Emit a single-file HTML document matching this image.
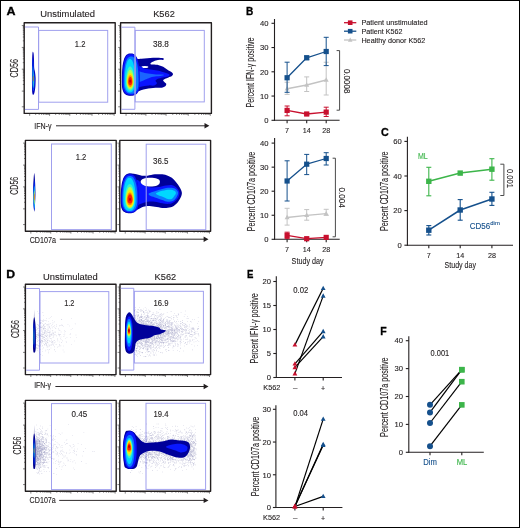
<!DOCTYPE html>
<html><head><meta charset="utf-8"><style>
html,body{margin:0;padding:0;background:#fff;}
body{width:520px;height:528px;overflow:hidden;}
svg{display:block;font-family:"Liberation Sans", sans-serif;will-change:transform;}
</style></head><body>
<svg width="520" height="528" viewBox="0 0 520 528">
<rect x="0" y="0" width="520" height="528" fill="#fff"/>
<text x="6.61" y="15.45" font-size="11" font-weight="bold" fill="#000" stroke="#000" stroke-width="0.3" textLength="9.03" lengthAdjust="spacingAndGlyphs">A</text>
<text x="246.07" y="15.3" font-size="11" font-weight="bold" fill="#000" stroke="#000" stroke-width="0.3" textLength="7.3" lengthAdjust="spacingAndGlyphs">B</text>
<text x="381.03" y="136.46" font-size="11" font-weight="bold" fill="#000" stroke="#000" stroke-width="0.3" textLength="7.75" lengthAdjust="spacingAndGlyphs">C</text>
<text x="6.34" y="278.0" font-size="11" font-weight="bold" fill="#000" stroke="#000" stroke-width="0.3" textLength="8.85" lengthAdjust="spacingAndGlyphs">D</text>
<text x="246.94" y="277.59" font-size="11" font-weight="bold" fill="#000" stroke="#000" stroke-width="0.3" textLength="6.4" lengthAdjust="spacingAndGlyphs">E</text>
<text x="380.37" y="334.73" font-size="11" font-weight="bold" fill="#000" stroke="#000" stroke-width="0.3" textLength="6.44" lengthAdjust="spacingAndGlyphs">F</text>
<text x="40.20" y="17.00" font-size="9.2" font-weight="normal" fill="#231f20" stroke="#231f20" stroke-width="0.12" text-anchor="start" textLength="54.80" lengthAdjust="spacingAndGlyphs">Unstimulated</text>
<text x="153.20" y="17.00" font-size="9.2" font-weight="normal" fill="#231f20" stroke="#231f20" stroke-width="0.12" text-anchor="start" textLength="21.60" lengthAdjust="spacingAndGlyphs">K562</text>
<path d="M21.80 25.52H24.20M21.80 47.44H24.20M21.80 69.19H24.20M21.80 91.11H24.20M21.80 106.79H24.20M22.80 40.84H24.20M22.80 36.98H24.20M22.80 34.24H24.20M22.80 32.12H24.20M22.80 30.38H24.20M22.80 28.91H24.20M22.80 27.64H24.20M22.80 26.52H24.20M22.80 62.64H24.20M22.80 58.81H24.20M22.80 56.10H24.20M22.80 53.99H24.20M22.80 52.27H24.20M22.80 50.81H24.20M22.80 49.55H24.20M22.80 48.44H24.20M22.80 84.51H24.20M22.80 80.65H24.20M22.80 77.91H24.20M22.80 75.79H24.20M22.80 74.05H24.20M22.80 72.58H24.20M22.80 71.31H24.20M22.80 70.19H24.20M29.66 113.40V115.80M49.59 113.40V115.80M69.79 113.40V115.80M92.00 113.40V115.80M114.11 113.40V115.80M35.66 113.40V114.90M39.17 113.40V114.90M41.66 113.40V114.90M43.59 113.40V114.90M45.17 113.40V114.90M46.50 113.40V114.90M47.66 113.40V114.90M48.68 113.40V114.90M55.67 113.40V114.90M59.23 113.40V114.90M61.75 113.40V114.90M63.71 113.40V114.90M65.31 113.40V114.90M66.66 113.40V114.90M67.83 113.40V114.90M68.87 113.40V114.90M76.48 113.40V114.90M80.39 113.40V114.90M83.16 113.40V114.90M85.31 113.40V114.90M87.07 113.40V114.90M88.56 113.40V114.90M89.84 113.40V114.90M90.98 113.40V114.90M98.65 113.40V114.90M102.55 113.40V114.90M105.31 113.40V114.90M107.45 113.40V114.90M109.20 113.40V114.90M110.68 113.40V114.90M111.97 113.40V114.90M113.10 113.40V114.90" stroke="#333" stroke-width="0.6" fill="none"/>
<path d="M24.20 113.40 V22.80 H115.20 V113.40 Z" fill="none" stroke="#231f20" stroke-width="1.4" stroke-linejoin="round"/>
<path d="M32.60 52.30 C32.85 51.22 33.37 52.22 33.60 53.50 C33.83 54.78 33.90 57.58 34.00 60.00 C34.10 62.42 34.03 66.00 34.20 68.00 C34.37 70.00 34.77 70.33 35.00 72.00 C35.23 73.67 35.53 75.67 35.60 78.00 C35.67 80.33 35.57 83.67 35.40 86.00 C35.23 88.33 34.93 90.53 34.60 92.00 C34.27 93.47 33.78 94.63 33.40 94.80 C33.02 94.97 32.53 94.63 32.30 93.00 C32.07 91.37 32.05 88.83 32.00 85.00 C31.95 81.17 31.98 74.17 32.00 70.00 C32.02 65.83 32.00 62.95 32.10 60.00 C32.20 57.05 32.35 53.38 32.60 52.30Z" fill="#0000b4"/>
<path d="M32.80 58.00 C32.95 58.00 33.23 60.00 33.40 62.00 C33.57 64.00 33.60 67.67 33.80 70.00 C34.00 72.33 34.43 74.00 34.60 76.00 C34.77 78.00 34.87 79.83 34.80 82.00 C34.73 84.17 34.47 87.50 34.20 89.00 C33.93 90.50 33.48 91.50 33.20 91.00 C32.92 90.50 32.63 89.17 32.50 86.00 C32.37 82.83 32.40 76.00 32.40 72.00 C32.40 68.00 32.43 64.33 32.50 62.00 C32.57 59.67 32.65 58.00 32.80 58.00Z" fill="#0a3cff"/>
<path d="M32.90 66.00 C33.05 65.67 33.28 70.00 33.50 72.00 C33.72 74.00 34.12 75.83 34.20 78.00 C34.28 80.17 34.17 83.33 34.00 85.00 C33.83 86.67 33.42 88.17 33.20 88.00 C32.98 87.83 32.80 86.33 32.70 84.00 C32.60 81.67 32.57 77.00 32.60 74.00 C32.63 71.00 32.75 66.33 32.90 66.00Z" fill="#20b8e0"/>
<ellipse cx="33.30" cy="78.50" rx="0.60" ry="3.00" fill="#908058"/>
<path d="M24.90 27.00H38.50V109.40H24.90" fill="none" stroke="#a0a0ee" stroke-width="1"/>
<rect x="38.70" y="30.40" width="69.00" height="71.80" fill="none" stroke="#a0a0ee" stroke-width="1"/>
<text x="74.80" y="46.80" font-size="8.6" font-weight="normal" fill="#231f20" stroke="#231f20" stroke-width="0.12" text-anchor="start" textLength="10.60" lengthAdjust="spacingAndGlyphs">1.2</text>
<path d="M118.20 25.52H120.60M118.20 47.44H120.60M118.20 69.19H120.60M118.20 91.11H120.60M118.20 106.79H120.60M119.20 40.84H120.60M119.20 36.98H120.60M119.20 34.24H120.60M119.20 32.12H120.60M119.20 30.38H120.60M119.20 28.91H120.60M119.20 27.64H120.60M119.20 26.52H120.60M119.20 62.64H120.60M119.20 58.81H120.60M119.20 56.10H120.60M119.20 53.99H120.60M119.20 52.27H120.60M119.20 50.81H120.60M119.20 49.55H120.60M119.20 48.44H120.60M119.20 84.51H120.60M119.20 80.65H120.60M119.20 77.91H120.60M119.20 75.79H120.60M119.20 74.05H120.60M119.20 72.58H120.60M119.20 71.31H120.60M119.20 70.19H120.60M126.05 113.40V115.80M145.93 113.40V115.80M166.09 113.40V115.80M188.25 113.40V115.80M210.31 113.40V115.80M132.03 113.40V114.90M135.54 113.40V114.90M138.02 113.40V114.90M139.95 113.40V114.90M141.52 113.40V114.90M142.85 113.40V114.90M144.01 113.40V114.90M145.02 113.40V114.90M152.00 113.40V114.90M155.55 113.40V114.90M158.07 113.40V114.90M160.02 113.40V114.90M161.62 113.40V114.90M162.97 113.40V114.90M164.14 113.40V114.90M165.17 113.40V114.90M172.76 113.40V114.90M176.66 113.40V114.90M179.43 113.40V114.90M181.58 113.40V114.90M183.33 113.40V114.90M184.81 113.40V114.90M186.10 113.40V114.90M187.23 113.40V114.90M194.89 113.40V114.90M198.77 113.40V114.90M201.53 113.40V114.90M203.67 113.40V114.90M205.42 113.40V114.90M206.89 113.40V114.90M208.17 113.40V114.90M209.30 113.40V114.90" stroke="#333" stroke-width="0.6" fill="none"/>
<path d="M120.60 113.40 V22.80 H211.40 V113.40 Z" fill="none" stroke="#231f20" stroke-width="1.4" stroke-linejoin="round"/>
<path d="M134.33 55.58 C135.53 56.30 136.01 58.11 137.21 58.65 C138.41 59.20 139.86 58.91 141.54 58.85 C143.22 58.78 145.38 58.46 147.31 58.27 C149.23 58.08 151.15 57.79 153.08 57.69 C155.00 57.60 157.32 57.63 158.85 57.69 C160.37 57.76 161.38 57.88 162.21 58.08 C163.04 58.27 163.69 58.54 163.85 58.85 C164.01 59.15 163.85 59.74 163.17 59.90 C162.50 60.06 161.01 59.73 159.81 59.81 C158.61 59.89 157.24 60.02 155.96 60.38 C154.68 60.75 153.04 61.43 152.12 62.02 C151.19 62.61 150.22 63.51 150.38 63.94 C150.54 64.38 151.67 64.41 153.08 64.62 C154.49 64.82 157.16 64.82 158.85 65.19 C160.53 65.56 161.73 66.07 163.17 66.83 C164.62 67.58 166.14 68.83 167.50 69.71 C168.86 70.59 170.43 71.39 171.35 72.12 C172.26 72.84 172.90 73.40 172.98 74.04 C173.06 74.68 172.58 75.40 171.83 75.96 C171.07 76.52 169.58 76.92 168.46 77.40 C167.34 77.88 165.98 78.32 165.10 78.85 C164.21 79.38 163.25 80.02 163.17 80.58 C163.09 81.14 164.10 81.67 164.62 82.21 C165.13 82.76 166.09 83.21 166.25 83.85 C166.41 84.49 166.17 85.45 165.58 86.06 C164.98 86.67 163.97 87.21 162.69 87.50 C161.41 87.79 159.49 87.71 157.88 87.79 C156.28 87.87 154.68 87.87 153.08 87.98 C151.47 88.09 149.87 88.19 148.27 88.46 C146.67 88.73 145.06 89.13 143.46 89.62 C141.86 90.10 140.02 90.74 138.65 91.35 C137.29 91.96 136.73 92.63 135.29 93.27 C133.85 93.91 131.84 95.51 130.00 95.19 C128.16 94.87 125.43 94.07 124.23 91.35 C123.03 88.62 122.79 83.81 122.79 78.85 C122.79 73.88 123.03 65.62 124.23 61.54 C125.43 57.45 128.32 55.32 130.00 54.33 C131.68 53.33 133.12 54.86 134.33 55.58Z" fill="#00009a"/>
<ellipse cx="144.90" cy="66.90" rx="3.40" ry="1.00" fill="#ffffff"/>
<path d="M133.85 64.42 C134.81 60.82 137.69 65.62 139.62 66.35 C141.54 67.07 143.30 68.19 145.38 68.75 C147.47 69.31 149.87 69.39 152.12 69.71 C154.36 70.03 156.76 70.19 158.85 70.67 C160.93 71.15 162.85 71.96 164.62 72.60 C166.38 73.24 168.86 73.88 169.42 74.52 C169.98 75.16 169.10 75.96 167.98 76.44 C166.86 76.92 164.38 77.00 162.69 77.40 C161.01 77.80 159.09 78.29 157.88 78.85 C156.68 79.41 155.64 80.05 155.48 80.77 C155.32 81.49 157.16 82.37 156.92 83.17 C156.68 83.97 155.32 85.21 154.04 85.58 C152.76 85.95 150.83 85.30 149.23 85.38 C147.63 85.46 146.03 85.79 144.42 86.06 C142.82 86.33 141.38 86.70 139.62 87.02 C137.85 87.34 134.81 91.75 133.85 87.98 C132.88 84.21 132.88 68.03 133.85 64.42Z" fill="#0a14ff"/>
<path d="M133.85 70.38 C134.97 68.48 138.49 71.25 140.58 71.73 C142.66 72.21 144.10 72.87 146.35 73.27 C148.59 73.67 151.47 73.93 154.04 74.13 C156.60 74.34 160.06 74.38 161.73 74.52 C163.40 74.66 164.04 74.81 164.04 75.00 C164.04 75.19 163.24 75.42 161.73 75.67 C160.22 75.93 157.08 76.17 155.00 76.54 C152.92 76.91 150.83 77.37 149.23 77.88 C147.63 78.40 146.67 79.04 145.38 79.62 C144.10 80.19 142.82 80.87 141.54 81.35 C140.26 81.83 138.97 82.20 137.69 82.50 C136.41 82.80 134.49 85.19 133.85 83.17 C133.21 81.15 132.72 72.29 133.85 70.38Z" fill="#1a64ff"/>
<path d="M139.50 82.00 L139.47 84.61 L139.38 86.26 L139.23 87.66 L139.02 88.90 L138.74 90.01 L138.41 91.00 L138.02 91.90 L137.57 92.70 L137.06 93.40 L136.48 94.01 L135.84 94.52 L135.13 94.95 L134.34 95.28 L133.44 95.51 L132.37 95.65 L130.70 95.70 L129.03 95.65 L127.96 95.51 L127.06 95.28 L126.27 94.95 L125.56 94.52 L124.92 94.01 L124.34 93.40 L123.83 92.70 L123.38 91.90 L122.99 91.00 L122.66 90.01 L122.38 88.90 L122.17 87.66 L122.02 86.26 L121.93 84.61 L121.90 82.00 L121.93 76.58 L122.02 73.13 L122.17 70.22 L122.38 67.65 L122.66 65.34 L122.99 63.27 L123.38 61.41 L123.83 59.75 L124.34 58.29 L124.92 57.02 L125.56 55.95 L126.27 55.07 L127.06 54.38 L127.96 53.89 L129.03 53.60 L130.70 53.50 L132.37 53.60 L133.44 53.89 L134.34 54.38 L135.13 55.07 L135.84 55.95 L136.48 57.02 L137.06 58.29 L137.57 59.75 L138.02 61.41 L138.41 63.27 L138.74 65.34 L139.02 67.65 L139.23 70.22 L139.38 73.13 L139.47 76.58Z" fill="#0000b0"/>
<path d="M139.50 82.00 L139.47 84.47 L139.38 86.05 L139.24 87.37 L139.04 88.55 L138.77 89.60 L138.46 90.54 L138.08 91.39 L137.65 92.15 L137.15 92.82 L136.60 93.39 L135.99 93.88 L135.30 94.29 L134.54 94.60 L133.68 94.82 L132.66 94.96 L131.05 95.00 L129.44 94.96 L128.42 94.82 L127.56 94.60 L126.80 94.29 L126.11 93.88 L125.50 93.39 L124.95 92.82 L124.45 92.15 L124.02 91.39 L123.64 90.54 L123.33 89.60 L123.06 88.55 L122.86 87.37 L122.72 86.05 L122.63 84.47 L122.60 82.00 L122.63 76.71 L122.72 73.35 L122.86 70.51 L123.06 68.00 L123.33 65.75 L123.64 63.73 L124.02 61.91 L124.45 60.30 L124.95 58.87 L125.50 57.63 L126.11 56.59 L126.80 55.73 L127.56 55.06 L128.42 54.58 L129.44 54.30 L131.05 54.20 L132.66 54.30 L133.68 54.58 L134.54 55.06 L135.30 55.73 L135.99 56.59 L136.60 57.63 L137.15 58.87 L137.65 60.30 L138.08 61.91 L138.46 63.73 L138.77 65.75 L139.04 68.00 L139.24 70.51 L139.38 73.35 L139.47 76.71Z" fill="#0a14ff"/>
<path d="M138.50 82.00 L138.47 83.84 L138.39 85.19 L138.25 86.39 L138.05 87.47 L137.80 88.47 L137.49 89.37 L137.13 90.20 L136.72 90.94 L136.26 91.60 L135.74 92.18 L135.18 92.67 L134.56 93.08 L133.88 93.39 L133.14 93.62 L132.30 93.75 L131.15 93.80 L130.00 93.75 L129.16 93.62 L128.42 93.39 L127.74 93.08 L127.12 92.67 L126.56 92.18 L126.04 91.60 L125.58 90.94 L125.17 90.20 L124.81 89.37 L124.50 88.47 L124.25 87.47 L124.05 86.39 L123.91 85.19 L123.83 83.84 L123.80 82.00 L123.83 78.02 L123.91 75.10 L124.05 72.52 L124.25 70.17 L124.50 68.03 L124.81 66.07 L125.17 64.28 L125.58 62.67 L126.04 61.25 L126.56 60.00 L127.12 58.94 L127.74 58.07 L128.42 57.38 L129.16 56.89 L130.00 56.60 L131.15 56.50 L132.30 56.60 L133.14 56.89 L133.88 57.38 L134.56 58.07 L135.18 58.94 L135.74 60.00 L136.26 61.25 L136.72 62.67 L137.13 64.28 L137.49 66.07 L137.80 68.03 L138.05 70.17 L138.25 72.52 L138.39 75.10 L138.47 78.02Z" fill="#0a7cff"/>
<path d="M135.20 82.00 L135.18 83.26 L135.11 84.35 L135.00 85.38 L134.84 86.34 L134.64 87.25 L134.40 88.10 L134.11 88.88 L133.79 89.59 L133.44 90.23 L133.05 90.79 L132.62 91.28 L132.17 91.68 L131.69 91.99 L131.18 92.22 L130.63 92.35 L130.00 92.40 L129.37 92.35 L128.82 92.22 L128.31 91.99 L127.83 91.68 L127.38 91.28 L126.95 90.79 L126.56 90.23 L126.21 89.59 L125.89 88.88 L125.60 88.10 L125.36 87.25 L125.16 86.34 L125.00 85.38 L124.89 84.35 L124.82 83.26 L124.80 82.00 L124.82 79.22 L124.89 76.79 L125.00 74.53 L125.16 72.40 L125.36 70.39 L125.60 68.52 L125.89 66.79 L126.21 65.22 L126.56 63.80 L126.95 62.55 L127.38 61.48 L127.83 60.60 L128.31 59.90 L128.82 59.40 L129.37 59.10 L130.00 59.00 L130.63 59.10 L131.18 59.40 L131.69 59.90 L132.17 60.60 L132.62 61.48 L133.05 62.55 L133.44 63.80 L133.79 65.22 L134.11 66.79 L134.40 68.52 L134.64 70.39 L134.84 72.40 L135.00 74.53 L135.11 76.79 L135.18 79.22Z" fill="#00d8ff"/>
<path d="M134.20 82.00 L134.18 82.96 L134.12 83.86 L134.03 84.71 L133.90 85.53 L133.74 86.30 L133.54 87.03 L133.31 87.70 L133.05 88.33 L132.76 88.89 L132.44 89.38 L132.10 89.81 L131.74 90.16 L131.36 90.44 L130.96 90.64 L130.55 90.76 L130.10 90.80 L129.65 90.76 L129.24 90.64 L128.84 90.44 L128.46 90.16 L128.10 89.81 L127.76 89.38 L127.44 88.89 L127.15 88.33 L126.89 87.70 L126.66 87.03 L126.46 86.30 L126.30 85.53 L126.17 84.71 L126.08 83.86 L126.02 82.96 L126.00 82.00 L126.02 80.30 L126.08 78.73 L126.17 77.23 L126.30 75.79 L126.46 74.43 L126.66 73.14 L126.89 71.95 L127.15 70.86 L127.44 69.87 L127.76 69.00 L128.10 68.25 L128.46 67.63 L128.84 67.14 L129.24 66.78 L129.65 66.57 L130.10 66.50 L130.55 66.57 L130.96 66.78 L131.36 67.14 L131.74 67.63 L132.10 68.25 L132.44 69.00 L132.76 69.87 L133.05 70.86 L133.31 71.95 L133.54 73.14 L133.74 74.43 L133.90 75.79 L134.03 77.23 L134.12 78.73 L134.18 80.30Z" fill="#3cf5c8"/>
<path d="M133.80 82.00 L133.78 82.74 L133.73 83.48 L133.64 84.21 L133.53 84.91 L133.37 85.58 L133.19 86.22 L132.98 86.82 L132.75 87.37 L132.48 87.87 L132.20 88.32 L131.90 88.70 L131.58 89.02 L131.25 89.27 L130.90 89.45 L130.55 89.56 L130.20 89.60 L129.85 89.56 L129.50 89.45 L129.15 89.27 L128.82 89.02 L128.50 88.70 L128.20 88.32 L127.92 87.87 L127.65 87.37 L127.42 86.82 L127.21 86.22 L127.03 85.58 L126.87 84.91 L126.76 84.21 L126.67 83.48 L126.62 82.74 L126.60 82.00 L126.62 80.80 L126.67 79.62 L126.76 78.46 L126.87 77.33 L127.03 76.25 L127.21 75.22 L127.42 74.26 L127.65 73.37 L127.92 72.57 L128.20 71.86 L128.50 71.24 L128.82 70.73 L129.15 70.33 L129.50 70.03 L129.85 69.86 L130.20 69.80 L130.55 69.86 L130.90 70.03 L131.25 70.33 L131.58 70.73 L131.90 71.24 L132.20 71.86 L132.48 72.57 L132.75 73.37 L132.98 74.26 L133.19 75.22 L133.37 76.25 L133.53 77.33 L133.64 78.46 L133.73 79.62 L133.78 80.80Z" fill="#a8ff5a"/>
<path d="M133.20 82.00 L133.19 82.59 L133.14 83.17 L133.07 83.74 L132.97 84.30 L132.85 84.83 L132.69 85.33 L132.52 85.81 L132.32 86.24 L132.10 86.64 L131.87 86.99 L131.61 87.29 L131.35 87.54 L131.07 87.74 L130.79 87.88 L130.49 87.97 L130.20 88.00 L129.91 87.97 L129.61 87.88 L129.33 87.74 L129.05 87.54 L128.79 87.29 L128.53 86.99 L128.30 86.64 L128.08 86.24 L127.88 85.81 L127.71 85.33 L127.55 84.83 L127.43 84.30 L127.33 83.74 L127.26 83.17 L127.21 82.59 L127.20 82.00 L127.21 81.12 L127.26 80.24 L127.33 79.39 L127.43 78.56 L127.55 77.76 L127.71 77.00 L127.88 76.29 L128.08 75.64 L128.30 75.04 L128.53 74.52 L128.79 74.06 L129.05 73.69 L129.33 73.39 L129.61 73.17 L129.91 73.04 L130.20 73.00 L130.49 73.04 L130.79 73.17 L131.07 73.39 L131.35 73.69 L131.61 74.06 L131.87 74.52 L132.10 75.04 L132.32 75.64 L132.52 76.29 L132.69 77.00 L132.85 77.76 L132.97 78.56 L133.07 79.39 L133.14 80.24 L133.19 81.12Z" fill="#ffe600"/>
<path d="M132.70 82.00 L132.69 82.48 L132.65 82.96 L132.59 83.42 L132.51 83.88 L132.41 84.31 L132.29 84.72 L132.14 85.11 L131.98 85.46 L131.80 85.79 L131.61 86.07 L131.40 86.32 L131.19 86.53 L130.96 86.69 L130.73 86.81 L130.49 86.88 L130.25 86.90 L130.01 86.88 L129.77 86.81 L129.54 86.69 L129.31 86.53 L129.10 86.32 L128.89 86.07 L128.70 85.79 L128.52 85.46 L128.36 85.11 L128.21 84.72 L128.09 84.31 L127.99 83.88 L127.91 83.42 L127.85 82.96 L127.81 82.48 L127.80 82.00 L127.81 81.33 L127.85 80.67 L127.91 80.03 L127.99 79.40 L128.09 78.79 L128.21 78.22 L128.36 77.69 L128.52 77.19 L128.70 76.74 L128.89 76.35 L129.10 76.00 L129.31 75.72 L129.54 75.49 L129.77 75.33 L130.01 75.23 L130.25 75.20 L130.49 75.23 L130.73 75.33 L130.96 75.49 L131.19 75.72 L131.40 76.00 L131.61 76.35 L131.80 76.74 L131.98 77.19 L132.14 77.69 L132.29 78.22 L132.41 78.79 L132.51 79.40 L132.59 80.03 L132.65 80.67 L132.69 81.33Z" fill="#ff8a00"/>
<path d="M132.10 82.00 L132.09 82.31 L132.06 82.62 L132.02 82.93 L131.96 83.22 L131.88 83.51 L131.79 83.78 L131.68 84.03 L131.56 84.26 L131.42 84.47 L131.28 84.66 L131.12 84.82 L130.96 84.96 L130.79 85.06 L130.61 85.14 L130.43 85.18 L130.25 85.20 L130.07 85.18 L129.89 85.14 L129.71 85.06 L129.54 84.96 L129.38 84.82 L129.22 84.66 L129.08 84.47 L128.94 84.26 L128.82 84.03 L128.71 83.78 L128.62 83.51 L128.54 83.22 L128.48 82.93 L128.44 82.62 L128.41 82.31 L128.40 82.00 L128.41 81.51 L128.44 81.02 L128.48 80.55 L128.54 80.09 L128.62 79.64 L128.71 79.22 L128.82 78.83 L128.94 78.46 L129.08 78.13 L129.22 77.84 L129.38 77.59 L129.54 77.38 L129.71 77.22 L129.89 77.10 L130.07 77.02 L130.25 77.00 L130.43 77.02 L130.61 77.10 L130.79 77.22 L130.96 77.38 L131.12 77.59 L131.28 77.84 L131.42 78.13 L131.56 78.46 L131.68 78.83 L131.79 79.22 L131.88 79.64 L131.96 80.09 L132.02 80.55 L132.06 81.02 L132.09 81.51Z" fill="#ff1a00"/>
<ellipse cx="130.20" cy="81.10" rx="1.00" ry="1.60" fill="#c00000"/>
<path d="M121.30 27.20H134.90V109.30H121.30" fill="none" stroke="#a0a0ee" stroke-width="1"/>
<rect x="135.20" y="30.40" width="69.10" height="71.50" fill="none" stroke="#a0a0ee" stroke-width="1"/>
<text x="152.90" y="46.80" font-size="8.6" font-weight="normal" fill="#231f20" stroke="#231f20" stroke-width="0.12" text-anchor="start" textLength="15.90" lengthAdjust="spacingAndGlyphs">38.8</text>
<text x="17.80" y="77.50" font-size="10.5" font-weight="normal" fill="#231f20" stroke="#231f20" stroke-width="0.12" text-anchor="start" textLength="18.70" lengthAdjust="spacingAndGlyphs" transform="rotate(-90 17.80 77.50)">CD56</text>
<text x="34.20" y="128.80" font-size="8.4" font-weight="normal" fill="#231f20" stroke="#231f20" stroke-width="0.12" text-anchor="start" textLength="17.30" lengthAdjust="spacingAndGlyphs">IFN-γ</text>
<line x1="56.00" y1="125.80" x2="205.40" y2="125.80" stroke="#231f20" stroke-width="0.95"/>
<path d="M204.50 123.10 L209.40 125.80 L204.50 128.50 Z" fill="#231f20"/>
<path d="M23.00 143.12H25.40M23.00 165.10H25.40M23.00 186.89H25.40M23.00 208.86H25.40M23.00 224.57H25.40M24.00 158.48H25.40M24.00 154.61H25.40M24.00 151.87H25.40M24.00 149.74H25.40M24.00 148.00H25.40M24.00 146.53H25.40M24.00 145.25H25.40M24.00 144.13H25.40M24.00 180.33H25.40M24.00 176.49H25.40M24.00 173.77H25.40M24.00 171.66H25.40M24.00 169.93H25.40M24.00 168.47H25.40M24.00 167.21H25.40M24.00 166.09H25.40M24.00 202.25H25.40M24.00 198.38H25.40M24.00 195.63H25.40M24.00 193.50H25.40M24.00 191.76H25.40M24.00 190.29H25.40M24.00 189.02H25.40M24.00 187.90H25.40M30.85 231.20V233.60M50.73 231.20V233.60M70.89 231.20V233.60M93.05 231.20V233.60M115.11 231.20V233.60M36.83 231.20V232.70M40.34 231.20V232.70M42.82 231.20V232.70M44.75 231.20V232.70M46.32 231.20V232.70M47.65 231.20V232.70M48.81 231.20V232.70M49.82 231.20V232.70M56.80 231.20V232.70M60.35 231.20V232.70M62.87 231.20V232.70M64.82 231.20V232.70M66.42 231.20V232.70M67.77 231.20V232.70M68.94 231.20V232.70M69.97 231.20V232.70M77.56 231.20V232.70M81.46 231.20V232.70M84.23 231.20V232.70M86.38 231.20V232.70M88.13 231.20V232.70M89.61 231.20V232.70M90.90 231.20V232.70M92.03 231.20V232.70M99.69 231.20V232.70M103.57 231.20V232.70M106.33 231.20V232.70M108.47 231.20V232.70M110.22 231.20V232.70M111.69 231.20V232.70M112.97 231.20V232.70M114.10 231.20V232.70" stroke="#333" stroke-width="0.6" fill="none"/>
<path d="M25.40 231.20 V140.40 H116.20 V231.20 Z" fill="none" stroke="#231f20" stroke-width="1.4" stroke-linejoin="round"/>
<path d="M35.40 192.40 L35.39 193.27 L35.37 194.58 L35.33 196.11 L35.28 197.76 L35.22 199.48 L35.15 201.21 L35.07 202.92 L34.97 204.56 L34.88 206.09 L34.78 207.49 L34.67 208.72 L34.57 209.77 L34.47 210.60 L34.38 211.21 L34.30 211.58 L34.25 211.70 L34.20 211.58 L34.12 211.21 L34.03 210.60 L33.93 209.77 L33.83 208.72 L33.72 207.49 L33.62 206.09 L33.53 204.56 L33.43 202.92 L33.35 201.21 L33.28 199.48 L33.22 197.76 L33.17 196.11 L33.13 194.58 L33.11 193.27 L33.10 192.40 L33.11 191.53 L33.13 190.22 L33.17 188.69 L33.22 187.04 L33.28 185.32 L33.35 183.59 L33.43 181.88 L33.53 180.24 L33.62 178.71 L33.72 177.31 L33.83 176.08 L33.93 175.03 L34.03 174.20 L34.12 173.59 L34.20 173.22 L34.25 173.10 L34.30 173.22 L34.38 173.59 L34.47 174.20 L34.57 175.03 L34.67 176.08 L34.78 177.31 L34.88 178.71 L34.97 180.24 L35.07 181.88 L35.15 183.59 L35.22 185.32 L35.28 187.04 L35.33 188.69 L35.37 190.22 L35.39 191.53Z" fill="#00009a"/>
<path d="M35.15 195.25 L35.14 196.09 L35.13 197.23 L35.10 198.50 L35.07 199.84 L35.02 201.21 L34.96 202.56 L34.90 203.88 L34.83 205.14 L34.76 206.30 L34.68 207.36 L34.60 208.28 L34.52 209.06 L34.44 209.68 L34.37 210.13 L34.30 210.41 L34.25 210.50 L34.20 210.41 L34.13 210.13 L34.06 209.68 L33.98 209.06 L33.90 208.28 L33.82 207.36 L33.74 206.30 L33.67 205.14 L33.60 203.88 L33.54 202.56 L33.48 201.21 L33.43 199.84 L33.40 198.50 L33.37 197.23 L33.36 196.09 L33.35 195.25 L33.36 194.41 L33.37 193.27 L33.40 192.00 L33.43 190.66 L33.48 189.29 L33.54 187.94 L33.60 186.62 L33.67 185.36 L33.74 184.20 L33.82 183.14 L33.90 182.22 L33.98 181.44 L34.06 180.82 L34.13 180.37 L34.20 180.09 L34.25 180.00 L34.30 180.09 L34.37 180.37 L34.44 180.82 L34.52 181.44 L34.60 182.22 L34.68 183.14 L34.76 184.20 L34.83 185.36 L34.90 186.62 L34.96 187.94 L35.02 189.29 L35.07 190.66 L35.10 192.00 L35.13 193.27 L35.14 194.41Z" fill="#0030ff"/>
<path d="M34.95 197.25 L34.95 197.98 L34.93 198.89 L34.91 199.88 L34.89 200.88 L34.85 201.89 L34.81 202.88 L34.77 203.84 L34.72 204.73 L34.66 205.56 L34.60 206.30 L34.54 206.95 L34.48 207.50 L34.41 207.93 L34.35 208.25 L34.30 208.44 L34.25 208.50 L34.20 208.44 L34.15 208.25 L34.09 207.93 L34.02 207.50 L33.96 206.95 L33.90 206.30 L33.84 205.56 L33.78 204.73 L33.73 203.84 L33.69 202.88 L33.65 201.89 L33.61 200.88 L33.59 199.88 L33.57 198.89 L33.55 197.98 L33.55 197.25 L33.55 196.52 L33.57 195.61 L33.59 194.62 L33.61 193.62 L33.65 192.61 L33.69 191.62 L33.73 190.66 L33.78 189.77 L33.84 188.94 L33.90 188.20 L33.96 187.55 L34.02 187.00 L34.09 186.57 L34.15 186.25 L34.20 186.06 L34.25 186.00 L34.30 186.06 L34.35 186.25 L34.41 186.57 L34.48 187.00 L34.54 187.55 L34.60 188.20 L34.66 188.94 L34.72 189.77 L34.77 190.66 L34.81 191.62 L34.85 192.61 L34.89 193.62 L34.91 194.62 L34.93 195.61 L34.95 196.52Z" fill="#10d0ff"/>
<path d="M34.75 197.50 L34.75 198.03 L34.74 198.64 L34.73 199.27 L34.71 199.91 L34.68 200.54 L34.66 201.14 L34.63 201.72 L34.59 202.26 L34.55 202.76 L34.51 203.20 L34.47 203.59 L34.42 203.91 L34.38 204.17 L34.33 204.35 L34.29 204.46 L34.25 204.50 L34.21 204.46 L34.17 204.35 L34.12 204.17 L34.08 203.91 L34.03 203.59 L33.99 203.20 L33.95 202.76 L33.91 202.26 L33.87 201.72 L33.84 201.14 L33.82 200.54 L33.79 199.91 L33.77 199.27 L33.76 198.64 L33.75 198.03 L33.75 197.50 L33.75 196.97 L33.76 196.36 L33.77 195.73 L33.79 195.09 L33.82 194.46 L33.84 193.86 L33.87 193.28 L33.91 192.74 L33.95 192.24 L33.99 191.80 L34.03 191.41 L34.08 191.09 L34.12 190.83 L34.17 190.65 L34.21 190.54 L34.25 190.50 L34.29 190.54 L34.33 190.65 L34.38 190.83 L34.42 191.09 L34.47 191.41 L34.51 191.80 L34.55 192.24 L34.59 192.74 L34.63 193.28 L34.66 193.86 L34.68 194.46 L34.71 195.09 L34.73 195.73 L34.74 196.36 L34.75 196.97Z" fill="#b0f050"/>
<path d="M34.60 197.00 L34.60 197.27 L34.59 197.57 L34.58 197.89 L34.57 198.20 L34.55 198.52 L34.54 198.82 L34.51 199.11 L34.49 199.38 L34.46 199.63 L34.43 199.85 L34.40 200.04 L34.37 200.21 L34.34 200.33 L34.31 200.43 L34.28 200.48 L34.25 200.50 L34.22 200.48 L34.19 200.43 L34.16 200.33 L34.13 200.21 L34.10 200.04 L34.07 199.85 L34.04 199.63 L34.01 199.38 L33.99 199.11 L33.96 198.82 L33.95 198.52 L33.93 198.20 L33.92 197.89 L33.91 197.57 L33.90 197.27 L33.90 197.00 L33.90 196.73 L33.91 196.43 L33.92 196.11 L33.93 195.80 L33.95 195.48 L33.96 195.18 L33.99 194.89 L34.01 194.62 L34.04 194.37 L34.07 194.15 L34.10 193.96 L34.13 193.79 L34.16 193.67 L34.19 193.57 L34.22 193.52 L34.25 193.50 L34.28 193.52 L34.31 193.57 L34.34 193.67 L34.37 193.79 L34.40 193.96 L34.43 194.15 L34.46 194.37 L34.49 194.62 L34.51 194.89 L34.54 195.18 L34.55 195.48 L34.57 195.80 L34.58 196.11 L34.59 196.43 L34.60 196.73Z" fill="#ff5a00"/>
<rect x="51.50" y="144.00" width="59.80" height="85.60" fill="none" stroke="#a0a0ee" stroke-width="1"/>
<text x="75.70" y="160.00" font-size="8.6" font-weight="normal" fill="#231f20" stroke="#231f20" stroke-width="0.12" text-anchor="start" textLength="10.60" lengthAdjust="spacingAndGlyphs">1.2</text>
<path d="M117.40 143.12H119.80M117.40 165.10H119.80M117.40 186.89H119.80M117.40 208.86H119.80M117.40 224.57H119.80M118.40 158.48H119.80M118.40 154.61H119.80M118.40 151.87H119.80M118.40 149.74H119.80M118.40 148.00H119.80M118.40 146.53H119.80M118.40 145.25H119.80M118.40 144.13H119.80M118.40 180.33H119.80M118.40 176.49H119.80M118.40 173.77H119.80M118.40 171.66H119.80M118.40 169.93H119.80M118.40 168.47H119.80M118.40 167.21H119.80M118.40 166.09H119.80M118.40 202.25H119.80M118.40 198.38H119.80M118.40 195.63H119.80M118.40 193.50H119.80M118.40 191.76H119.80M118.40 190.29H119.80M118.40 189.02H119.80M118.40 187.90H119.80M125.25 231.20V233.60M145.13 231.20V233.60M165.29 231.20V233.60M187.45 231.20V233.60M209.51 231.20V233.60M131.23 231.20V232.70M134.74 231.20V232.70M137.22 231.20V232.70M139.15 231.20V232.70M140.72 231.20V232.70M142.05 231.20V232.70M143.21 231.20V232.70M144.22 231.20V232.70M151.20 231.20V232.70M154.75 231.20V232.70M157.27 231.20V232.70M159.22 231.20V232.70M160.82 231.20V232.70M162.17 231.20V232.70M163.34 231.20V232.70M164.37 231.20V232.70M171.96 231.20V232.70M175.86 231.20V232.70M178.63 231.20V232.70M180.78 231.20V232.70M182.53 231.20V232.70M184.01 231.20V232.70M185.30 231.20V232.70M186.43 231.20V232.70M194.09 231.20V232.70M197.97 231.20V232.70M200.73 231.20V232.70M202.87 231.20V232.70M204.62 231.20V232.70M206.09 231.20V232.70M207.37 231.20V232.70M208.50 231.20V232.70" stroke="#333" stroke-width="0.6" fill="none"/>
<path d="M119.80 231.20 V140.40 H210.60 V231.20 Z" fill="none" stroke="#231f20" stroke-width="1.4" stroke-linejoin="round"/>
<path d="M126.30 174.90 C127.59 173.76 129.22 173.70 130.92 173.61 C132.61 173.52 134.61 174.01 136.45 174.35 C138.30 174.69 140.14 175.42 141.99 175.64 C143.83 175.85 145.37 175.85 147.52 175.64 C149.67 175.42 152.44 174.56 154.90 174.35 C157.36 174.13 160.13 174.13 162.28 174.35 C164.43 174.56 166.22 175.05 167.82 175.64 C169.41 176.22 170.49 176.75 171.87 177.85 C173.26 178.96 174.80 180.68 176.12 182.28 C177.44 183.88 178.85 185.76 179.81 187.45 C180.76 189.14 181.65 190.83 181.84 192.43 C182.02 194.03 181.53 195.50 180.92 197.04 C180.30 198.58 179.35 200.18 178.15 201.65 C176.95 203.13 175.44 204.88 173.72 205.90 C172.00 206.91 169.72 207.40 167.82 207.74 C165.91 208.08 164.43 208.08 162.28 207.93 C160.13 207.77 157.36 207.13 154.90 206.82 C152.44 206.51 149.67 205.99 147.52 206.08 C145.37 206.17 143.83 206.67 141.99 207.37 C140.14 208.08 138.30 209.46 136.45 210.32 C134.61 211.19 132.76 212.20 130.92 212.54 C129.07 212.88 126.89 212.94 125.38 212.35 C123.87 211.77 122.58 210.97 121.87 209.03 C121.17 207.10 121.14 203.96 121.14 200.73 C121.14 197.50 121.54 193.04 121.87 189.66 C122.21 186.28 122.43 182.90 123.17 180.44 C123.90 177.98 125.01 176.04 126.30 174.90Z" fill="#00009a"/>
<path d="M140.6 182.2 C140.6 178.8 145.0 177.7 150.2 177.7 C155.8 177.7 159.9 178.7 159.9 181.7 C159.9 185.0 155.8 186.5 150.2 186.5 C145.0 186.5 140.6 185.4 140.6 182.2Z" fill="#ffffff"/>
<path d="M136.45 180.80 C137.83 177.67 141.37 184.49 143.83 185.60 C146.29 186.71 148.75 187.20 151.21 187.45 C153.67 187.69 156.13 187.38 158.59 187.08 C161.05 186.77 163.66 185.91 165.97 185.60 C168.28 185.29 170.58 184.80 172.43 185.23 C174.27 185.66 175.87 186.95 177.04 188.18 C178.21 189.41 179.25 191.01 179.44 192.61 C179.62 194.21 178.98 196.27 178.15 197.78 C177.32 199.29 176.00 200.64 174.46 201.65 C172.92 202.67 170.95 203.59 168.92 203.87 C166.89 204.14 164.62 203.65 162.28 203.31 C159.94 202.98 157.36 202.08 154.90 201.84 C152.44 201.59 149.98 201.47 147.52 201.84 C145.06 202.21 142.14 203.62 140.14 204.05 C138.14 204.48 136.14 208.30 135.53 204.42 C134.91 200.55 135.07 183.94 136.45 180.80Z" fill="#0a14ff"/>
<path d="M149.00 193.35 C149.86 192.61 152.69 191.87 154.90 191.14 C157.11 190.40 159.82 189.48 162.28 188.92 C164.74 188.37 167.51 187.85 169.66 187.82 C171.81 187.78 173.78 187.94 175.20 188.74 C176.61 189.54 177.90 191.23 178.15 192.61 C178.39 194.00 177.47 195.69 176.67 197.04 C175.87 198.39 174.83 199.93 173.35 200.73 C171.87 201.53 169.66 201.96 167.82 201.84 C165.97 201.71 164.43 200.73 162.28 199.99 C160.13 199.25 156.99 198.15 154.90 197.41 C152.81 196.67 150.72 196.24 149.73 195.56 C148.75 194.89 148.14 194.09 149.00 193.35Z" fill="#0a7cff"/>
<path d="M156.01 193.35 C156.56 192.55 160.00 191.38 162.28 190.77 C164.56 190.15 167.63 189.66 169.66 189.66 C171.69 189.66 173.41 190.15 174.46 190.77 C175.50 191.38 176.00 192.43 175.93 193.35 C175.87 194.27 174.77 195.38 174.09 196.30 C173.41 197.23 172.92 198.42 171.87 198.89 C170.83 199.35 169.17 199.35 167.82 199.07 C166.46 198.79 165.23 197.81 163.76 197.23 C162.28 196.64 160.25 196.21 158.96 195.56 C157.67 194.92 155.45 194.15 156.01 193.35Z" fill="#00d8ff"/>
<path d="M138.60 200.00 L138.57 202.23 L138.47 203.78 L138.30 205.14 L138.07 206.35 L137.78 207.46 L137.42 208.46 L136.99 209.37 L136.51 210.19 L135.96 210.91 L135.34 211.54 L134.67 212.07 L133.92 212.51 L133.11 212.86 L132.20 213.10 L131.15 213.25 L129.65 213.30 L128.15 213.25 L127.10 213.10 L126.19 212.86 L125.38 212.51 L124.63 212.07 L123.96 211.54 L123.34 210.91 L122.79 210.19 L122.31 209.37 L121.88 208.46 L121.52 207.46 L121.23 206.35 L121.00 205.14 L120.83 203.78 L120.73 202.23 L120.70 200.00 L120.73 195.58 L120.83 192.49 L121.00 189.80 L121.23 187.39 L121.52 185.20 L121.88 183.20 L122.31 181.40 L122.79 179.78 L123.34 178.34 L123.96 177.09 L124.63 176.03 L125.38 175.16 L126.19 174.48 L127.10 173.99 L128.15 173.70 L129.65 173.60 L131.15 173.70 L132.20 173.99 L133.11 174.48 L133.92 175.16 L134.67 176.03 L135.34 177.09 L135.96 178.34 L136.51 179.78 L136.99 181.40 L137.42 183.20 L137.78 185.20 L138.07 187.39 L138.30 189.80 L138.47 192.49 L138.57 195.58Z" fill="#0000b0"/>
<path d="M138.60 200.00 L138.57 202.11 L138.47 203.58 L138.31 204.87 L138.09 206.02 L137.81 207.07 L137.46 208.02 L137.05 208.88 L136.59 209.65 L136.06 210.34 L135.47 210.93 L134.82 211.44 L134.11 211.86 L133.32 212.18 L132.45 212.41 L131.44 212.55 L130.00 212.60 L128.56 212.55 L127.55 212.41 L126.68 212.18 L125.89 211.86 L125.18 211.44 L124.53 210.93 L123.94 210.34 L123.41 209.65 L122.95 208.88 L122.54 208.02 L122.19 207.07 L121.91 206.02 L121.69 204.87 L121.53 203.58 L121.43 202.11 L121.40 200.00 L121.43 195.69 L121.53 192.69 L121.69 190.08 L121.91 187.72 L122.19 185.59 L122.54 183.65 L122.95 181.89 L123.41 180.31 L123.94 178.92 L124.53 177.70 L125.18 176.67 L125.89 175.82 L126.68 175.16 L127.55 174.68 L128.56 174.40 L130.00 174.30 L131.44 174.40 L132.45 174.68 L133.32 175.16 L134.11 175.82 L134.82 176.67 L135.47 177.70 L136.06 178.92 L136.59 180.31 L137.05 181.89 L137.46 183.65 L137.81 185.59 L138.09 187.72 L138.31 190.08 L138.47 192.69 L138.57 195.69Z" fill="#0a14ff"/>
<path d="M137.40 200.00 L137.37 201.67 L137.28 202.97 L137.13 204.14 L136.92 205.21 L136.65 206.20 L136.33 207.11 L135.95 207.94 L135.52 208.69 L135.03 209.36 L134.50 209.95 L133.91 210.45 L133.27 210.86 L132.58 211.18 L131.82 211.41 L130.98 211.55 L129.90 211.60 L128.82 211.55 L127.98 211.41 L127.22 211.18 L126.53 210.86 L125.89 210.45 L125.30 209.95 L124.77 209.36 L124.28 208.69 L123.85 207.94 L123.47 207.11 L123.15 206.20 L122.88 205.21 L122.67 204.14 L122.52 202.97 L122.43 201.67 L122.40 200.00 L122.43 196.54 L122.52 193.85 L122.67 191.44 L122.88 189.22 L123.15 187.18 L123.47 185.29 L123.85 183.57 L124.28 182.02 L124.77 180.63 L125.30 179.42 L125.89 178.39 L126.53 177.53 L127.22 176.86 L127.98 176.38 L128.82 176.10 L129.90 176.00 L130.98 176.10 L131.82 176.38 L132.58 176.86 L133.27 177.53 L133.91 178.39 L134.50 179.42 L135.03 180.63 L135.52 182.02 L135.95 183.57 L136.33 185.29 L136.65 187.18 L136.92 189.22 L137.13 191.44 L137.28 193.85 L137.37 196.54Z" fill="#0a7cff"/>
<path d="M135.60 200.00 L135.57 201.32 L135.49 202.47 L135.36 203.54 L135.18 204.55 L134.94 205.50 L134.66 206.39 L134.33 207.21 L133.95 207.95 L133.53 208.63 L133.07 209.22 L132.58 209.72 L132.05 210.14 L131.48 210.47 L130.88 210.71 L130.24 210.85 L129.50 210.90 L128.76 210.85 L128.12 210.71 L127.52 210.47 L126.95 210.14 L126.42 209.72 L125.93 209.22 L125.47 208.63 L125.05 207.95 L124.67 207.21 L124.34 206.39 L124.06 205.50 L123.82 204.55 L123.64 203.54 L123.51 202.47 L123.43 201.32 L123.40 200.00 L123.43 197.30 L123.51 194.95 L123.64 192.76 L123.82 190.69 L124.06 188.74 L124.34 186.93 L124.67 185.26 L125.05 183.73 L125.47 182.35 L125.93 181.14 L126.42 180.11 L126.95 179.25 L127.52 178.57 L128.12 178.09 L128.76 177.80 L129.50 177.70 L130.24 177.80 L130.88 178.09 L131.48 178.57 L132.05 179.25 L132.58 180.11 L133.07 181.14 L133.53 182.35 L133.95 183.73 L134.33 185.26 L134.66 186.93 L134.94 188.74 L135.18 190.69 L135.36 192.76 L135.49 194.95 L135.57 197.30Z" fill="#00d8ff"/>
<path d="M134.60 200.00 L134.58 200.99 L134.51 201.90 L134.40 202.77 L134.25 203.61 L134.06 204.40 L133.83 205.14 L133.56 205.83 L133.25 206.47 L132.91 207.04 L132.54 207.55 L132.15 207.98 L131.72 208.35 L131.28 208.63 L130.81 208.84 L130.33 208.96 L129.80 209.00 L129.27 208.96 L128.79 208.84 L128.32 208.63 L127.88 208.35 L127.45 207.98 L127.06 207.55 L126.69 207.04 L126.35 206.47 L126.04 205.83 L125.77 205.14 L125.54 204.40 L125.35 203.61 L125.20 202.77 L125.09 201.90 L125.02 200.99 L125.00 200.00 L125.02 198.26 L125.09 196.65 L125.20 195.10 L125.35 193.63 L125.54 192.23 L125.77 190.92 L126.04 189.69 L126.35 188.57 L126.69 187.56 L127.06 186.66 L127.45 185.89 L127.88 185.25 L128.32 184.75 L128.79 184.39 L129.27 184.17 L129.80 184.10 L130.33 184.17 L130.81 184.39 L131.28 184.75 L131.72 185.25 L132.15 185.89 L132.54 186.66 L132.91 187.56 L133.25 188.57 L133.56 189.69 L133.83 190.92 L134.06 192.23 L134.25 193.63 L134.40 195.10 L134.51 196.65 L134.58 198.26Z" fill="#3cf5c8"/>
<path d="M134.10 200.00 L134.08 200.78 L134.02 201.56 L133.92 202.32 L133.78 203.06 L133.60 203.77 L133.39 204.44 L133.15 205.08 L132.87 205.66 L132.56 206.18 L132.23 206.65 L131.88 207.06 L131.51 207.39 L131.12 207.66 L130.72 207.85 L130.31 207.96 L129.90 208.00 L129.49 207.96 L129.08 207.85 L128.68 207.66 L128.29 207.39 L127.92 207.06 L127.57 206.65 L127.24 206.18 L126.93 205.66 L126.65 205.08 L126.41 204.44 L126.20 203.77 L126.02 203.06 L125.88 202.32 L125.78 201.56 L125.72 200.78 L125.70 200.00 L125.72 198.73 L125.78 197.46 L125.88 196.23 L126.02 195.03 L126.20 193.87 L126.41 192.78 L126.65 191.75 L126.93 190.81 L127.24 189.95 L127.57 189.19 L127.92 188.54 L128.29 187.99 L128.68 187.56 L129.08 187.25 L129.49 187.06 L129.90 187.00 L130.31 187.06 L130.72 187.25 L131.12 187.56 L131.51 187.99 L131.88 188.54 L132.23 189.19 L132.56 189.95 L132.87 190.81 L133.15 191.75 L133.39 192.78 L133.60 193.87 L133.78 195.03 L133.92 196.23 L134.02 197.46 L134.08 198.73Z" fill="#a8ff5a"/>
<path d="M133.70 200.00 L133.68 200.71 L133.63 201.40 L133.54 202.09 L133.42 202.76 L133.26 203.39 L133.08 204.00 L132.86 204.57 L132.62 205.09 L132.35 205.57 L132.06 205.99 L131.74 206.35 L131.42 206.65 L131.07 206.89 L130.72 207.06 L130.36 207.17 L130.00 207.20 L129.64 207.17 L129.28 207.06 L128.93 206.89 L128.58 206.65 L128.26 206.35 L127.94 205.99 L127.65 205.57 L127.38 205.09 L127.14 204.57 L126.92 204.00 L126.74 203.39 L126.58 202.76 L126.46 202.09 L126.37 201.40 L126.32 200.71 L126.30 200.00 L126.32 198.99 L126.37 197.99 L126.46 197.01 L126.58 196.06 L126.74 195.14 L126.92 194.28 L127.14 193.47 L127.38 192.72 L127.65 192.04 L127.94 191.44 L128.26 190.92 L128.58 190.48 L128.93 190.14 L129.28 189.90 L129.64 189.75 L130.00 189.70 L130.36 189.75 L130.72 189.90 L131.07 190.14 L131.42 190.48 L131.74 190.92 L132.06 191.44 L132.35 192.04 L132.62 192.72 L132.86 193.47 L133.08 194.28 L133.26 195.14 L133.42 196.06 L133.54 197.01 L133.63 197.99 L133.68 198.99Z" fill="#ffe600"/>
<path d="M132.80 200.00 L132.79 200.52 L132.74 201.03 L132.67 201.54 L132.58 202.03 L132.45 202.50 L132.30 202.94 L132.13 203.36 L131.94 203.75 L131.72 204.10 L131.49 204.41 L131.24 204.67 L130.98 204.90 L130.71 205.07 L130.43 205.20 L130.14 205.27 L129.85 205.30 L129.56 205.27 L129.27 205.20 L128.99 205.07 L128.72 204.90 L128.46 204.67 L128.21 204.41 L127.98 204.10 L127.76 203.75 L127.57 203.36 L127.40 202.94 L127.25 202.50 L127.12 202.03 L127.03 201.54 L126.96 201.03 L126.91 200.52 L126.90 200.00 L126.91 199.26 L126.96 198.52 L127.03 197.79 L127.12 197.09 L127.25 196.42 L127.40 195.78 L127.57 195.18 L127.76 194.63 L127.98 194.13 L128.21 193.68 L128.46 193.30 L128.72 192.98 L128.99 192.73 L129.27 192.55 L129.56 192.44 L129.85 192.40 L130.14 192.44 L130.43 192.55 L130.71 192.73 L130.98 192.98 L131.24 193.30 L131.49 193.68 L131.72 194.13 L131.94 194.63 L132.13 195.18 L132.30 195.78 L132.45 196.42 L132.58 197.09 L132.67 197.79 L132.74 198.52 L132.79 199.26Z" fill="#ff8a00"/>
<path d="M132.40 200.00 L132.39 200.34 L132.35 200.68 L132.30 201.02 L132.22 201.34 L132.12 201.65 L132.00 201.94 L131.86 202.22 L131.70 202.47 L131.52 202.71 L131.33 202.91 L131.13 203.09 L130.92 203.23 L130.70 203.35 L130.47 203.43 L130.24 203.48 L130.00 203.50 L129.76 203.48 L129.53 203.43 L129.30 203.35 L129.08 203.23 L128.87 203.09 L128.67 202.91 L128.48 202.71 L128.30 202.47 L128.14 202.22 L128.00 201.94 L127.88 201.65 L127.78 201.34 L127.70 201.02 L127.65 200.68 L127.61 200.34 L127.60 200.00 L127.61 199.44 L127.65 198.89 L127.70 198.35 L127.78 197.82 L127.88 197.31 L128.00 196.83 L128.14 196.38 L128.30 195.97 L128.48 195.59 L128.67 195.26 L128.87 194.97 L129.08 194.73 L129.30 194.55 L129.53 194.41 L129.76 194.33 L130.00 194.30 L130.24 194.33 L130.47 194.41 L130.70 194.55 L130.92 194.73 L131.13 194.97 L131.33 195.26 L131.52 195.59 L131.70 195.97 L131.86 196.38 L132.00 196.83 L132.12 197.31 L132.22 197.82 L132.30 198.35 L132.35 198.89 L132.39 199.44Z" fill="#ff1a00"/>
<ellipse cx="130.00" cy="199.30" rx="1.00" ry="1.60" fill="#c00000"/>
<rect x="146.20" y="144.20" width="59.60" height="85.50" fill="none" stroke="#a0a0ee" stroke-width="1"/>
<text x="153.00" y="164.20" font-size="8.6" font-weight="normal" fill="#231f20" stroke="#231f20" stroke-width="0.12" text-anchor="start" textLength="15.50" lengthAdjust="spacingAndGlyphs">36.5</text>
<text x="17.90" y="194.70" font-size="10.5" font-weight="normal" fill="#231f20" stroke="#231f20" stroke-width="0.12" text-anchor="start" textLength="17.90" lengthAdjust="spacingAndGlyphs" transform="rotate(-90 17.90 194.70)">CD56</text>
<text x="29.70" y="242.90" font-size="8.6" font-weight="normal" fill="#231f20" stroke="#231f20" stroke-width="0.12" text-anchor="start" textLength="26.30" lengthAdjust="spacingAndGlyphs">CD107a</text>
<line x1="59.80" y1="239.20" x2="204.50" y2="239.20" stroke="#231f20" stroke-width="0.95"/>
<path d="M203.60 236.50 L208.50 239.20 L203.60 241.90 Z" fill="#231f20"/>
<text x="43.10" y="279.80" font-size="9.2" font-weight="normal" fill="#231f20" stroke="#231f20" stroke-width="0.12" text-anchor="start" textLength="54.70" lengthAdjust="spacingAndGlyphs">Unstimulated</text>
<text x="154.60" y="279.80" font-size="9.2" font-weight="normal" fill="#231f20" stroke="#231f20" stroke-width="0.12" text-anchor="start" textLength="21.60" lengthAdjust="spacingAndGlyphs">K562</text>
<path d="M23.00 287.01H25.40M23.00 308.86H25.40M23.00 330.53H25.40M23.00 352.39H25.40M23.00 368.01H25.40M24.00 302.28H25.40M24.00 298.44H25.40M24.00 295.71H25.40M24.00 293.59H25.40M24.00 291.86H25.40M24.00 290.39H25.40M24.00 289.13H25.40M24.00 288.01H25.40M24.00 324.01H25.40M24.00 320.19H25.40M24.00 317.49H25.40M24.00 315.39H25.40M24.00 313.67H25.40M24.00 312.22H25.40M24.00 310.96H25.40M24.00 309.85H25.40M24.00 345.81H25.40M24.00 341.96H25.40M24.00 339.23H25.40M24.00 337.11H25.40M24.00 335.38H25.40M24.00 333.92H25.40M24.00 332.65H25.40M24.00 331.53H25.40M30.84 374.60V377.00M50.68 374.60V377.00M70.79 374.60V377.00M92.90 374.60V377.00M114.91 374.60V377.00M36.81 374.60V376.10M40.30 374.60V376.10M42.78 374.60V376.10M44.70 374.60V376.10M46.28 374.60V376.10M47.60 374.60V376.10M48.75 374.60V376.10M49.77 374.60V376.10M56.73 374.60V376.10M60.27 374.60V376.10M62.79 374.60V376.10M64.74 374.60V376.10M66.33 374.60V376.10M67.68 374.60V376.10M68.84 374.60V376.10M69.87 374.60V376.10M77.45 374.60V376.10M81.34 374.60V376.10M84.10 374.60V376.10M86.24 374.60V376.10M87.99 374.60V376.10M89.47 374.60V376.10M90.75 374.60V376.10M91.89 374.60V376.10M99.52 374.60V376.10M103.40 374.60V376.10M106.15 374.60V376.10M108.29 374.60V376.10M110.03 374.60V376.10M111.50 374.60V376.10M112.78 374.60V376.10M113.91 374.60V376.10" stroke="#333" stroke-width="0.6" fill="none"/>
<path d="M25.40 374.60 V284.30 H116.00 V374.60 Z" fill="none" stroke="#231f20" stroke-width="1.4" stroke-linejoin="round"/>
<path d="M26.10 288.50H39.50V370.20H26.10" fill="none" stroke="#a0a0ee" stroke-width="1"/>
<rect x="40.00" y="291.60" width="68.80" height="71.40" fill="none" stroke="#a0a0ee" stroke-width="1"/>
<path d="M54.0 346.6h0.55v0.55h-0.55zM36.9 328.9h0.55v0.55h-0.55zM51.3 335.3h0.55v0.55h-0.55zM50.3 323.5h0.55v0.55h-0.55zM38.8 336.1h0.55v0.55h-0.55zM43.7 327.7h0.55v0.55h-0.55zM36.1 334.5h0.55v0.55h-0.55zM57.1 339.3h0.55v0.55h-0.55zM40.5 354.1h0.55v0.55h-0.55zM38.8 333.8h0.55v0.55h-0.55zM53.3 336.6h0.55v0.55h-0.55zM48.7 332.1h0.55v0.55h-0.55zM39.1 343.2h0.55v0.55h-0.55zM45.7 336.0h0.55v0.55h-0.55zM51.2 338.6h0.55v0.55h-0.55zM37.1 340.8h0.55v0.55h-0.55zM39.0 343.7h0.55v0.55h-0.55zM36.7 336.6h0.55v0.55h-0.55zM45.3 326.3h0.55v0.55h-0.55zM41.6 331.0h0.55v0.55h-0.55zM63.7 334.3h0.55v0.55h-0.55zM45.1 340.0h0.55v0.55h-0.55zM39.9 322.6h0.55v0.55h-0.55zM49.5 331.7h0.55v0.55h-0.55zM46.1 324.6h0.55v0.55h-0.55zM42.1 345.1h0.55v0.55h-0.55zM56.0 324.6h0.55v0.55h-0.55zM54.7 334.6h0.55v0.55h-0.55zM46.2 336.3h0.55v0.55h-0.55zM40.2 327.1h0.55v0.55h-0.55zM44.2 343.9h0.55v0.55h-0.55zM42.1 323.5h0.55v0.55h-0.55zM46.6 341.1h0.55v0.55h-0.55zM60.3 334.3h0.55v0.55h-0.55zM49.9 334.0h0.55v0.55h-0.55zM39.4 335.1h0.55v0.55h-0.55zM57.0 338.4h0.55v0.55h-0.55zM54.7 333.9h0.55v0.55h-0.55zM42.7 338.0h0.55v0.55h-0.55zM75.7 334.7h0.55v0.55h-0.55zM38.2 325.1h0.55v0.55h-0.55zM42.5 330.5h0.55v0.55h-0.55zM70.4 333.3h0.55v0.55h-0.55zM49.7 330.8h0.55v0.55h-0.55zM38.1 345.0h0.55v0.55h-0.55zM37.4 334.8h0.55v0.55h-0.55zM41.4 320.5h0.55v0.55h-0.55zM53.4 326.4h0.55v0.55h-0.55zM42.1 326.0h0.55v0.55h-0.55zM49.7 331.8h0.55v0.55h-0.55zM62.5 340.6h0.55v0.55h-0.55zM44.5 332.7h0.55v0.55h-0.55zM52.1 334.7h0.55v0.55h-0.55zM44.0 340.8h0.55v0.55h-0.55zM55.0 332.3h0.55v0.55h-0.55zM47.8 329.3h0.55v0.55h-0.55zM46.0 336.0h0.55v0.55h-0.55zM44.2 344.5h0.55v0.55h-0.55zM52.1 324.0h0.55v0.55h-0.55zM43.5 320.9h0.55v0.55h-0.55zM36.9 350.4h0.55v0.55h-0.55zM38.7 332.0h0.55v0.55h-0.55zM38.4 335.1h0.55v0.55h-0.55zM36.4 328.9h0.55v0.55h-0.55zM51.1 342.1h0.55v0.55h-0.55zM39.0 337.5h0.55v0.55h-0.55zM45.2 343.3h0.55v0.55h-0.55zM41.5 340.6h0.55v0.55h-0.55zM39.7 326.4h0.55v0.55h-0.55zM42.9 343.2h0.55v0.55h-0.55zM49.7 336.2h0.55v0.55h-0.55zM43.9 337.5h0.55v0.55h-0.55zM59.3 345.8h0.55v0.55h-0.55zM45.6 334.7h0.55v0.55h-0.55zM56.3 325.9h0.55v0.55h-0.55zM38.6 335.2h0.55v0.55h-0.55zM49.5 345.1h0.55v0.55h-0.55zM47.7 345.6h0.55v0.55h-0.55zM43.7 326.0h0.55v0.55h-0.55zM41.0 325.8h0.55v0.55h-0.55zM39.4 346.4h0.55v0.55h-0.55zM50.5 341.4h0.55v0.55h-0.55zM44.6 345.2h0.55v0.55h-0.55zM47.0 337.4h0.55v0.55h-0.55zM64.0 331.7h0.55v0.55h-0.55zM45.6 349.8h0.55v0.55h-0.55zM48.3 352.6h0.55v0.55h-0.55zM36.6 326.7h0.55v0.55h-0.55zM36.0 336.0h0.55v0.55h-0.55zM38.8 333.5h0.55v0.55h-0.55zM51.1 316.4h0.55v0.55h-0.55zM43.8 332.9h0.55v0.55h-0.55zM61.5 319.1h0.55v0.55h-0.55zM40.8 325.9h0.55v0.55h-0.55zM45.3 340.1h0.55v0.55h-0.55zM41.8 346.5h0.55v0.55h-0.55zM44.4 337.1h0.55v0.55h-0.55zM52.4 342.2h0.55v0.55h-0.55zM40.7 344.0h0.55v0.55h-0.55zM48.9 349.4h0.55v0.55h-0.55zM38.2 334.1h0.55v0.55h-0.55zM39.8 341.8h0.55v0.55h-0.55zM60.4 333.9h0.55v0.55h-0.55zM41.1 339.7h0.55v0.55h-0.55zM48.2 321.4h0.55v0.55h-0.55zM47.7 332.0h0.55v0.55h-0.55zM51.8 326.8h0.55v0.55h-0.55zM76.5 337.3h0.55v0.55h-0.55zM38.2 347.8h0.55v0.55h-0.55zM43.4 337.5h0.55v0.55h-0.55zM44.2 332.1h0.55v0.55h-0.55zM37.1 324.2h0.55v0.55h-0.55zM43.3 328.6h0.55v0.55h-0.55zM42.2 340.6h0.55v0.55h-0.55zM48.8 326.9h0.55v0.55h-0.55zM64.1 330.3h0.55v0.55h-0.55zM47.7 342.6h0.55v0.55h-0.55zM39.1 336.4h0.55v0.55h-0.55zM61.2 342.1h0.55v0.55h-0.55zM42.2 320.4h0.55v0.55h-0.55zM46.5 344.3h0.55v0.55h-0.55zM38.7 327.4h0.55v0.55h-0.55zM45.0 332.6h0.55v0.55h-0.55zM45.6 338.1h0.55v0.55h-0.55zM50.0 328.5h0.55v0.55h-0.55zM49.8 331.0h0.55v0.55h-0.55zM40.2 348.9h0.55v0.55h-0.55zM37.0 333.9h0.55v0.55h-0.55zM38.9 331.9h0.55v0.55h-0.55zM57.8 346.0h0.55v0.55h-0.55zM46.0 336.5h0.55v0.55h-0.55zM50.6 334.4h0.55v0.55h-0.55zM42.3 338.2h0.55v0.55h-0.55zM37.2 348.2h0.55v0.55h-0.55zM60.6 345.6h0.55v0.55h-0.55zM62.8 349.7h0.55v0.55h-0.55zM45.8 331.4h0.55v0.55h-0.55zM36.3 344.1h0.55v0.55h-0.55zM52.4 341.8h0.55v0.55h-0.55zM38.0 335.3h0.55v0.55h-0.55zM47.6 334.3h0.55v0.55h-0.55zM48.6 330.0h0.55v0.55h-0.55zM38.0 337.7h0.55v0.55h-0.55zM67.7 324.0h0.55v0.55h-0.55zM42.7 334.3h0.55v0.55h-0.55zM40.2 345.8h0.55v0.55h-0.55zM53.4 333.7h0.55v0.55h-0.55zM43.8 324.1h0.55v0.55h-0.55zM37.0 345.0h0.55v0.55h-0.55zM39.7 340.6h0.55v0.55h-0.55zM45.9 338.2h0.55v0.55h-0.55zM51.2 334.1h0.55v0.55h-0.55zM47.6 325.6h0.55v0.55h-0.55zM49.0 332.1h0.55v0.55h-0.55zM40.4 341.7h0.55v0.55h-0.55zM47.0 349.2h0.55v0.55h-0.55zM45.3 330.8h0.55v0.55h-0.55zM44.9 343.7h0.55v0.55h-0.55zM52.6 329.9h0.55v0.55h-0.55zM36.1 336.6h0.55v0.55h-0.55zM36.2 338.1h0.55v0.55h-0.55zM41.1 334.0h0.55v0.55h-0.55zM53.7 340.2h0.55v0.55h-0.55zM42.3 348.7h0.55v0.55h-0.55zM63.9 335.7h0.55v0.55h-0.55zM45.4 342.8h0.55v0.55h-0.55zM37.6 331.9h0.55v0.55h-0.55zM44.2 333.5h0.55v0.55h-0.55zM42.6 312.1h0.55v0.55h-0.55zM41.3 328.7h0.55v0.55h-0.55zM49.2 341.0h0.55v0.55h-0.55zM46.2 331.8h0.55v0.55h-0.55zM42.1 332.3h0.55v0.55h-0.55zM39.0 333.9h0.55v0.55h-0.55zM48.2 350.8h0.55v0.55h-0.55zM46.1 318.5h0.55v0.55h-0.55zM48.5 323.8h0.55v0.55h-0.55zM39.2 330.3h0.55v0.55h-0.55zM43.5 336.9h0.55v0.55h-0.55zM40.6 323.4h0.55v0.55h-0.55zM36.1 337.9h0.55v0.55h-0.55zM60.8 331.7h0.55v0.55h-0.55zM52.6 332.0h0.55v0.55h-0.55zM45.1 327.9h0.55v0.55h-0.55zM46.1 339.4h0.55v0.55h-0.55zM36.2 336.8h0.55v0.55h-0.55zM44.8 328.4h0.55v0.55h-0.55zM40.5 333.8h0.55v0.55h-0.55zM40.7 338.4h0.55v0.55h-0.55zM43.7 339.4h0.55v0.55h-0.55zM42.7 327.9h0.55v0.55h-0.55zM51.7 341.4h0.55v0.55h-0.55zM36.2 336.0h0.55v0.55h-0.55zM52.2 333.3h0.55v0.55h-0.55zM44.9 328.1h0.55v0.55h-0.55zM44.8 323.0h0.55v0.55h-0.55zM37.2 344.3h0.55v0.55h-0.55zM45.9 335.8h0.55v0.55h-0.55zM51.3 340.4h0.55v0.55h-0.55zM62.1 325.1h0.55v0.55h-0.55zM39.2 346.4h0.55v0.55h-0.55zM41.1 335.9h0.55v0.55h-0.55zM64.6 333.8h0.55v0.55h-0.55zM48.9 346.5h0.55v0.55h-0.55zM45.0 330.4h0.55v0.55h-0.55zM45.6 320.4h0.55v0.55h-0.55zM51.1 344.0h0.55v0.55h-0.55zM37.6 324.3h0.55v0.55h-0.55zM54.5 321.6h0.55v0.55h-0.55zM53.6 332.4h0.55v0.55h-0.55zM40.8 340.4h0.55v0.55h-0.55zM39.7 345.2h0.55v0.55h-0.55zM36.2 332.4h0.55v0.55h-0.55zM45.3 323.4h0.55v0.55h-0.55zM45.7 342.9h0.55v0.55h-0.55zM47.6 346.1h0.55v0.55h-0.55zM74.2 340.7h0.55v0.55h-0.55zM43.0 324.5h0.55v0.55h-0.55zM39.4 352.6h0.55v0.55h-0.55zM43.4 333.9h0.55v0.55h-0.55zM40.3 319.8h0.55v0.55h-0.55zM47.7 324.5h0.55v0.55h-0.55zM65.9 341.2h0.55v0.55h-0.55zM49.5 333.6h0.55v0.55h-0.55zM40.8 326.9h0.55v0.55h-0.55zM42.3 341.1h0.55v0.55h-0.55zM57.5 347.5h0.55v0.55h-0.55zM42.8 334.0h0.55v0.55h-0.55zM47.6 330.2h0.55v0.55h-0.55zM44.6 339.5h0.55v0.55h-0.55zM36.3 348.3h0.55v0.55h-0.55zM45.1 335.1h0.55v0.55h-0.55zM38.7 335.6h0.55v0.55h-0.55zM49.3 327.2h0.55v0.55h-0.55zM40.9 330.3h0.55v0.55h-0.55zM39.8 344.8h0.55v0.55h-0.55zM38.7 345.5h0.55v0.55h-0.55zM36.1 347.1h0.55v0.55h-0.55zM42.5 320.9h0.55v0.55h-0.55zM53.3 333.3h0.55v0.55h-0.55zM63.5 335.9h0.55v0.55h-0.55zM38.2 324.7h0.55v0.55h-0.55zM44.5 339.4h0.55v0.55h-0.55zM55.8 344.1h0.55v0.55h-0.55zM53.1 344.0h0.55v0.55h-0.55zM70.8 329.2h0.55v0.55h-0.55zM38.6 313.5h0.55v0.55h-0.55zM46.8 342.1h0.55v0.55h-0.55zM46.9 332.0h0.55v0.55h-0.55zM49.2 334.9h0.55v0.55h-0.55zM36.6 334.9h0.55v0.55h-0.55zM50.3 338.1h0.55v0.55h-0.55zM40.8 342.6h0.55v0.55h-0.55zM40.4 323.1h0.55v0.55h-0.55zM56.2 335.6h0.55v0.55h-0.55zM42.8 338.8h0.55v0.55h-0.55zM47.3 335.2h0.55v0.55h-0.55zM59.6 325.4h0.55v0.55h-0.55zM44.0 326.6h0.55v0.55h-0.55zM51.5 334.3h0.55v0.55h-0.55zM43.3 327.9h0.55v0.55h-0.55zM37.4 311.3h0.55v0.55h-0.55zM38.9 339.6h0.55v0.55h-0.55zM48.6 328.3h0.55v0.55h-0.55zM36.7 335.5h0.55v0.55h-0.55zM47.3 340.4h0.55v0.55h-0.55zM59.0 343.9h0.55v0.55h-0.55zM55.6 328.4h0.55v0.55h-0.55zM54.6 327.0h0.55v0.55h-0.55zM59.1 335.6h0.55v0.55h-0.55zM48.9 326.1h0.55v0.55h-0.55zM45.8 329.0h0.55v0.55h-0.55zM49.6 326.8h0.55v0.55h-0.55zM58.6 329.6h0.55v0.55h-0.55zM49.6 323.8h0.55v0.55h-0.55zM43.6 325.0h0.55v0.55h-0.55zM42.4 340.1h0.55v0.55h-0.55zM43.4 319.3h0.55v0.55h-0.55zM43.7 333.7h0.55v0.55h-0.55zM44.0 327.0h0.55v0.55h-0.55zM40.2 335.5h0.55v0.55h-0.55zM59.1 334.1h0.55v0.55h-0.55zM47.6 338.5h0.55v0.55h-0.55zM37.5 333.7h0.55v0.55h-0.55zM69.8 334.1h0.55v0.55h-0.55zM41.2 327.4h0.55v0.55h-0.55zM43.1 324.9h0.55v0.55h-0.55zM38.4 340.3h0.55v0.55h-0.55zM44.4 330.8h0.55v0.55h-0.55zM59.5 341.8h0.55v0.55h-0.55zM49.3 333.9h0.55v0.55h-0.55zM58.8 334.1h0.55v0.55h-0.55zM46.0 345.1h0.55v0.55h-0.55zM41.9 320.7h0.55v0.55h-0.55zM38.4 345.9h0.55v0.55h-0.55zM38.0 345.2h0.55v0.55h-0.55zM47.6 347.5h0.55v0.55h-0.55zM44.4 329.7h0.55v0.55h-0.55zM42.2 355.3h0.55v0.55h-0.55zM43.3 320.2h0.55v0.55h-0.55zM65.5 338.3h0.55v0.55h-0.55zM44.8 330.1h0.55v0.55h-0.55zM57.6 340.6h0.55v0.55h-0.55zM38.0 329.9h0.55v0.55h-0.55zM41.9 331.6h0.55v0.55h-0.55zM50.9 333.5h0.55v0.55h-0.55zM55.3 328.3h0.55v0.55h-0.55zM44.6 331.1h0.55v0.55h-0.55zM43.5 334.3h0.55v0.55h-0.55zM50.4 344.7h0.55v0.55h-0.55zM51.0 345.2h0.55v0.55h-0.55zM37.3 347.7h0.55v0.55h-0.55zM38.4 328.3h0.55v0.55h-0.55zM47.1 340.0h0.55v0.55h-0.55zM42.4 335.2h0.55v0.55h-0.55zM37.8 337.5h0.55v0.55h-0.55zM60.0 325.4h0.55v0.55h-0.55zM36.8 337.1h0.55v0.55h-0.55zM43.3 320.9h0.55v0.55h-0.55zM54.8 332.5h0.55v0.55h-0.55zM50.7 347.8h0.55v0.55h-0.55zM51.9 343.3h0.55v0.55h-0.55zM47.7 339.6h0.55v0.55h-0.55zM49.6 335.2h0.55v0.55h-0.55zM41.0 340.1h0.55v0.55h-0.55zM42.7 326.9h0.55v0.55h-0.55zM44.5 332.3h0.55v0.55h-0.55zM38.7 328.0h0.55v0.55h-0.55zM61.5 325.3h0.55v0.55h-0.55zM40.3 334.9h0.55v0.55h-0.55zM44.1 319.9h0.55v0.55h-0.55zM41.8 342.1h0.55v0.55h-0.55zM63.5 326.3h0.55v0.55h-0.55zM59.3 344.7h0.55v0.55h-0.55zM36.4 330.4h0.55v0.55h-0.55zM38.1 334.3h0.55v0.55h-0.55zM48.7 344.4h0.55v0.55h-0.55zM48.8 337.7h0.55v0.55h-0.55zM46.7 341.5h0.55v0.55h-0.55zM52.3 320.3h0.55v0.55h-0.55zM40.8 335.6h0.55v0.55h-0.55zM38.2 333.0h0.55v0.55h-0.55zM37.0 339.0h0.55v0.55h-0.55zM38.8 336.0h0.55v0.55h-0.55zM51.0 324.9h0.55v0.55h-0.55zM46.5 320.7h0.55v0.55h-0.55zM43.2 328.2h0.55v0.55h-0.55zM61.2 319.5h0.55v0.55h-0.55zM42.6 330.4h0.55v0.55h-0.55zM66.4 341.9h0.55v0.55h-0.55zM46.9 331.0h0.55v0.55h-0.55zM50.2 328.7h0.55v0.55h-0.55zM40.9 334.6h0.55v0.55h-0.55zM44.7 341.6h0.55v0.55h-0.55zM45.0 350.7h0.55v0.55h-0.55zM54.3 340.4h0.55v0.55h-0.55zM41.2 322.2h0.55v0.55h-0.55zM40.2 321.9h0.55v0.55h-0.55zM54.3 349.6h0.55v0.55h-0.55zM52.7 322.6h0.55v0.55h-0.55zM41.8 336.1h0.55v0.55h-0.55zM42.1 326.7h0.55v0.55h-0.55zM63.8 351.8h0.55v0.55h-0.55zM52.7 337.5h0.55v0.55h-0.55zM42.9 336.5h0.55v0.55h-0.55zM53.4 342.7h0.55v0.55h-0.55zM38.3 333.8h0.55v0.55h-0.55zM42.0 334.5h0.55v0.55h-0.55zM37.8 331.8h0.55v0.55h-0.55zM49.5 336.7h0.55v0.55h-0.55zM37.3 328.1h0.55v0.55h-0.55zM53.1 345.4h0.55v0.55h-0.55zM45.6 320.3h0.55v0.55h-0.55zM40.9 342.9h0.55v0.55h-0.55zM36.5 345.2h0.55v0.55h-0.55zM42.1 341.4h0.55v0.55h-0.55zM43.3 315.4h0.55v0.55h-0.55zM41.7 333.1h0.55v0.55h-0.55zM44.8 327.9h0.55v0.55h-0.55zM58.3 334.0h0.55v0.55h-0.55zM47.1 324.3h0.55v0.55h-0.55zM65.1 331.2h0.55v0.55h-0.55zM41.7 329.2h0.55v0.55h-0.55zM43.4 341.4h0.55v0.55h-0.55zM42.3 334.5h0.55v0.55h-0.55zM46.3 343.6h0.55v0.55h-0.55zM60.8 339.0h0.55v0.55h-0.55zM43.1 329.4h0.55v0.55h-0.55zM39.9 342.1h0.55v0.55h-0.55zM46.6 346.8h0.55v0.55h-0.55zM53.1 334.9h0.55v0.55h-0.55zM54.4 349.3h0.55v0.55h-0.55zM41.7 341.3h0.55v0.55h-0.55zM71.4 344.3h0.55v0.55h-0.55zM66.7 337.2h0.55v0.55h-0.55zM69.3 325.7h0.55v0.55h-0.55zM48.8 318.3h0.55v0.55h-0.55zM58.2 328.3h0.55v0.55h-0.55zM47.3 342.3h0.55v0.55h-0.55zM74.9 323.6h0.55v0.55h-0.55zM40.6 322.8h0.55v0.55h-0.55zM36.3 327.4h0.55v0.55h-0.55zM54.8 330.9h0.55v0.55h-0.55zM48.8 340.1h0.55v0.55h-0.55zM53.1 333.7h0.55v0.55h-0.55zM39.9 338.9h0.55v0.55h-0.55zM42.9 325.5h0.55v0.55h-0.55zM43.5 332.2h0.55v0.55h-0.55zM55.2 341.8h0.55v0.55h-0.55zM42.1 336.1h0.55v0.55h-0.55zM46.6 333.2h0.55v0.55h-0.55zM44.5 338.9h0.55v0.55h-0.55zM47.5 327.8h0.55v0.55h-0.55zM40.8 336.5h0.55v0.55h-0.55zM47.9 325.7h0.55v0.55h-0.55zM48.9 349.1h0.55v0.55h-0.55zM49.3 336.0h0.55v0.55h-0.55zM48.7 324.7h0.55v0.55h-0.55zM42.2 351.5h0.55v0.55h-0.55zM58.9 325.7h0.55v0.55h-0.55zM47.5 329.7h0.55v0.55h-0.55zM43.9 326.0h0.55v0.55h-0.55zM59.6 330.1h0.55v0.55h-0.55zM39.9 320.5h0.55v0.55h-0.55zM46.8 334.9h0.55v0.55h-0.55zM43.0 347.6h0.55v0.55h-0.55zM38.1 325.5h0.55v0.55h-0.55zM50.2 335.7h0.55v0.55h-0.55zM54.5 325.4h0.55v0.55h-0.55zM39.5 333.8h0.55v0.55h-0.55zM45.2 327.9h0.55v0.55h-0.55zM40.4 341.3h0.55v0.55h-0.55zM36.5 334.2h0.55v0.55h-0.55zM44.7 339.7h0.55v0.55h-0.55zM53.6 326.4h0.55v0.55h-0.55zM53.2 333.2h0.55v0.55h-0.55zM51.9 330.6h0.55v0.55h-0.55zM53.3 333.4h0.55v0.55h-0.55zM50.5 317.0h0.55v0.55h-0.55zM52.6 341.1h0.55v0.55h-0.55zM40.2 341.3h0.55v0.55h-0.55zM54.6 334.6h0.55v0.55h-0.55zM72.5 328.2h0.55v0.55h-0.55zM46.4 344.7h0.55v0.55h-0.55zM58.8 334.6h0.55v0.55h-0.55zM48.3 331.9h0.55v0.55h-0.55zM62.9 345.8h0.55v0.55h-0.55zM52.5 327.7h0.55v0.55h-0.55zM61.6 324.2h0.55v0.55h-0.55zM43.8 328.5h0.55v0.55h-0.55zM60.3 338.2h0.55v0.55h-0.55zM52.2 344.5h0.55v0.55h-0.55zM48.6 335.8h0.55v0.55h-0.55zM42.7 336.1h0.55v0.55h-0.55zM44.9 341.6h0.55v0.55h-0.55zM44.5 335.6h0.55v0.55h-0.55zM37.8 350.8h0.55v0.55h-0.55zM45.7 331.5h0.55v0.55h-0.55zM46.8 334.9h0.55v0.55h-0.55zM58.9 333.9h0.55v0.55h-0.55zM41.4 327.0h0.55v0.55h-0.55zM38.7 325.9h0.55v0.55h-0.55zM39.5 325.9h0.55v0.55h-0.55zM57.9 332.7h0.55v0.55h-0.55zM42.2 337.3h0.55v0.55h-0.55zM45.9 333.8h0.55v0.55h-0.55zM46.6 336.0h0.55v0.55h-0.55zM70.2 337.5h0.55v0.55h-0.55zM54.1 342.6h0.55v0.55h-0.55zM39.1 332.0h0.55v0.55h-0.55zM71.3 317.9h0.55v0.55h-0.55zM52.5 332.0h0.55v0.55h-0.55zM55.3 350.9h0.55v0.55h-0.55zM42.4 334.3h0.55v0.55h-0.55zM49.8 332.3h0.55v0.55h-0.55zM39.3 331.5h0.55v0.55h-0.55zM37.1 341.4h0.55v0.55h-0.55zM60.7 336.8h0.55v0.55h-0.55z" fill="#5a5a98" fill-opacity="0.36"/>
<path d="M34.3 309.5 L34.9 318.5 L33.7 318.5 Z" fill="#7070b0" fill-opacity="0.45"/>
<path d="M34.30 317.30 C34.62 317.30 34.95 319.88 35.20 322.00 C35.45 324.12 35.68 326.17 35.80 330.00 C35.92 333.83 35.98 341.40 35.90 345.00 C35.82 348.60 35.58 350.33 35.30 351.60 C35.02 352.87 34.55 352.83 34.20 352.60 C33.85 352.37 33.40 353.13 33.20 350.20 C33.00 347.27 32.98 339.70 33.00 335.00 C33.02 330.30 33.08 324.95 33.30 322.00 C33.52 319.05 33.98 317.30 34.30 317.30Z" fill="#00008c"/>
<path d="M34.00 322.50 C34.20 322.83 34.57 326.42 34.70 330.00 C34.83 333.58 34.90 340.92 34.80 344.00 C34.70 347.08 34.32 349.00 34.10 348.50 C33.88 348.00 33.60 344.42 33.50 341.00 C33.40 337.58 33.42 331.08 33.50 328.00 C33.58 324.92 33.80 322.17 34.00 322.50Z" fill="#0028e8"/>
<path d="M33.90 327.50 C34.03 327.17 34.29 331.58 34.35 334.00 C34.41 336.42 34.35 340.25 34.25 342.00 C34.15 343.75 33.87 345.50 33.75 344.50 C33.63 343.50 33.52 338.83 33.55 336.00 C33.57 333.17 33.77 327.83 33.90 327.50Z" fill="#2aa0b0"/>
<text x="64.20" y="305.60" font-size="8.6" font-weight="normal" fill="#231f20" stroke="#231f20" stroke-width="0.12" text-anchor="start" textLength="10.30" lengthAdjust="spacingAndGlyphs">1.2</text>
<path d="M117.60 287.01H120.00M117.60 308.86H120.00M117.60 330.53H120.00M117.60 352.39H120.00M117.60 368.01H120.00M118.60 302.28H120.00M118.60 298.44H120.00M118.60 295.71H120.00M118.60 293.59H120.00M118.60 291.86H120.00M118.60 290.39H120.00M118.60 289.13H120.00M118.60 288.01H120.00M118.60 324.01H120.00M118.60 320.19H120.00M118.60 317.49H120.00M118.60 315.39H120.00M118.60 313.67H120.00M118.60 312.22H120.00M118.60 310.96H120.00M118.60 309.85H120.00M118.60 345.81H120.00M118.60 341.96H120.00M118.60 339.23H120.00M118.60 337.11H120.00M118.60 335.38H120.00M118.60 333.92H120.00M118.60 332.65H120.00M118.60 331.53H120.00M125.44 374.60V377.00M145.28 374.60V377.00M165.39 374.60V377.00M187.50 374.60V377.00M209.51 374.60V377.00M131.41 374.60V376.10M134.90 374.60V376.10M137.38 374.60V376.10M139.30 374.60V376.10M140.88 374.60V376.10M142.20 374.60V376.10M143.35 374.60V376.10M144.37 374.60V376.10M151.33 374.60V376.10M154.87 374.60V376.10M157.39 374.60V376.10M159.34 374.60V376.10M160.93 374.60V376.10M162.28 374.60V376.10M163.44 374.60V376.10M164.47 374.60V376.10M172.05 374.60V376.10M175.94 374.60V376.10M178.70 374.60V376.10M180.84 374.60V376.10M182.59 374.60V376.10M184.07 374.60V376.10M185.35 374.60V376.10M186.49 374.60V376.10M194.12 374.60V376.10M198.00 374.60V376.10M200.75 374.60V376.10M202.89 374.60V376.10M204.63 374.60V376.10M206.10 374.60V376.10M207.38 374.60V376.10M208.51 374.60V376.10" stroke="#333" stroke-width="0.6" fill="none"/>
<path d="M120.00 374.60 V284.30 H210.60 V374.60 Z" fill="none" stroke="#231f20" stroke-width="1.4" stroke-linejoin="round"/>
<path d="M120.70 288.30H133.80V370.10H120.70" fill="none" stroke="#a0a0ee" stroke-width="1"/>
<rect x="134.40" y="291.30" width="69.00" height="71.70" fill="none" stroke="#a0a0ee" stroke-width="1"/>
<path d="M197.1 328.0h0.55v0.55h-0.55zM144.7 333.4h0.55v0.55h-0.55zM156.5 319.5h0.55v0.55h-0.55zM145.2 324.7h0.55v0.55h-0.55zM163.0 324.9h0.55v0.55h-0.55zM147.8 329.3h0.55v0.55h-0.55zM158.5 335.7h0.55v0.55h-0.55zM166.1 328.8h0.55v0.55h-0.55zM154.1 334.4h0.55v0.55h-0.55zM140.2 332.5h0.55v0.55h-0.55zM157.1 333.7h0.55v0.55h-0.55zM175.5 343.0h0.55v0.55h-0.55zM168.2 330.3h0.55v0.55h-0.55zM134.5 334.3h0.55v0.55h-0.55zM140.7 336.8h0.55v0.55h-0.55zM141.8 326.4h0.55v0.55h-0.55zM171.8 323.3h0.55v0.55h-0.55zM139.8 310.1h0.55v0.55h-0.55zM137.9 314.0h0.55v0.55h-0.55zM180.1 348.3h0.55v0.55h-0.55zM149.6 330.7h0.55v0.55h-0.55zM135.1 315.5h0.55v0.55h-0.55zM166.2 334.4h0.55v0.55h-0.55zM195.3 332.9h0.55v0.55h-0.55zM185.0 331.9h0.55v0.55h-0.55zM168.0 345.4h0.55v0.55h-0.55zM158.3 326.2h0.55v0.55h-0.55zM189.3 325.8h0.55v0.55h-0.55zM139.1 320.4h0.55v0.55h-0.55zM138.2 340.9h0.55v0.55h-0.55zM139.1 326.2h0.55v0.55h-0.55zM151.9 328.0h0.55v0.55h-0.55zM153.7 327.9h0.55v0.55h-0.55zM174.8 328.8h0.55v0.55h-0.55zM166.6 331.7h0.55v0.55h-0.55zM154.9 322.2h0.55v0.55h-0.55zM141.0 338.3h0.55v0.55h-0.55zM196.8 330.9h0.55v0.55h-0.55zM141.6 329.2h0.55v0.55h-0.55zM152.6 318.6h0.55v0.55h-0.55zM148.7 328.6h0.55v0.55h-0.55zM134.3 328.4h0.55v0.55h-0.55zM146.4 325.7h0.55v0.55h-0.55zM142.1 352.1h0.55v0.55h-0.55zM159.8 338.5h0.55v0.55h-0.55zM146.3 326.3h0.55v0.55h-0.55zM147.7 351.1h0.55v0.55h-0.55zM172.0 337.8h0.55v0.55h-0.55zM159.1 333.6h0.55v0.55h-0.55zM153.0 344.1h0.55v0.55h-0.55zM192.2 339.9h0.55v0.55h-0.55zM177.1 333.9h0.55v0.55h-0.55zM154.6 332.9h0.55v0.55h-0.55zM140.1 326.6h0.55v0.55h-0.55zM150.7 345.1h0.55v0.55h-0.55zM140.0 334.0h0.55v0.55h-0.55zM149.4 331.7h0.55v0.55h-0.55zM158.2 333.8h0.55v0.55h-0.55zM167.3 323.1h0.55v0.55h-0.55zM152.6 337.4h0.55v0.55h-0.55zM162.9 333.8h0.55v0.55h-0.55zM138.4 315.4h0.55v0.55h-0.55zM171.0 324.3h0.55v0.55h-0.55zM161.4 321.8h0.55v0.55h-0.55zM153.0 333.1h0.55v0.55h-0.55zM146.5 324.9h0.55v0.55h-0.55zM157.6 337.8h0.55v0.55h-0.55zM144.0 328.4h0.55v0.55h-0.55zM157.2 327.5h0.55v0.55h-0.55zM149.0 331.5h0.55v0.55h-0.55zM154.2 330.2h0.55v0.55h-0.55zM156.1 326.2h0.55v0.55h-0.55zM168.3 333.2h0.55v0.55h-0.55zM139.9 334.7h0.55v0.55h-0.55zM149.7 333.2h0.55v0.55h-0.55zM165.6 338.7h0.55v0.55h-0.55zM137.2 343.1h0.55v0.55h-0.55zM134.2 346.0h0.55v0.55h-0.55zM168.4 321.8h0.55v0.55h-0.55zM139.2 324.4h0.55v0.55h-0.55zM163.2 336.8h0.55v0.55h-0.55zM141.3 332.1h0.55v0.55h-0.55zM145.0 334.6h0.55v0.55h-0.55zM137.3 324.5h0.55v0.55h-0.55zM147.9 335.5h0.55v0.55h-0.55zM136.2 339.2h0.55v0.55h-0.55zM163.9 330.8h0.55v0.55h-0.55zM148.2 344.7h0.55v0.55h-0.55zM147.7 352.2h0.55v0.55h-0.55zM176.5 329.2h0.55v0.55h-0.55zM163.6 336.1h0.55v0.55h-0.55zM141.6 330.4h0.55v0.55h-0.55zM162.7 337.1h0.55v0.55h-0.55zM139.0 336.1h0.55v0.55h-0.55zM142.4 323.0h0.55v0.55h-0.55zM194.5 330.3h0.55v0.55h-0.55zM151.2 327.1h0.55v0.55h-0.55zM159.9 331.1h0.55v0.55h-0.55zM174.8 333.4h0.55v0.55h-0.55zM152.6 336.7h0.55v0.55h-0.55zM155.7 320.7h0.55v0.55h-0.55zM163.4 332.9h0.55v0.55h-0.55zM160.4 337.3h0.55v0.55h-0.55zM143.3 344.7h0.55v0.55h-0.55zM153.8 335.3h0.55v0.55h-0.55zM178.1 344.4h0.55v0.55h-0.55zM174.1 338.0h0.55v0.55h-0.55zM146.5 343.7h0.55v0.55h-0.55zM157.4 338.2h0.55v0.55h-0.55zM134.6 321.5h0.55v0.55h-0.55zM143.9 335.5h0.55v0.55h-0.55zM180.0 338.9h0.55v0.55h-0.55zM177.3 317.3h0.55v0.55h-0.55zM136.1 329.8h0.55v0.55h-0.55zM159.3 319.3h0.55v0.55h-0.55zM139.2 320.3h0.55v0.55h-0.55zM152.7 339.9h0.55v0.55h-0.55zM140.4 324.4h0.55v0.55h-0.55zM164.3 330.4h0.55v0.55h-0.55zM180.8 328.3h0.55v0.55h-0.55zM180.7 326.3h0.55v0.55h-0.55zM139.7 339.0h0.55v0.55h-0.55zM154.9 332.5h0.55v0.55h-0.55zM170.6 337.3h0.55v0.55h-0.55zM165.3 326.6h0.55v0.55h-0.55zM139.0 327.8h0.55v0.55h-0.55zM192.3 349.6h0.55v0.55h-0.55zM151.0 339.7h0.55v0.55h-0.55zM144.5 333.7h0.55v0.55h-0.55zM198.0 321.0h0.55v0.55h-0.55zM142.5 327.8h0.55v0.55h-0.55zM139.6 339.0h0.55v0.55h-0.55zM153.5 319.9h0.55v0.55h-0.55zM164.5 335.8h0.55v0.55h-0.55zM159.7 339.0h0.55v0.55h-0.55zM177.1 328.1h0.55v0.55h-0.55zM160.8 337.9h0.55v0.55h-0.55zM138.5 324.3h0.55v0.55h-0.55zM157.7 326.0h0.55v0.55h-0.55zM142.0 322.3h0.55v0.55h-0.55zM181.2 331.6h0.55v0.55h-0.55zM147.5 329.6h0.55v0.55h-0.55zM140.1 332.9h0.55v0.55h-0.55zM180.1 323.5h0.55v0.55h-0.55zM147.7 342.3h0.55v0.55h-0.55zM161.3 333.0h0.55v0.55h-0.55zM149.6 310.6h0.55v0.55h-0.55zM142.4 321.2h0.55v0.55h-0.55zM157.5 330.1h0.55v0.55h-0.55zM135.1 316.7h0.55v0.55h-0.55zM137.8 312.1h0.55v0.55h-0.55zM139.9 345.9h0.55v0.55h-0.55zM166.8 339.0h0.55v0.55h-0.55zM171.9 330.4h0.55v0.55h-0.55zM164.1 332.7h0.55v0.55h-0.55zM147.4 312.8h0.55v0.55h-0.55zM163.2 319.4h0.55v0.55h-0.55zM198.3 333.5h0.55v0.55h-0.55zM138.7 318.2h0.55v0.55h-0.55zM180.5 323.6h0.55v0.55h-0.55zM174.1 340.3h0.55v0.55h-0.55zM135.9 325.1h0.55v0.55h-0.55zM135.3 318.2h0.55v0.55h-0.55zM151.5 347.6h0.55v0.55h-0.55zM158.1 341.2h0.55v0.55h-0.55zM152.9 334.8h0.55v0.55h-0.55zM161.7 328.1h0.55v0.55h-0.55zM153.7 354.9h0.55v0.55h-0.55zM135.9 332.4h0.55v0.55h-0.55zM185.2 333.2h0.55v0.55h-0.55zM158.6 319.7h0.55v0.55h-0.55zM174.3 333.1h0.55v0.55h-0.55zM144.8 338.6h0.55v0.55h-0.55zM140.4 332.0h0.55v0.55h-0.55zM173.6 338.2h0.55v0.55h-0.55zM154.7 345.4h0.55v0.55h-0.55zM139.9 322.0h0.55v0.55h-0.55zM155.6 317.9h0.55v0.55h-0.55zM143.5 328.0h0.55v0.55h-0.55zM147.8 340.0h0.55v0.55h-0.55zM156.0 333.6h0.55v0.55h-0.55zM168.4 332.7h0.55v0.55h-0.55zM159.2 330.3h0.55v0.55h-0.55zM159.8 330.0h0.55v0.55h-0.55zM185.1 336.9h0.55v0.55h-0.55zM148.0 344.9h0.55v0.55h-0.55zM167.4 333.0h0.55v0.55h-0.55zM143.3 330.0h0.55v0.55h-0.55zM144.4 324.6h0.55v0.55h-0.55zM163.2 320.0h0.55v0.55h-0.55zM149.4 324.3h0.55v0.55h-0.55zM140.4 328.3h0.55v0.55h-0.55zM152.0 325.2h0.55v0.55h-0.55zM185.7 329.4h0.55v0.55h-0.55zM145.3 318.9h0.55v0.55h-0.55zM141.0 338.8h0.55v0.55h-0.55zM152.9 333.8h0.55v0.55h-0.55zM145.7 356.0h0.55v0.55h-0.55zM172.0 341.4h0.55v0.55h-0.55zM152.7 338.0h0.55v0.55h-0.55zM138.5 335.7h0.55v0.55h-0.55zM149.7 333.5h0.55v0.55h-0.55zM155.0 334.7h0.55v0.55h-0.55zM182.1 322.1h0.55v0.55h-0.55zM170.0 336.1h0.55v0.55h-0.55zM155.7 328.6h0.55v0.55h-0.55zM150.1 336.0h0.55v0.55h-0.55zM149.1 345.2h0.55v0.55h-0.55zM151.8 338.2h0.55v0.55h-0.55zM139.5 324.9h0.55v0.55h-0.55zM147.7 319.4h0.55v0.55h-0.55zM174.7 340.4h0.55v0.55h-0.55zM164.4 346.4h0.55v0.55h-0.55zM162.5 327.5h0.55v0.55h-0.55zM158.2 312.0h0.55v0.55h-0.55zM136.1 314.8h0.55v0.55h-0.55zM177.1 319.2h0.55v0.55h-0.55zM143.7 345.2h0.55v0.55h-0.55zM146.4 323.9h0.55v0.55h-0.55zM147.2 335.6h0.55v0.55h-0.55zM158.4 329.8h0.55v0.55h-0.55zM190.5 334.0h0.55v0.55h-0.55zM160.7 352.2h0.55v0.55h-0.55zM138.5 333.7h0.55v0.55h-0.55zM149.1 339.2h0.55v0.55h-0.55zM182.6 324.7h0.55v0.55h-0.55zM136.1 320.9h0.55v0.55h-0.55zM153.1 330.2h0.55v0.55h-0.55zM147.4 323.8h0.55v0.55h-0.55zM142.3 345.8h0.55v0.55h-0.55zM147.8 338.7h0.55v0.55h-0.55zM144.8 330.1h0.55v0.55h-0.55zM145.4 337.1h0.55v0.55h-0.55zM134.2 343.0h0.55v0.55h-0.55zM134.0 341.6h0.55v0.55h-0.55zM134.4 339.8h0.55v0.55h-0.55zM152.8 326.7h0.55v0.55h-0.55zM166.2 342.1h0.55v0.55h-0.55zM147.9 334.0h0.55v0.55h-0.55zM150.9 324.0h0.55v0.55h-0.55zM136.6 326.6h0.55v0.55h-0.55zM185.6 330.1h0.55v0.55h-0.55zM158.3 344.8h0.55v0.55h-0.55zM154.8 326.2h0.55v0.55h-0.55zM160.9 331.9h0.55v0.55h-0.55zM171.0 333.8h0.55v0.55h-0.55zM155.0 347.7h0.55v0.55h-0.55zM163.4 325.5h0.55v0.55h-0.55zM185.6 331.1h0.55v0.55h-0.55zM160.7 334.5h0.55v0.55h-0.55zM142.2 331.5h0.55v0.55h-0.55zM178.0 344.6h0.55v0.55h-0.55zM159.6 314.5h0.55v0.55h-0.55zM154.4 335.6h0.55v0.55h-0.55zM135.1 330.7h0.55v0.55h-0.55zM153.7 337.2h0.55v0.55h-0.55zM141.1 337.0h0.55v0.55h-0.55zM139.7 328.1h0.55v0.55h-0.55zM172.5 330.0h0.55v0.55h-0.55zM189.0 336.4h0.55v0.55h-0.55zM135.6 343.9h0.55v0.55h-0.55zM147.8 330.1h0.55v0.55h-0.55zM143.5 332.0h0.55v0.55h-0.55zM152.8 351.5h0.55v0.55h-0.55zM148.4 321.6h0.55v0.55h-0.55zM156.9 315.5h0.55v0.55h-0.55zM154.0 340.2h0.55v0.55h-0.55zM143.1 335.6h0.55v0.55h-0.55zM148.5 336.1h0.55v0.55h-0.55zM151.8 334.1h0.55v0.55h-0.55zM161.3 340.3h0.55v0.55h-0.55zM170.9 318.7h0.55v0.55h-0.55zM140.5 320.3h0.55v0.55h-0.55zM148.0 329.2h0.55v0.55h-0.55zM173.3 340.8h0.55v0.55h-0.55zM146.9 327.3h0.55v0.55h-0.55zM150.3 337.5h0.55v0.55h-0.55zM159.9 335.9h0.55v0.55h-0.55zM172.7 340.3h0.55v0.55h-0.55zM147.1 320.6h0.55v0.55h-0.55zM155.8 333.2h0.55v0.55h-0.55zM139.5 347.6h0.55v0.55h-0.55zM146.4 318.6h0.55v0.55h-0.55zM167.6 334.0h0.55v0.55h-0.55zM139.3 338.4h0.55v0.55h-0.55zM168.1 326.4h0.55v0.55h-0.55zM165.4 322.3h0.55v0.55h-0.55zM143.0 321.3h0.55v0.55h-0.55zM178.4 335.8h0.55v0.55h-0.55zM156.7 316.8h0.55v0.55h-0.55zM140.1 330.4h0.55v0.55h-0.55zM138.3 336.6h0.55v0.55h-0.55zM156.3 323.6h0.55v0.55h-0.55zM160.2 351.9h0.55v0.55h-0.55zM191.3 330.1h0.55v0.55h-0.55zM155.9 333.7h0.55v0.55h-0.55zM146.9 349.3h0.55v0.55h-0.55zM140.6 324.3h0.55v0.55h-0.55zM162.7 325.7h0.55v0.55h-0.55zM157.9 336.8h0.55v0.55h-0.55zM139.5 321.0h0.55v0.55h-0.55zM141.4 327.7h0.55v0.55h-0.55zM140.4 324.3h0.55v0.55h-0.55zM149.9 328.5h0.55v0.55h-0.55zM150.8 342.0h0.55v0.55h-0.55zM159.7 338.6h0.55v0.55h-0.55zM150.1 329.1h0.55v0.55h-0.55zM139.8 316.6h0.55v0.55h-0.55zM140.6 321.3h0.55v0.55h-0.55zM157.9 334.3h0.55v0.55h-0.55zM154.4 333.2h0.55v0.55h-0.55zM145.1 342.3h0.55v0.55h-0.55zM144.8 342.3h0.55v0.55h-0.55zM154.8 328.5h0.55v0.55h-0.55zM151.6 343.1h0.55v0.55h-0.55zM146.2 326.7h0.55v0.55h-0.55zM163.6 323.8h0.55v0.55h-0.55zM164.6 323.6h0.55v0.55h-0.55zM140.5 338.4h0.55v0.55h-0.55zM145.8 325.0h0.55v0.55h-0.55zM188.4 333.1h0.55v0.55h-0.55zM141.5 340.2h0.55v0.55h-0.55zM142.7 338.9h0.55v0.55h-0.55zM138.0 322.8h0.55v0.55h-0.55zM160.2 335.3h0.55v0.55h-0.55zM136.6 330.3h0.55v0.55h-0.55zM146.6 329.5h0.55v0.55h-0.55zM155.6 342.0h0.55v0.55h-0.55zM141.0 334.6h0.55v0.55h-0.55zM184.9 323.9h0.55v0.55h-0.55zM153.3 323.5h0.55v0.55h-0.55zM152.8 312.6h0.55v0.55h-0.55zM147.2 338.6h0.55v0.55h-0.55zM194.1 328.8h0.55v0.55h-0.55zM146.3 346.4h0.55v0.55h-0.55zM159.4 323.7h0.55v0.55h-0.55zM143.7 320.6h0.55v0.55h-0.55zM135.8 339.1h0.55v0.55h-0.55zM171.0 336.4h0.55v0.55h-0.55zM158.3 341.4h0.55v0.55h-0.55zM156.4 338.0h0.55v0.55h-0.55zM160.5 330.4h0.55v0.55h-0.55zM160.1 333.3h0.55v0.55h-0.55zM138.2 339.1h0.55v0.55h-0.55zM182.8 329.3h0.55v0.55h-0.55zM188.9 340.7h0.55v0.55h-0.55zM138.1 329.0h0.55v0.55h-0.55zM141.3 322.2h0.55v0.55h-0.55zM146.4 331.6h0.55v0.55h-0.55zM166.6 331.4h0.55v0.55h-0.55zM141.2 319.1h0.55v0.55h-0.55zM146.3 316.9h0.55v0.55h-0.55zM135.1 334.3h0.55v0.55h-0.55zM148.1 332.7h0.55v0.55h-0.55zM149.0 338.5h0.55v0.55h-0.55zM170.3 329.4h0.55v0.55h-0.55zM173.1 317.2h0.55v0.55h-0.55zM161.6 338.5h0.55v0.55h-0.55zM168.4 338.2h0.55v0.55h-0.55zM147.7 334.0h0.55v0.55h-0.55zM148.7 344.9h0.55v0.55h-0.55zM198.0 334.4h0.55v0.55h-0.55zM149.1 338.8h0.55v0.55h-0.55zM166.6 326.8h0.55v0.55h-0.55zM171.0 340.6h0.55v0.55h-0.55zM176.9 345.8h0.55v0.55h-0.55zM166.1 320.8h0.55v0.55h-0.55zM159.6 325.7h0.55v0.55h-0.55zM140.0 331.5h0.55v0.55h-0.55zM161.7 345.8h0.55v0.55h-0.55zM174.3 332.6h0.55v0.55h-0.55zM176.8 331.9h0.55v0.55h-0.55zM141.0 329.0h0.55v0.55h-0.55zM169.9 329.3h0.55v0.55h-0.55zM159.9 335.6h0.55v0.55h-0.55zM138.1 326.1h0.55v0.55h-0.55zM168.8 335.0h0.55v0.55h-0.55zM183.5 329.2h0.55v0.55h-0.55zM144.5 324.8h0.55v0.55h-0.55zM140.4 330.4h0.55v0.55h-0.55zM135.0 350.4h0.55v0.55h-0.55zM155.6 326.4h0.55v0.55h-0.55zM145.0 329.5h0.55v0.55h-0.55zM142.3 329.9h0.55v0.55h-0.55zM135.8 338.7h0.55v0.55h-0.55zM161.5 332.3h0.55v0.55h-0.55zM155.9 332.0h0.55v0.55h-0.55zM139.1 329.3h0.55v0.55h-0.55zM166.9 330.9h0.55v0.55h-0.55zM183.2 341.0h0.55v0.55h-0.55zM153.9 338.9h0.55v0.55h-0.55zM159.3 334.1h0.55v0.55h-0.55zM168.7 330.3h0.55v0.55h-0.55zM162.9 331.1h0.55v0.55h-0.55zM195.3 337.8h0.55v0.55h-0.55zM145.9 318.7h0.55v0.55h-0.55zM153.0 342.5h0.55v0.55h-0.55zM151.4 338.2h0.55v0.55h-0.55zM175.8 333.7h0.55v0.55h-0.55zM172.1 330.4h0.55v0.55h-0.55zM152.6 329.0h0.55v0.55h-0.55zM162.2 335.4h0.55v0.55h-0.55zM152.9 335.4h0.55v0.55h-0.55zM142.6 348.2h0.55v0.55h-0.55zM181.9 328.1h0.55v0.55h-0.55zM138.6 330.3h0.55v0.55h-0.55zM150.7 348.9h0.55v0.55h-0.55zM167.5 330.2h0.55v0.55h-0.55zM171.3 327.0h0.55v0.55h-0.55zM134.8 348.5h0.55v0.55h-0.55zM168.6 343.7h0.55v0.55h-0.55zM172.7 334.7h0.55v0.55h-0.55zM165.3 328.5h0.55v0.55h-0.55zM198.6 335.6h0.55v0.55h-0.55zM134.8 321.1h0.55v0.55h-0.55zM191.6 331.5h0.55v0.55h-0.55zM134.7 316.8h0.55v0.55h-0.55zM147.0 330.8h0.55v0.55h-0.55zM164.8 325.3h0.55v0.55h-0.55zM160.3 330.3h0.55v0.55h-0.55zM168.3 322.8h0.55v0.55h-0.55zM142.5 323.1h0.55v0.55h-0.55zM141.5 323.2h0.55v0.55h-0.55zM158.1 342.4h0.55v0.55h-0.55zM150.4 324.3h0.55v0.55h-0.55zM143.8 322.6h0.55v0.55h-0.55zM163.8 326.2h0.55v0.55h-0.55zM166.2 338.7h0.55v0.55h-0.55zM146.0 311.9h0.55v0.55h-0.55zM153.2 320.1h0.55v0.55h-0.55zM140.3 333.7h0.55v0.55h-0.55zM146.8 333.3h0.55v0.55h-0.55zM158.0 329.0h0.55v0.55h-0.55zM168.7 324.0h0.55v0.55h-0.55zM156.2 347.3h0.55v0.55h-0.55zM139.1 335.7h0.55v0.55h-0.55zM156.2 326.7h0.55v0.55h-0.55zM159.6 327.4h0.55v0.55h-0.55zM138.3 333.1h0.55v0.55h-0.55zM164.9 333.8h0.55v0.55h-0.55zM136.0 328.7h0.55v0.55h-0.55zM148.8 341.5h0.55v0.55h-0.55zM191.4 321.7h0.55v0.55h-0.55zM161.3 323.3h0.55v0.55h-0.55zM151.1 329.0h0.55v0.55h-0.55zM146.4 328.2h0.55v0.55h-0.55zM150.7 348.6h0.55v0.55h-0.55zM173.5 326.8h0.55v0.55h-0.55zM155.3 333.6h0.55v0.55h-0.55zM169.2 331.8h0.55v0.55h-0.55zM136.7 351.9h0.55v0.55h-0.55zM151.0 331.3h0.55v0.55h-0.55zM136.4 350.8h0.55v0.55h-0.55zM137.4 324.8h0.55v0.55h-0.55zM151.1 328.5h0.55v0.55h-0.55zM157.4 323.0h0.55v0.55h-0.55zM150.0 331.6h0.55v0.55h-0.55zM159.4 337.5h0.55v0.55h-0.55zM145.0 336.7h0.55v0.55h-0.55zM147.4 346.1h0.55v0.55h-0.55zM180.4 325.6h0.55v0.55h-0.55zM169.8 322.6h0.55v0.55h-0.55zM146.4 336.9h0.55v0.55h-0.55zM134.4 331.5h0.55v0.55h-0.55zM174.5 338.7h0.55v0.55h-0.55zM139.7 338.1h0.55v0.55h-0.55zM174.7 340.9h0.55v0.55h-0.55zM189.2 332.9h0.55v0.55h-0.55zM145.9 343.8h0.55v0.55h-0.55zM147.6 332.8h0.55v0.55h-0.55zM150.2 330.5h0.55v0.55h-0.55zM152.8 314.2h0.55v0.55h-0.55zM148.1 334.1h0.55v0.55h-0.55zM144.6 332.4h0.55v0.55h-0.55zM145.7 320.9h0.55v0.55h-0.55zM140.7 324.1h0.55v0.55h-0.55zM189.9 334.4h0.55v0.55h-0.55zM141.2 342.0h0.55v0.55h-0.55zM159.3 340.2h0.55v0.55h-0.55zM151.5 333.4h0.55v0.55h-0.55zM157.8 334.0h0.55v0.55h-0.55zM137.3 326.2h0.55v0.55h-0.55zM139.1 346.0h0.55v0.55h-0.55zM166.2 320.8h0.55v0.55h-0.55zM166.2 319.3h0.55v0.55h-0.55zM168.2 347.2h0.55v0.55h-0.55zM147.4 332.9h0.55v0.55h-0.55zM171.1 340.3h0.55v0.55h-0.55zM194.9 331.6h0.55v0.55h-0.55zM152.9 326.4h0.55v0.55h-0.55zM176.3 328.7h0.55v0.55h-0.55zM145.4 343.6h0.55v0.55h-0.55zM139.0 332.2h0.55v0.55h-0.55zM161.7 321.5h0.55v0.55h-0.55zM163.0 321.1h0.55v0.55h-0.55zM162.8 342.5h0.55v0.55h-0.55zM174.3 330.6h0.55v0.55h-0.55zM156.4 332.9h0.55v0.55h-0.55zM168.8 336.4h0.55v0.55h-0.55zM147.0 330.9h0.55v0.55h-0.55zM158.8 315.1h0.55v0.55h-0.55zM165.3 344.9h0.55v0.55h-0.55zM146.7 338.7h0.55v0.55h-0.55zM184.8 326.2h0.55v0.55h-0.55zM145.4 331.1h0.55v0.55h-0.55zM165.8 327.4h0.55v0.55h-0.55zM137.5 324.7h0.55v0.55h-0.55zM140.0 335.8h0.55v0.55h-0.55zM145.2 341.6h0.55v0.55h-0.55zM167.5 338.3h0.55v0.55h-0.55zM146.2 324.5h0.55v0.55h-0.55zM169.1 326.7h0.55v0.55h-0.55zM143.7 337.2h0.55v0.55h-0.55zM172.0 328.9h0.55v0.55h-0.55zM173.5 335.1h0.55v0.55h-0.55zM154.3 338.6h0.55v0.55h-0.55zM135.9 324.7h0.55v0.55h-0.55zM137.9 344.7h0.55v0.55h-0.55zM143.5 329.6h0.55v0.55h-0.55zM155.7 319.6h0.55v0.55h-0.55zM151.5 344.3h0.55v0.55h-0.55zM164.7 322.9h0.55v0.55h-0.55zM156.8 330.2h0.55v0.55h-0.55zM153.9 331.9h0.55v0.55h-0.55zM160.5 334.4h0.55v0.55h-0.55zM149.4 336.3h0.55v0.55h-0.55zM149.1 339.8h0.55v0.55h-0.55zM175.3 327.1h0.55v0.55h-0.55zM136.0 345.2h0.55v0.55h-0.55zM144.1 338.0h0.55v0.55h-0.55zM177.7 346.5h0.55v0.55h-0.55zM180.4 326.4h0.55v0.55h-0.55zM141.3 337.0h0.55v0.55h-0.55zM152.1 336.8h0.55v0.55h-0.55zM136.9 332.6h0.55v0.55h-0.55zM170.4 337.7h0.55v0.55h-0.55zM142.8 326.5h0.55v0.55h-0.55zM182.1 332.1h0.55v0.55h-0.55zM151.1 337.5h0.55v0.55h-0.55zM146.0 338.3h0.55v0.55h-0.55zM136.1 339.9h0.55v0.55h-0.55zM137.5 344.3h0.55v0.55h-0.55zM143.0 324.2h0.55v0.55h-0.55zM160.8 337.0h0.55v0.55h-0.55zM159.2 319.5h0.55v0.55h-0.55zM150.6 331.5h0.55v0.55h-0.55zM141.7 324.2h0.55v0.55h-0.55zM163.3 327.2h0.55v0.55h-0.55zM155.2 328.4h0.55v0.55h-0.55zM137.1 332.6h0.55v0.55h-0.55zM184.6 325.6h0.55v0.55h-0.55zM145.3 333.0h0.55v0.55h-0.55zM150.8 322.6h0.55v0.55h-0.55zM171.9 334.1h0.55v0.55h-0.55zM144.4 337.7h0.55v0.55h-0.55zM151.4 318.1h0.55v0.55h-0.55zM162.6 331.1h0.55v0.55h-0.55zM189.7 329.6h0.55v0.55h-0.55zM190.9 331.3h0.55v0.55h-0.55zM139.4 335.3h0.55v0.55h-0.55zM139.8 326.9h0.55v0.55h-0.55zM177.9 330.8h0.55v0.55h-0.55zM142.2 325.7h0.55v0.55h-0.55zM135.8 329.0h0.55v0.55h-0.55zM187.3 326.5h0.55v0.55h-0.55zM156.0 329.8h0.55v0.55h-0.55zM177.5 331.8h0.55v0.55h-0.55zM148.8 312.5h0.55v0.55h-0.55zM166.4 327.7h0.55v0.55h-0.55zM148.4 322.0h0.55v0.55h-0.55zM134.7 340.4h0.55v0.55h-0.55zM134.5 334.4h0.55v0.55h-0.55zM153.9 325.7h0.55v0.55h-0.55zM141.4 330.3h0.55v0.55h-0.55zM137.7 325.4h0.55v0.55h-0.55zM144.1 339.3h0.55v0.55h-0.55zM171.5 329.0h0.55v0.55h-0.55zM150.9 333.2h0.55v0.55h-0.55zM158.7 334.5h0.55v0.55h-0.55zM162.9 330.5h0.55v0.55h-0.55zM159.1 315.9h0.55v0.55h-0.55zM156.7 334.3h0.55v0.55h-0.55zM150.8 335.3h0.55v0.55h-0.55zM164.3 340.5h0.55v0.55h-0.55zM161.6 341.9h0.55v0.55h-0.55zM145.4 345.6h0.55v0.55h-0.55zM156.0 346.0h0.55v0.55h-0.55zM178.6 338.8h0.55v0.55h-0.55zM168.9 329.8h0.55v0.55h-0.55zM159.6 333.1h0.55v0.55h-0.55zM172.8 330.3h0.55v0.55h-0.55zM135.6 320.2h0.55v0.55h-0.55zM188.8 326.7h0.55v0.55h-0.55zM161.4 324.5h0.55v0.55h-0.55zM136.6 332.8h0.55v0.55h-0.55zM145.9 346.8h0.55v0.55h-0.55zM160.6 319.9h0.55v0.55h-0.55zM139.1 330.4h0.55v0.55h-0.55zM154.4 333.2h0.55v0.55h-0.55zM169.6 333.2h0.55v0.55h-0.55zM186.3 325.7h0.55v0.55h-0.55zM165.3 339.6h0.55v0.55h-0.55zM152.8 320.2h0.55v0.55h-0.55zM150.9 335.6h0.55v0.55h-0.55zM178.1 321.5h0.55v0.55h-0.55zM141.1 319.7h0.55v0.55h-0.55zM155.3 333.5h0.55v0.55h-0.55zM135.3 339.7h0.55v0.55h-0.55zM142.5 346.4h0.55v0.55h-0.55zM141.2 326.4h0.55v0.55h-0.55zM134.7 331.8h0.55v0.55h-0.55zM168.3 329.1h0.55v0.55h-0.55zM147.4 325.8h0.55v0.55h-0.55zM153.9 314.6h0.55v0.55h-0.55zM138.0 337.2h0.55v0.55h-0.55zM138.8 324.5h0.55v0.55h-0.55zM158.8 338.3h0.55v0.55h-0.55zM141.2 338.4h0.55v0.55h-0.55zM136.4 336.2h0.55v0.55h-0.55zM148.6 320.9h0.55v0.55h-0.55zM146.8 325.4h0.55v0.55h-0.55zM144.9 307.5h0.55v0.55h-0.55zM142.0 332.0h0.55v0.55h-0.55zM138.3 336.1h0.55v0.55h-0.55zM173.0 333.8h0.55v0.55h-0.55zM153.6 326.6h0.55v0.55h-0.55zM170.8 329.5h0.55v0.55h-0.55zM162.4 331.8h0.55v0.55h-0.55zM141.6 328.4h0.55v0.55h-0.55zM172.0 329.5h0.55v0.55h-0.55zM138.0 346.2h0.55v0.55h-0.55zM154.3 339.5h0.55v0.55h-0.55zM158.1 325.7h0.55v0.55h-0.55zM144.2 337.2h0.55v0.55h-0.55zM161.7 340.8h0.55v0.55h-0.55zM150.5 334.6h0.55v0.55h-0.55zM146.2 339.1h0.55v0.55h-0.55zM157.4 341.0h0.55v0.55h-0.55zM157.6 333.4h0.55v0.55h-0.55zM193.8 332.1h0.55v0.55h-0.55zM146.8 333.3h0.55v0.55h-0.55zM146.9 348.3h0.55v0.55h-0.55zM176.0 327.0h0.55v0.55h-0.55zM148.0 349.5h0.55v0.55h-0.55zM146.9 332.9h0.55v0.55h-0.55zM160.5 339.2h0.55v0.55h-0.55zM165.5 325.5h0.55v0.55h-0.55zM176.7 328.0h0.55v0.55h-0.55zM134.7 325.6h0.55v0.55h-0.55zM185.2 323.7h0.55v0.55h-0.55zM139.2 328.3h0.55v0.55h-0.55zM141.3 320.2h0.55v0.55h-0.55zM154.7 330.3h0.55v0.55h-0.55zM141.0 314.0h0.55v0.55h-0.55zM136.8 323.3h0.55v0.55h-0.55zM135.0 327.6h0.55v0.55h-0.55zM136.8 329.7h0.55v0.55h-0.55zM146.7 332.2h0.55v0.55h-0.55zM178.5 314.6h0.55v0.55h-0.55zM172.0 334.3h0.55v0.55h-0.55zM178.4 324.7h0.55v0.55h-0.55zM182.9 329.5h0.55v0.55h-0.55zM139.1 335.4h0.55v0.55h-0.55zM151.1 327.3h0.55v0.55h-0.55zM136.9 311.4h0.55v0.55h-0.55zM142.7 337.7h0.55v0.55h-0.55zM180.0 338.6h0.55v0.55h-0.55zM184.8 314.5h0.55v0.55h-0.55zM139.4 346.0h0.55v0.55h-0.55zM152.3 325.6h0.55v0.55h-0.55zM150.5 328.5h0.55v0.55h-0.55zM152.1 324.2h0.55v0.55h-0.55zM173.3 333.0h0.55v0.55h-0.55zM154.8 347.0h0.55v0.55h-0.55zM161.7 334.3h0.55v0.55h-0.55zM140.1 317.2h0.55v0.55h-0.55zM147.8 313.2h0.55v0.55h-0.55zM144.0 322.7h0.55v0.55h-0.55zM167.4 319.2h0.55v0.55h-0.55zM171.2 336.0h0.55v0.55h-0.55zM161.0 330.5h0.55v0.55h-0.55zM150.3 337.2h0.55v0.55h-0.55zM134.0 310.2h0.55v0.55h-0.55zM179.1 331.0h0.55v0.55h-0.55zM170.9 321.9h0.55v0.55h-0.55zM155.1 343.9h0.55v0.55h-0.55zM164.7 321.8h0.55v0.55h-0.55zM140.9 347.3h0.55v0.55h-0.55zM156.1 338.1h0.55v0.55h-0.55zM138.9 316.9h0.55v0.55h-0.55zM159.4 341.4h0.55v0.55h-0.55zM151.1 334.3h0.55v0.55h-0.55zM161.0 315.0h0.55v0.55h-0.55zM135.2 349.7h0.55v0.55h-0.55zM147.1 342.3h0.55v0.55h-0.55zM140.6 335.4h0.55v0.55h-0.55zM165.2 336.3h0.55v0.55h-0.55zM141.5 328.3h0.55v0.55h-0.55zM134.6 332.9h0.55v0.55h-0.55zM139.5 339.7h0.55v0.55h-0.55zM161.2 313.6h0.55v0.55h-0.55zM140.8 343.2h0.55v0.55h-0.55zM165.0 330.6h0.55v0.55h-0.55zM198.0 328.3h0.55v0.55h-0.55zM160.8 334.1h0.55v0.55h-0.55zM172.5 330.0h0.55v0.55h-0.55zM183.1 329.5h0.55v0.55h-0.55zM158.4 337.7h0.55v0.55h-0.55zM142.0 326.7h0.55v0.55h-0.55zM151.2 343.4h0.55v0.55h-0.55zM154.8 341.0h0.55v0.55h-0.55zM146.3 336.4h0.55v0.55h-0.55zM157.8 345.3h0.55v0.55h-0.55zM162.3 324.5h0.55v0.55h-0.55zM152.9 325.4h0.55v0.55h-0.55zM169.9 330.4h0.55v0.55h-0.55zM141.0 329.3h0.55v0.55h-0.55zM134.0 345.9h0.55v0.55h-0.55zM174.5 328.7h0.55v0.55h-0.55zM180.2 336.4h0.55v0.55h-0.55zM142.5 345.0h0.55v0.55h-0.55zM137.5 335.4h0.55v0.55h-0.55zM138.4 320.4h0.55v0.55h-0.55zM167.3 324.2h0.55v0.55h-0.55zM157.3 326.9h0.55v0.55h-0.55zM148.5 342.5h0.55v0.55h-0.55zM134.5 340.2h0.55v0.55h-0.55zM143.2 323.6h0.55v0.55h-0.55zM141.4 317.2h0.55v0.55h-0.55zM180.3 334.7h0.55v0.55h-0.55zM135.1 332.8h0.55v0.55h-0.55zM160.1 320.2h0.55v0.55h-0.55zM138.5 309.2h0.55v0.55h-0.55zM157.9 337.1h0.55v0.55h-0.55zM175.6 322.0h0.55v0.55h-0.55zM142.8 348.3h0.55v0.55h-0.55zM153.9 330.1h0.55v0.55h-0.55zM150.0 332.6h0.55v0.55h-0.55zM145.5 326.6h0.55v0.55h-0.55zM145.3 330.6h0.55v0.55h-0.55zM153.9 326.8h0.55v0.55h-0.55zM155.5 328.1h0.55v0.55h-0.55zM165.0 340.0h0.55v0.55h-0.55zM153.5 352.6h0.55v0.55h-0.55zM143.2 325.2h0.55v0.55h-0.55zM168.1 332.6h0.55v0.55h-0.55zM137.0 324.0h0.55v0.55h-0.55zM163.9 327.9h0.55v0.55h-0.55zM163.3 326.3h0.55v0.55h-0.55zM158.3 335.6h0.55v0.55h-0.55zM146.7 331.4h0.55v0.55h-0.55zM170.1 340.4h0.55v0.55h-0.55zM138.6 328.2h0.55v0.55h-0.55zM159.3 337.0h0.55v0.55h-0.55zM146.0 325.7h0.55v0.55h-0.55zM176.8 325.1h0.55v0.55h-0.55zM165.4 333.2h0.55v0.55h-0.55zM171.3 329.7h0.55v0.55h-0.55zM147.8 327.8h0.55v0.55h-0.55zM135.7 330.8h0.55v0.55h-0.55zM144.5 325.4h0.55v0.55h-0.55zM182.8 334.1h0.55v0.55h-0.55zM172.9 329.9h0.55v0.55h-0.55zM138.8 321.9h0.55v0.55h-0.55zM134.6 347.5h0.55v0.55h-0.55zM141.7 324.6h0.55v0.55h-0.55zM149.2 337.3h0.55v0.55h-0.55zM139.0 352.3h0.55v0.55h-0.55zM139.7 332.1h0.55v0.55h-0.55zM153.1 346.7h0.55v0.55h-0.55zM175.1 326.5h0.55v0.55h-0.55zM152.9 313.9h0.55v0.55h-0.55zM138.9 330.9h0.55v0.55h-0.55zM156.3 337.5h0.55v0.55h-0.55zM151.1 337.4h0.55v0.55h-0.55zM173.4 329.4h0.55v0.55h-0.55zM158.5 336.3h0.55v0.55h-0.55zM160.8 336.1h0.55v0.55h-0.55zM154.7 340.7h0.55v0.55h-0.55zM145.1 323.0h0.55v0.55h-0.55zM147.4 315.1h0.55v0.55h-0.55zM158.5 327.3h0.55v0.55h-0.55zM138.6 353.3h0.55v0.55h-0.55zM155.6 332.0h0.55v0.55h-0.55zM155.9 315.7h0.55v0.55h-0.55zM160.1 331.1h0.55v0.55h-0.55zM135.9 339.8h0.55v0.55h-0.55zM139.7 338.8h0.55v0.55h-0.55zM167.5 326.4h0.55v0.55h-0.55zM145.4 333.3h0.55v0.55h-0.55zM162.1 352.6h0.55v0.55h-0.55zM160.8 345.1h0.55v0.55h-0.55zM136.8 338.7h0.55v0.55h-0.55zM144.0 330.6h0.55v0.55h-0.55zM167.1 332.0h0.55v0.55h-0.55zM157.7 344.7h0.55v0.55h-0.55zM145.9 326.5h0.55v0.55h-0.55zM143.9 342.7h0.55v0.55h-0.55zM171.9 333.4h0.55v0.55h-0.55zM137.7 322.8h0.55v0.55h-0.55zM161.8 328.6h0.55v0.55h-0.55zM161.8 333.6h0.55v0.55h-0.55zM150.9 330.9h0.55v0.55h-0.55zM160.5 324.0h0.55v0.55h-0.55zM155.9 331.1h0.55v0.55h-0.55zM148.5 337.6h0.55v0.55h-0.55zM159.8 321.8h0.55v0.55h-0.55zM136.8 329.6h0.55v0.55h-0.55zM141.3 316.8h0.55v0.55h-0.55zM147.6 321.4h0.55v0.55h-0.55zM176.0 316.6h0.55v0.55h-0.55zM158.9 327.3h0.55v0.55h-0.55zM180.9 328.7h0.55v0.55h-0.55zM154.7 318.0h0.55v0.55h-0.55zM147.3 344.1h0.55v0.55h-0.55zM137.1 345.4h0.55v0.55h-0.55zM167.2 332.9h0.55v0.55h-0.55zM142.4 310.4h0.55v0.55h-0.55zM188.6 333.3h0.55v0.55h-0.55zM135.3 333.5h0.55v0.55h-0.55zM157.4 329.3h0.55v0.55h-0.55zM162.9 339.0h0.55v0.55h-0.55zM135.9 311.4h0.55v0.55h-0.55zM149.9 343.1h0.55v0.55h-0.55zM162.1 322.6h0.55v0.55h-0.55zM160.1 327.1h0.55v0.55h-0.55zM136.0 330.1h0.55v0.55h-0.55zM137.7 326.0h0.55v0.55h-0.55zM150.7 344.7h0.55v0.55h-0.55zM157.7 334.3h0.55v0.55h-0.55zM141.7 333.5h0.55v0.55h-0.55zM135.4 336.7h0.55v0.55h-0.55zM140.0 325.6h0.55v0.55h-0.55zM154.7 338.5h0.55v0.55h-0.55zM148.0 315.2h0.55v0.55h-0.55zM146.8 327.0h0.55v0.55h-0.55zM156.5 340.7h0.55v0.55h-0.55zM162.9 342.1h0.55v0.55h-0.55zM142.8 346.8h0.55v0.55h-0.55zM147.8 338.0h0.55v0.55h-0.55zM153.1 345.9h0.55v0.55h-0.55zM167.8 331.7h0.55v0.55h-0.55zM137.1 329.9h0.55v0.55h-0.55zM157.1 329.8h0.55v0.55h-0.55zM136.0 351.4h0.55v0.55h-0.55zM135.2 342.7h0.55v0.55h-0.55zM147.5 334.1h0.55v0.55h-0.55zM134.9 332.8h0.55v0.55h-0.55zM172.0 332.0h0.55v0.55h-0.55zM168.2 350.1h0.55v0.55h-0.55zM146.2 335.3h0.55v0.55h-0.55zM174.2 329.8h0.55v0.55h-0.55zM140.1 330.5h0.55v0.55h-0.55zM160.3 337.5h0.55v0.55h-0.55zM168.5 341.0h0.55v0.55h-0.55zM134.4 327.6h0.55v0.55h-0.55zM174.7 334.6h0.55v0.55h-0.55zM143.5 317.9h0.55v0.55h-0.55zM177.9 330.3h0.55v0.55h-0.55zM174.2 341.0h0.55v0.55h-0.55zM161.7 324.5h0.55v0.55h-0.55zM171.5 324.7h0.55v0.55h-0.55zM141.7 321.3h0.55v0.55h-0.55zM140.6 321.8h0.55v0.55h-0.55zM137.5 309.3h0.55v0.55h-0.55zM149.0 331.0h0.55v0.55h-0.55zM149.5 328.4h0.55v0.55h-0.55zM136.0 335.1h0.55v0.55h-0.55zM157.9 336.3h0.55v0.55h-0.55zM140.9 326.4h0.55v0.55h-0.55zM167.2 341.8h0.55v0.55h-0.55zM161.6 333.3h0.55v0.55h-0.55zM161.5 343.8h0.55v0.55h-0.55zM138.5 337.4h0.55v0.55h-0.55zM148.1 336.2h0.55v0.55h-0.55zM137.9 327.1h0.55v0.55h-0.55zM153.4 333.7h0.55v0.55h-0.55zM176.2 335.2h0.55v0.55h-0.55zM135.7 319.2h0.55v0.55h-0.55zM137.8 334.5h0.55v0.55h-0.55zM138.4 324.6h0.55v0.55h-0.55zM136.6 347.7h0.55v0.55h-0.55zM164.8 335.9h0.55v0.55h-0.55zM168.7 339.1h0.55v0.55h-0.55zM140.9 331.7h0.55v0.55h-0.55zM142.5 325.4h0.55v0.55h-0.55zM152.3 340.5h0.55v0.55h-0.55zM171.7 324.6h0.55v0.55h-0.55zM153.5 338.1h0.55v0.55h-0.55zM156.1 325.0h0.55v0.55h-0.55zM136.0 350.4h0.55v0.55h-0.55zM171.8 329.4h0.55v0.55h-0.55zM149.3 330.8h0.55v0.55h-0.55zM180.9 333.7h0.55v0.55h-0.55zM145.6 341.5h0.55v0.55h-0.55zM156.0 334.5h0.55v0.55h-0.55zM150.9 326.8h0.55v0.55h-0.55zM179.4 325.4h0.55v0.55h-0.55zM137.6 335.6h0.55v0.55h-0.55zM183.0 333.9h0.55v0.55h-0.55zM146.1 334.3h0.55v0.55h-0.55zM178.9 335.8h0.55v0.55h-0.55zM150.6 352.2h0.55v0.55h-0.55zM157.7 341.7h0.55v0.55h-0.55zM156.5 342.7h0.55v0.55h-0.55zM147.5 337.8h0.55v0.55h-0.55zM141.0 334.5h0.55v0.55h-0.55zM189.4 332.6h0.55v0.55h-0.55zM137.7 337.9h0.55v0.55h-0.55zM158.6 333.6h0.55v0.55h-0.55zM161.1 337.2h0.55v0.55h-0.55zM149.8 333.5h0.55v0.55h-0.55zM160.6 324.4h0.55v0.55h-0.55zM135.2 324.3h0.55v0.55h-0.55zM141.4 316.9h0.55v0.55h-0.55zM136.6 325.5h0.55v0.55h-0.55zM162.3 329.1h0.55v0.55h-0.55zM187.4 339.4h0.55v0.55h-0.55zM153.7 350.2h0.55v0.55h-0.55zM136.7 335.9h0.55v0.55h-0.55zM167.9 331.1h0.55v0.55h-0.55zM151.8 320.2h0.55v0.55h-0.55zM163.5 342.9h0.55v0.55h-0.55zM149.0 331.5h0.55v0.55h-0.55zM155.7 327.8h0.55v0.55h-0.55zM149.2 330.4h0.55v0.55h-0.55zM134.3 340.2h0.55v0.55h-0.55zM137.0 330.1h0.55v0.55h-0.55zM157.7 336.5h0.55v0.55h-0.55zM143.7 328.4h0.55v0.55h-0.55zM183.0 330.8h0.55v0.55h-0.55zM190.6 340.9h0.55v0.55h-0.55zM134.8 344.2h0.55v0.55h-0.55zM141.5 339.6h0.55v0.55h-0.55zM176.3 337.6h0.55v0.55h-0.55zM163.1 318.7h0.55v0.55h-0.55zM150.9 332.9h0.55v0.55h-0.55zM167.6 315.9h0.55v0.55h-0.55zM153.8 329.5h0.55v0.55h-0.55zM186.4 330.1h0.55v0.55h-0.55zM150.0 320.1h0.55v0.55h-0.55zM134.4 329.3h0.55v0.55h-0.55zM136.6 333.2h0.55v0.55h-0.55zM163.8 335.0h0.55v0.55h-0.55zM183.7 333.4h0.55v0.55h-0.55zM175.9 328.4h0.55v0.55h-0.55zM178.9 329.3h0.55v0.55h-0.55zM134.8 317.1h0.55v0.55h-0.55zM179.6 330.0h0.55v0.55h-0.55zM138.6 323.6h0.55v0.55h-0.55zM139.2 326.6h0.55v0.55h-0.55zM193.5 329.1h0.55v0.55h-0.55zM145.2 352.0h0.55v0.55h-0.55zM177.5 333.2h0.55v0.55h-0.55zM139.1 334.7h0.55v0.55h-0.55zM134.2 346.1h0.55v0.55h-0.55zM161.2 325.1h0.55v0.55h-0.55zM160.1 330.8h0.55v0.55h-0.55zM176.7 331.9h0.55v0.55h-0.55zM150.7 325.6h0.55v0.55h-0.55zM145.5 324.1h0.55v0.55h-0.55zM134.2 335.5h0.55v0.55h-0.55zM164.6 338.5h0.55v0.55h-0.55zM163.4 331.5h0.55v0.55h-0.55zM137.7 320.8h0.55v0.55h-0.55zM146.5 320.6h0.55v0.55h-0.55zM157.1 329.5h0.55v0.55h-0.55zM177.1 336.6h0.55v0.55h-0.55zM147.7 348.3h0.55v0.55h-0.55zM141.0 337.2h0.55v0.55h-0.55zM167.2 329.0h0.55v0.55h-0.55zM141.4 339.5h0.55v0.55h-0.55zM166.0 331.9h0.55v0.55h-0.55zM141.0 321.9h0.55v0.55h-0.55zM155.1 329.7h0.55v0.55h-0.55zM158.9 346.5h0.55v0.55h-0.55zM143.6 324.4h0.55v0.55h-0.55zM162.7 338.0h0.55v0.55h-0.55zM168.2 336.4h0.55v0.55h-0.55zM175.0 331.6h0.55v0.55h-0.55zM147.4 333.0h0.55v0.55h-0.55zM168.6 329.4h0.55v0.55h-0.55zM152.1 313.9h0.55v0.55h-0.55zM135.5 336.9h0.55v0.55h-0.55zM166.8 330.0h0.55v0.55h-0.55zM162.0 324.4h0.55v0.55h-0.55zM163.8 325.4h0.55v0.55h-0.55zM139.7 317.8h0.55v0.55h-0.55zM177.1 328.4h0.55v0.55h-0.55zM161.6 330.5h0.55v0.55h-0.55zM138.9 338.6h0.55v0.55h-0.55zM167.1 334.8h0.55v0.55h-0.55zM145.2 321.9h0.55v0.55h-0.55zM160.9 330.1h0.55v0.55h-0.55zM167.0 332.5h0.55v0.55h-0.55zM145.0 325.9h0.55v0.55h-0.55zM134.9 325.1h0.55v0.55h-0.55zM158.2 326.6h0.55v0.55h-0.55zM169.6 328.8h0.55v0.55h-0.55zM137.0 325.1h0.55v0.55h-0.55zM194.3 319.0h0.55v0.55h-0.55zM154.9 341.6h0.55v0.55h-0.55zM163.7 346.7h0.55v0.55h-0.55zM173.3 319.2h0.55v0.55h-0.55zM137.0 321.9h0.55v0.55h-0.55zM140.4 329.4h0.55v0.55h-0.55zM161.0 338.8h0.55v0.55h-0.55zM135.3 323.3h0.55v0.55h-0.55zM142.2 332.3h0.55v0.55h-0.55zM146.5 340.1h0.55v0.55h-0.55zM168.4 325.1h0.55v0.55h-0.55zM167.4 322.8h0.55v0.55h-0.55zM148.0 316.6h0.55v0.55h-0.55zM142.1 348.5h0.55v0.55h-0.55zM167.9 326.3h0.55v0.55h-0.55zM163.4 332.2h0.55v0.55h-0.55zM160.9 319.2h0.55v0.55h-0.55zM152.8 349.0h0.55v0.55h-0.55zM143.4 331.1h0.55v0.55h-0.55zM147.8 313.0h0.55v0.55h-0.55zM160.2 335.7h0.55v0.55h-0.55zM136.3 338.7h0.55v0.55h-0.55zM162.3 330.0h0.55v0.55h-0.55zM156.5 321.3h0.55v0.55h-0.55zM150.0 347.1h0.55v0.55h-0.55zM160.3 334.7h0.55v0.55h-0.55zM148.8 343.9h0.55v0.55h-0.55zM154.1 317.7h0.55v0.55h-0.55zM144.8 323.8h0.55v0.55h-0.55zM169.7 328.8h0.55v0.55h-0.55zM136.9 332.9h0.55v0.55h-0.55zM141.7 310.8h0.55v0.55h-0.55zM194.1 334.3h0.55v0.55h-0.55zM167.9 335.4h0.55v0.55h-0.55zM164.7 339.2h0.55v0.55h-0.55zM161.5 342.5h0.55v0.55h-0.55zM140.5 339.9h0.55v0.55h-0.55zM157.9 336.8h0.55v0.55h-0.55zM189.9 339.9h0.55v0.55h-0.55zM168.5 331.1h0.55v0.55h-0.55zM157.0 339.9h0.55v0.55h-0.55zM136.9 316.0h0.55v0.55h-0.55zM169.1 329.1h0.55v0.55h-0.55zM171.8 343.5h0.55v0.55h-0.55zM164.5 340.3h0.55v0.55h-0.55zM145.5 338.4h0.55v0.55h-0.55zM143.1 312.2h0.55v0.55h-0.55zM153.9 327.6h0.55v0.55h-0.55zM157.1 332.7h0.55v0.55h-0.55zM135.8 339.0h0.55v0.55h-0.55zM193.5 327.4h0.55v0.55h-0.55zM154.8 348.1h0.55v0.55h-0.55zM134.4 315.2h0.55v0.55h-0.55zM135.0 344.8h0.55v0.55h-0.55zM150.7 318.7h0.55v0.55h-0.55zM142.3 330.6h0.55v0.55h-0.55zM146.7 340.1h0.55v0.55h-0.55zM184.0 329.4h0.55v0.55h-0.55zM159.7 319.5h0.55v0.55h-0.55zM144.9 326.5h0.55v0.55h-0.55zM188.1 318.2h0.55v0.55h-0.55zM148.7 340.9h0.55v0.55h-0.55zM169.8 343.6h0.55v0.55h-0.55zM148.3 333.2h0.55v0.55h-0.55zM161.4 340.8h0.55v0.55h-0.55zM140.1 331.3h0.55v0.55h-0.55zM142.8 324.6h0.55v0.55h-0.55zM170.9 334.5h0.55v0.55h-0.55zM151.7 320.9h0.55v0.55h-0.55zM138.6 333.1h0.55v0.55h-0.55zM139.2 320.1h0.55v0.55h-0.55zM168.5 332.7h0.55v0.55h-0.55zM160.4 336.9h0.55v0.55h-0.55zM138.8 325.0h0.55v0.55h-0.55zM169.8 339.1h0.55v0.55h-0.55zM140.1 345.8h0.55v0.55h-0.55zM173.5 336.2h0.55v0.55h-0.55zM136.5 342.9h0.55v0.55h-0.55zM180.8 331.5h0.55v0.55h-0.55zM153.3 347.0h0.55v0.55h-0.55zM159.3 338.1h0.55v0.55h-0.55zM137.1 338.2h0.55v0.55h-0.55zM160.7 331.3h0.55v0.55h-0.55zM147.2 348.6h0.55v0.55h-0.55zM156.0 337.7h0.55v0.55h-0.55zM139.4 333.8h0.55v0.55h-0.55zM165.1 331.0h0.55v0.55h-0.55zM142.7 327.4h0.55v0.55h-0.55zM140.2 334.6h0.55v0.55h-0.55zM135.9 330.9h0.55v0.55h-0.55zM198.0 326.3h0.55v0.55h-0.55zM141.1 339.8h0.55v0.55h-0.55zM136.7 334.1h0.55v0.55h-0.55zM166.6 333.5h0.55v0.55h-0.55zM157.0 325.2h0.55v0.55h-0.55zM147.1 341.0h0.55v0.55h-0.55zM137.8 334.3h0.55v0.55h-0.55zM172.8 341.5h0.55v0.55h-0.55zM197.5 340.0h0.55v0.55h-0.55zM180.8 312.5h0.55v0.55h-0.55zM153.2 327.6h0.55v0.55h-0.55zM135.9 326.2h0.55v0.55h-0.55zM184.5 330.1h0.55v0.55h-0.55zM178.7 329.1h0.55v0.55h-0.55zM157.1 348.0h0.55v0.55h-0.55zM148.2 338.9h0.55v0.55h-0.55zM184.3 323.4h0.55v0.55h-0.55zM149.9 337.2h0.55v0.55h-0.55zM136.8 324.3h0.55v0.55h-0.55zM147.4 335.7h0.55v0.55h-0.55zM181.4 331.2h0.55v0.55h-0.55zM197.0 345.5h0.55v0.55h-0.55zM151.9 326.7h0.55v0.55h-0.55zM172.2 337.7h0.55v0.55h-0.55zM147.9 326.4h0.55v0.55h-0.55zM156.1 332.4h0.55v0.55h-0.55zM171.2 327.1h0.55v0.55h-0.55zM154.4 319.8h0.55v0.55h-0.55zM141.0 352.4h0.55v0.55h-0.55zM194.8 334.5h0.55v0.55h-0.55zM165.3 323.9h0.55v0.55h-0.55zM186.8 318.1h0.55v0.55h-0.55zM148.4 309.8h0.55v0.55h-0.55zM154.0 336.1h0.55v0.55h-0.55zM135.7 342.0h0.55v0.55h-0.55zM153.0 327.0h0.55v0.55h-0.55zM134.3 336.6h0.55v0.55h-0.55zM145.8 309.9h0.55v0.55h-0.55zM147.8 334.5h0.55v0.55h-0.55zM138.2 312.2h0.55v0.55h-0.55zM159.5 337.4h0.55v0.55h-0.55zM157.5 339.8h0.55v0.55h-0.55zM166.7 316.2h0.55v0.55h-0.55zM168.8 349.9h0.55v0.55h-0.55zM156.7 325.6h0.55v0.55h-0.55zM145.1 326.0h0.55v0.55h-0.55zM190.8 327.8h0.55v0.55h-0.55zM161.1 317.3h0.55v0.55h-0.55zM172.2 329.9h0.55v0.55h-0.55zM137.9 324.5h0.55v0.55h-0.55zM181.3 329.2h0.55v0.55h-0.55zM170.4 332.8h0.55v0.55h-0.55zM138.2 331.4h0.55v0.55h-0.55zM142.3 352.1h0.55v0.55h-0.55zM173.9 335.5h0.55v0.55h-0.55zM140.0 339.2h0.55v0.55h-0.55zM155.0 334.3h0.55v0.55h-0.55zM160.2 341.4h0.55v0.55h-0.55zM148.0 320.1h0.55v0.55h-0.55zM152.8 341.2h0.55v0.55h-0.55zM151.7 329.0h0.55v0.55h-0.55zM140.2 325.3h0.55v0.55h-0.55zM144.9 343.5h0.55v0.55h-0.55zM150.7 321.9h0.55v0.55h-0.55zM146.6 343.7h0.55v0.55h-0.55zM175.5 336.0h0.55v0.55h-0.55zM156.7 329.1h0.55v0.55h-0.55zM151.7 325.8h0.55v0.55h-0.55zM169.8 332.6h0.55v0.55h-0.55zM139.4 325.7h0.55v0.55h-0.55zM185.1 329.0h0.55v0.55h-0.55zM156.4 350.2h0.55v0.55h-0.55zM139.8 351.4h0.55v0.55h-0.55zM146.3 350.7h0.55v0.55h-0.55zM156.8 323.4h0.55v0.55h-0.55zM153.4 318.2h0.55v0.55h-0.55zM150.1 325.6h0.55v0.55h-0.55zM141.3 310.6h0.55v0.55h-0.55zM186.1 329.0h0.55v0.55h-0.55zM153.0 339.6h0.55v0.55h-0.55zM144.1 324.2h0.55v0.55h-0.55zM145.7 315.2h0.55v0.55h-0.55zM141.5 341.7h0.55v0.55h-0.55zM157.9 324.8h0.55v0.55h-0.55zM181.8 334.9h0.55v0.55h-0.55zM146.5 341.9h0.55v0.55h-0.55zM171.8 324.4h0.55v0.55h-0.55zM134.2 330.1h0.55v0.55h-0.55zM134.1 337.2h0.55v0.55h-0.55zM152.6 331.2h0.55v0.55h-0.55zM156.7 343.9h0.55v0.55h-0.55zM142.3 316.6h0.55v0.55h-0.55zM189.5 329.2h0.55v0.55h-0.55zM140.0 330.4h0.55v0.55h-0.55zM135.6 331.0h0.55v0.55h-0.55zM169.6 331.6h0.55v0.55h-0.55zM147.9 327.0h0.55v0.55h-0.55zM150.5 325.2h0.55v0.55h-0.55zM142.4 330.4h0.55v0.55h-0.55zM157.9 317.0h0.55v0.55h-0.55zM170.7 322.5h0.55v0.55h-0.55zM165.2 327.5h0.55v0.55h-0.55zM142.5 326.5h0.55v0.55h-0.55zM172.0 340.8h0.55v0.55h-0.55zM137.8 309.6h0.55v0.55h-0.55zM139.3 317.0h0.55v0.55h-0.55zM146.6 326.8h0.55v0.55h-0.55zM141.5 313.8h0.55v0.55h-0.55zM137.0 341.9h0.55v0.55h-0.55zM174.0 337.2h0.55v0.55h-0.55zM146.4 334.3h0.55v0.55h-0.55zM175.0 326.0h0.55v0.55h-0.55zM147.7 335.1h0.55v0.55h-0.55zM149.5 332.1h0.55v0.55h-0.55zM142.7 329.3h0.55v0.55h-0.55zM144.0 327.0h0.55v0.55h-0.55zM140.3 325.2h0.55v0.55h-0.55zM147.1 316.2h0.55v0.55h-0.55zM153.9 331.2h0.55v0.55h-0.55zM154.2 332.2h0.55v0.55h-0.55zM163.5 330.3h0.55v0.55h-0.55zM155.3 328.5h0.55v0.55h-0.55zM187.2 337.8h0.55v0.55h-0.55zM172.7 322.5h0.55v0.55h-0.55zM156.2 332.7h0.55v0.55h-0.55zM177.3 339.7h0.55v0.55h-0.55zM163.3 343.8h0.55v0.55h-0.55zM140.4 338.3h0.55v0.55h-0.55zM159.7 348.4h0.55v0.55h-0.55zM134.1 338.8h0.55v0.55h-0.55zM138.2 324.3h0.55v0.55h-0.55zM161.0 327.3h0.55v0.55h-0.55zM142.5 320.9h0.55v0.55h-0.55zM136.0 337.4h0.55v0.55h-0.55zM144.4 326.1h0.55v0.55h-0.55zM134.9 345.7h0.55v0.55h-0.55zM158.2 329.3h0.55v0.55h-0.55zM145.0 340.0h0.55v0.55h-0.55zM191.7 335.9h0.55v0.55h-0.55zM164.1 327.0h0.55v0.55h-0.55zM143.7 340.2h0.55v0.55h-0.55zM180.6 335.9h0.55v0.55h-0.55zM174.5 323.9h0.55v0.55h-0.55zM146.9 353.9h0.55v0.55h-0.55zM141.8 340.4h0.55v0.55h-0.55zM146.3 332.8h0.55v0.55h-0.55zM186.2 344.1h0.55v0.55h-0.55zM151.3 335.8h0.55v0.55h-0.55zM145.7 330.9h0.55v0.55h-0.55zM157.0 345.0h0.55v0.55h-0.55zM147.4 346.9h0.55v0.55h-0.55zM143.2 348.1h0.55v0.55h-0.55zM140.8 319.1h0.55v0.55h-0.55zM152.7 333.6h0.55v0.55h-0.55zM159.7 338.3h0.55v0.55h-0.55zM163.2 345.5h0.55v0.55h-0.55zM142.7 334.8h0.55v0.55h-0.55zM151.2 342.1h0.55v0.55h-0.55zM136.9 317.5h0.55v0.55h-0.55zM134.4 336.2h0.55v0.55h-0.55zM140.8 327.7h0.55v0.55h-0.55zM142.3 318.5h0.55v0.55h-0.55zM157.7 326.6h0.55v0.55h-0.55zM171.3 334.8h0.55v0.55h-0.55zM175.4 341.2h0.55v0.55h-0.55zM168.3 325.1h0.55v0.55h-0.55zM153.9 335.1h0.55v0.55h-0.55zM148.1 338.8h0.55v0.55h-0.55zM180.2 343.2h0.55v0.55h-0.55zM168.1 334.0h0.55v0.55h-0.55zM158.5 336.3h0.55v0.55h-0.55zM170.9 337.0h0.55v0.55h-0.55zM152.2 332.5h0.55v0.55h-0.55zM134.1 329.9h0.55v0.55h-0.55zM159.1 324.7h0.55v0.55h-0.55zM150.4 322.6h0.55v0.55h-0.55zM154.8 339.7h0.55v0.55h-0.55zM141.1 344.4h0.55v0.55h-0.55zM175.1 332.7h0.55v0.55h-0.55zM143.6 319.9h0.55v0.55h-0.55zM157.8 342.7h0.55v0.55h-0.55zM189.2 342.7h0.55v0.55h-0.55zM157.8 326.7h0.55v0.55h-0.55zM140.8 324.9h0.55v0.55h-0.55zM170.2 326.9h0.55v0.55h-0.55zM172.7 332.0h0.55v0.55h-0.55zM162.4 340.4h0.55v0.55h-0.55zM152.5 337.6h0.55v0.55h-0.55zM166.6 328.0h0.55v0.55h-0.55zM174.4 331.4h0.55v0.55h-0.55zM144.9 335.5h0.55v0.55h-0.55zM154.8 336.8h0.55v0.55h-0.55zM167.5 334.0h0.55v0.55h-0.55zM153.3 335.7h0.55v0.55h-0.55zM151.7 317.9h0.55v0.55h-0.55zM139.9 329.6h0.55v0.55h-0.55zM140.3 328.2h0.55v0.55h-0.55zM139.4 339.5h0.55v0.55h-0.55zM159.0 331.4h0.55v0.55h-0.55zM138.7 336.3h0.55v0.55h-0.55zM175.5 338.6h0.55v0.55h-0.55zM149.6 340.2h0.55v0.55h-0.55zM145.9 335.8h0.55v0.55h-0.55zM173.3 341.3h0.55v0.55h-0.55zM151.8 323.5h0.55v0.55h-0.55zM158.1 328.1h0.55v0.55h-0.55zM141.2 325.4h0.55v0.55h-0.55zM159.3 343.4h0.55v0.55h-0.55zM183.2 350.8h0.55v0.55h-0.55zM134.2 332.0h0.55v0.55h-0.55zM188.0 333.2h0.55v0.55h-0.55zM146.7 341.3h0.55v0.55h-0.55zM186.1 327.0h0.55v0.55h-0.55zM176.8 333.1h0.55v0.55h-0.55zM170.9 338.1h0.55v0.55h-0.55zM169.5 327.7h0.55v0.55h-0.55zM155.5 333.0h0.55v0.55h-0.55zM190.8 334.4h0.55v0.55h-0.55zM152.6 334.8h0.55v0.55h-0.55zM134.9 315.0h0.55v0.55h-0.55zM171.3 330.8h0.55v0.55h-0.55zM140.3 311.4h0.55v0.55h-0.55zM136.6 334.7h0.55v0.55h-0.55zM150.1 320.1h0.55v0.55h-0.55zM169.5 320.7h0.55v0.55h-0.55zM149.5 337.2h0.55v0.55h-0.55zM154.3 322.7h0.55v0.55h-0.55zM147.3 311.7h0.55v0.55h-0.55zM154.4 332.6h0.55v0.55h-0.55zM151.3 335.0h0.55v0.55h-0.55zM179.9 342.5h0.55v0.55h-0.55zM140.3 343.4h0.55v0.55h-0.55zM193.7 339.0h0.55v0.55h-0.55zM146.4 323.1h0.55v0.55h-0.55zM152.1 335.8h0.55v0.55h-0.55zM194.0 345.8h0.55v0.55h-0.55zM138.8 338.1h0.55v0.55h-0.55zM149.4 333.1h0.55v0.55h-0.55zM160.2 326.2h0.55v0.55h-0.55zM171.4 325.8h0.55v0.55h-0.55zM147.1 344.1h0.55v0.55h-0.55zM197.4 323.2h0.55v0.55h-0.55zM150.3 335.3h0.55v0.55h-0.55zM140.4 347.6h0.55v0.55h-0.55zM141.7 324.1h0.55v0.55h-0.55zM162.3 314.4h0.55v0.55h-0.55zM142.9 335.0h0.55v0.55h-0.55zM152.4 328.8h0.55v0.55h-0.55zM161.1 331.5h0.55v0.55h-0.55zM163.5 332.0h0.55v0.55h-0.55zM156.7 335.7h0.55v0.55h-0.55zM160.5 337.3h0.55v0.55h-0.55zM161.9 339.7h0.55v0.55h-0.55zM193.1 328.6h0.55v0.55h-0.55zM149.7 320.2h0.55v0.55h-0.55zM141.5 322.3h0.55v0.55h-0.55zM148.3 319.8h0.55v0.55h-0.55zM160.5 316.6h0.55v0.55h-0.55zM161.9 315.8h0.55v0.55h-0.55zM196.6 333.2h0.55v0.55h-0.55zM165.9 332.8h0.55v0.55h-0.55zM136.5 341.0h0.55v0.55h-0.55zM158.0 329.1h0.55v0.55h-0.55zM158.6 332.4h0.55v0.55h-0.55zM179.2 351.4h0.55v0.55h-0.55zM170.2 338.9h0.55v0.55h-0.55zM138.3 315.6h0.55v0.55h-0.55zM176.2 321.1h0.55v0.55h-0.55zM151.7 322.8h0.55v0.55h-0.55zM168.5 329.7h0.55v0.55h-0.55zM153.0 336.1h0.55v0.55h-0.55zM158.6 324.2h0.55v0.55h-0.55zM145.5 342.2h0.55v0.55h-0.55zM181.5 339.2h0.55v0.55h-0.55zM141.5 334.7h0.55v0.55h-0.55zM167.9 331.7h0.55v0.55h-0.55zM162.8 333.8h0.55v0.55h-0.55zM146.2 336.6h0.55v0.55h-0.55zM134.8 330.0h0.55v0.55h-0.55zM142.3 343.1h0.55v0.55h-0.55zM154.5 317.7h0.55v0.55h-0.55zM166.1 331.1h0.55v0.55h-0.55zM146.3 320.8h0.55v0.55h-0.55zM140.2 321.4h0.55v0.55h-0.55zM177.2 343.9h0.55v0.55h-0.55zM142.1 344.6h0.55v0.55h-0.55zM148.3 322.1h0.55v0.55h-0.55zM140.2 334.7h0.55v0.55h-0.55zM144.1 333.5h0.55v0.55h-0.55zM162.4 329.7h0.55v0.55h-0.55zM157.0 335.6h0.55v0.55h-0.55zM154.3 334.4h0.55v0.55h-0.55zM155.6 329.7h0.55v0.55h-0.55zM140.5 333.2h0.55v0.55h-0.55zM160.4 335.6h0.55v0.55h-0.55zM163.1 333.6h0.55v0.55h-0.55zM152.6 328.7h0.55v0.55h-0.55zM143.7 320.4h0.55v0.55h-0.55zM147.2 341.1h0.55v0.55h-0.55zM162.8 333.0h0.55v0.55h-0.55zM144.7 334.9h0.55v0.55h-0.55zM159.2 334.2h0.55v0.55h-0.55zM140.1 337.4h0.55v0.55h-0.55zM148.2 355.8h0.55v0.55h-0.55zM156.6 330.3h0.55v0.55h-0.55zM164.6 333.5h0.55v0.55h-0.55zM149.2 327.4h0.55v0.55h-0.55zM162.1 331.5h0.55v0.55h-0.55zM135.4 336.1h0.55v0.55h-0.55zM141.0 344.1h0.55v0.55h-0.55zM140.5 341.6h0.55v0.55h-0.55zM139.5 320.3h0.55v0.55h-0.55zM144.2 334.1h0.55v0.55h-0.55zM144.6 327.4h0.55v0.55h-0.55zM166.3 339.8h0.55v0.55h-0.55zM166.3 330.5h0.55v0.55h-0.55zM134.4 317.5h0.55v0.55h-0.55zM143.5 321.4h0.55v0.55h-0.55zM140.9 344.2h0.55v0.55h-0.55zM145.1 328.0h0.55v0.55h-0.55zM159.2 326.8h0.55v0.55h-0.55zM156.8 339.0h0.55v0.55h-0.55zM151.2 338.6h0.55v0.55h-0.55zM157.6 331.3h0.55v0.55h-0.55zM136.4 332.2h0.55v0.55h-0.55zM147.0 348.9h0.55v0.55h-0.55zM174.9 331.7h0.55v0.55h-0.55zM169.5 325.7h0.55v0.55h-0.55zM185.2 327.7h0.55v0.55h-0.55zM144.3 345.2h0.55v0.55h-0.55zM172.1 333.6h0.55v0.55h-0.55zM169.6 324.6h0.55v0.55h-0.55zM160.4 324.6h0.55v0.55h-0.55zM137.1 324.6h0.55v0.55h-0.55zM136.3 336.3h0.55v0.55h-0.55zM165.6 342.6h0.55v0.55h-0.55zM170.9 340.3h0.55v0.55h-0.55zM139.2 351.5h0.55v0.55h-0.55zM141.7 331.4h0.55v0.55h-0.55zM169.4 326.5h0.55v0.55h-0.55zM139.7 332.5h0.55v0.55h-0.55zM176.1 332.1h0.55v0.55h-0.55zM149.7 331.2h0.55v0.55h-0.55zM139.9 331.4h0.55v0.55h-0.55zM144.9 339.9h0.55v0.55h-0.55zM159.8 333.0h0.55v0.55h-0.55zM137.4 356.0h0.55v0.55h-0.55zM146.9 335.4h0.55v0.55h-0.55zM134.5 322.8h0.55v0.55h-0.55zM167.6 319.9h0.55v0.55h-0.55zM172.3 331.7h0.55v0.55h-0.55zM166.7 341.3h0.55v0.55h-0.55zM171.3 330.1h0.55v0.55h-0.55zM175.0 344.5h0.55v0.55h-0.55zM179.2 332.4h0.55v0.55h-0.55zM152.5 330.0h0.55v0.55h-0.55zM142.4 328.4h0.55v0.55h-0.55zM185.3 342.1h0.55v0.55h-0.55zM148.9 335.2h0.55v0.55h-0.55zM142.8 336.8h0.55v0.55h-0.55zM144.8 356.1h0.55v0.55h-0.55zM159.0 325.4h0.55v0.55h-0.55zM147.5 318.8h0.55v0.55h-0.55zM158.3 330.7h0.55v0.55h-0.55zM191.6 329.3h0.55v0.55h-0.55zM156.4 350.7h0.55v0.55h-0.55zM155.5 338.8h0.55v0.55h-0.55zM144.9 334.9h0.55v0.55h-0.55zM159.2 343.0h0.55v0.55h-0.55zM154.2 322.5h0.55v0.55h-0.55zM167.4 335.9h0.55v0.55h-0.55zM155.9 321.9h0.55v0.55h-0.55zM134.5 335.7h0.55v0.55h-0.55zM154.3 330.8h0.55v0.55h-0.55zM158.3 316.5h0.55v0.55h-0.55zM175.9 337.2h0.55v0.55h-0.55zM161.3 334.7h0.55v0.55h-0.55zM186.0 335.6h0.55v0.55h-0.55zM187.7 340.9h0.55v0.55h-0.55zM159.1 327.4h0.55v0.55h-0.55zM181.9 330.0h0.55v0.55h-0.55zM147.5 321.2h0.55v0.55h-0.55zM141.6 319.2h0.55v0.55h-0.55zM138.9 324.8h0.55v0.55h-0.55zM152.9 335.3h0.55v0.55h-0.55zM176.2 332.1h0.55v0.55h-0.55zM149.6 327.7h0.55v0.55h-0.55zM150.8 318.1h0.55v0.55h-0.55zM137.2 318.4h0.55v0.55h-0.55zM147.3 345.2h0.55v0.55h-0.55zM135.4 344.8h0.55v0.55h-0.55zM146.5 321.4h0.55v0.55h-0.55zM166.8 320.4h0.55v0.55h-0.55zM160.1 334.1h0.55v0.55h-0.55zM139.1 343.2h0.55v0.55h-0.55zM177.7 339.2h0.55v0.55h-0.55zM134.4 336.2h0.55v0.55h-0.55zM150.2 338.6h0.55v0.55h-0.55zM152.4 343.1h0.55v0.55h-0.55zM143.9 337.9h0.55v0.55h-0.55zM165.8 333.5h0.55v0.55h-0.55zM160.4 331.3h0.55v0.55h-0.55zM160.4 342.5h0.55v0.55h-0.55zM172.7 337.1h0.55v0.55h-0.55zM172.6 340.5h0.55v0.55h-0.55zM176.4 331.3h0.55v0.55h-0.55zM134.3 328.6h0.55v0.55h-0.55zM150.4 318.8h0.55v0.55h-0.55zM159.3 344.6h0.55v0.55h-0.55zM160.2 314.5h0.55v0.55h-0.55zM148.6 335.1h0.55v0.55h-0.55zM135.3 333.6h0.55v0.55h-0.55zM156.6 339.9h0.55v0.55h-0.55zM165.4 342.4h0.55v0.55h-0.55zM147.6 338.2h0.55v0.55h-0.55zM150.4 318.7h0.55v0.55h-0.55zM172.2 326.4h0.55v0.55h-0.55zM162.0 342.1h0.55v0.55h-0.55zM167.8 327.0h0.55v0.55h-0.55zM147.4 341.3h0.55v0.55h-0.55zM158.9 337.3h0.55v0.55h-0.55zM168.4 333.6h0.55v0.55h-0.55zM171.1 332.5h0.55v0.55h-0.55zM155.0 343.0h0.55v0.55h-0.55zM135.7 313.8h0.55v0.55h-0.55zM143.7 338.7h0.55v0.55h-0.55zM144.6 318.9h0.55v0.55h-0.55zM156.1 346.8h0.55v0.55h-0.55zM153.6 334.5h0.55v0.55h-0.55zM152.3 333.3h0.55v0.55h-0.55zM140.0 319.0h0.55v0.55h-0.55zM187.7 341.3h0.55v0.55h-0.55zM169.2 321.1h0.55v0.55h-0.55zM135.6 327.9h0.55v0.55h-0.55zM146.7 342.1h0.55v0.55h-0.55zM148.9 328.1h0.55v0.55h-0.55zM157.4 325.1h0.55v0.55h-0.55zM143.0 311.7h0.55v0.55h-0.55zM134.6 338.9h0.55v0.55h-0.55zM146.0 329.6h0.55v0.55h-0.55zM141.1 332.5h0.55v0.55h-0.55zM144.3 313.6h0.55v0.55h-0.55zM156.7 338.6h0.55v0.55h-0.55zM154.9 328.6h0.55v0.55h-0.55zM148.0 340.0h0.55v0.55h-0.55zM136.8 347.9h0.55v0.55h-0.55zM146.4 330.4h0.55v0.55h-0.55zM170.4 339.6h0.55v0.55h-0.55zM187.1 333.5h0.55v0.55h-0.55zM140.9 319.0h0.55v0.55h-0.55zM135.2 346.3h0.55v0.55h-0.55zM178.0 334.4h0.55v0.55h-0.55zM147.3 336.2h0.55v0.55h-0.55zM177.5 336.1h0.55v0.55h-0.55zM136.5 330.6h0.55v0.55h-0.55zM145.0 356.5h0.55v0.55h-0.55zM144.0 331.2h0.55v0.55h-0.55zM176.1 326.3h0.55v0.55h-0.55zM145.3 329.4h0.55v0.55h-0.55zM137.2 327.2h0.55v0.55h-0.55zM155.6 323.4h0.55v0.55h-0.55zM150.6 332.8h0.55v0.55h-0.55zM170.9 338.1h0.55v0.55h-0.55zM155.7 331.4h0.55v0.55h-0.55zM140.9 347.1h0.55v0.55h-0.55zM168.9 335.0h0.55v0.55h-0.55zM160.8 320.4h0.55v0.55h-0.55zM157.2 335.6h0.55v0.55h-0.55zM147.2 319.9h0.55v0.55h-0.55zM149.9 322.7h0.55v0.55h-0.55zM136.4 324.5h0.55v0.55h-0.55zM144.2 322.8h0.55v0.55h-0.55zM141.6 333.5h0.55v0.55h-0.55zM150.7 321.4h0.55v0.55h-0.55zM150.0 325.7h0.55v0.55h-0.55zM164.9 335.9h0.55v0.55h-0.55zM151.6 331.6h0.55v0.55h-0.55zM136.8 329.6h0.55v0.55h-0.55zM170.9 318.2h0.55v0.55h-0.55zM187.1 341.9h0.55v0.55h-0.55zM157.4 328.9h0.55v0.55h-0.55zM179.5 337.4h0.55v0.55h-0.55zM180.1 337.0h0.55v0.55h-0.55zM171.8 332.8h0.55v0.55h-0.55zM162.4 334.7h0.55v0.55h-0.55zM142.7 320.1h0.55v0.55h-0.55zM147.7 337.7h0.55v0.55h-0.55zM152.4 336.2h0.55v0.55h-0.55zM138.5 339.3h0.55v0.55h-0.55zM147.3 336.2h0.55v0.55h-0.55zM144.4 334.5h0.55v0.55h-0.55zM137.7 323.6h0.55v0.55h-0.55zM139.8 319.2h0.55v0.55h-0.55zM142.6 316.2h0.55v0.55h-0.55zM159.5 342.3h0.55v0.55h-0.55zM185.1 335.2h0.55v0.55h-0.55zM145.5 310.4h0.55v0.55h-0.55zM143.3 336.8h0.55v0.55h-0.55zM135.9 325.5h0.55v0.55h-0.55zM151.3 326.2h0.55v0.55h-0.55zM140.8 329.0h0.55v0.55h-0.55zM145.9 349.0h0.55v0.55h-0.55zM172.7 337.8h0.55v0.55h-0.55zM161.2 338.9h0.55v0.55h-0.55zM142.9 338.6h0.55v0.55h-0.55zM165.0 322.7h0.55v0.55h-0.55zM142.4 334.7h0.55v0.55h-0.55zM147.9 335.9h0.55v0.55h-0.55zM140.7 344.0h0.55v0.55h-0.55zM158.2 351.5h0.55v0.55h-0.55zM161.9 336.8h0.55v0.55h-0.55zM167.3 321.6h0.55v0.55h-0.55zM171.7 333.6h0.55v0.55h-0.55zM146.7 338.4h0.55v0.55h-0.55zM137.7 330.3h0.55v0.55h-0.55zM192.3 328.3h0.55v0.55h-0.55zM149.5 329.1h0.55v0.55h-0.55zM164.3 331.8h0.55v0.55h-0.55zM167.9 342.8h0.55v0.55h-0.55zM170.8 342.7h0.55v0.55h-0.55zM136.9 334.7h0.55v0.55h-0.55zM159.2 344.7h0.55v0.55h-0.55zM171.3 325.4h0.55v0.55h-0.55zM149.5 323.7h0.55v0.55h-0.55zM143.0 341.0h0.55v0.55h-0.55zM147.3 334.3h0.55v0.55h-0.55zM136.0 354.9h0.55v0.55h-0.55zM152.5 328.0h0.55v0.55h-0.55zM148.4 330.4h0.55v0.55h-0.55zM141.1 327.9h0.55v0.55h-0.55zM137.6 316.5h0.55v0.55h-0.55zM161.3 318.3h0.55v0.55h-0.55zM190.9 332.5h0.55v0.55h-0.55zM141.1 316.4h0.55v0.55h-0.55zM138.0 350.0h0.55v0.55h-0.55zM143.2 331.0h0.55v0.55h-0.55zM173.0 336.0h0.55v0.55h-0.55zM151.5 316.2h0.55v0.55h-0.55zM146.5 341.9h0.55v0.55h-0.55zM137.5 333.2h0.55v0.55h-0.55zM138.5 329.8h0.55v0.55h-0.55zM156.2 336.3h0.55v0.55h-0.55zM194.5 332.9h0.55v0.55h-0.55zM144.5 332.6h0.55v0.55h-0.55zM161.0 332.0h0.55v0.55h-0.55zM134.0 311.0h0.55v0.55h-0.55zM197.8 333.8h0.55v0.55h-0.55zM157.6 335.5h0.55v0.55h-0.55zM134.7 338.4h0.55v0.55h-0.55zM176.7 338.4h0.55v0.55h-0.55zM145.1 340.0h0.55v0.55h-0.55zM154.8 326.3h0.55v0.55h-0.55zM142.7 336.4h0.55v0.55h-0.55zM140.1 334.8h0.55v0.55h-0.55zM147.5 324.2h0.55v0.55h-0.55zM146.5 322.6h0.55v0.55h-0.55zM134.2 318.1h0.55v0.55h-0.55zM159.1 341.7h0.55v0.55h-0.55zM175.6 329.6h0.55v0.55h-0.55zM171.2 336.3h0.55v0.55h-0.55zM180.4 327.9h0.55v0.55h-0.55zM143.5 326.5h0.55v0.55h-0.55zM162.2 322.6h0.55v0.55h-0.55zM135.6 354.5h0.55v0.55h-0.55zM136.2 335.7h0.55v0.55h-0.55zM192.0 334.4h0.55v0.55h-0.55zM140.2 324.5h0.55v0.55h-0.55zM179.8 341.1h0.55v0.55h-0.55zM161.2 328.4h0.55v0.55h-0.55zM155.6 332.6h0.55v0.55h-0.55zM160.0 315.8h0.55v0.55h-0.55zM160.3 345.7h0.55v0.55h-0.55zM175.4 332.1h0.55v0.55h-0.55zM139.0 317.7h0.55v0.55h-0.55zM166.3 351.0h0.55v0.55h-0.55zM151.7 333.9h0.55v0.55h-0.55zM165.0 340.0h0.55v0.55h-0.55zM139.5 335.8h0.55v0.55h-0.55zM157.1 332.5h0.55v0.55h-0.55zM143.8 323.5h0.55v0.55h-0.55zM156.3 331.1h0.55v0.55h-0.55zM143.1 347.6h0.55v0.55h-0.55zM168.4 332.1h0.55v0.55h-0.55zM155.9 329.2h0.55v0.55h-0.55zM172.7 332.7h0.55v0.55h-0.55zM138.4 338.5h0.55v0.55h-0.55zM135.1 331.4h0.55v0.55h-0.55zM137.5 343.6h0.55v0.55h-0.55zM141.3 333.2h0.55v0.55h-0.55zM167.6 321.3h0.55v0.55h-0.55zM153.6 318.7h0.55v0.55h-0.55zM163.3 342.2h0.55v0.55h-0.55zM148.0 339.3h0.55v0.55h-0.55zM134.4 332.4h0.55v0.55h-0.55zM147.3 316.1h0.55v0.55h-0.55zM149.3 323.8h0.55v0.55h-0.55zM145.0 319.5h0.55v0.55h-0.55zM137.8 343.1h0.55v0.55h-0.55zM172.6 341.2h0.55v0.55h-0.55zM136.1 329.0h0.55v0.55h-0.55zM146.0 317.5h0.55v0.55h-0.55zM165.2 331.4h0.55v0.55h-0.55zM135.6 332.7h0.55v0.55h-0.55zM138.2 315.6h0.55v0.55h-0.55zM136.3 335.8h0.55v0.55h-0.55zM173.5 339.9h0.55v0.55h-0.55zM149.7 343.4h0.55v0.55h-0.55zM140.7 326.1h0.55v0.55h-0.55zM147.3 329.4h0.55v0.55h-0.55zM143.8 321.4h0.55v0.55h-0.55zM157.1 326.3h0.55v0.55h-0.55zM157.7 337.6h0.55v0.55h-0.55zM178.0 336.7h0.55v0.55h-0.55zM135.5 333.7h0.55v0.55h-0.55zM143.2 327.5h0.55v0.55h-0.55zM148.2 339.1h0.55v0.55h-0.55zM153.4 333.1h0.55v0.55h-0.55zM153.7 327.9h0.55v0.55h-0.55zM152.8 328.2h0.55v0.55h-0.55zM185.4 333.2h0.55v0.55h-0.55zM139.7 333.6h0.55v0.55h-0.55zM168.7 322.4h0.55v0.55h-0.55zM167.4 339.2h0.55v0.55h-0.55zM155.6 331.7h0.55v0.55h-0.55zM192.3 318.9h0.55v0.55h-0.55zM147.4 349.5h0.55v0.55h-0.55zM167.6 338.8h0.55v0.55h-0.55zM177.8 329.4h0.55v0.55h-0.55zM176.0 330.5h0.55v0.55h-0.55zM176.7 341.2h0.55v0.55h-0.55zM174.6 329.9h0.55v0.55h-0.55zM136.2 319.8h0.55v0.55h-0.55zM162.3 321.8h0.55v0.55h-0.55zM134.3 336.5h0.55v0.55h-0.55zM143.0 311.0h0.55v0.55h-0.55zM146.2 339.3h0.55v0.55h-0.55zM163.6 313.5h0.55v0.55h-0.55zM142.2 329.3h0.55v0.55h-0.55zM165.1 332.1h0.55v0.55h-0.55zM145.7 345.2h0.55v0.55h-0.55zM159.7 328.3h0.55v0.55h-0.55zM144.4 328.9h0.55v0.55h-0.55zM155.1 327.5h0.55v0.55h-0.55zM163.0 347.0h0.55v0.55h-0.55zM144.2 316.2h0.55v0.55h-0.55zM174.6 329.4h0.55v0.55h-0.55zM165.8 336.0h0.55v0.55h-0.55zM167.1 333.2h0.55v0.55h-0.55zM143.6 314.0h0.55v0.55h-0.55zM163.5 332.2h0.55v0.55h-0.55zM153.4 333.4h0.55v0.55h-0.55zM139.7 330.9h0.55v0.55h-0.55zM177.9 312.9h0.55v0.55h-0.55zM137.3 334.0h0.55v0.55h-0.55zM145.4 333.8h0.55v0.55h-0.55zM165.3 329.0h0.55v0.55h-0.55zM150.1 345.8h0.55v0.55h-0.55zM168.1 331.0h0.55v0.55h-0.55zM150.2 355.7h0.55v0.55h-0.55zM174.2 320.8h0.55v0.55h-0.55zM163.2 314.2h0.55v0.55h-0.55zM139.0 349.4h0.55v0.55h-0.55zM148.9 335.7h0.55v0.55h-0.55zM141.3 320.4h0.55v0.55h-0.55zM134.3 344.7h0.55v0.55h-0.55zM163.3 338.4h0.55v0.55h-0.55zM137.8 314.6h0.55v0.55h-0.55zM139.1 341.4h0.55v0.55h-0.55zM143.6 356.0h0.55v0.55h-0.55zM153.4 331.2h0.55v0.55h-0.55zM155.9 340.0h0.55v0.55h-0.55zM163.3 339.9h0.55v0.55h-0.55zM144.7 326.5h0.55v0.55h-0.55zM144.6 346.1h0.55v0.55h-0.55zM147.0 330.3h0.55v0.55h-0.55zM143.5 312.5h0.55v0.55h-0.55zM134.4 338.8h0.55v0.55h-0.55zM163.2 330.1h0.55v0.55h-0.55zM147.1 321.2h0.55v0.55h-0.55zM139.1 331.0h0.55v0.55h-0.55zM144.5 333.7h0.55v0.55h-0.55zM141.0 329.0h0.55v0.55h-0.55zM144.0 335.8h0.55v0.55h-0.55zM160.3 322.3h0.55v0.55h-0.55zM147.9 317.1h0.55v0.55h-0.55zM135.9 325.3h0.55v0.55h-0.55zM180.2 337.5h0.55v0.55h-0.55zM156.4 329.8h0.55v0.55h-0.55zM142.3 330.4h0.55v0.55h-0.55zM162.5 320.7h0.55v0.55h-0.55zM138.5 328.9h0.55v0.55h-0.55zM151.6 326.7h0.55v0.55h-0.55zM138.4 329.3h0.55v0.55h-0.55zM164.7 333.8h0.55v0.55h-0.55zM136.9 340.3h0.55v0.55h-0.55zM137.0 318.6h0.55v0.55h-0.55zM156.5 338.4h0.55v0.55h-0.55zM160.0 323.8h0.55v0.55h-0.55zM160.6 313.7h0.55v0.55h-0.55zM148.5 331.2h0.55v0.55h-0.55zM168.9 333.2h0.55v0.55h-0.55zM148.9 337.3h0.55v0.55h-0.55zM146.0 340.7h0.55v0.55h-0.55zM139.6 335.6h0.55v0.55h-0.55zM147.5 316.8h0.55v0.55h-0.55zM136.3 338.0h0.55v0.55h-0.55zM153.0 345.3h0.55v0.55h-0.55zM165.3 340.7h0.55v0.55h-0.55zM153.9 329.7h0.55v0.55h-0.55zM138.6 345.4h0.55v0.55h-0.55zM143.9 326.6h0.55v0.55h-0.55zM160.4 335.3h0.55v0.55h-0.55zM145.4 334.9h0.55v0.55h-0.55zM137.2 328.5h0.55v0.55h-0.55zM145.5 325.6h0.55v0.55h-0.55zM154.2 337.7h0.55v0.55h-0.55zM154.1 337.2h0.55v0.55h-0.55zM154.3 324.4h0.55v0.55h-0.55zM140.9 338.1h0.55v0.55h-0.55zM176.7 323.6h0.55v0.55h-0.55zM145.4 325.9h0.55v0.55h-0.55zM145.0 324.0h0.55v0.55h-0.55zM140.2 329.1h0.55v0.55h-0.55zM136.6 321.3h0.55v0.55h-0.55zM134.5 310.3h0.55v0.55h-0.55zM169.6 343.1h0.55v0.55h-0.55zM152.7 330.2h0.55v0.55h-0.55zM164.4 318.0h0.55v0.55h-0.55zM172.3 335.0h0.55v0.55h-0.55zM145.0 342.4h0.55v0.55h-0.55zM146.4 340.7h0.55v0.55h-0.55zM151.0 327.4h0.55v0.55h-0.55zM146.3 334.8h0.55v0.55h-0.55zM146.4 336.7h0.55v0.55h-0.55zM151.4 339.5h0.55v0.55h-0.55zM171.1 330.1h0.55v0.55h-0.55zM137.7 330.7h0.55v0.55h-0.55zM159.6 322.5h0.55v0.55h-0.55zM143.1 323.8h0.55v0.55h-0.55zM153.4 333.3h0.55v0.55h-0.55zM158.8 328.5h0.55v0.55h-0.55zM156.5 332.9h0.55v0.55h-0.55zM167.8 333.4h0.55v0.55h-0.55zM176.9 338.6h0.55v0.55h-0.55zM146.0 329.9h0.55v0.55h-0.55zM135.7 335.3h0.55v0.55h-0.55zM145.8 338.8h0.55v0.55h-0.55zM154.2 338.1h0.55v0.55h-0.55zM194.7 336.9h0.55v0.55h-0.55zM150.1 344.9h0.55v0.55h-0.55zM151.6 324.9h0.55v0.55h-0.55zM134.5 323.8h0.55v0.55h-0.55zM138.6 326.0h0.55v0.55h-0.55zM169.4 317.1h0.55v0.55h-0.55zM138.5 339.7h0.55v0.55h-0.55zM139.6 323.2h0.55v0.55h-0.55zM156.1 326.7h0.55v0.55h-0.55zM168.0 327.1h0.55v0.55h-0.55zM156.7 324.1h0.55v0.55h-0.55zM177.6 325.9h0.55v0.55h-0.55zM160.7 320.5h0.55v0.55h-0.55zM169.1 336.5h0.55v0.55h-0.55zM135.7 325.1h0.55v0.55h-0.55zM161.2 340.1h0.55v0.55h-0.55zM136.3 348.7h0.55v0.55h-0.55zM174.9 333.0h0.55v0.55h-0.55zM139.0 332.5h0.55v0.55h-0.55zM146.0 339.8h0.55v0.55h-0.55zM159.6 340.4h0.55v0.55h-0.55zM158.6 322.9h0.55v0.55h-0.55zM151.8 350.6h0.55v0.55h-0.55zM161.2 330.6h0.55v0.55h-0.55zM170.0 329.6h0.55v0.55h-0.55zM140.9 332.1h0.55v0.55h-0.55zM172.9 350.0h0.55v0.55h-0.55zM154.2 349.9h0.55v0.55h-0.55zM140.9 309.0h0.55v0.55h-0.55zM146.4 326.3h0.55v0.55h-0.55zM135.4 329.4h0.55v0.55h-0.55zM147.5 339.4h0.55v0.55h-0.55zM139.2 321.6h0.55v0.55h-0.55zM143.0 336.0h0.55v0.55h-0.55zM144.3 341.1h0.55v0.55h-0.55zM135.3 331.9h0.55v0.55h-0.55zM169.9 330.0h0.55v0.55h-0.55zM137.0 346.1h0.55v0.55h-0.55zM149.2 331.9h0.55v0.55h-0.55zM152.6 335.1h0.55v0.55h-0.55zM186.4 324.8h0.55v0.55h-0.55zM146.3 330.8h0.55v0.55h-0.55zM156.5 311.8h0.55v0.55h-0.55zM142.9 326.3h0.55v0.55h-0.55zM166.0 326.1h0.55v0.55h-0.55zM148.5 325.4h0.55v0.55h-0.55zM161.4 329.1h0.55v0.55h-0.55zM135.1 326.2h0.55v0.55h-0.55zM149.2 311.1h0.55v0.55h-0.55zM152.5 335.3h0.55v0.55h-0.55zM134.5 341.2h0.55v0.55h-0.55zM157.9 324.7h0.55v0.55h-0.55zM147.5 341.5h0.55v0.55h-0.55zM136.3 339.2h0.55v0.55h-0.55zM161.2 342.0h0.55v0.55h-0.55zM152.7 334.3h0.55v0.55h-0.55zM151.5 333.0h0.55v0.55h-0.55zM165.1 325.1h0.55v0.55h-0.55zM137.1 340.8h0.55v0.55h-0.55zM139.9 327.9h0.55v0.55h-0.55zM159.1 325.3h0.55v0.55h-0.55zM141.4 344.6h0.55v0.55h-0.55zM154.6 339.6h0.55v0.55h-0.55zM145.2 336.7h0.55v0.55h-0.55zM185.2 339.4h0.55v0.55h-0.55zM151.1 322.5h0.55v0.55h-0.55zM148.7 317.9h0.55v0.55h-0.55zM153.1 332.6h0.55v0.55h-0.55zM140.7 341.9h0.55v0.55h-0.55zM161.7 339.2h0.55v0.55h-0.55zM174.3 332.2h0.55v0.55h-0.55zM192.0 334.8h0.55v0.55h-0.55zM152.5 322.2h0.55v0.55h-0.55zM147.3 346.4h0.55v0.55h-0.55zM150.6 353.2h0.55v0.55h-0.55zM145.9 342.5h0.55v0.55h-0.55zM153.9 355.5h0.55v0.55h-0.55zM137.3 345.7h0.55v0.55h-0.55zM186.0 339.3h0.55v0.55h-0.55zM171.9 327.0h0.55v0.55h-0.55zM152.3 336.1h0.55v0.55h-0.55zM152.3 339.1h0.55v0.55h-0.55zM140.6 329.1h0.55v0.55h-0.55zM155.6 336.8h0.55v0.55h-0.55zM152.8 332.1h0.55v0.55h-0.55zM180.7 335.9h0.55v0.55h-0.55zM160.6 333.9h0.55v0.55h-0.55zM141.0 316.8h0.55v0.55h-0.55zM183.9 336.7h0.55v0.55h-0.55zM134.9 315.2h0.55v0.55h-0.55zM149.8 329.7h0.55v0.55h-0.55zM137.7 315.1h0.55v0.55h-0.55zM161.4 324.5h0.55v0.55h-0.55zM174.1 328.7h0.55v0.55h-0.55zM135.3 343.7h0.55v0.55h-0.55zM185.2 324.2h0.55v0.55h-0.55zM135.6 330.7h0.55v0.55h-0.55zM143.0 333.1h0.55v0.55h-0.55zM165.0 324.5h0.55v0.55h-0.55zM135.3 317.9h0.55v0.55h-0.55zM157.5 339.8h0.55v0.55h-0.55zM141.0 325.8h0.55v0.55h-0.55zM134.6 326.5h0.55v0.55h-0.55zM137.8 343.2h0.55v0.55h-0.55zM158.5 334.9h0.55v0.55h-0.55zM166.8 330.8h0.55v0.55h-0.55zM172.1 323.7h0.55v0.55h-0.55zM134.2 354.5h0.55v0.55h-0.55zM178.2 326.4h0.55v0.55h-0.55zM156.7 337.3h0.55v0.55h-0.55zM151.8 341.1h0.55v0.55h-0.55zM141.9 329.8h0.55v0.55h-0.55zM137.9 336.9h0.55v0.55h-0.55zM134.9 319.7h0.55v0.55h-0.55zM169.2 330.7h0.55v0.55h-0.55zM145.8 343.9h0.55v0.55h-0.55zM172.7 322.8h0.55v0.55h-0.55zM139.7 343.5h0.55v0.55h-0.55zM144.8 332.4h0.55v0.55h-0.55zM138.4 325.3h0.55v0.55h-0.55zM136.8 324.2h0.55v0.55h-0.55zM139.1 307.3h0.55v0.55h-0.55zM152.5 335.3h0.55v0.55h-0.55zM135.5 324.1h0.55v0.55h-0.55zM134.7 342.5h0.55v0.55h-0.55zM151.1 314.9h0.55v0.55h-0.55zM145.1 327.3h0.55v0.55h-0.55zM142.6 332.4h0.55v0.55h-0.55zM159.9 320.5h0.55v0.55h-0.55zM136.3 334.4h0.55v0.55h-0.55zM157.5 318.4h0.55v0.55h-0.55zM139.1 331.1h0.55v0.55h-0.55zM168.5 323.4h0.55v0.55h-0.55zM136.5 335.1h0.55v0.55h-0.55zM138.6 329.4h0.55v0.55h-0.55zM157.2 335.2h0.55v0.55h-0.55zM147.7 329.8h0.55v0.55h-0.55zM175.9 328.3h0.55v0.55h-0.55zM141.8 334.4h0.55v0.55h-0.55zM153.0 327.1h0.55v0.55h-0.55zM154.6 328.7h0.55v0.55h-0.55zM148.2 342.0h0.55v0.55h-0.55zM141.7 334.6h0.55v0.55h-0.55zM152.2 327.4h0.55v0.55h-0.55zM147.1 329.7h0.55v0.55h-0.55zM158.6 338.9h0.55v0.55h-0.55zM135.2 307.4h0.55v0.55h-0.55zM153.1 312.8h0.55v0.55h-0.55zM179.5 332.4h0.55v0.55h-0.55zM160.8 337.4h0.55v0.55h-0.55zM134.9 329.1h0.55v0.55h-0.55zM142.2 320.9h0.55v0.55h-0.55zM135.0 320.2h0.55v0.55h-0.55zM174.3 334.1h0.55v0.55h-0.55zM170.7 333.3h0.55v0.55h-0.55zM159.1 324.9h0.55v0.55h-0.55zM168.2 340.2h0.55v0.55h-0.55zM149.6 351.5h0.55v0.55h-0.55zM191.6 334.3h0.55v0.55h-0.55zM189.0 335.3h0.55v0.55h-0.55zM164.0 336.7h0.55v0.55h-0.55zM148.7 346.6h0.55v0.55h-0.55zM149.2 330.9h0.55v0.55h-0.55zM148.8 330.8h0.55v0.55h-0.55zM135.6 328.4h0.55v0.55h-0.55zM143.1 338.1h0.55v0.55h-0.55zM135.5 325.0h0.55v0.55h-0.55zM171.1 322.7h0.55v0.55h-0.55zM187.3 343.8h0.55v0.55h-0.55zM165.2 322.4h0.55v0.55h-0.55zM137.4 323.4h0.55v0.55h-0.55zM135.7 341.0h0.55v0.55h-0.55zM182.6 331.4h0.55v0.55h-0.55zM143.4 338.4h0.55v0.55h-0.55zM150.8 322.9h0.55v0.55h-0.55zM134.7 337.5h0.55v0.55h-0.55zM135.1 341.1h0.55v0.55h-0.55zM135.9 340.8h0.55v0.55h-0.55zM169.1 322.8h0.55v0.55h-0.55zM155.2 328.2h0.55v0.55h-0.55zM139.2 335.4h0.55v0.55h-0.55zM152.3 331.8h0.55v0.55h-0.55zM151.3 325.8h0.55v0.55h-0.55zM167.3 338.9h0.55v0.55h-0.55zM140.7 330.6h0.55v0.55h-0.55zM168.3 317.1h0.55v0.55h-0.55zM153.9 339.3h0.55v0.55h-0.55zM175.7 328.8h0.55v0.55h-0.55zM153.4 324.1h0.55v0.55h-0.55zM140.2 323.4h0.55v0.55h-0.55zM144.8 339.1h0.55v0.55h-0.55zM134.1 340.2h0.55v0.55h-0.55zM144.3 330.6h0.55v0.55h-0.55zM134.8 323.4h0.55v0.55h-0.55zM167.0 325.9h0.55v0.55h-0.55zM138.4 328.7h0.55v0.55h-0.55zM140.8 335.9h0.55v0.55h-0.55zM160.1 322.0h0.55v0.55h-0.55zM154.1 322.5h0.55v0.55h-0.55zM162.2 336.0h0.55v0.55h-0.55zM171.3 316.5h0.55v0.55h-0.55zM139.0 329.6h0.55v0.55h-0.55zM160.5 326.6h0.55v0.55h-0.55zM141.3 328.5h0.55v0.55h-0.55zM177.3 330.7h0.55v0.55h-0.55zM181.2 327.0h0.55v0.55h-0.55zM151.7 338.0h0.55v0.55h-0.55zM137.7 337.4h0.55v0.55h-0.55zM134.2 318.3h0.55v0.55h-0.55zM160.6 319.3h0.55v0.55h-0.55zM162.2 335.7h0.55v0.55h-0.55zM154.7 331.5h0.55v0.55h-0.55zM170.4 324.0h0.55v0.55h-0.55zM137.3 339.4h0.55v0.55h-0.55zM147.0 326.2h0.55v0.55h-0.55zM151.8 334.5h0.55v0.55h-0.55zM148.8 332.5h0.55v0.55h-0.55zM138.6 336.2h0.55v0.55h-0.55zM159.7 323.1h0.55v0.55h-0.55zM142.0 352.6h0.55v0.55h-0.55zM197.7 328.8h0.55v0.55h-0.55zM139.6 348.9h0.55v0.55h-0.55zM136.2 326.8h0.55v0.55h-0.55zM180.5 340.9h0.55v0.55h-0.55zM140.7 329.8h0.55v0.55h-0.55zM161.3 337.1h0.55v0.55h-0.55zM175.3 324.9h0.55v0.55h-0.55zM155.7 330.3h0.55v0.55h-0.55zM143.4 348.8h0.55v0.55h-0.55zM191.4 336.8h0.55v0.55h-0.55zM144.1 324.4h0.55v0.55h-0.55zM141.2 331.3h0.55v0.55h-0.55zM193.0 328.1h0.55v0.55h-0.55zM145.4 328.8h0.55v0.55h-0.55zM136.5 335.2h0.55v0.55h-0.55zM143.8 331.9h0.55v0.55h-0.55zM148.7 321.9h0.55v0.55h-0.55zM151.9 326.4h0.55v0.55h-0.55zM166.2 333.9h0.55v0.55h-0.55zM146.6 332.6h0.55v0.55h-0.55zM146.8 327.6h0.55v0.55h-0.55zM162.9 320.4h0.55v0.55h-0.55zM135.3 345.0h0.55v0.55h-0.55zM138.2 326.2h0.55v0.55h-0.55zM137.0 329.3h0.55v0.55h-0.55zM170.7 332.4h0.55v0.55h-0.55zM167.0 337.7h0.55v0.55h-0.55zM169.8 344.9h0.55v0.55h-0.55zM171.4 340.7h0.55v0.55h-0.55zM149.7 326.8h0.55v0.55h-0.55zM143.0 341.4h0.55v0.55h-0.55zM149.3 334.1h0.55v0.55h-0.55zM152.0 314.2h0.55v0.55h-0.55zM183.9 325.3h0.55v0.55h-0.55zM143.1 341.1h0.55v0.55h-0.55zM134.1 350.8h0.55v0.55h-0.55zM151.8 325.6h0.55v0.55h-0.55zM139.6 330.4h0.55v0.55h-0.55zM169.0 334.9h0.55v0.55h-0.55zM138.5 341.6h0.55v0.55h-0.55zM184.0 345.8h0.55v0.55h-0.55zM151.6 314.7h0.55v0.55h-0.55zM141.5 336.4h0.55v0.55h-0.55zM173.1 345.2h0.55v0.55h-0.55zM152.7 332.8h0.55v0.55h-0.55zM182.1 324.2h0.55v0.55h-0.55zM150.3 347.9h0.55v0.55h-0.55zM139.7 336.3h0.55v0.55h-0.55zM145.3 345.8h0.55v0.55h-0.55zM159.3 334.3h0.55v0.55h-0.55zM135.0 325.1h0.55v0.55h-0.55zM140.1 315.9h0.55v0.55h-0.55zM136.0 334.4h0.55v0.55h-0.55zM140.4 340.5h0.55v0.55h-0.55zM139.3 332.7h0.55v0.55h-0.55zM134.2 331.6h0.55v0.55h-0.55zM139.3 331.8h0.55v0.55h-0.55zM150.5 342.7h0.55v0.55h-0.55zM147.5 327.7h0.55v0.55h-0.55zM139.4 327.3h0.55v0.55h-0.55zM134.5 326.6h0.55v0.55h-0.55zM172.2 336.6h0.55v0.55h-0.55zM147.2 350.3h0.55v0.55h-0.55zM148.3 333.2h0.55v0.55h-0.55zM178.4 314.0h0.55v0.55h-0.55zM157.8 321.9h0.55v0.55h-0.55zM147.3 323.9h0.55v0.55h-0.55zM162.2 341.2h0.55v0.55h-0.55zM198.6 341.0h0.55v0.55h-0.55zM158.1 332.3h0.55v0.55h-0.55zM145.2 346.6h0.55v0.55h-0.55zM141.4 323.5h0.55v0.55h-0.55zM153.5 340.1h0.55v0.55h-0.55zM168.1 347.1h0.55v0.55h-0.55zM174.5 335.5h0.55v0.55h-0.55zM156.9 318.8h0.55v0.55h-0.55zM151.1 334.5h0.55v0.55h-0.55zM182.1 332.2h0.55v0.55h-0.55zM173.3 315.5h0.55v0.55h-0.55zM173.1 340.9h0.55v0.55h-0.55zM156.6 342.8h0.55v0.55h-0.55zM154.8 330.6h0.55v0.55h-0.55zM137.2 327.2h0.55v0.55h-0.55zM160.8 333.7h0.55v0.55h-0.55zM162.8 342.8h0.55v0.55h-0.55zM152.4 329.5h0.55v0.55h-0.55zM157.1 338.4h0.55v0.55h-0.55zM155.0 320.5h0.55v0.55h-0.55zM152.7 324.1h0.55v0.55h-0.55zM145.7 324.8h0.55v0.55h-0.55zM160.3 331.7h0.55v0.55h-0.55zM168.6 321.7h0.55v0.55h-0.55zM154.9 327.0h0.55v0.55h-0.55zM136.3 342.8h0.55v0.55h-0.55zM160.7 322.7h0.55v0.55h-0.55zM148.2 324.2h0.55v0.55h-0.55zM150.8 345.8h0.55v0.55h-0.55zM141.7 335.6h0.55v0.55h-0.55zM192.4 327.6h0.55v0.55h-0.55zM149.3 332.0h0.55v0.55h-0.55zM156.7 327.9h0.55v0.55h-0.55zM141.4 319.7h0.55v0.55h-0.55zM141.3 330.8h0.55v0.55h-0.55zM143.6 339.0h0.55v0.55h-0.55zM153.1 333.1h0.55v0.55h-0.55zM186.0 333.2h0.55v0.55h-0.55zM160.4 334.3h0.55v0.55h-0.55zM135.0 336.0h0.55v0.55h-0.55zM136.6 350.1h0.55v0.55h-0.55zM168.8 322.6h0.55v0.55h-0.55zM180.2 321.0h0.55v0.55h-0.55zM158.5 330.0h0.55v0.55h-0.55zM168.4 343.5h0.55v0.55h-0.55zM164.4 339.2h0.55v0.55h-0.55zM139.5 341.9h0.55v0.55h-0.55zM161.4 333.3h0.55v0.55h-0.55zM157.6 338.5h0.55v0.55h-0.55zM174.0 330.2h0.55v0.55h-0.55zM140.4 335.9h0.55v0.55h-0.55zM166.5 339.0h0.55v0.55h-0.55zM138.4 346.3h0.55v0.55h-0.55zM144.0 347.2h0.55v0.55h-0.55zM143.6 311.2h0.55v0.55h-0.55zM138.4 319.7h0.55v0.55h-0.55zM143.6 323.1h0.55v0.55h-0.55zM142.6 334.1h0.55v0.55h-0.55zM153.6 338.3h0.55v0.55h-0.55zM190.1 336.0h0.55v0.55h-0.55zM150.1 311.3h0.55v0.55h-0.55zM137.8 335.0h0.55v0.55h-0.55zM160.7 328.9h0.55v0.55h-0.55zM170.5 320.3h0.55v0.55h-0.55zM141.4 317.5h0.55v0.55h-0.55zM178.2 334.6h0.55v0.55h-0.55zM185.5 336.3h0.55v0.55h-0.55zM143.1 339.9h0.55v0.55h-0.55zM185.0 342.8h0.55v0.55h-0.55zM149.2 347.0h0.55v0.55h-0.55zM146.3 331.9h0.55v0.55h-0.55zM144.1 331.6h0.55v0.55h-0.55zM149.1 337.2h0.55v0.55h-0.55zM182.0 331.4h0.55v0.55h-0.55zM194.4 332.2h0.55v0.55h-0.55zM137.4 331.7h0.55v0.55h-0.55zM153.6 326.4h0.55v0.55h-0.55zM149.9 337.9h0.55v0.55h-0.55zM177.3 330.3h0.55v0.55h-0.55zM153.6 349.0h0.55v0.55h-0.55zM137.4 333.3h0.55v0.55h-0.55zM159.3 331.3h0.55v0.55h-0.55zM155.8 341.6h0.55v0.55h-0.55zM136.0 322.6h0.55v0.55h-0.55zM141.7 345.4h0.55v0.55h-0.55zM144.4 320.3h0.55v0.55h-0.55zM155.1 318.2h0.55v0.55h-0.55zM166.4 348.9h0.55v0.55h-0.55zM138.6 319.8h0.55v0.55h-0.55zM154.9 335.5h0.55v0.55h-0.55zM161.6 324.7h0.55v0.55h-0.55zM146.0 347.8h0.55v0.55h-0.55zM191.9 335.9h0.55v0.55h-0.55zM136.0 354.7h0.55v0.55h-0.55zM148.0 329.1h0.55v0.55h-0.55zM140.2 339.6h0.55v0.55h-0.55zM159.7 334.8h0.55v0.55h-0.55zM145.7 331.8h0.55v0.55h-0.55zM156.3 342.8h0.55v0.55h-0.55zM148.8 316.6h0.55v0.55h-0.55zM158.6 334.9h0.55v0.55h-0.55zM144.8 339.0h0.55v0.55h-0.55zM168.7 330.1h0.55v0.55h-0.55zM147.0 326.2h0.55v0.55h-0.55zM167.5 345.1h0.55v0.55h-0.55zM157.1 317.4h0.55v0.55h-0.55zM142.0 330.5h0.55v0.55h-0.55zM148.7 330.5h0.55v0.55h-0.55zM139.4 342.0h0.55v0.55h-0.55zM159.6 323.7h0.55v0.55h-0.55zM176.1 332.0h0.55v0.55h-0.55zM150.1 334.8h0.55v0.55h-0.55zM150.7 346.4h0.55v0.55h-0.55zM153.3 331.7h0.55v0.55h-0.55zM139.6 323.1h0.55v0.55h-0.55zM139.2 326.2h0.55v0.55h-0.55zM180.6 333.7h0.55v0.55h-0.55zM168.4 344.1h0.55v0.55h-0.55zM157.6 326.4h0.55v0.55h-0.55zM177.9 337.0h0.55v0.55h-0.55zM171.2 333.4h0.55v0.55h-0.55zM155.2 342.6h0.55v0.55h-0.55zM162.2 337.2h0.55v0.55h-0.55zM141.3 333.4h0.55v0.55h-0.55zM153.0 332.5h0.55v0.55h-0.55zM140.5 331.2h0.55v0.55h-0.55zM145.9 335.4h0.55v0.55h-0.55zM189.5 323.9h0.55v0.55h-0.55zM146.1 342.3h0.55v0.55h-0.55zM146.6 336.8h0.55v0.55h-0.55zM152.1 343.9h0.55v0.55h-0.55zM192.5 328.9h0.55v0.55h-0.55zM138.8 328.7h0.55v0.55h-0.55zM159.3 329.6h0.55v0.55h-0.55zM166.9 312.5h0.55v0.55h-0.55zM181.1 333.8h0.55v0.55h-0.55zM135.6 328.4h0.55v0.55h-0.55zM167.4 321.7h0.55v0.55h-0.55zM137.2 330.0h0.55v0.55h-0.55zM162.1 330.1h0.55v0.55h-0.55zM144.0 330.3h0.55v0.55h-0.55zM148.2 340.9h0.55v0.55h-0.55zM153.8 330.2h0.55v0.55h-0.55zM148.7 346.1h0.55v0.55h-0.55zM156.3 328.8h0.55v0.55h-0.55zM157.0 327.4h0.55v0.55h-0.55zM156.5 354.8h0.55v0.55h-0.55zM185.0 310.8h0.55v0.55h-0.55zM161.9 327.4h0.55v0.55h-0.55zM146.6 319.4h0.55v0.55h-0.55zM142.4 331.5h0.55v0.55h-0.55zM188.0 330.5h0.55v0.55h-0.55zM140.6 333.6h0.55v0.55h-0.55zM161.9 339.4h0.55v0.55h-0.55zM150.2 330.4h0.55v0.55h-0.55zM136.9 340.4h0.55v0.55h-0.55zM145.4 341.1h0.55v0.55h-0.55zM153.0 323.6h0.55v0.55h-0.55zM149.4 353.9h0.55v0.55h-0.55zM150.5 333.3h0.55v0.55h-0.55zM136.3 326.1h0.55v0.55h-0.55zM138.9 329.2h0.55v0.55h-0.55zM176.4 327.5h0.55v0.55h-0.55zM137.2 341.6h0.55v0.55h-0.55zM140.6 315.7h0.55v0.55h-0.55zM138.4 321.3h0.55v0.55h-0.55zM164.3 328.3h0.55v0.55h-0.55zM145.7 334.7h0.55v0.55h-0.55zM135.5 320.7h0.55v0.55h-0.55zM142.9 308.7h0.55v0.55h-0.55zM144.4 341.0h0.55v0.55h-0.55zM144.7 311.9h0.55v0.55h-0.55zM157.2 328.1h0.55v0.55h-0.55zM134.9 346.9h0.55v0.55h-0.55zM155.3 315.5h0.55v0.55h-0.55zM135.1 342.8h0.55v0.55h-0.55zM153.4 329.9h0.55v0.55h-0.55zM163.9 336.3h0.55v0.55h-0.55zM135.4 345.4h0.55v0.55h-0.55zM146.1 342.7h0.55v0.55h-0.55zM145.1 329.8h0.55v0.55h-0.55zM135.8 334.2h0.55v0.55h-0.55zM169.1 320.3h0.55v0.55h-0.55zM176.6 315.1h0.55v0.55h-0.55zM138.6 337.0h0.55v0.55h-0.55zM161.5 321.1h0.55v0.55h-0.55zM162.0 322.8h0.55v0.55h-0.55zM145.9 341.1h0.55v0.55h-0.55zM176.6 328.1h0.55v0.55h-0.55zM170.0 317.2h0.55v0.55h-0.55zM169.1 326.7h0.55v0.55h-0.55zM150.5 324.1h0.55v0.55h-0.55zM141.3 322.8h0.55v0.55h-0.55zM151.9 327.3h0.55v0.55h-0.55zM158.3 330.8h0.55v0.55h-0.55zM173.8 330.6h0.55v0.55h-0.55zM134.8 343.5h0.55v0.55h-0.55zM172.6 328.1h0.55v0.55h-0.55zM169.6 324.7h0.55v0.55h-0.55zM156.8 337.9h0.55v0.55h-0.55zM186.7 332.1h0.55v0.55h-0.55zM145.9 326.9h0.55v0.55h-0.55zM134.4 337.6h0.55v0.55h-0.55zM140.6 339.5h0.55v0.55h-0.55zM146.4 323.2h0.55v0.55h-0.55zM157.7 324.9h0.55v0.55h-0.55zM146.0 318.5h0.55v0.55h-0.55zM155.4 327.3h0.55v0.55h-0.55zM158.2 347.5h0.55v0.55h-0.55zM151.8 324.3h0.55v0.55h-0.55zM142.8 325.8h0.55v0.55h-0.55zM144.0 344.4h0.55v0.55h-0.55zM142.8 322.5h0.55v0.55h-0.55zM169.8 332.2h0.55v0.55h-0.55zM163.2 325.1h0.55v0.55h-0.55zM158.1 332.9h0.55v0.55h-0.55zM156.6 331.8h0.55v0.55h-0.55zM139.9 326.5h0.55v0.55h-0.55zM154.2 323.7h0.55v0.55h-0.55zM141.7 343.2h0.55v0.55h-0.55zM137.5 347.6h0.55v0.55h-0.55zM136.7 336.7h0.55v0.55h-0.55zM183.9 316.2h0.55v0.55h-0.55zM149.2 351.3h0.55v0.55h-0.55zM196.5 338.2h0.55v0.55h-0.55zM146.3 335.9h0.55v0.55h-0.55zM139.0 319.2h0.55v0.55h-0.55zM179.0 335.5h0.55v0.55h-0.55zM181.7 329.1h0.55v0.55h-0.55zM146.9 349.7h0.55v0.55h-0.55zM178.0 329.2h0.55v0.55h-0.55zM197.9 317.2h0.55v0.55h-0.55zM189.7 339.0h0.55v0.55h-0.55zM141.5 315.5h0.55v0.55h-0.55zM157.1 334.1h0.55v0.55h-0.55zM145.7 324.3h0.55v0.55h-0.55zM147.6 336.6h0.55v0.55h-0.55zM135.0 328.8h0.55v0.55h-0.55zM170.1 338.0h0.55v0.55h-0.55zM144.2 333.1h0.55v0.55h-0.55zM156.8 338.3h0.55v0.55h-0.55zM139.1 328.2h0.55v0.55h-0.55zM135.6 331.7h0.55v0.55h-0.55zM156.1 330.0h0.55v0.55h-0.55zM162.0 336.7h0.55v0.55h-0.55zM152.1 336.3h0.55v0.55h-0.55zM165.0 334.0h0.55v0.55h-0.55zM158.3 328.5h0.55v0.55h-0.55zM149.0 343.7h0.55v0.55h-0.55zM147.0 332.9h0.55v0.55h-0.55zM151.1 341.7h0.55v0.55h-0.55zM192.0 339.6h0.55v0.55h-0.55zM140.6 320.8h0.55v0.55h-0.55zM156.2 328.6h0.55v0.55h-0.55zM191.4 334.0h0.55v0.55h-0.55zM192.0 331.3h0.55v0.55h-0.55zM147.5 336.4h0.55v0.55h-0.55zM174.1 313.4h0.55v0.55h-0.55zM152.3 342.1h0.55v0.55h-0.55zM168.2 335.0h0.55v0.55h-0.55zM158.3 334.8h0.55v0.55h-0.55zM160.0 326.7h0.55v0.55h-0.55zM175.8 338.3h0.55v0.55h-0.55zM148.5 329.5h0.55v0.55h-0.55zM180.2 347.8h0.55v0.55h-0.55zM147.8 316.5h0.55v0.55h-0.55zM149.0 328.6h0.55v0.55h-0.55zM143.2 322.8h0.55v0.55h-0.55zM152.3 323.9h0.55v0.55h-0.55zM167.4 334.1h0.55v0.55h-0.55zM137.4 321.4h0.55v0.55h-0.55zM134.1 330.1h0.55v0.55h-0.55zM167.1 337.9h0.55v0.55h-0.55zM148.2 351.4h0.55v0.55h-0.55zM173.6 337.0h0.55v0.55h-0.55zM137.2 347.7h0.55v0.55h-0.55zM151.4 322.8h0.55v0.55h-0.55zM139.1 325.5h0.55v0.55h-0.55zM155.0 332.6h0.55v0.55h-0.55zM159.7 309.1h0.55v0.55h-0.55zM143.8 320.8h0.55v0.55h-0.55zM152.9 332.5h0.55v0.55h-0.55zM146.7 337.3h0.55v0.55h-0.55zM180.3 328.5h0.55v0.55h-0.55zM145.8 331.0h0.55v0.55h-0.55zM139.3 345.9h0.55v0.55h-0.55zM141.5 316.1h0.55v0.55h-0.55zM183.4 323.0h0.55v0.55h-0.55zM144.8 332.3h0.55v0.55h-0.55zM140.8 339.0h0.55v0.55h-0.55zM172.1 322.2h0.55v0.55h-0.55zM145.7 325.3h0.55v0.55h-0.55zM142.0 326.4h0.55v0.55h-0.55zM152.9 325.9h0.55v0.55h-0.55zM138.6 342.4h0.55v0.55h-0.55zM152.9 318.9h0.55v0.55h-0.55zM138.1 330.4h0.55v0.55h-0.55zM160.9 331.0h0.55v0.55h-0.55zM177.2 328.9h0.55v0.55h-0.55zM164.3 331.9h0.55v0.55h-0.55zM174.2 321.1h0.55v0.55h-0.55zM184.2 342.9h0.55v0.55h-0.55zM173.6 331.5h0.55v0.55h-0.55zM148.0 339.6h0.55v0.55h-0.55zM136.9 332.2h0.55v0.55h-0.55zM153.7 327.9h0.55v0.55h-0.55zM153.4 327.9h0.55v0.55h-0.55zM152.2 320.4h0.55v0.55h-0.55zM163.3 334.1h0.55v0.55h-0.55zM156.1 330.8h0.55v0.55h-0.55zM146.7 328.9h0.55v0.55h-0.55zM140.2 330.6h0.55v0.55h-0.55zM152.4 328.4h0.55v0.55h-0.55zM148.4 347.8h0.55v0.55h-0.55zM154.2 337.1h0.55v0.55h-0.55zM156.2 334.5h0.55v0.55h-0.55zM175.0 340.7h0.55v0.55h-0.55zM140.2 341.5h0.55v0.55h-0.55zM140.1 328.9h0.55v0.55h-0.55zM136.3 329.8h0.55v0.55h-0.55zM145.7 328.0h0.55v0.55h-0.55zM147.1 324.7h0.55v0.55h-0.55zM145.7 317.1h0.55v0.55h-0.55zM148.6 335.7h0.55v0.55h-0.55zM170.0 332.4h0.55v0.55h-0.55zM143.3 333.3h0.55v0.55h-0.55zM136.0 328.7h0.55v0.55h-0.55zM140.1 338.3h0.55v0.55h-0.55zM134.3 330.3h0.55v0.55h-0.55zM139.2 328.1h0.55v0.55h-0.55zM146.9 341.2h0.55v0.55h-0.55zM158.0 325.0h0.55v0.55h-0.55zM136.0 348.1h0.55v0.55h-0.55zM141.8 342.8h0.55v0.55h-0.55zM134.6 310.5h0.55v0.55h-0.55zM152.3 347.5h0.55v0.55h-0.55zM134.7 339.0h0.55v0.55h-0.55zM170.8 311.1h0.55v0.55h-0.55zM138.2 329.4h0.55v0.55h-0.55zM175.1 337.8h0.55v0.55h-0.55zM141.3 313.9h0.55v0.55h-0.55zM145.4 332.2h0.55v0.55h-0.55zM154.3 331.4h0.55v0.55h-0.55zM162.1 322.4h0.55v0.55h-0.55zM138.7 332.8h0.55v0.55h-0.55zM160.8 339.1h0.55v0.55h-0.55zM149.8 332.0h0.55v0.55h-0.55zM149.1 321.6h0.55v0.55h-0.55zM158.1 324.1h0.55v0.55h-0.55zM134.5 352.4h0.55v0.55h-0.55zM143.4 333.2h0.55v0.55h-0.55zM137.9 350.9h0.55v0.55h-0.55zM173.2 337.6h0.55v0.55h-0.55zM141.2 342.8h0.55v0.55h-0.55zM159.0 338.4h0.55v0.55h-0.55zM147.5 314.0h0.55v0.55h-0.55zM139.9 332.5h0.55v0.55h-0.55zM182.5 322.4h0.55v0.55h-0.55zM135.1 321.3h0.55v0.55h-0.55zM189.1 331.2h0.55v0.55h-0.55zM158.8 328.1h0.55v0.55h-0.55zM147.3 328.1h0.55v0.55h-0.55zM140.5 342.8h0.55v0.55h-0.55zM138.9 336.9h0.55v0.55h-0.55zM188.6 332.6h0.55v0.55h-0.55zM154.4 336.6h0.55v0.55h-0.55zM156.2 337.1h0.55v0.55h-0.55zM137.2 324.0h0.55v0.55h-0.55zM142.4 331.9h0.55v0.55h-0.55zM190.1 321.1h0.55v0.55h-0.55zM151.9 329.3h0.55v0.55h-0.55zM162.2 334.7h0.55v0.55h-0.55zM145.7 332.8h0.55v0.55h-0.55zM168.8 339.3h0.55v0.55h-0.55zM151.2 324.9h0.55v0.55h-0.55zM140.9 335.6h0.55v0.55h-0.55zM174.4 332.3h0.55v0.55h-0.55zM138.9 353.7h0.55v0.55h-0.55zM153.9 330.1h0.55v0.55h-0.55zM165.4 324.6h0.55v0.55h-0.55zM158.2 336.9h0.55v0.55h-0.55zM136.6 333.8h0.55v0.55h-0.55zM153.3 327.0h0.55v0.55h-0.55zM151.2 322.0h0.55v0.55h-0.55zM171.8 332.4h0.55v0.55h-0.55zM148.0 332.1h0.55v0.55h-0.55zM171.6 328.1h0.55v0.55h-0.55zM152.4 341.3h0.55v0.55h-0.55zM149.3 355.3h0.55v0.55h-0.55zM163.5 319.1h0.55v0.55h-0.55zM147.0 315.3h0.55v0.55h-0.55zM148.9 329.2h0.55v0.55h-0.55zM160.9 336.1h0.55v0.55h-0.55zM140.8 339.9h0.55v0.55h-0.55zM177.1 343.4h0.55v0.55h-0.55zM152.2 343.1h0.55v0.55h-0.55zM134.7 332.1h0.55v0.55h-0.55zM156.8 329.6h0.55v0.55h-0.55zM141.6 327.7h0.55v0.55h-0.55zM135.4 353.7h0.55v0.55h-0.55zM145.4 342.2h0.55v0.55h-0.55zM165.9 334.6h0.55v0.55h-0.55zM153.0 328.3h0.55v0.55h-0.55zM151.5 332.3h0.55v0.55h-0.55zM177.2 326.9h0.55v0.55h-0.55zM170.0 340.9h0.55v0.55h-0.55zM141.5 323.7h0.55v0.55h-0.55zM151.9 327.8h0.55v0.55h-0.55zM136.8 330.8h0.55v0.55h-0.55zM155.3 339.8h0.55v0.55h-0.55zM167.6 330.6h0.55v0.55h-0.55zM139.6 321.0h0.55v0.55h-0.55zM155.1 352.8h0.55v0.55h-0.55zM156.2 337.3h0.55v0.55h-0.55zM185.3 333.3h0.55v0.55h-0.55zM139.7 332.3h0.55v0.55h-0.55zM142.1 343.1h0.55v0.55h-0.55zM142.8 323.5h0.55v0.55h-0.55zM144.5 326.3h0.55v0.55h-0.55zM164.8 333.4h0.55v0.55h-0.55zM143.0 334.0h0.55v0.55h-0.55zM147.3 332.8h0.55v0.55h-0.55zM148.6 321.0h0.55v0.55h-0.55zM166.3 320.7h0.55v0.55h-0.55zM139.3 330.7h0.55v0.55h-0.55zM134.8 326.8h0.55v0.55h-0.55zM140.5 325.0h0.55v0.55h-0.55zM162.5 320.7h0.55v0.55h-0.55zM162.1 320.5h0.55v0.55h-0.55zM164.7 323.6h0.55v0.55h-0.55zM139.6 323.0h0.55v0.55h-0.55zM136.0 342.7h0.55v0.55h-0.55zM137.9 336.5h0.55v0.55h-0.55zM151.2 329.4h0.55v0.55h-0.55zM136.8 326.7h0.55v0.55h-0.55zM168.5 337.7h0.55v0.55h-0.55zM143.4 330.2h0.55v0.55h-0.55zM145.2 321.2h0.55v0.55h-0.55zM160.9 318.3h0.55v0.55h-0.55zM140.7 333.8h0.55v0.55h-0.55zM147.2 329.7h0.55v0.55h-0.55zM148.0 323.9h0.55v0.55h-0.55zM139.3 335.9h0.55v0.55h-0.55zM157.8 337.5h0.55v0.55h-0.55zM159.9 338.8h0.55v0.55h-0.55zM134.4 330.6h0.55v0.55h-0.55zM149.3 346.4h0.55v0.55h-0.55zM158.9 321.5h0.55v0.55h-0.55zM163.0 334.9h0.55v0.55h-0.55zM145.5 335.5h0.55v0.55h-0.55zM152.9 354.5h0.55v0.55h-0.55zM180.6 321.3h0.55v0.55h-0.55zM147.4 326.5h0.55v0.55h-0.55zM154.8 331.0h0.55v0.55h-0.55zM169.0 333.8h0.55v0.55h-0.55zM155.1 315.2h0.55v0.55h-0.55zM143.0 334.7h0.55v0.55h-0.55zM162.2 331.2h0.55v0.55h-0.55zM136.2 327.9h0.55v0.55h-0.55zM135.3 309.0h0.55v0.55h-0.55zM138.0 323.1h0.55v0.55h-0.55zM153.1 325.2h0.55v0.55h-0.55zM139.3 338.6h0.55v0.55h-0.55zM142.7 339.4h0.55v0.55h-0.55zM160.4 325.4h0.55v0.55h-0.55zM173.3 334.8h0.55v0.55h-0.55zM172.3 332.2h0.55v0.55h-0.55zM193.7 341.7h0.55v0.55h-0.55zM160.0 325.9h0.55v0.55h-0.55zM160.2 342.1h0.55v0.55h-0.55zM158.3 331.4h0.55v0.55h-0.55zM148.2 323.2h0.55v0.55h-0.55zM156.6 336.8h0.55v0.55h-0.55zM154.2 354.4h0.55v0.55h-0.55zM141.2 338.9h0.55v0.55h-0.55zM167.7 341.4h0.55v0.55h-0.55zM173.1 346.1h0.55v0.55h-0.55zM165.3 345.3h0.55v0.55h-0.55zM148.8 331.5h0.55v0.55h-0.55zM160.9 325.7h0.55v0.55h-0.55zM142.2 320.6h0.55v0.55h-0.55zM178.0 335.1h0.55v0.55h-0.55zM158.2 320.5h0.55v0.55h-0.55zM195.7 341.2h0.55v0.55h-0.55zM143.5 339.2h0.55v0.55h-0.55zM165.2 333.8h0.55v0.55h-0.55zM160.7 346.4h0.55v0.55h-0.55zM170.9 340.9h0.55v0.55h-0.55zM147.3 325.7h0.55v0.55h-0.55zM150.6 323.1h0.55v0.55h-0.55zM134.3 350.2h0.55v0.55h-0.55zM148.8 331.0h0.55v0.55h-0.55zM184.9 326.6h0.55v0.55h-0.55zM157.0 336.2h0.55v0.55h-0.55zM160.5 318.6h0.55v0.55h-0.55zM155.5 326.3h0.55v0.55h-0.55zM178.8 337.9h0.55v0.55h-0.55zM141.6 330.7h0.55v0.55h-0.55zM174.7 338.7h0.55v0.55h-0.55zM159.5 322.3h0.55v0.55h-0.55zM179.4 329.2h0.55v0.55h-0.55zM150.8 323.4h0.55v0.55h-0.55zM140.9 317.4h0.55v0.55h-0.55zM187.6 328.1h0.55v0.55h-0.55zM143.3 325.9h0.55v0.55h-0.55zM138.1 343.0h0.55v0.55h-0.55zM147.4 317.5h0.55v0.55h-0.55zM147.6 332.2h0.55v0.55h-0.55zM172.8 329.7h0.55v0.55h-0.55zM158.2 330.1h0.55v0.55h-0.55zM142.1 324.0h0.55v0.55h-0.55zM141.0 328.5h0.55v0.55h-0.55zM136.0 333.2h0.55v0.55h-0.55zM173.8 317.5h0.55v0.55h-0.55zM156.2 326.9h0.55v0.55h-0.55zM154.7 328.1h0.55v0.55h-0.55zM137.2 311.9h0.55v0.55h-0.55zM163.9 335.1h0.55v0.55h-0.55zM164.7 327.7h0.55v0.55h-0.55zM165.3 335.5h0.55v0.55h-0.55zM154.9 338.1h0.55v0.55h-0.55zM165.2 349.6h0.55v0.55h-0.55zM166.9 338.8h0.55v0.55h-0.55zM146.3 336.8h0.55v0.55h-0.55zM169.7 327.0h0.55v0.55h-0.55zM151.7 321.7h0.55v0.55h-0.55zM136.5 336.4h0.55v0.55h-0.55zM144.0 327.4h0.55v0.55h-0.55zM148.2 322.1h0.55v0.55h-0.55zM148.8 340.1h0.55v0.55h-0.55zM172.9 317.7h0.55v0.55h-0.55zM152.9 343.7h0.55v0.55h-0.55zM154.8 342.2h0.55v0.55h-0.55zM156.1 349.2h0.55v0.55h-0.55zM163.6 334.7h0.55v0.55h-0.55zM164.1 342.3h0.55v0.55h-0.55zM143.4 334.7h0.55v0.55h-0.55zM170.9 337.7h0.55v0.55h-0.55zM163.0 338.0h0.55v0.55h-0.55zM163.7 342.3h0.55v0.55h-0.55zM147.3 331.1h0.55v0.55h-0.55zM161.7 326.0h0.55v0.55h-0.55zM138.3 324.8h0.55v0.55h-0.55zM140.8 352.3h0.55v0.55h-0.55zM140.0 309.2h0.55v0.55h-0.55zM182.8 325.3h0.55v0.55h-0.55zM167.6 326.0h0.55v0.55h-0.55zM156.5 341.5h0.55v0.55h-0.55zM165.3 330.3h0.55v0.55h-0.55zM142.8 341.2h0.55v0.55h-0.55zM148.5 327.2h0.55v0.55h-0.55zM166.4 323.5h0.55v0.55h-0.55zM152.3 341.8h0.55v0.55h-0.55zM168.9 334.6h0.55v0.55h-0.55zM147.5 329.4h0.55v0.55h-0.55zM187.5 321.0h0.55v0.55h-0.55zM141.7 339.1h0.55v0.55h-0.55zM163.1 332.6h0.55v0.55h-0.55zM175.6 330.0h0.55v0.55h-0.55zM165.1 317.2h0.55v0.55h-0.55zM160.5 328.7h0.55v0.55h-0.55zM151.3 339.8h0.55v0.55h-0.55zM135.9 348.2h0.55v0.55h-0.55zM147.0 332.9h0.55v0.55h-0.55zM171.1 328.0h0.55v0.55h-0.55zM182.0 320.1h0.55v0.55h-0.55zM135.9 339.7h0.55v0.55h-0.55zM153.7 337.1h0.55v0.55h-0.55zM161.9 340.1h0.55v0.55h-0.55zM139.5 332.8h0.55v0.55h-0.55zM148.0 319.9h0.55v0.55h-0.55zM146.0 344.1h0.55v0.55h-0.55zM138.3 332.6h0.55v0.55h-0.55zM139.9 336.0h0.55v0.55h-0.55zM182.0 328.8h0.55v0.55h-0.55zM135.4 334.5h0.55v0.55h-0.55zM148.3 345.7h0.55v0.55h-0.55zM157.5 330.2h0.55v0.55h-0.55zM152.5 333.8h0.55v0.55h-0.55zM145.3 328.9h0.55v0.55h-0.55zM177.1 350.0h0.55v0.55h-0.55zM146.5 335.0h0.55v0.55h-0.55zM174.9 315.5h0.55v0.55h-0.55zM174.6 345.9h0.55v0.55h-0.55zM137.6 315.6h0.55v0.55h-0.55zM161.6 333.4h0.55v0.55h-0.55zM135.8 312.2h0.55v0.55h-0.55zM134.9 336.4h0.55v0.55h-0.55zM141.9 325.1h0.55v0.55h-0.55zM146.6 315.0h0.55v0.55h-0.55zM138.7 329.5h0.55v0.55h-0.55zM135.2 338.8h0.55v0.55h-0.55zM183.0 338.7h0.55v0.55h-0.55zM135.4 333.6h0.55v0.55h-0.55zM171.7 331.4h0.55v0.55h-0.55zM140.2 348.2h0.55v0.55h-0.55zM169.1 344.3h0.55v0.55h-0.55zM155.4 319.7h0.55v0.55h-0.55zM134.6 351.8h0.55v0.55h-0.55zM141.0 320.5h0.55v0.55h-0.55zM174.6 342.7h0.55v0.55h-0.55zM157.0 327.7h0.55v0.55h-0.55zM139.8 325.4h0.55v0.55h-0.55zM136.4 320.5h0.55v0.55h-0.55zM177.7 331.2h0.55v0.55h-0.55zM171.6 323.6h0.55v0.55h-0.55zM167.4 322.4h0.55v0.55h-0.55zM150.2 342.1h0.55v0.55h-0.55zM158.4 332.0h0.55v0.55h-0.55zM144.8 330.7h0.55v0.55h-0.55zM135.0 333.2h0.55v0.55h-0.55zM135.5 316.6h0.55v0.55h-0.55zM165.1 331.8h0.55v0.55h-0.55zM171.6 327.8h0.55v0.55h-0.55zM159.5 347.6h0.55v0.55h-0.55zM145.0 321.8h0.55v0.55h-0.55zM158.5 341.4h0.55v0.55h-0.55zM158.2 328.6h0.55v0.55h-0.55zM145.6 336.0h0.55v0.55h-0.55zM148.3 344.7h0.55v0.55h-0.55zM143.9 328.0h0.55v0.55h-0.55zM144.8 328.7h0.55v0.55h-0.55zM141.3 319.6h0.55v0.55h-0.55zM147.5 328.2h0.55v0.55h-0.55zM163.2 342.6h0.55v0.55h-0.55zM151.1 335.2h0.55v0.55h-0.55zM151.1 339.0h0.55v0.55h-0.55zM141.6 337.7h0.55v0.55h-0.55zM145.6 324.8h0.55v0.55h-0.55zM148.1 351.0h0.55v0.55h-0.55zM198.4 328.4h0.55v0.55h-0.55zM154.6 342.5h0.55v0.55h-0.55zM136.1 333.3h0.55v0.55h-0.55zM136.2 333.1h0.55v0.55h-0.55zM141.7 330.2h0.55v0.55h-0.55zM147.4 331.3h0.55v0.55h-0.55zM157.0 328.1h0.55v0.55h-0.55zM143.7 330.0h0.55v0.55h-0.55zM143.9 331.6h0.55v0.55h-0.55zM142.3 340.7h0.55v0.55h-0.55zM174.6 325.1h0.55v0.55h-0.55zM145.8 310.3h0.55v0.55h-0.55zM139.5 321.3h0.55v0.55h-0.55zM180.5 344.8h0.55v0.55h-0.55zM181.8 334.1h0.55v0.55h-0.55zM152.7 332.5h0.55v0.55h-0.55zM139.7 334.3h0.55v0.55h-0.55zM156.0 329.0h0.55v0.55h-0.55zM140.2 355.1h0.55v0.55h-0.55zM166.3 321.4h0.55v0.55h-0.55zM148.9 342.1h0.55v0.55h-0.55zM155.9 313.5h0.55v0.55h-0.55zM145.9 330.2h0.55v0.55h-0.55zM139.4 326.8h0.55v0.55h-0.55zM144.9 344.1h0.55v0.55h-0.55zM154.3 342.7h0.55v0.55h-0.55zM181.0 342.5h0.55v0.55h-0.55zM141.0 337.2h0.55v0.55h-0.55zM186.5 326.5h0.55v0.55h-0.55zM152.0 339.7h0.55v0.55h-0.55zM160.2 339.5h0.55v0.55h-0.55zM144.6 339.9h0.55v0.55h-0.55zM169.2 322.9h0.55v0.55h-0.55zM147.1 332.9h0.55v0.55h-0.55zM179.4 330.4h0.55v0.55h-0.55zM160.1 341.8h0.55v0.55h-0.55zM149.7 329.0h0.55v0.55h-0.55zM143.9 339.3h0.55v0.55h-0.55zM148.3 330.8h0.55v0.55h-0.55zM147.4 324.6h0.55v0.55h-0.55zM135.1 318.0h0.55v0.55h-0.55zM156.6 311.5h0.55v0.55h-0.55zM139.4 342.4h0.55v0.55h-0.55zM171.6 324.9h0.55v0.55h-0.55zM152.1 325.3h0.55v0.55h-0.55zM136.3 332.7h0.55v0.55h-0.55zM141.6 310.6h0.55v0.55h-0.55zM197.2 329.1h0.55v0.55h-0.55zM156.0 334.9h0.55v0.55h-0.55zM159.3 334.1h0.55v0.55h-0.55zM140.3 330.6h0.55v0.55h-0.55zM143.3 335.5h0.55v0.55h-0.55zM146.2 308.8h0.55v0.55h-0.55zM168.2 336.8h0.55v0.55h-0.55zM172.8 345.8h0.55v0.55h-0.55zM168.5 325.9h0.55v0.55h-0.55zM178.2 327.3h0.55v0.55h-0.55zM143.5 321.6h0.55v0.55h-0.55zM147.3 336.0h0.55v0.55h-0.55zM135.1 328.1h0.55v0.55h-0.55zM153.1 329.3h0.55v0.55h-0.55zM163.3 326.4h0.55v0.55h-0.55zM137.7 330.4h0.55v0.55h-0.55zM140.4 332.8h0.55v0.55h-0.55zM191.3 328.4h0.55v0.55h-0.55zM159.2 324.5h0.55v0.55h-0.55zM158.3 336.9h0.55v0.55h-0.55zM158.5 329.4h0.55v0.55h-0.55zM193.2 334.7h0.55v0.55h-0.55zM138.4 346.2h0.55v0.55h-0.55zM149.9 338.7h0.55v0.55h-0.55zM144.0 317.0h0.55v0.55h-0.55zM186.9 325.4h0.55v0.55h-0.55zM164.1 332.8h0.55v0.55h-0.55zM179.6 327.1h0.55v0.55h-0.55zM164.6 330.4h0.55v0.55h-0.55zM147.3 327.5h0.55v0.55h-0.55zM150.7 329.4h0.55v0.55h-0.55zM136.5 348.2h0.55v0.55h-0.55zM174.1 330.0h0.55v0.55h-0.55zM150.4 342.2h0.55v0.55h-0.55zM152.2 329.0h0.55v0.55h-0.55zM148.7 317.6h0.55v0.55h-0.55zM154.4 315.9h0.55v0.55h-0.55zM174.1 334.2h0.55v0.55h-0.55zM170.3 325.7h0.55v0.55h-0.55zM148.2 325.3h0.55v0.55h-0.55zM179.2 330.5h0.55v0.55h-0.55zM137.3 344.3h0.55v0.55h-0.55zM147.1 321.0h0.55v0.55h-0.55zM149.3 321.4h0.55v0.55h-0.55zM142.1 318.3h0.55v0.55h-0.55zM163.5 325.1h0.55v0.55h-0.55zM137.4 339.1h0.55v0.55h-0.55zM144.5 330.2h0.55v0.55h-0.55zM172.6 347.6h0.55v0.55h-0.55zM184.2 327.1h0.55v0.55h-0.55zM155.7 318.4h0.55v0.55h-0.55zM160.8 335.3h0.55v0.55h-0.55zM146.1 336.6h0.55v0.55h-0.55zM150.1 334.8h0.55v0.55h-0.55zM154.9 325.6h0.55v0.55h-0.55zM163.1 334.7h0.55v0.55h-0.55zM154.7 329.8h0.55v0.55h-0.55zM171.7 324.5h0.55v0.55h-0.55zM186.0 335.3h0.55v0.55h-0.55zM139.6 328.5h0.55v0.55h-0.55zM161.3 342.7h0.55v0.55h-0.55zM156.4 322.9h0.55v0.55h-0.55zM137.9 333.1h0.55v0.55h-0.55zM172.1 339.4h0.55v0.55h-0.55zM163.8 341.7h0.55v0.55h-0.55zM144.8 316.1h0.55v0.55h-0.55zM170.0 336.7h0.55v0.55h-0.55zM180.7 340.5h0.55v0.55h-0.55zM175.1 344.9h0.55v0.55h-0.55zM158.1 334.5h0.55v0.55h-0.55zM135.8 336.9h0.55v0.55h-0.55zM150.2 316.3h0.55v0.55h-0.55zM152.6 327.7h0.55v0.55h-0.55zM140.3 317.2h0.55v0.55h-0.55zM144.5 331.4h0.55v0.55h-0.55zM169.2 337.1h0.55v0.55h-0.55zM141.1 335.0h0.55v0.55h-0.55zM172.0 341.7h0.55v0.55h-0.55zM180.9 323.0h0.55v0.55h-0.55zM155.4 325.9h0.55v0.55h-0.55zM145.0 334.9h0.55v0.55h-0.55zM150.6 332.2h0.55v0.55h-0.55zM186.2 326.9h0.55v0.55h-0.55zM145.8 333.8h0.55v0.55h-0.55zM143.3 347.8h0.55v0.55h-0.55zM153.0 332.3h0.55v0.55h-0.55zM144.0 337.7h0.55v0.55h-0.55zM172.2 328.2h0.55v0.55h-0.55zM191.6 344.4h0.55v0.55h-0.55zM171.5 331.1h0.55v0.55h-0.55zM137.8 339.8h0.55v0.55h-0.55zM139.7 332.6h0.55v0.55h-0.55zM146.5 332.7h0.55v0.55h-0.55zM192.4 328.6h0.55v0.55h-0.55zM187.2 316.2h0.55v0.55h-0.55zM161.1 326.6h0.55v0.55h-0.55zM143.7 335.2h0.55v0.55h-0.55zM163.3 322.6h0.55v0.55h-0.55zM141.1 320.2h0.55v0.55h-0.55zM171.5 328.9h0.55v0.55h-0.55zM162.3 337.9h0.55v0.55h-0.55zM167.4 334.6h0.55v0.55h-0.55zM170.8 323.5h0.55v0.55h-0.55zM165.7 330.4h0.55v0.55h-0.55zM194.8 331.7h0.55v0.55h-0.55zM145.2 340.6h0.55v0.55h-0.55zM134.4 334.7h0.55v0.55h-0.55zM164.6 335.4h0.55v0.55h-0.55zM157.6 312.8h0.55v0.55h-0.55zM160.7 324.2h0.55v0.55h-0.55zM191.9 335.7h0.55v0.55h-0.55zM144.3 335.2h0.55v0.55h-0.55zM134.9 339.4h0.55v0.55h-0.55zM137.5 340.1h0.55v0.55h-0.55zM135.5 345.2h0.55v0.55h-0.55zM160.6 336.3h0.55v0.55h-0.55zM137.0 353.8h0.55v0.55h-0.55zM149.1 321.0h0.55v0.55h-0.55zM156.0 338.3h0.55v0.55h-0.55zM189.6 340.8h0.55v0.55h-0.55zM144.9 318.2h0.55v0.55h-0.55zM155.7 321.7h0.55v0.55h-0.55zM166.1 334.9h0.55v0.55h-0.55zM134.6 318.9h0.55v0.55h-0.55zM169.7 338.0h0.55v0.55h-0.55zM139.3 346.2h0.55v0.55h-0.55zM165.4 337.0h0.55v0.55h-0.55zM153.7 320.6h0.55v0.55h-0.55zM167.2 326.4h0.55v0.55h-0.55zM136.4 342.6h0.55v0.55h-0.55zM160.4 333.9h0.55v0.55h-0.55zM159.0 334.3h0.55v0.55h-0.55zM163.2 329.7h0.55v0.55h-0.55zM145.3 348.6h0.55v0.55h-0.55zM145.7 323.6h0.55v0.55h-0.55zM143.7 317.3h0.55v0.55h-0.55zM141.9 327.0h0.55v0.55h-0.55zM134.5 338.2h0.55v0.55h-0.55z" fill="#4a4a90" fill-opacity="0.42"/>
<path d="M128.90 312.30 C127.93 312.90 126.35 314.38 125.70 317.50 C125.05 320.62 125.08 325.79 125.00 331.00 C124.92 336.21 124.65 345.02 125.20 348.75 C125.75 352.48 127.08 352.71 128.30 353.40 C129.52 354.09 131.45 353.50 132.50 352.90 C133.55 352.30 134.08 351.37 134.60 349.80 C135.12 348.23 135.00 345.07 135.60 343.50 C136.20 341.93 136.98 341.17 138.20 340.40 C139.42 339.63 141.25 339.25 142.90 338.90 C144.55 338.55 146.71 338.57 148.10 338.30 C149.49 338.03 150.20 337.82 151.25 337.30 C152.30 336.78 153.01 335.72 154.40 335.20 C155.79 334.68 158.04 334.63 159.60 334.20 C161.16 333.77 162.72 333.22 163.75 332.60 C164.78 331.98 165.80 330.93 165.80 330.50 C165.80 330.07 164.53 330.17 163.75 330.00 C162.97 329.83 161.89 329.93 161.10 329.50 C160.31 329.07 159.95 327.92 159.00 327.40 C158.05 326.88 156.69 326.67 155.40 326.40 C154.11 326.13 152.82 325.98 151.25 325.80 C149.68 325.62 147.74 325.55 146.00 325.30 C144.26 325.05 142.35 324.82 140.80 324.30 C139.25 323.78 137.92 323.33 136.70 322.20 C135.48 321.07 134.37 318.88 133.50 317.50 C132.63 316.12 132.27 314.77 131.50 313.90 C130.73 313.03 129.87 311.70 128.90 312.30Z" fill="#00009a"/>
<path d="M132.80 333.00 L132.78 335.24 L132.73 337.19 L132.65 339.01 L132.53 340.73 L132.38 342.34 L132.20 343.84 L131.99 345.23 L131.75 346.50 L131.48 347.64 L131.19 348.64 L130.87 349.50 L130.53 350.22 L130.17 350.77 L129.78 351.18 L129.37 351.42 L128.90 351.50 L128.43 351.42 L128.02 351.18 L127.63 350.77 L127.27 350.22 L126.93 349.50 L126.61 348.64 L126.32 347.64 L126.05 346.50 L125.81 345.23 L125.60 343.84 L125.42 342.34 L125.27 340.73 L125.15 339.01 L125.07 337.19 L125.02 335.24 L125.00 333.00 L125.02 330.92 L125.07 329.11 L125.15 327.41 L125.27 325.82 L125.42 324.32 L125.60 322.92 L125.81 321.63 L126.05 320.45 L126.32 319.39 L126.61 318.46 L126.93 317.66 L127.27 316.99 L127.63 316.47 L128.02 316.10 L128.43 315.88 L128.90 315.80 L129.37 315.88 L129.78 316.10 L130.17 316.47 L130.53 316.99 L130.87 317.66 L131.19 318.46 L131.48 319.39 L131.75 320.45 L131.99 321.63 L132.20 322.92 L132.38 324.32 L132.53 325.82 L132.65 327.41 L132.73 329.11 L132.78 330.92Z" fill="#0000b0"/>
<path d="M132.80 333.00 L132.78 335.15 L132.74 337.03 L132.66 338.78 L132.55 340.43 L132.42 341.98 L132.25 343.43 L132.06 344.77 L131.84 345.99 L131.60 347.09 L131.33 348.05 L131.04 348.88 L130.73 349.56 L130.40 350.10 L130.05 350.49 L129.68 350.72 L129.25 350.80 L128.82 350.72 L128.45 350.49 L128.10 350.10 L127.77 349.56 L127.46 348.88 L127.17 348.05 L126.90 347.09 L126.66 345.99 L126.44 344.77 L126.25 343.43 L126.08 341.98 L125.95 340.43 L125.84 338.78 L125.76 337.03 L125.72 335.15 L125.70 333.00 L125.72 331.00 L125.76 329.27 L125.84 327.64 L125.95 326.11 L126.08 324.67 L126.25 323.33 L126.44 322.09 L126.66 320.96 L126.90 319.94 L127.17 319.05 L127.46 318.28 L127.77 317.65 L128.10 317.15 L128.45 316.79 L128.82 316.57 L129.25 316.50 L129.68 316.57 L130.05 316.79 L130.40 317.15 L130.73 317.65 L131.04 318.28 L131.33 319.05 L131.60 319.94 L131.84 320.96 L132.06 322.09 L132.25 323.33 L132.42 324.67 L132.55 326.11 L132.66 327.64 L132.74 329.27 L132.78 331.00Z" fill="#0a14ff"/>
<path d="M131.90 333.00 L131.89 334.66 L131.85 336.10 L131.79 337.45 L131.70 338.72 L131.60 339.92 L131.46 341.03 L131.31 342.06 L131.14 343.00 L130.94 343.84 L130.73 344.58 L130.50 345.22 L130.25 345.75 L129.99 346.16 L129.71 346.46 L129.42 346.64 L129.07 346.70 L128.73 346.64 L128.44 346.46 L128.16 346.16 L127.90 345.75 L127.65 345.22 L127.42 344.58 L127.21 343.84 L127.01 343.00 L126.84 342.06 L126.69 341.03 L126.55 339.92 L126.45 338.72 L126.36 337.45 L126.30 336.10 L126.26 334.66 L126.25 333.00 L126.26 331.31 L126.30 329.83 L126.36 328.45 L126.45 327.15 L126.55 325.93 L126.69 324.80 L126.84 323.74 L127.01 322.78 L127.21 321.92 L127.42 321.16 L127.65 320.51 L127.90 319.97 L128.16 319.55 L128.44 319.24 L128.73 319.06 L129.07 319.00 L129.42 319.06 L129.71 319.24 L129.99 319.55 L130.25 319.97 L130.50 320.51 L130.73 321.16 L130.94 321.92 L131.14 322.78 L131.31 323.74 L131.46 324.80 L131.60 325.93 L131.70 327.15 L131.79 328.45 L131.85 329.83 L131.89 331.31Z" fill="#0a7cff"/>
<path d="M131.20 333.00 L131.19 334.15 L131.16 335.21 L131.11 336.23 L131.04 337.21 L130.95 338.13 L130.85 339.00 L130.72 339.81 L130.58 340.55 L130.43 341.22 L130.26 341.81 L130.07 342.32 L129.88 342.74 L129.68 343.07 L129.46 343.31 L129.24 343.45 L129.00 343.50 L128.76 343.45 L128.54 343.31 L128.32 343.07 L128.12 342.74 L127.93 342.32 L127.74 341.81 L127.57 341.22 L127.42 340.55 L127.28 339.81 L127.15 339.00 L127.05 338.13 L126.96 337.21 L126.89 336.23 L126.84 335.21 L126.81 334.15 L126.80 333.00 L126.81 331.76 L126.84 330.62 L126.89 329.52 L126.96 328.47 L127.05 327.48 L127.15 326.54 L127.28 325.67 L127.42 324.88 L127.57 324.16 L127.74 323.52 L127.93 322.97 L128.12 322.52 L128.32 322.16 L128.54 321.91 L128.76 321.75 L129.00 321.70 L129.24 321.75 L129.46 321.91 L129.68 322.16 L129.88 322.52 L130.07 322.97 L130.26 323.52 L130.43 324.16 L130.58 324.88 L130.72 325.67 L130.85 326.54 L130.95 327.48 L131.04 328.47 L131.11 329.52 L131.16 330.62 L131.19 331.76Z" fill="#00d8ff"/>
<path d="M130.80 333.00 L130.79 333.49 L130.77 333.98 L130.72 334.45 L130.66 334.91 L130.59 335.36 L130.50 335.78 L130.39 336.17 L130.27 336.54 L130.14 336.87 L130.00 337.16 L129.85 337.41 L129.69 337.62 L129.52 337.78 L129.35 337.90 L129.18 337.98 L129.00 338.00 L128.82 337.98 L128.65 337.90 L128.48 337.78 L128.31 337.62 L128.15 337.41 L128.00 337.16 L127.86 336.87 L127.73 336.54 L127.61 336.17 L127.50 335.78 L127.41 335.36 L127.34 334.91 L127.28 334.45 L127.23 333.98 L127.21 333.49 L127.20 333.00 L127.21 332.07 L127.23 331.15 L127.28 330.24 L127.34 329.36 L127.41 328.52 L127.50 327.72 L127.61 326.97 L127.73 326.28 L127.86 325.66 L128.00 325.10 L128.15 324.62 L128.31 324.22 L128.48 323.91 L128.65 323.68 L128.82 323.55 L129.00 323.50 L129.18 323.55 L129.35 323.68 L129.52 323.91 L129.69 324.22 L129.85 324.62 L130.00 325.10 L130.14 325.66 L130.27 326.28 L130.39 326.97 L130.50 327.72 L130.59 328.52 L130.66 329.36 L130.72 330.24 L130.77 331.15 L130.79 332.07Z" fill="#3cf5c8"/>
<path d="M130.60 333.00 L130.59 333.32 L130.57 333.64 L130.53 333.96 L130.47 334.26 L130.41 334.56 L130.32 334.83 L130.23 335.09 L130.12 335.33 L130.00 335.55 L129.87 335.74 L129.73 335.91 L129.58 336.05 L129.43 336.16 L129.27 336.24 L129.11 336.28 L128.95 336.30 L128.79 336.28 L128.63 336.24 L128.47 336.16 L128.32 336.05 L128.17 335.91 L128.03 335.74 L127.90 335.55 L127.78 335.33 L127.67 335.09 L127.58 334.83 L127.49 334.56 L127.43 334.26 L127.37 333.96 L127.33 333.64 L127.31 333.32 L127.30 333.00 L127.31 332.15 L127.33 331.30 L127.37 330.47 L127.43 329.67 L127.49 328.90 L127.58 328.17 L127.67 327.48 L127.78 326.85 L127.90 326.27 L128.03 325.77 L128.17 325.33 L128.32 324.96 L128.47 324.67 L128.63 324.47 L128.79 324.34 L128.95 324.30 L129.11 324.34 L129.27 324.47 L129.43 324.67 L129.58 324.96 L129.73 325.33 L129.87 325.77 L130.00 326.27 L130.12 326.85 L130.23 327.48 L130.32 328.17 L130.41 328.90 L130.47 329.67 L130.53 330.47 L130.57 331.30 L130.59 332.15Z" fill="#a8ff5a"/>
<path d="M130.40 333.00 L130.39 333.23 L130.37 333.45 L130.34 333.67 L130.29 333.88 L130.23 334.08 L130.16 334.28 L130.07 334.46 L129.98 334.63 L129.87 334.78 L129.76 334.91 L129.63 335.03 L129.50 335.12 L129.37 335.20 L129.23 335.26 L129.09 335.29 L128.95 335.30 L128.81 335.29 L128.67 335.26 L128.53 335.20 L128.40 335.12 L128.27 335.03 L128.14 334.91 L128.03 334.78 L127.92 334.63 L127.83 334.46 L127.74 334.28 L127.67 334.08 L127.61 333.88 L127.56 333.67 L127.53 333.45 L127.51 333.23 L127.50 333.00 L127.51 332.26 L127.53 331.54 L127.56 330.82 L127.61 330.13 L127.67 329.46 L127.74 328.83 L127.83 328.24 L127.92 327.70 L128.03 327.20 L128.14 326.76 L128.27 326.39 L128.40 326.07 L128.53 325.82 L128.67 325.64 L128.81 325.54 L128.95 325.50 L129.09 325.54 L129.23 325.64 L129.37 325.82 L129.50 326.07 L129.63 326.39 L129.76 326.76 L129.87 327.20 L129.98 327.70 L130.07 328.24 L130.16 328.83 L130.23 329.46 L130.29 330.13 L130.34 330.82 L130.37 331.54 L130.39 332.26Z" fill="#ffe600"/>
<path d="M130.20 333.00 L130.19 333.12 L130.18 333.23 L130.15 333.35 L130.11 333.46 L130.06 333.57 L130.00 333.67 L129.93 333.76 L129.85 333.85 L129.76 333.93 L129.67 334.00 L129.57 334.06 L129.46 334.11 L129.35 334.15 L129.23 334.18 L129.12 334.19 L129.00 334.20 L128.88 334.19 L128.77 334.18 L128.65 334.15 L128.54 334.11 L128.43 334.06 L128.33 334.00 L128.24 333.93 L128.15 333.85 L128.07 333.76 L128.00 333.67 L127.94 333.57 L127.89 333.46 L127.85 333.35 L127.82 333.23 L127.81 333.12 L127.80 333.00 L127.81 332.40 L127.82 331.81 L127.85 331.23 L127.89 330.67 L127.94 330.12 L128.00 329.61 L128.07 329.13 L128.15 328.69 L128.24 328.28 L128.33 327.93 L128.43 327.62 L128.54 327.36 L128.65 327.16 L128.77 327.02 L128.88 326.93 L129.00 326.90 L129.12 326.93 L129.23 327.02 L129.35 327.16 L129.46 327.36 L129.57 327.62 L129.67 327.93 L129.76 328.28 L129.85 328.69 L129.93 329.13 L130.00 329.61 L130.06 330.12 L130.11 330.67 L130.15 331.23 L130.18 331.81 L130.19 332.40Z" fill="#ff8a00"/>
<path d="M129.80 332.70 L129.80 332.73 L129.78 332.76 L129.77 332.79 L129.74 332.81 L129.71 332.84 L129.67 332.87 L129.62 332.89 L129.57 332.91 L129.51 332.93 L129.44 332.95 L129.38 332.96 L129.31 332.98 L129.23 332.99 L129.16 332.99 L129.08 333.00 L129.00 333.00 L128.92 333.00 L128.84 332.99 L128.77 332.99 L128.69 332.98 L128.62 332.96 L128.56 332.95 L128.49 332.93 L128.43 332.91 L128.38 332.89 L128.33 332.87 L128.29 332.84 L128.26 332.81 L128.23 332.79 L128.22 332.76 L128.20 332.73 L128.20 332.70 L128.20 332.24 L128.22 331.78 L128.23 331.34 L128.26 330.90 L128.29 330.48 L128.33 330.09 L128.38 329.72 L128.43 329.38 L128.49 329.07 L128.56 328.79 L128.62 328.55 L128.69 328.36 L128.77 328.20 L128.84 328.09 L128.92 328.02 L129.00 328.00 L129.08 328.02 L129.16 328.09 L129.23 328.20 L129.31 328.36 L129.38 328.55 L129.44 328.79 L129.51 329.07 L129.57 329.38 L129.62 329.72 L129.67 330.09 L129.71 330.48 L129.74 330.90 L129.77 331.34 L129.78 331.78 L129.80 332.24Z" fill="#ff1a00"/>
<ellipse cx="128.90" cy="330.50" rx="1.00" ry="1.60" fill="#c00000"/>
<text x="153.50" y="305.60" font-size="8.6" font-weight="normal" fill="#231f20" stroke="#231f20" stroke-width="0.12" text-anchor="start" textLength="15.00" lengthAdjust="spacingAndGlyphs">16.9</text>
<text x="18.70" y="338.10" font-size="10.5" font-weight="normal" fill="#231f20" stroke="#231f20" stroke-width="0.12" text-anchor="start" textLength="17.90" lengthAdjust="spacingAndGlyphs" transform="rotate(-90 18.70 338.10)">CD56</text>
<text x="34.20" y="387.50" font-size="8.4" font-weight="normal" fill="#231f20" stroke="#231f20" stroke-width="0.12" text-anchor="start" textLength="16.80" lengthAdjust="spacingAndGlyphs">IFN-γ</text>
<line x1="55.40" y1="386.50" x2="204.50" y2="386.50" stroke="#231f20" stroke-width="0.95"/>
<path d="M203.60 383.80 L208.50 386.50 L203.60 389.20 Z" fill="#231f20"/>
<path d="M23.00 403.12H25.40M23.00 425.10H25.40M23.00 446.89H25.40M23.00 468.86H25.40M23.00 484.57H25.40M24.00 418.48H25.40M24.00 414.61H25.40M24.00 411.87H25.40M24.00 409.74H25.40M24.00 408.00H25.40M24.00 406.53H25.40M24.00 405.25H25.40M24.00 404.13H25.40M24.00 440.33H25.40M24.00 436.49H25.40M24.00 433.77H25.40M24.00 431.66H25.40M24.00 429.93H25.40M24.00 428.47H25.40M24.00 427.21H25.40M24.00 426.09H25.40M24.00 462.25H25.40M24.00 458.38H25.40M24.00 455.63H25.40M24.00 453.50H25.40M24.00 451.76H25.40M24.00 450.29H25.40M24.00 449.02H25.40M24.00 447.90H25.40M30.85 491.20V493.60M50.73 491.20V493.60M70.89 491.20V493.60M93.05 491.20V493.60M115.11 491.20V493.60M36.83 491.20V492.70M40.34 491.20V492.70M42.82 491.20V492.70M44.75 491.20V492.70M46.32 491.20V492.70M47.65 491.20V492.70M48.81 491.20V492.70M49.82 491.20V492.70M56.80 491.20V492.70M60.35 491.20V492.70M62.87 491.20V492.70M64.82 491.20V492.70M66.42 491.20V492.70M67.77 491.20V492.70M68.94 491.20V492.70M69.97 491.20V492.70M77.56 491.20V492.70M81.46 491.20V492.70M84.23 491.20V492.70M86.38 491.20V492.70M88.13 491.20V492.70M89.61 491.20V492.70M90.90 491.20V492.70M92.03 491.20V492.70M99.69 491.20V492.70M103.57 491.20V492.70M106.33 491.20V492.70M108.47 491.20V492.70M110.22 491.20V492.70M111.69 491.20V492.70M112.97 491.20V492.70M114.10 491.20V492.70" stroke="#333" stroke-width="0.6" fill="none"/>
<path d="M25.40 491.20 V400.40 H116.20 V491.20 Z" fill="none" stroke="#231f20" stroke-width="1.4" stroke-linejoin="round"/>
<rect x="51.50" y="403.60" width="59.80" height="86.00" fill="none" stroke="#a0a0ee" stroke-width="1"/>
<path d="M36.0 461.6h0.55v0.55h-0.55zM40.6 459.4h0.55v0.55h-0.55zM36.9 448.8h0.55v0.55h-0.55zM45.9 452.3h0.55v0.55h-0.55zM35.7 457.2h0.55v0.55h-0.55zM41.7 450.7h0.55v0.55h-0.55zM38.7 442.7h0.55v0.55h-0.55zM37.5 447.3h0.55v0.55h-0.55zM42.8 438.2h0.55v0.55h-0.55zM44.4 449.0h0.55v0.55h-0.55zM36.4 448.3h0.55v0.55h-0.55zM35.9 439.6h0.55v0.55h-0.55zM35.9 453.0h0.55v0.55h-0.55zM39.6 443.8h0.55v0.55h-0.55zM37.7 433.9h0.55v0.55h-0.55zM38.3 432.3h0.55v0.55h-0.55zM43.3 460.4h0.55v0.55h-0.55zM47.6 457.8h0.55v0.55h-0.55zM37.3 448.3h0.55v0.55h-0.55zM38.0 455.5h0.55v0.55h-0.55zM41.2 449.0h0.55v0.55h-0.55zM38.8 445.9h0.55v0.55h-0.55zM40.9 450.6h0.55v0.55h-0.55zM39.8 460.1h0.55v0.55h-0.55zM45.8 441.7h0.55v0.55h-0.55zM40.7 433.2h0.55v0.55h-0.55zM46.0 430.5h0.55v0.55h-0.55zM37.1 446.5h0.55v0.55h-0.55zM44.6 434.1h0.55v0.55h-0.55zM41.4 444.8h0.55v0.55h-0.55zM36.4 445.3h0.55v0.55h-0.55zM39.0 441.3h0.55v0.55h-0.55zM35.9 454.0h0.55v0.55h-0.55zM45.6 430.6h0.55v0.55h-0.55zM43.9 459.1h0.55v0.55h-0.55zM38.2 453.6h0.55v0.55h-0.55zM38.1 465.0h0.55v0.55h-0.55zM36.7 449.2h0.55v0.55h-0.55zM36.8 449.3h0.55v0.55h-0.55zM36.5 443.5h0.55v0.55h-0.55zM46.8 434.8h0.55v0.55h-0.55zM55.3 450.0h0.55v0.55h-0.55zM36.3 454.2h0.55v0.55h-0.55zM36.6 449.7h0.55v0.55h-0.55zM37.3 459.2h0.55v0.55h-0.55zM38.0 447.8h0.55v0.55h-0.55zM46.2 455.5h0.55v0.55h-0.55zM40.9 470.8h0.55v0.55h-0.55zM39.8 446.0h0.55v0.55h-0.55zM42.0 453.5h0.55v0.55h-0.55zM40.1 442.0h0.55v0.55h-0.55zM42.6 446.7h0.55v0.55h-0.55zM41.6 447.3h0.55v0.55h-0.55zM43.5 456.7h0.55v0.55h-0.55zM35.9 458.2h0.55v0.55h-0.55zM42.1 449.6h0.55v0.55h-0.55zM36.3 450.6h0.55v0.55h-0.55zM41.7 456.7h0.55v0.55h-0.55zM43.0 452.5h0.55v0.55h-0.55zM36.8 448.8h0.55v0.55h-0.55zM39.8 444.2h0.55v0.55h-0.55zM37.7 443.8h0.55v0.55h-0.55zM37.9 437.6h0.55v0.55h-0.55zM37.4 451.4h0.55v0.55h-0.55zM41.8 431.5h0.55v0.55h-0.55zM35.5 460.4h0.55v0.55h-0.55zM39.5 446.9h0.55v0.55h-0.55zM38.6 456.6h0.55v0.55h-0.55zM40.5 459.4h0.55v0.55h-0.55zM37.2 458.9h0.55v0.55h-0.55zM35.7 449.0h0.55v0.55h-0.55zM43.6 445.2h0.55v0.55h-0.55zM36.9 456.6h0.55v0.55h-0.55zM36.8 445.1h0.55v0.55h-0.55zM37.8 459.4h0.55v0.55h-0.55zM36.3 447.3h0.55v0.55h-0.55zM37.7 457.9h0.55v0.55h-0.55zM38.5 443.1h0.55v0.55h-0.55zM37.6 446.9h0.55v0.55h-0.55zM39.6 461.5h0.55v0.55h-0.55zM40.0 444.8h0.55v0.55h-0.55zM35.9 455.3h0.55v0.55h-0.55zM39.0 450.0h0.55v0.55h-0.55zM39.2 435.8h0.55v0.55h-0.55zM37.3 457.3h0.55v0.55h-0.55zM38.3 439.6h0.55v0.55h-0.55zM37.3 443.7h0.55v0.55h-0.55zM38.6 456.1h0.55v0.55h-0.55zM36.7 444.5h0.55v0.55h-0.55zM38.8 458.3h0.55v0.55h-0.55zM40.4 455.2h0.55v0.55h-0.55zM38.3 448.6h0.55v0.55h-0.55zM48.7 451.6h0.55v0.55h-0.55zM47.3 433.9h0.55v0.55h-0.55zM47.8 459.3h0.55v0.55h-0.55zM39.0 448.3h0.55v0.55h-0.55zM35.8 434.8h0.55v0.55h-0.55zM39.0 442.2h0.55v0.55h-0.55zM36.7 458.5h0.55v0.55h-0.55zM35.8 454.2h0.55v0.55h-0.55zM39.3 447.3h0.55v0.55h-0.55zM36.1 448.6h0.55v0.55h-0.55zM42.5 443.6h0.55v0.55h-0.55zM45.9 442.7h0.55v0.55h-0.55zM41.3 444.4h0.55v0.55h-0.55zM44.6 452.2h0.55v0.55h-0.55zM37.7 457.3h0.55v0.55h-0.55zM39.0 442.1h0.55v0.55h-0.55zM46.6 461.4h0.55v0.55h-0.55zM39.3 446.0h0.55v0.55h-0.55zM35.7 467.9h0.55v0.55h-0.55zM45.0 453.1h0.55v0.55h-0.55zM37.7 455.5h0.55v0.55h-0.55zM45.4 447.6h0.55v0.55h-0.55zM40.1 464.3h0.55v0.55h-0.55zM44.3 443.7h0.55v0.55h-0.55zM35.8 450.1h0.55v0.55h-0.55zM43.1 438.8h0.55v0.55h-0.55zM39.7 453.1h0.55v0.55h-0.55zM36.3 461.3h0.55v0.55h-0.55zM41.0 455.5h0.55v0.55h-0.55zM35.6 450.5h0.55v0.55h-0.55zM38.2 452.5h0.55v0.55h-0.55zM37.0 453.3h0.55v0.55h-0.55zM46.2 448.4h0.55v0.55h-0.55zM41.1 456.2h0.55v0.55h-0.55zM37.4 457.8h0.55v0.55h-0.55zM40.2 460.9h0.55v0.55h-0.55zM40.0 446.8h0.55v0.55h-0.55zM37.3 458.1h0.55v0.55h-0.55zM40.5 458.6h0.55v0.55h-0.55zM36.6 442.9h0.55v0.55h-0.55zM38.5 453.6h0.55v0.55h-0.55zM40.7 459.3h0.55v0.55h-0.55zM36.6 442.9h0.55v0.55h-0.55zM37.9 439.7h0.55v0.55h-0.55zM40.3 454.4h0.55v0.55h-0.55zM44.1 451.3h0.55v0.55h-0.55zM42.9 457.3h0.55v0.55h-0.55zM39.5 452.6h0.55v0.55h-0.55zM43.8 448.1h0.55v0.55h-0.55zM40.7 454.9h0.55v0.55h-0.55zM45.6 458.9h0.55v0.55h-0.55zM40.4 447.8h0.55v0.55h-0.55zM43.3 442.0h0.55v0.55h-0.55zM36.0 460.5h0.55v0.55h-0.55zM42.7 461.9h0.55v0.55h-0.55zM41.5 435.9h0.55v0.55h-0.55zM37.7 438.8h0.55v0.55h-0.55zM36.2 440.1h0.55v0.55h-0.55zM41.3 457.8h0.55v0.55h-0.55zM38.6 451.1h0.55v0.55h-0.55zM35.8 448.5h0.55v0.55h-0.55zM37.6 453.1h0.55v0.55h-0.55zM38.0 447.4h0.55v0.55h-0.55zM45.9 453.4h0.55v0.55h-0.55zM43.2 462.3h0.55v0.55h-0.55zM40.3 436.7h0.55v0.55h-0.55zM42.4 447.7h0.55v0.55h-0.55zM36.0 448.8h0.55v0.55h-0.55zM36.2 440.9h0.55v0.55h-0.55zM36.1 447.1h0.55v0.55h-0.55zM35.6 431.2h0.55v0.55h-0.55zM40.0 453.8h0.55v0.55h-0.55zM45.0 444.8h0.55v0.55h-0.55zM35.7 456.3h0.55v0.55h-0.55zM35.5 462.8h0.55v0.55h-0.55zM35.6 442.5h0.55v0.55h-0.55zM39.2 457.3h0.55v0.55h-0.55zM38.9 458.1h0.55v0.55h-0.55zM41.1 456.0h0.55v0.55h-0.55zM41.1 449.5h0.55v0.55h-0.55zM35.6 446.0h0.55v0.55h-0.55zM38.9 437.7h0.55v0.55h-0.55zM38.6 441.9h0.55v0.55h-0.55zM43.4 452.2h0.55v0.55h-0.55zM38.0 448.1h0.55v0.55h-0.55zM43.0 459.0h0.55v0.55h-0.55zM41.2 445.9h0.55v0.55h-0.55zM43.7 455.7h0.55v0.55h-0.55zM37.2 457.2h0.55v0.55h-0.55zM37.8 461.7h0.55v0.55h-0.55zM37.1 456.7h0.55v0.55h-0.55zM40.4 431.4h0.55v0.55h-0.55zM37.9 463.7h0.55v0.55h-0.55zM44.7 459.6h0.55v0.55h-0.55zM39.2 447.6h0.55v0.55h-0.55zM35.7 452.8h0.55v0.55h-0.55zM40.9 452.1h0.55v0.55h-0.55zM37.9 458.1h0.55v0.55h-0.55zM39.6 464.2h0.55v0.55h-0.55zM46.0 471.5h0.55v0.55h-0.55zM42.9 452.5h0.55v0.55h-0.55zM45.7 454.2h0.55v0.55h-0.55zM38.6 441.2h0.55v0.55h-0.55zM44.2 452.6h0.55v0.55h-0.55zM39.0 444.3h0.55v0.55h-0.55zM36.9 429.5h0.55v0.55h-0.55zM39.4 452.2h0.55v0.55h-0.55zM36.3 464.5h0.55v0.55h-0.55zM41.8 431.9h0.55v0.55h-0.55zM38.0 446.0h0.55v0.55h-0.55zM37.1 457.1h0.55v0.55h-0.55zM38.8 463.3h0.55v0.55h-0.55zM42.9 436.9h0.55v0.55h-0.55zM35.8 468.0h0.55v0.55h-0.55zM37.7 459.2h0.55v0.55h-0.55zM35.8 447.4h0.55v0.55h-0.55zM44.2 459.9h0.55v0.55h-0.55zM36.8 458.7h0.55v0.55h-0.55zM42.7 444.8h0.55v0.55h-0.55zM40.5 451.3h0.55v0.55h-0.55zM41.3 454.8h0.55v0.55h-0.55zM37.3 461.9h0.55v0.55h-0.55zM40.8 448.7h0.55v0.55h-0.55zM38.2 449.8h0.55v0.55h-0.55zM36.8 463.4h0.55v0.55h-0.55zM44.2 462.5h0.55v0.55h-0.55zM37.6 448.9h0.55v0.55h-0.55zM40.5 448.0h0.55v0.55h-0.55zM36.8 436.8h0.55v0.55h-0.55zM37.8 463.2h0.55v0.55h-0.55zM41.1 438.3h0.55v0.55h-0.55zM36.4 465.2h0.55v0.55h-0.55zM43.5 447.9h0.55v0.55h-0.55zM38.1 450.1h0.55v0.55h-0.55zM40.6 451.3h0.55v0.55h-0.55zM37.2 438.5h0.55v0.55h-0.55zM38.7 448.8h0.55v0.55h-0.55zM40.2 441.5h0.55v0.55h-0.55zM40.5 467.1h0.55v0.55h-0.55zM37.1 447.4h0.55v0.55h-0.55zM38.3 449.1h0.55v0.55h-0.55zM39.8 462.8h0.55v0.55h-0.55zM41.2 444.8h0.55v0.55h-0.55zM39.2 443.5h0.55v0.55h-0.55zM36.8 455.9h0.55v0.55h-0.55zM43.4 456.6h0.55v0.55h-0.55zM35.7 440.4h0.55v0.55h-0.55zM35.8 443.0h0.55v0.55h-0.55zM36.0 459.3h0.55v0.55h-0.55zM36.6 449.2h0.55v0.55h-0.55zM39.6 450.8h0.55v0.55h-0.55zM36.1 443.1h0.55v0.55h-0.55zM38.3 458.5h0.55v0.55h-0.55zM44.6 447.2h0.55v0.55h-0.55zM41.9 464.1h0.55v0.55h-0.55zM38.8 455.4h0.55v0.55h-0.55zM37.7 453.4h0.55v0.55h-0.55zM37.1 437.5h0.55v0.55h-0.55zM36.9 456.0h0.55v0.55h-0.55zM43.4 458.0h0.55v0.55h-0.55zM39.2 438.1h0.55v0.55h-0.55zM38.1 448.4h0.55v0.55h-0.55zM38.4 454.3h0.55v0.55h-0.55zM42.5 449.1h0.55v0.55h-0.55zM36.7 457.2h0.55v0.55h-0.55zM35.8 448.9h0.55v0.55h-0.55zM39.3 434.1h0.55v0.55h-0.55zM40.6 448.4h0.55v0.55h-0.55zM42.4 447.4h0.55v0.55h-0.55zM45.6 433.6h0.55v0.55h-0.55zM37.3 444.4h0.55v0.55h-0.55zM39.5 443.5h0.55v0.55h-0.55zM42.6 442.9h0.55v0.55h-0.55zM44.9 451.2h0.55v0.55h-0.55zM38.9 442.6h0.55v0.55h-0.55zM41.5 449.6h0.55v0.55h-0.55zM37.9 460.8h0.55v0.55h-0.55zM41.8 453.3h0.55v0.55h-0.55zM39.1 443.7h0.55v0.55h-0.55zM48.2 442.3h0.55v0.55h-0.55zM37.8 448.1h0.55v0.55h-0.55zM37.5 439.5h0.55v0.55h-0.55zM40.4 453.5h0.55v0.55h-0.55zM35.7 454.4h0.55v0.55h-0.55zM47.8 446.3h0.55v0.55h-0.55zM40.4 466.4h0.55v0.55h-0.55zM36.5 446.7h0.55v0.55h-0.55zM40.2 442.0h0.55v0.55h-0.55zM43.3 445.0h0.55v0.55h-0.55zM35.8 443.2h0.55v0.55h-0.55zM39.9 432.5h0.55v0.55h-0.55zM39.3 444.0h0.55v0.55h-0.55zM35.8 441.2h0.55v0.55h-0.55zM36.8 452.6h0.55v0.55h-0.55zM38.7 453.7h0.55v0.55h-0.55zM38.9 459.4h0.55v0.55h-0.55zM37.6 441.0h0.55v0.55h-0.55zM42.5 456.8h0.55v0.55h-0.55zM37.6 459.9h0.55v0.55h-0.55zM35.7 442.4h0.55v0.55h-0.55zM40.5 467.5h0.55v0.55h-0.55zM36.5 443.0h0.55v0.55h-0.55zM40.2 458.6h0.55v0.55h-0.55zM38.7 447.6h0.55v0.55h-0.55zM39.3 451.1h0.55v0.55h-0.55zM36.1 446.4h0.55v0.55h-0.55zM39.0 452.4h0.55v0.55h-0.55zM36.4 456.0h0.55v0.55h-0.55zM38.2 453.9h0.55v0.55h-0.55zM38.1 451.7h0.55v0.55h-0.55zM38.6 459.6h0.55v0.55h-0.55zM36.6 451.7h0.55v0.55h-0.55zM40.8 453.8h0.55v0.55h-0.55zM36.0 448.4h0.55v0.55h-0.55zM40.0 455.9h0.55v0.55h-0.55zM49.6 454.7h0.55v0.55h-0.55zM36.0 454.7h0.55v0.55h-0.55zM38.8 451.8h0.55v0.55h-0.55zM39.1 445.5h0.55v0.55h-0.55zM36.8 452.9h0.55v0.55h-0.55zM36.1 444.2h0.55v0.55h-0.55zM36.9 441.8h0.55v0.55h-0.55zM39.7 448.1h0.55v0.55h-0.55zM35.5 457.7h0.55v0.55h-0.55zM38.6 440.0h0.55v0.55h-0.55zM36.9 454.1h0.55v0.55h-0.55zM41.5 430.6h0.55v0.55h-0.55zM35.9 450.6h0.55v0.55h-0.55zM37.9 451.7h0.55v0.55h-0.55zM36.2 453.0h0.55v0.55h-0.55zM43.1 455.1h0.55v0.55h-0.55zM38.5 447.7h0.55v0.55h-0.55zM41.7 449.4h0.55v0.55h-0.55zM39.6 433.1h0.55v0.55h-0.55zM36.8 450.2h0.55v0.55h-0.55zM38.0 461.9h0.55v0.55h-0.55zM37.7 449.8h0.55v0.55h-0.55zM38.4 466.9h0.55v0.55h-0.55zM39.6 456.6h0.55v0.55h-0.55zM39.7 462.1h0.55v0.55h-0.55zM38.6 448.7h0.55v0.55h-0.55zM36.1 437.2h0.55v0.55h-0.55zM39.1 441.7h0.55v0.55h-0.55zM40.1 447.3h0.55v0.55h-0.55zM38.9 454.1h0.55v0.55h-0.55zM36.7 441.4h0.55v0.55h-0.55zM35.9 456.1h0.55v0.55h-0.55zM36.9 439.6h0.55v0.55h-0.55zM36.8 442.8h0.55v0.55h-0.55zM38.7 451.4h0.55v0.55h-0.55zM35.8 449.2h0.55v0.55h-0.55zM44.6 454.0h0.55v0.55h-0.55zM36.6 447.6h0.55v0.55h-0.55zM36.4 467.3h0.55v0.55h-0.55zM42.6 437.4h0.55v0.55h-0.55zM39.7 444.3h0.55v0.55h-0.55zM42.6 442.7h0.55v0.55h-0.55zM38.2 458.1h0.55v0.55h-0.55zM40.5 454.8h0.55v0.55h-0.55zM38.0 449.9h0.55v0.55h-0.55zM37.9 449.3h0.55v0.55h-0.55zM42.5 457.0h0.55v0.55h-0.55zM35.6 453.7h0.55v0.55h-0.55zM40.0 461.0h0.55v0.55h-0.55zM36.2 450.3h0.55v0.55h-0.55zM37.3 473.0h0.55v0.55h-0.55zM36.8 461.7h0.55v0.55h-0.55zM43.9 458.2h0.55v0.55h-0.55zM43.2 441.9h0.55v0.55h-0.55zM39.0 449.8h0.55v0.55h-0.55zM36.5 454.1h0.55v0.55h-0.55zM36.7 447.3h0.55v0.55h-0.55zM49.7 454.3h0.55v0.55h-0.55zM39.1 468.1h0.55v0.55h-0.55zM40.8 455.9h0.55v0.55h-0.55zM37.3 466.8h0.55v0.55h-0.55zM41.4 442.9h0.55v0.55h-0.55zM36.3 433.8h0.55v0.55h-0.55zM39.7 460.5h0.55v0.55h-0.55zM38.0 452.4h0.55v0.55h-0.55zM39.3 441.2h0.55v0.55h-0.55zM37.0 445.7h0.55v0.55h-0.55zM41.5 448.7h0.55v0.55h-0.55zM35.8 447.6h0.55v0.55h-0.55zM39.1 459.1h0.55v0.55h-0.55zM41.8 455.7h0.55v0.55h-0.55zM36.0 442.1h0.55v0.55h-0.55zM40.0 441.7h0.55v0.55h-0.55zM36.6 458.7h0.55v0.55h-0.55zM40.5 450.8h0.55v0.55h-0.55zM37.6 452.5h0.55v0.55h-0.55zM36.2 456.0h0.55v0.55h-0.55zM43.5 445.2h0.55v0.55h-0.55zM46.9 433.3h0.55v0.55h-0.55zM45.2 438.3h0.55v0.55h-0.55zM41.1 449.0h0.55v0.55h-0.55zM46.8 445.1h0.55v0.55h-0.55zM41.5 448.0h0.55v0.55h-0.55zM36.3 442.4h0.55v0.55h-0.55zM47.9 450.7h0.55v0.55h-0.55zM38.9 470.1h0.55v0.55h-0.55zM36.5 454.5h0.55v0.55h-0.55zM36.3 444.0h0.55v0.55h-0.55zM43.3 449.5h0.55v0.55h-0.55zM44.3 454.5h0.55v0.55h-0.55zM36.5 459.9h0.55v0.55h-0.55zM40.6 462.6h0.55v0.55h-0.55zM35.6 444.0h0.55v0.55h-0.55zM39.2 455.3h0.55v0.55h-0.55zM37.4 452.8h0.55v0.55h-0.55zM40.8 462.8h0.55v0.55h-0.55zM40.1 428.9h0.55v0.55h-0.55zM46.6 448.8h0.55v0.55h-0.55zM37.8 454.6h0.55v0.55h-0.55zM37.8 459.8h0.55v0.55h-0.55zM42.3 449.3h0.55v0.55h-0.55zM42.3 463.8h0.55v0.55h-0.55zM36.8 460.3h0.55v0.55h-0.55zM43.1 440.9h0.55v0.55h-0.55zM36.7 457.1h0.55v0.55h-0.55zM35.8 449.9h0.55v0.55h-0.55zM40.1 458.7h0.55v0.55h-0.55zM38.7 449.9h0.55v0.55h-0.55zM39.0 452.8h0.55v0.55h-0.55zM36.3 441.6h0.55v0.55h-0.55zM45.1 449.1h0.55v0.55h-0.55zM37.0 450.7h0.55v0.55h-0.55zM35.9 452.3h0.55v0.55h-0.55zM40.1 454.2h0.55v0.55h-0.55zM42.1 454.4h0.55v0.55h-0.55zM39.5 455.1h0.55v0.55h-0.55zM35.7 466.3h0.55v0.55h-0.55zM39.2 454.2h0.55v0.55h-0.55zM41.1 453.5h0.55v0.55h-0.55zM41.2 441.8h0.55v0.55h-0.55zM44.0 442.9h0.55v0.55h-0.55zM35.5 455.6h0.55v0.55h-0.55zM36.0 436.0h0.55v0.55h-0.55zM45.9 450.1h0.55v0.55h-0.55zM39.7 448.8h0.55v0.55h-0.55zM36.0 452.4h0.55v0.55h-0.55zM42.8 436.8h0.55v0.55h-0.55zM40.6 445.7h0.55v0.55h-0.55zM41.9 434.2h0.55v0.55h-0.55zM38.4 440.4h0.55v0.55h-0.55zM41.2 456.3h0.55v0.55h-0.55zM37.2 455.7h0.55v0.55h-0.55zM42.4 426.8h0.55v0.55h-0.55zM40.9 448.5h0.55v0.55h-0.55zM39.1 458.5h0.55v0.55h-0.55zM37.5 442.2h0.55v0.55h-0.55zM38.6 449.7h0.55v0.55h-0.55zM38.2 460.5h0.55v0.55h-0.55zM44.6 459.7h0.55v0.55h-0.55zM41.5 433.6h0.55v0.55h-0.55zM36.5 449.6h0.55v0.55h-0.55zM41.7 446.2h0.55v0.55h-0.55zM39.9 451.5h0.55v0.55h-0.55zM38.6 432.9h0.55v0.55h-0.55zM42.0 458.6h0.55v0.55h-0.55zM40.1 458.4h0.55v0.55h-0.55zM46.6 437.8h0.55v0.55h-0.55zM37.7 446.6h0.55v0.55h-0.55zM38.6 448.4h0.55v0.55h-0.55zM43.2 461.7h0.55v0.55h-0.55zM37.3 457.2h0.55v0.55h-0.55zM48.0 444.7h0.55v0.55h-0.55zM37.8 458.7h0.55v0.55h-0.55zM36.1 455.4h0.55v0.55h-0.55zM39.0 453.9h0.55v0.55h-0.55zM36.2 454.3h0.55v0.55h-0.55zM44.4 448.7h0.55v0.55h-0.55zM39.6 440.8h0.55v0.55h-0.55zM35.7 450.2h0.55v0.55h-0.55zM38.3 472.2h0.55v0.55h-0.55zM39.4 453.8h0.55v0.55h-0.55zM39.8 451.7h0.55v0.55h-0.55zM37.1 450.2h0.55v0.55h-0.55zM36.7 472.3h0.55v0.55h-0.55zM42.9 465.5h0.55v0.55h-0.55zM39.1 440.1h0.55v0.55h-0.55zM36.7 453.2h0.55v0.55h-0.55zM35.7 445.7h0.55v0.55h-0.55zM39.3 465.7h0.55v0.55h-0.55zM36.7 449.1h0.55v0.55h-0.55zM42.1 448.4h0.55v0.55h-0.55zM37.4 453.7h0.55v0.55h-0.55zM48.0 467.1h0.55v0.55h-0.55zM36.1 455.4h0.55v0.55h-0.55zM37.3 454.5h0.55v0.55h-0.55zM42.8 466.1h0.55v0.55h-0.55zM38.7 453.6h0.55v0.55h-0.55zM52.9 440.2h0.55v0.55h-0.55zM39.6 450.2h0.55v0.55h-0.55zM43.7 467.5h0.55v0.55h-0.55zM44.0 452.2h0.55v0.55h-0.55zM35.9 452.6h0.55v0.55h-0.55zM40.7 462.7h0.55v0.55h-0.55zM36.9 440.2h0.55v0.55h-0.55zM42.2 453.4h0.55v0.55h-0.55zM41.9 454.7h0.55v0.55h-0.55zM37.3 446.1h0.55v0.55h-0.55zM46.1 440.0h0.55v0.55h-0.55zM37.5 446.6h0.55v0.55h-0.55zM45.8 447.3h0.55v0.55h-0.55zM37.6 456.8h0.55v0.55h-0.55zM36.0 453.7h0.55v0.55h-0.55zM41.1 449.8h0.55v0.55h-0.55zM37.4 448.0h0.55v0.55h-0.55zM46.6 452.5h0.55v0.55h-0.55zM40.1 425.7h0.55v0.55h-0.55zM38.1 441.5h0.55v0.55h-0.55zM35.7 447.3h0.55v0.55h-0.55zM41.2 448.7h0.55v0.55h-0.55zM40.0 460.2h0.55v0.55h-0.55zM38.4 460.1h0.55v0.55h-0.55zM38.9 456.3h0.55v0.55h-0.55zM40.2 460.0h0.55v0.55h-0.55zM48.3 448.6h0.55v0.55h-0.55zM42.3 438.7h0.55v0.55h-0.55zM39.0 473.7h0.55v0.55h-0.55zM35.8 455.3h0.55v0.55h-0.55zM44.4 450.9h0.55v0.55h-0.55zM39.8 461.3h0.55v0.55h-0.55zM38.4 472.7h0.55v0.55h-0.55zM41.5 453.8h0.55v0.55h-0.55zM46.5 447.6h0.55v0.55h-0.55zM42.2 450.1h0.55v0.55h-0.55zM42.6 455.2h0.55v0.55h-0.55zM40.8 454.8h0.55v0.55h-0.55zM41.0 438.9h0.55v0.55h-0.55zM45.6 457.1h0.55v0.55h-0.55zM47.1 467.0h0.55v0.55h-0.55zM38.1 455.4h0.55v0.55h-0.55zM46.4 445.7h0.55v0.55h-0.55zM45.5 458.2h0.55v0.55h-0.55zM36.8 443.2h0.55v0.55h-0.55zM37.5 460.6h0.55v0.55h-0.55zM39.8 455.9h0.55v0.55h-0.55zM42.0 436.9h0.55v0.55h-0.55zM38.2 448.6h0.55v0.55h-0.55zM36.5 459.0h0.55v0.55h-0.55zM37.8 447.9h0.55v0.55h-0.55zM39.7 454.7h0.55v0.55h-0.55zM35.8 453.0h0.55v0.55h-0.55zM47.5 446.4h0.55v0.55h-0.55zM44.3 448.0h0.55v0.55h-0.55zM40.5 436.7h0.55v0.55h-0.55zM40.6 446.2h0.55v0.55h-0.55zM36.6 447.1h0.55v0.55h-0.55zM39.4 445.3h0.55v0.55h-0.55zM46.9 453.8h0.55v0.55h-0.55zM36.3 456.4h0.55v0.55h-0.55zM38.8 440.7h0.55v0.55h-0.55zM36.6 452.0h0.55v0.55h-0.55zM35.9 451.8h0.55v0.55h-0.55zM37.2 446.3h0.55v0.55h-0.55zM36.3 459.3h0.55v0.55h-0.55zM41.3 450.3h0.55v0.55h-0.55zM41.1 442.0h0.55v0.55h-0.55zM37.8 452.5h0.55v0.55h-0.55zM43.9 449.3h0.55v0.55h-0.55zM40.6 455.6h0.55v0.55h-0.55zM35.9 424.7h0.55v0.55h-0.55zM36.2 451.5h0.55v0.55h-0.55zM41.2 452.1h0.55v0.55h-0.55zM43.6 441.2h0.55v0.55h-0.55zM38.3 458.7h0.55v0.55h-0.55zM45.4 442.2h0.55v0.55h-0.55zM37.1 459.1h0.55v0.55h-0.55zM42.2 457.4h0.55v0.55h-0.55zM48.2 454.3h0.55v0.55h-0.55zM42.6 449.4h0.55v0.55h-0.55zM38.9 454.2h0.55v0.55h-0.55zM46.1 454.3h0.55v0.55h-0.55zM39.9 449.3h0.55v0.55h-0.55zM43.5 449.6h0.55v0.55h-0.55zM39.1 450.0h0.55v0.55h-0.55zM39.0 468.4h0.55v0.55h-0.55zM40.0 458.8h0.55v0.55h-0.55zM39.3 445.6h0.55v0.55h-0.55zM36.9 432.5h0.55v0.55h-0.55zM41.1 440.1h0.55v0.55h-0.55zM36.1 453.9h0.55v0.55h-0.55zM39.8 454.0h0.55v0.55h-0.55zM39.3 467.2h0.55v0.55h-0.55zM37.7 466.5h0.55v0.55h-0.55zM38.1 449.4h0.55v0.55h-0.55zM40.2 446.6h0.55v0.55h-0.55zM36.3 456.3h0.55v0.55h-0.55zM41.8 453.3h0.55v0.55h-0.55zM43.5 462.0h0.55v0.55h-0.55zM36.4 448.5h0.55v0.55h-0.55zM39.9 455.9h0.55v0.55h-0.55zM37.3 456.8h0.55v0.55h-0.55zM36.2 464.0h0.55v0.55h-0.55zM36.9 454.5h0.55v0.55h-0.55zM36.6 460.0h0.55v0.55h-0.55zM39.3 448.5h0.55v0.55h-0.55zM36.7 445.4h0.55v0.55h-0.55zM39.1 440.8h0.55v0.55h-0.55zM39.6 463.7h0.55v0.55h-0.55zM40.9 457.5h0.55v0.55h-0.55zM41.8 444.1h0.55v0.55h-0.55zM37.2 452.0h0.55v0.55h-0.55zM38.0 434.6h0.55v0.55h-0.55zM42.7 451.7h0.55v0.55h-0.55zM36.9 469.1h0.55v0.55h-0.55zM37.0 445.5h0.55v0.55h-0.55zM42.1 428.3h0.55v0.55h-0.55zM38.9 451.6h0.55v0.55h-0.55zM36.5 443.4h0.55v0.55h-0.55zM36.3 439.8h0.55v0.55h-0.55zM40.8 457.5h0.55v0.55h-0.55zM39.2 443.2h0.55v0.55h-0.55zM46.1 446.9h0.55v0.55h-0.55zM41.6 454.3h0.55v0.55h-0.55zM44.4 443.1h0.55v0.55h-0.55zM36.2 454.6h0.55v0.55h-0.55zM36.0 440.2h0.55v0.55h-0.55zM39.3 468.0h0.55v0.55h-0.55zM40.6 444.0h0.55v0.55h-0.55zM45.9 449.8h0.55v0.55h-0.55zM35.6 443.9h0.55v0.55h-0.55zM43.8 451.9h0.55v0.55h-0.55zM36.0 443.1h0.55v0.55h-0.55zM42.6 452.5h0.55v0.55h-0.55zM35.5 464.1h0.55v0.55h-0.55zM40.5 447.8h0.55v0.55h-0.55zM40.9 457.9h0.55v0.55h-0.55zM39.2 463.4h0.55v0.55h-0.55zM38.1 458.5h0.55v0.55h-0.55zM37.4 459.2h0.55v0.55h-0.55zM37.8 449.1h0.55v0.55h-0.55zM41.4 454.3h0.55v0.55h-0.55zM37.5 460.6h0.55v0.55h-0.55zM36.8 454.4h0.55v0.55h-0.55zM47.6 446.5h0.55v0.55h-0.55zM40.0 443.5h0.55v0.55h-0.55zM37.1 452.9h0.55v0.55h-0.55zM36.3 458.3h0.55v0.55h-0.55zM38.1 449.5h0.55v0.55h-0.55zM41.4 447.9h0.55v0.55h-0.55zM39.4 453.7h0.55v0.55h-0.55zM38.9 449.7h0.55v0.55h-0.55zM41.4 446.6h0.55v0.55h-0.55zM36.7 456.7h0.55v0.55h-0.55zM45.2 449.6h0.55v0.55h-0.55zM36.7 432.7h0.55v0.55h-0.55zM42.5 458.7h0.55v0.55h-0.55zM35.5 444.9h0.55v0.55h-0.55zM49.9 457.1h0.55v0.55h-0.55zM39.8 463.8h0.55v0.55h-0.55zM39.6 461.9h0.55v0.55h-0.55zM36.3 461.1h0.55v0.55h-0.55zM43.2 463.3h0.55v0.55h-0.55zM35.7 440.9h0.55v0.55h-0.55zM37.7 442.7h0.55v0.55h-0.55zM36.9 444.8h0.55v0.55h-0.55zM42.5 447.9h0.55v0.55h-0.55zM36.8 452.7h0.55v0.55h-0.55zM39.3 461.7h0.55v0.55h-0.55zM37.7 464.9h0.55v0.55h-0.55zM49.1 450.4h0.55v0.55h-0.55zM40.6 439.8h0.55v0.55h-0.55zM36.6 452.8h0.55v0.55h-0.55zM44.0 446.1h0.55v0.55h-0.55zM38.8 448.3h0.55v0.55h-0.55zM43.9 471.0h0.55v0.55h-0.55zM35.9 441.2h0.55v0.55h-0.55zM35.7 446.2h0.55v0.55h-0.55zM43.4 447.5h0.55v0.55h-0.55zM38.1 447.9h0.55v0.55h-0.55zM40.5 460.0h0.55v0.55h-0.55zM37.7 447.9h0.55v0.55h-0.55zM37.8 451.2h0.55v0.55h-0.55zM36.7 442.7h0.55v0.55h-0.55zM52.4 458.5h0.55v0.55h-0.55zM38.8 446.7h0.55v0.55h-0.55zM35.6 450.5h0.55v0.55h-0.55zM37.2 463.9h0.55v0.55h-0.55zM36.2 452.9h0.55v0.55h-0.55zM40.4 450.1h0.55v0.55h-0.55zM38.0 450.3h0.55v0.55h-0.55zM37.3 443.0h0.55v0.55h-0.55zM37.5 442.3h0.55v0.55h-0.55zM37.9 444.4h0.55v0.55h-0.55zM36.5 460.2h0.55v0.55h-0.55zM37.1 443.6h0.55v0.55h-0.55zM36.2 459.7h0.55v0.55h-0.55zM39.4 455.2h0.55v0.55h-0.55zM41.7 446.3h0.55v0.55h-0.55zM39.2 447.0h0.55v0.55h-0.55zM36.8 451.3h0.55v0.55h-0.55zM37.4 455.8h0.55v0.55h-0.55zM39.4 448.2h0.55v0.55h-0.55zM36.1 439.5h0.55v0.55h-0.55zM40.2 439.2h0.55v0.55h-0.55zM41.2 449.8h0.55v0.55h-0.55zM36.2 453.9h0.55v0.55h-0.55zM37.3 441.4h0.55v0.55h-0.55zM45.7 462.4h0.55v0.55h-0.55zM42.2 445.1h0.55v0.55h-0.55zM38.1 452.7h0.55v0.55h-0.55zM38.8 451.0h0.55v0.55h-0.55zM40.2 457.9h0.55v0.55h-0.55zM39.6 451.8h0.55v0.55h-0.55zM40.6 447.0h0.55v0.55h-0.55zM41.7 451.7h0.55v0.55h-0.55zM44.1 451.4h0.55v0.55h-0.55zM43.6 437.5h0.55v0.55h-0.55zM43.4 454.8h0.55v0.55h-0.55zM37.6 460.1h0.55v0.55h-0.55zM37.0 457.9h0.55v0.55h-0.55zM40.7 459.8h0.55v0.55h-0.55zM47.6 462.6h0.55v0.55h-0.55zM49.2 457.0h0.55v0.55h-0.55zM36.3 454.3h0.55v0.55h-0.55zM35.7 440.5h0.55v0.55h-0.55zM36.3 440.9h0.55v0.55h-0.55zM37.1 448.4h0.55v0.55h-0.55zM38.5 442.0h0.55v0.55h-0.55zM36.1 450.8h0.55v0.55h-0.55zM43.0 456.3h0.55v0.55h-0.55zM40.6 447.0h0.55v0.55h-0.55zM37.2 440.4h0.55v0.55h-0.55zM40.3 457.0h0.55v0.55h-0.55zM36.6 449.8h0.55v0.55h-0.55zM38.6 464.1h0.55v0.55h-0.55zM35.8 460.6h0.55v0.55h-0.55zM35.7 459.0h0.55v0.55h-0.55zM40.8 439.6h0.55v0.55h-0.55zM41.5 448.4h0.55v0.55h-0.55zM37.0 458.4h0.55v0.55h-0.55zM39.3 453.3h0.55v0.55h-0.55zM42.0 445.1h0.55v0.55h-0.55zM35.7 456.4h0.55v0.55h-0.55zM38.3 454.1h0.55v0.55h-0.55zM39.7 450.9h0.55v0.55h-0.55zM40.8 443.7h0.55v0.55h-0.55zM38.6 458.6h0.55v0.55h-0.55zM44.2 454.4h0.55v0.55h-0.55zM35.5 442.9h0.55v0.55h-0.55zM36.2 444.3h0.55v0.55h-0.55zM36.3 457.0h0.55v0.55h-0.55zM38.0 462.0h0.55v0.55h-0.55zM41.1 440.3h0.55v0.55h-0.55zM43.0 459.8h0.55v0.55h-0.55zM40.8 452.1h0.55v0.55h-0.55zM41.4 450.8h0.55v0.55h-0.55zM37.2 459.1h0.55v0.55h-0.55zM40.8 440.3h0.55v0.55h-0.55zM38.6 448.2h0.55v0.55h-0.55zM43.1 441.3h0.55v0.55h-0.55zM39.0 427.9h0.55v0.55h-0.55zM41.7 462.2h0.55v0.55h-0.55zM37.8 448.4h0.55v0.55h-0.55zM46.5 439.5h0.55v0.55h-0.55zM38.4 467.1h0.55v0.55h-0.55zM40.4 446.0h0.55v0.55h-0.55zM37.8 455.7h0.55v0.55h-0.55zM38.3 443.2h0.55v0.55h-0.55zM37.9 459.4h0.55v0.55h-0.55zM39.3 448.2h0.55v0.55h-0.55zM48.8 453.4h0.55v0.55h-0.55zM37.7 458.7h0.55v0.55h-0.55zM39.9 450.0h0.55v0.55h-0.55zM45.4 460.1h0.55v0.55h-0.55zM35.6 457.0h0.55v0.55h-0.55zM39.2 448.7h0.55v0.55h-0.55zM39.5 446.5h0.55v0.55h-0.55zM36.8 456.6h0.55v0.55h-0.55zM42.3 448.1h0.55v0.55h-0.55zM40.8 457.0h0.55v0.55h-0.55zM38.6 466.5h0.55v0.55h-0.55zM43.9 445.3h0.55v0.55h-0.55zM36.4 448.1h0.55v0.55h-0.55zM35.5 456.7h0.55v0.55h-0.55zM43.6 469.5h0.55v0.55h-0.55zM45.6 440.4h0.55v0.55h-0.55zM38.1 449.5h0.55v0.55h-0.55zM37.2 452.3h0.55v0.55h-0.55zM39.1 447.2h0.55v0.55h-0.55zM38.7 470.9h0.55v0.55h-0.55zM39.3 469.3h0.55v0.55h-0.55zM38.5 462.7h0.55v0.55h-0.55zM44.7 462.3h0.55v0.55h-0.55zM39.6 455.7h0.55v0.55h-0.55zM39.7 441.6h0.55v0.55h-0.55zM35.5 455.4h0.55v0.55h-0.55zM36.6 450.1h0.55v0.55h-0.55zM39.0 445.4h0.55v0.55h-0.55zM37.9 457.6h0.55v0.55h-0.55zM39.1 455.9h0.55v0.55h-0.55zM40.9 448.7h0.55v0.55h-0.55zM37.8 457.1h0.55v0.55h-0.55zM45.0 452.3h0.55v0.55h-0.55zM44.2 456.5h0.55v0.55h-0.55zM38.3 451.5h0.55v0.55h-0.55zM40.6 465.5h0.55v0.55h-0.55zM40.9 452.1h0.55v0.55h-0.55zM46.1 449.4h0.55v0.55h-0.55zM39.2 456.7h0.55v0.55h-0.55zM36.0 451.9h0.55v0.55h-0.55zM41.5 448.3h0.55v0.55h-0.55zM41.5 451.2h0.55v0.55h-0.55zM44.1 453.3h0.55v0.55h-0.55zM41.6 473.1h0.55v0.55h-0.55zM43.8 462.3h0.55v0.55h-0.55zM39.9 464.5h0.55v0.55h-0.55zM35.6 454.4h0.55v0.55h-0.55zM45.7 446.9h0.55v0.55h-0.55zM41.9 436.6h0.55v0.55h-0.55zM37.3 450.6h0.55v0.55h-0.55zM37.4 453.8h0.55v0.55h-0.55zM35.7 441.7h0.55v0.55h-0.55zM35.9 435.9h0.55v0.55h-0.55zM43.8 450.9h0.55v0.55h-0.55zM40.4 443.4h0.55v0.55h-0.55zM45.6 459.7h0.55v0.55h-0.55zM37.5 452.9h0.55v0.55h-0.55zM37.7 445.0h0.55v0.55h-0.55zM36.2 449.3h0.55v0.55h-0.55zM37.6 464.1h0.55v0.55h-0.55zM41.9 453.4h0.55v0.55h-0.55zM39.0 448.7h0.55v0.55h-0.55zM38.0 437.5h0.55v0.55h-0.55zM42.3 441.1h0.55v0.55h-0.55zM35.8 449.6h0.55v0.55h-0.55zM37.9 460.8h0.55v0.55h-0.55zM39.3 449.9h0.55v0.55h-0.55zM38.0 448.7h0.55v0.55h-0.55zM38.9 443.4h0.55v0.55h-0.55zM43.6 449.3h0.55v0.55h-0.55zM41.3 461.4h0.55v0.55h-0.55zM38.9 435.0h0.55v0.55h-0.55zM36.3 457.1h0.55v0.55h-0.55zM41.5 466.7h0.55v0.55h-0.55zM40.6 454.2h0.55v0.55h-0.55zM43.9 449.3h0.55v0.55h-0.55zM37.6 458.0h0.55v0.55h-0.55zM36.5 436.4h0.55v0.55h-0.55zM36.1 454.2h0.55v0.55h-0.55zM43.5 445.0h0.55v0.55h-0.55zM40.1 446.2h0.55v0.55h-0.55zM41.1 448.7h0.55v0.55h-0.55zM36.0 454.8h0.55v0.55h-0.55zM39.9 460.3h0.55v0.55h-0.55zM44.3 466.5h0.55v0.55h-0.55zM39.1 443.4h0.55v0.55h-0.55zM39.5 441.2h0.55v0.55h-0.55zM40.3 444.3h0.55v0.55h-0.55zM41.8 449.6h0.55v0.55h-0.55zM37.3 446.2h0.55v0.55h-0.55zM36.5 444.0h0.55v0.55h-0.55zM36.7 448.3h0.55v0.55h-0.55zM41.4 451.9h0.55v0.55h-0.55zM36.4 445.4h0.55v0.55h-0.55zM35.7 455.5h0.55v0.55h-0.55zM42.2 446.8h0.55v0.55h-0.55zM38.9 451.0h0.55v0.55h-0.55zM39.8 471.3h0.55v0.55h-0.55zM42.3 454.1h0.55v0.55h-0.55zM37.5 463.1h0.55v0.55h-0.55zM38.7 439.3h0.55v0.55h-0.55zM41.4 451.1h0.55v0.55h-0.55zM37.2 451.2h0.55v0.55h-0.55zM36.7 443.8h0.55v0.55h-0.55zM37.6 462.5h0.55v0.55h-0.55zM41.0 445.9h0.55v0.55h-0.55zM39.7 443.0h0.55v0.55h-0.55zM36.6 453.6h0.55v0.55h-0.55zM40.4 448.4h0.55v0.55h-0.55zM40.4 449.2h0.55v0.55h-0.55zM37.0 451.1h0.55v0.55h-0.55zM36.8 454.2h0.55v0.55h-0.55zM39.8 442.0h0.55v0.55h-0.55zM36.1 464.4h0.55v0.55h-0.55zM36.8 448.7h0.55v0.55h-0.55zM35.5 444.9h0.55v0.55h-0.55zM38.5 450.9h0.55v0.55h-0.55zM36.4 457.3h0.55v0.55h-0.55zM42.1 439.0h0.55v0.55h-0.55zM38.2 448.7h0.55v0.55h-0.55zM43.2 456.7h0.55v0.55h-0.55zM47.1 457.8h0.55v0.55h-0.55zM42.4 434.5h0.55v0.55h-0.55zM37.9 439.8h0.55v0.55h-0.55zM39.8 450.0h0.55v0.55h-0.55zM36.5 455.1h0.55v0.55h-0.55zM39.7 464.8h0.55v0.55h-0.55zM43.0 458.9h0.55v0.55h-0.55zM44.5 461.6h0.55v0.55h-0.55zM36.0 438.1h0.55v0.55h-0.55zM36.4 448.9h0.55v0.55h-0.55zM36.0 459.1h0.55v0.55h-0.55zM42.9 456.4h0.55v0.55h-0.55zM42.0 441.4h0.55v0.55h-0.55zM43.1 445.3h0.55v0.55h-0.55zM39.6 458.9h0.55v0.55h-0.55zM35.6 435.4h0.55v0.55h-0.55zM39.0 456.8h0.55v0.55h-0.55zM38.5 447.0h0.55v0.55h-0.55zM35.5 450.9h0.55v0.55h-0.55z" fill="#4a4a90" fill-opacity="0.45"/>
<path d="M37.9 464.7h0.55v0.55h-0.55zM53.2 435.0h0.55v0.55h-0.55zM42.3 457.0h0.55v0.55h-0.55zM45.5 456.1h0.55v0.55h-0.55zM37.2 446.3h0.55v0.55h-0.55zM51.0 449.8h0.55v0.55h-0.55zM42.5 460.2h0.55v0.55h-0.55zM51.8 440.5h0.55v0.55h-0.55zM53.6 451.7h0.55v0.55h-0.55zM62.9 465.5h0.55v0.55h-0.55zM50.6 435.8h0.55v0.55h-0.55zM52.8 437.8h0.55v0.55h-0.55zM73.1 446.0h0.55v0.55h-0.55zM37.8 468.5h0.55v0.55h-0.55zM72.8 452.3h0.55v0.55h-0.55zM57.4 447.3h0.55v0.55h-0.55zM51.3 458.2h0.55v0.55h-0.55zM40.3 455.1h0.55v0.55h-0.55zM52.7 436.4h0.55v0.55h-0.55zM69.6 449.8h0.55v0.55h-0.55zM70.4 446.0h0.55v0.55h-0.55zM57.9 461.1h0.55v0.55h-0.55zM48.9 453.0h0.55v0.55h-0.55zM43.8 461.5h0.55v0.55h-0.55zM36.5 461.0h0.55v0.55h-0.55zM53.4 445.4h0.55v0.55h-0.55zM53.4 458.7h0.55v0.55h-0.55zM37.5 457.6h0.55v0.55h-0.55zM43.2 459.1h0.55v0.55h-0.55zM64.6 456.8h0.55v0.55h-0.55zM56.9 448.4h0.55v0.55h-0.55zM45.9 430.5h0.55v0.55h-0.55zM47.7 452.3h0.55v0.55h-0.55zM50.5 434.9h0.55v0.55h-0.55zM44.3 446.9h0.55v0.55h-0.55zM73.9 460.4h0.55v0.55h-0.55zM65.9 440.4h0.55v0.55h-0.55zM48.5 467.9h0.55v0.55h-0.55zM60.7 461.1h0.55v0.55h-0.55zM74.2 469.2h0.55v0.55h-0.55zM64.0 442.3h0.55v0.55h-0.55zM43.3 463.1h0.55v0.55h-0.55zM61.7 445.1h0.55v0.55h-0.55zM58.5 462.2h0.55v0.55h-0.55zM46.0 457.3h0.55v0.55h-0.55zM53.1 462.7h0.55v0.55h-0.55zM48.0 455.2h0.55v0.55h-0.55zM64.7 456.4h0.55v0.55h-0.55zM61.8 447.1h0.55v0.55h-0.55zM59.0 453.3h0.55v0.55h-0.55zM41.4 454.3h0.55v0.55h-0.55zM49.5 456.3h0.55v0.55h-0.55zM39.5 463.1h0.55v0.55h-0.55zM57.9 455.7h0.55v0.55h-0.55zM63.9 463.7h0.55v0.55h-0.55zM55.9 451.3h0.55v0.55h-0.55zM94.2 451.5h0.55v0.55h-0.55zM60.8 449.9h0.55v0.55h-0.55zM44.9 444.4h0.55v0.55h-0.55zM61.4 453.1h0.55v0.55h-0.55zM66.5 443.1h0.55v0.55h-0.55zM37.7 464.6h0.55v0.55h-0.55zM45.9 445.3h0.55v0.55h-0.55zM53.5 446.6h0.55v0.55h-0.55zM36.7 458.4h0.55v0.55h-0.55zM41.8 459.0h0.55v0.55h-0.55zM57.5 453.1h0.55v0.55h-0.55zM67.7 458.9h0.55v0.55h-0.55zM37.6 450.5h0.55v0.55h-0.55zM38.1 445.2h0.55v0.55h-0.55zM63.8 452.4h0.55v0.55h-0.55zM45.0 457.5h0.55v0.55h-0.55zM47.0 452.9h0.55v0.55h-0.55zM43.0 447.7h0.55v0.55h-0.55zM42.9 445.3h0.55v0.55h-0.55zM43.2 459.4h0.55v0.55h-0.55zM47.3 452.0h0.55v0.55h-0.55zM51.3 458.4h0.55v0.55h-0.55zM83.6 431.9h0.55v0.55h-0.55zM62.2 454.0h0.55v0.55h-0.55zM63.3 462.8h0.55v0.55h-0.55zM56.5 468.1h0.55v0.55h-0.55zM46.9 449.7h0.55v0.55h-0.55zM52.6 451.2h0.55v0.55h-0.55zM44.5 447.2h0.55v0.55h-0.55zM57.0 452.1h0.55v0.55h-0.55zM58.2 464.4h0.55v0.55h-0.55zM43.9 465.0h0.55v0.55h-0.55zM61.8 432.8h0.55v0.55h-0.55zM85.1 448.5h0.55v0.55h-0.55zM62.7 455.3h0.55v0.55h-0.55zM66.6 439.2h0.55v0.55h-0.55zM44.7 448.3h0.55v0.55h-0.55zM53.7 459.4h0.55v0.55h-0.55zM46.4 440.7h0.55v0.55h-0.55zM53.2 472.9h0.55v0.55h-0.55zM38.8 454.7h0.55v0.55h-0.55zM41.2 451.7h0.55v0.55h-0.55zM37.5 446.8h0.55v0.55h-0.55zM45.3 433.4h0.55v0.55h-0.55zM76.0 451.0h0.55v0.55h-0.55zM63.3 456.7h0.55v0.55h-0.55zM53.4 438.6h0.55v0.55h-0.55zM45.4 465.8h0.55v0.55h-0.55zM50.6 455.9h0.55v0.55h-0.55zM60.8 450.8h0.55v0.55h-0.55zM40.3 466.7h0.55v0.55h-0.55zM37.8 451.2h0.55v0.55h-0.55zM52.7 452.3h0.55v0.55h-0.55zM61.5 469.4h0.55v0.55h-0.55zM36.7 468.5h0.55v0.55h-0.55zM49.8 443.6h0.55v0.55h-0.55zM73.2 450.4h0.55v0.55h-0.55zM53.0 451.7h0.55v0.55h-0.55zM82.0 455.7h0.55v0.55h-0.55zM50.1 449.6h0.55v0.55h-0.55zM53.8 458.2h0.55v0.55h-0.55zM46.4 461.9h0.55v0.55h-0.55zM75.9 454.6h0.55v0.55h-0.55zM40.4 454.8h0.55v0.55h-0.55zM52.0 446.9h0.55v0.55h-0.55zM55.4 444.0h0.55v0.55h-0.55zM77.4 448.7h0.55v0.55h-0.55zM44.1 465.5h0.55v0.55h-0.55zM49.8 443.3h0.55v0.55h-0.55zM40.5 450.5h0.55v0.55h-0.55zM43.9 447.2h0.55v0.55h-0.55zM42.8 446.6h0.55v0.55h-0.55zM60.5 454.5h0.55v0.55h-0.55zM51.2 447.9h0.55v0.55h-0.55zM66.0 452.0h0.55v0.55h-0.55zM37.1 462.1h0.55v0.55h-0.55zM60.0 451.6h0.55v0.55h-0.55zM37.2 442.8h0.55v0.55h-0.55zM37.3 453.9h0.55v0.55h-0.55zM43.1 442.0h0.55v0.55h-0.55zM67.0 443.4h0.55v0.55h-0.55zM75.4 462.8h0.55v0.55h-0.55zM72.9 444.1h0.55v0.55h-0.55zM52.3 439.1h0.55v0.55h-0.55zM41.9 437.9h0.55v0.55h-0.55zM50.3 447.3h0.55v0.55h-0.55zM59.7 461.8h0.55v0.55h-0.55zM42.2 449.3h0.55v0.55h-0.55zM55.0 441.4h0.55v0.55h-0.55zM73.9 449.9h0.55v0.55h-0.55zM51.4 444.8h0.55v0.55h-0.55zM46.2 441.3h0.55v0.55h-0.55zM56.5 446.9h0.55v0.55h-0.55zM57.8 447.0h0.55v0.55h-0.55zM55.1 448.6h0.55v0.55h-0.55zM58.8 433.4h0.55v0.55h-0.55zM44.6 443.0h0.55v0.55h-0.55zM58.2 455.8h0.55v0.55h-0.55zM70.6 459.5h0.55v0.55h-0.55zM49.8 425.3h0.55v0.55h-0.55zM57.4 454.0h0.55v0.55h-0.55zM69.7 445.1h0.55v0.55h-0.55zM49.4 454.0h0.55v0.55h-0.55zM47.9 457.3h0.55v0.55h-0.55zM53.8 473.5h0.55v0.55h-0.55zM49.4 471.2h0.55v0.55h-0.55zM40.1 456.8h0.55v0.55h-0.55zM45.4 450.4h0.55v0.55h-0.55zM44.8 454.1h0.55v0.55h-0.55zM55.9 454.6h0.55v0.55h-0.55zM39.0 456.2h0.55v0.55h-0.55zM69.9 452.4h0.55v0.55h-0.55zM51.2 453.0h0.55v0.55h-0.55zM77.8 443.5h0.55v0.55h-0.55zM54.6 439.1h0.55v0.55h-0.55zM48.0 435.7h0.55v0.55h-0.55zM43.7 446.8h0.55v0.55h-0.55zM64.9 455.2h0.55v0.55h-0.55zM62.5 449.7h0.55v0.55h-0.55zM38.7 445.5h0.55v0.55h-0.55zM42.3 441.9h0.55v0.55h-0.55zM50.5 454.2h0.55v0.55h-0.55zM41.7 462.6h0.55v0.55h-0.55zM81.2 444.5h0.55v0.55h-0.55zM42.6 465.0h0.55v0.55h-0.55zM62.2 458.5h0.55v0.55h-0.55zM59.1 466.0h0.55v0.55h-0.55zM52.5 449.5h0.55v0.55h-0.55zM41.5 445.1h0.55v0.55h-0.55zM39.5 454.9h0.55v0.55h-0.55zM45.6 452.5h0.55v0.55h-0.55zM44.1 439.7h0.55v0.55h-0.55zM66.3 457.8h0.55v0.55h-0.55zM38.1 459.0h0.55v0.55h-0.55zM36.9 451.4h0.55v0.55h-0.55zM43.2 448.5h0.55v0.55h-0.55zM67.7 460.6h0.55v0.55h-0.55zM46.0 442.1h0.55v0.55h-0.55zM46.6 453.3h0.55v0.55h-0.55zM62.7 451.1h0.55v0.55h-0.55zM36.5 456.1h0.55v0.55h-0.55zM39.6 450.0h0.55v0.55h-0.55zM59.8 462.4h0.55v0.55h-0.55zM36.2 446.7h0.55v0.55h-0.55zM37.4 439.4h0.55v0.55h-0.55zM72.1 435.3h0.55v0.55h-0.55zM45.0 439.4h0.55v0.55h-0.55zM39.2 440.6h0.55v0.55h-0.55zM74.5 445.7h0.55v0.55h-0.55zM51.6 445.0h0.55v0.55h-0.55zM74.5 453.0h0.55v0.55h-0.55zM48.5 459.0h0.55v0.55h-0.55zM42.5 462.1h0.55v0.55h-0.55zM69.9 460.9h0.55v0.55h-0.55zM59.4 444.6h0.55v0.55h-0.55zM40.9 441.5h0.55v0.55h-0.55zM71.7 447.6h0.55v0.55h-0.55zM42.2 436.4h0.55v0.55h-0.55zM57.8 443.7h0.55v0.55h-0.55zM49.4 449.0h0.55v0.55h-0.55zM37.3 460.6h0.55v0.55h-0.55zM83.1 451.1h0.55v0.55h-0.55zM55.7 453.2h0.55v0.55h-0.55zM37.5 441.0h0.55v0.55h-0.55zM43.5 446.7h0.55v0.55h-0.55zM39.1 441.5h0.55v0.55h-0.55zM42.9 449.7h0.55v0.55h-0.55zM68.5 460.3h0.55v0.55h-0.55zM38.6 439.5h0.55v0.55h-0.55zM41.5 452.2h0.55v0.55h-0.55zM43.5 441.7h0.55v0.55h-0.55zM40.9 438.8h0.55v0.55h-0.55zM72.6 461.6h0.55v0.55h-0.55zM73.5 467.8h0.55v0.55h-0.55zM85.8 463.2h0.55v0.55h-0.55zM56.5 445.9h0.55v0.55h-0.55zM60.2 446.8h0.55v0.55h-0.55zM43.7 450.8h0.55v0.55h-0.55zM45.3 438.7h0.55v0.55h-0.55zM36.7 455.4h0.55v0.55h-0.55zM81.1 461.1h0.55v0.55h-0.55zM52.9 443.7h0.55v0.55h-0.55zM76.3 454.8h0.55v0.55h-0.55zM46.6 464.9h0.55v0.55h-0.55zM92.6 451.1h0.55v0.55h-0.55zM59.4 463.8h0.55v0.55h-0.55zM36.8 449.4h0.55v0.55h-0.55zM52.9 448.0h0.55v0.55h-0.55zM54.9 429.4h0.55v0.55h-0.55zM48.9 441.9h0.55v0.55h-0.55zM49.2 446.9h0.55v0.55h-0.55zM46.7 451.9h0.55v0.55h-0.55zM37.5 447.7h0.55v0.55h-0.55zM49.6 450.0h0.55v0.55h-0.55zM42.9 449.8h0.55v0.55h-0.55zM66.4 453.2h0.55v0.55h-0.55zM44.8 432.5h0.55v0.55h-0.55zM68.0 424.4h0.55v0.55h-0.55zM55.3 460.9h0.55v0.55h-0.55zM45.0 446.8h0.55v0.55h-0.55zM46.4 456.1h0.55v0.55h-0.55zM74.3 448.7h0.55v0.55h-0.55zM43.0 439.6h0.55v0.55h-0.55zM67.1 457.7h0.55v0.55h-0.55zM49.4 450.6h0.55v0.55h-0.55zM48.2 446.4h0.55v0.55h-0.55zM44.7 460.2h0.55v0.55h-0.55zM36.1 446.7h0.55v0.55h-0.55zM51.1 453.3h0.55v0.55h-0.55zM55.3 436.4h0.55v0.55h-0.55zM39.1 465.3h0.55v0.55h-0.55zM51.0 452.4h0.55v0.55h-0.55zM40.4 462.0h0.55v0.55h-0.55zM46.4 439.6h0.55v0.55h-0.55zM74.4 451.1h0.55v0.55h-0.55zM56.2 446.4h0.55v0.55h-0.55zM37.3 460.7h0.55v0.55h-0.55zM42.2 444.3h0.55v0.55h-0.55zM65.2 465.1h0.55v0.55h-0.55zM43.9 452.2h0.55v0.55h-0.55zM44.2 448.3h0.55v0.55h-0.55zM56.2 460.4h0.55v0.55h-0.55zM60.2 434.5h0.55v0.55h-0.55zM48.8 461.4h0.55v0.55h-0.55zM53.9 444.1h0.55v0.55h-0.55zM41.4 441.2h0.55v0.55h-0.55zM47.6 428.8h0.55v0.55h-0.55zM55.2 463.4h0.55v0.55h-0.55zM61.8 466.6h0.55v0.55h-0.55zM39.8 433.3h0.55v0.55h-0.55zM56.8 442.4h0.55v0.55h-0.55zM48.2 449.4h0.55v0.55h-0.55zM43.7 449.4h0.55v0.55h-0.55zM65.1 444.2h0.55v0.55h-0.55zM44.8 467.1h0.55v0.55h-0.55zM48.7 454.0h0.55v0.55h-0.55zM46.1 462.1h0.55v0.55h-0.55zM41.1 452.9h0.55v0.55h-0.55zM56.5 473.9h0.55v0.55h-0.55zM68.9 453.4h0.55v0.55h-0.55zM43.6 452.5h0.55v0.55h-0.55zM47.5 447.0h0.55v0.55h-0.55zM57.9 459.7h0.55v0.55h-0.55z" fill="#5a5a98" fill-opacity="0.4"/>
<path d="M34.3 425.0 L34.9 434.5 L33.7 434.5 Z" fill="#7070b0" fill-opacity="0.45"/>
<path d="M34.30 433.60 C34.60 433.60 34.88 435.93 35.10 438.00 C35.32 440.07 35.52 442.00 35.60 446.00 C35.68 450.00 35.68 458.33 35.60 462.00 C35.52 465.67 35.35 466.83 35.10 468.00 C34.85 469.17 34.42 469.25 34.10 469.00 C33.78 468.75 33.38 469.33 33.20 466.50 C33.02 463.67 32.98 456.75 33.00 452.00 C33.02 447.25 33.08 441.07 33.30 438.00 C33.52 434.93 34.00 433.60 34.30 433.60Z" fill="#00008c"/>
<path d="M34.00 438.50 C34.20 438.67 34.57 441.42 34.70 445.00 C34.83 448.58 34.90 456.67 34.80 460.00 C34.70 463.33 34.32 465.33 34.10 465.00 C33.88 464.67 33.60 461.50 33.50 458.00 C33.40 454.50 33.42 447.25 33.50 444.00 C33.58 440.75 33.80 438.33 34.00 438.50Z" fill="#0030f0"/>
<path d="M34.00 442.50 C34.15 442.00 34.42 445.92 34.50 448.00 C34.58 450.08 34.58 453.33 34.50 455.00 C34.42 456.67 34.15 458.67 34.00 458.00 C33.85 457.33 33.60 453.58 33.60 451.00 C33.60 448.42 33.85 443.00 34.00 442.50Z" fill="#20c8d0"/>
<ellipse cx="34.10" cy="450.50" rx="0.35" ry="2.60" fill="#c09040"/>
<text x="71.50" y="416.50" font-size="8.6" font-weight="normal" fill="#231f20" stroke="#231f20" stroke-width="0.12" text-anchor="start" textLength="15.60" lengthAdjust="spacingAndGlyphs">0.45</text>
<path d="M117.40 403.12H119.80M117.40 425.10H119.80M117.40 446.89H119.80M117.40 468.86H119.80M117.40 484.57H119.80M118.40 418.48H119.80M118.40 414.61H119.80M118.40 411.87H119.80M118.40 409.74H119.80M118.40 408.00H119.80M118.40 406.53H119.80M118.40 405.25H119.80M118.40 404.13H119.80M118.40 440.33H119.80M118.40 436.49H119.80M118.40 433.77H119.80M118.40 431.66H119.80M118.40 429.93H119.80M118.40 428.47H119.80M118.40 427.21H119.80M118.40 426.09H119.80M118.40 462.25H119.80M118.40 458.38H119.80M118.40 455.63H119.80M118.40 453.50H119.80M118.40 451.76H119.80M118.40 450.29H119.80M118.40 449.02H119.80M118.40 447.90H119.80M125.25 491.20V493.60M145.13 491.20V493.60M165.29 491.20V493.60M187.45 491.20V493.60M209.51 491.20V493.60M131.23 491.20V492.70M134.74 491.20V492.70M137.22 491.20V492.70M139.15 491.20V492.70M140.72 491.20V492.70M142.05 491.20V492.70M143.21 491.20V492.70M144.22 491.20V492.70M151.20 491.20V492.70M154.75 491.20V492.70M157.27 491.20V492.70M159.22 491.20V492.70M160.82 491.20V492.70M162.17 491.20V492.70M163.34 491.20V492.70M164.37 491.20V492.70M171.96 491.20V492.70M175.86 491.20V492.70M178.63 491.20V492.70M180.78 491.20V492.70M182.53 491.20V492.70M184.01 491.20V492.70M185.30 491.20V492.70M186.43 491.20V492.70M194.09 491.20V492.70M197.97 491.20V492.70M200.73 491.20V492.70M202.87 491.20V492.70M204.62 491.20V492.70M206.09 491.20V492.70M207.37 491.20V492.70M208.50 491.20V492.70" stroke="#333" stroke-width="0.6" fill="none"/>
<path d="M119.80 491.20 V400.40 H210.60 V491.20 Z" fill="none" stroke="#231f20" stroke-width="1.4" stroke-linejoin="round"/>
<rect x="146.00" y="403.30" width="59.60" height="86.10" fill="none" stroke="#a0a0ee" stroke-width="1"/>
<path d="M139.0 452.5h0.55v0.55h-0.55zM190.1 453.0h0.55v0.55h-0.55zM161.1 447.6h0.55v0.55h-0.55zM142.4 462.8h0.55v0.55h-0.55zM176.4 451.0h0.55v0.55h-0.55zM172.4 459.2h0.55v0.55h-0.55zM165.1 443.7h0.55v0.55h-0.55zM157.5 465.3h0.55v0.55h-0.55zM192.0 446.4h0.55v0.55h-0.55zM191.5 454.4h0.55v0.55h-0.55zM164.7 443.9h0.55v0.55h-0.55zM177.1 451.0h0.55v0.55h-0.55zM146.3 439.1h0.55v0.55h-0.55zM187.8 451.4h0.55v0.55h-0.55zM166.7 447.2h0.55v0.55h-0.55zM148.6 431.3h0.55v0.55h-0.55zM133.6 450.4h0.55v0.55h-0.55zM143.8 445.9h0.55v0.55h-0.55zM132.5 442.6h0.55v0.55h-0.55zM189.2 427.0h0.55v0.55h-0.55zM188.5 449.9h0.55v0.55h-0.55zM194.7 437.7h0.55v0.55h-0.55zM137.9 453.8h0.55v0.55h-0.55zM130.5 463.2h0.55v0.55h-0.55zM151.0 449.9h0.55v0.55h-0.55zM190.2 443.3h0.55v0.55h-0.55zM133.2 454.7h0.55v0.55h-0.55zM132.4 442.1h0.55v0.55h-0.55zM192.4 455.8h0.55v0.55h-0.55zM193.1 442.2h0.55v0.55h-0.55zM132.1 442.8h0.55v0.55h-0.55zM190.9 439.8h0.55v0.55h-0.55zM142.1 449.8h0.55v0.55h-0.55zM133.0 465.5h0.55v0.55h-0.55zM190.8 433.5h0.55v0.55h-0.55zM175.9 448.2h0.55v0.55h-0.55zM142.2 461.3h0.55v0.55h-0.55zM191.8 459.1h0.55v0.55h-0.55zM160.6 436.9h0.55v0.55h-0.55zM183.5 437.8h0.55v0.55h-0.55zM188.5 460.8h0.55v0.55h-0.55zM182.1 464.0h0.55v0.55h-0.55zM133.5 454.5h0.55v0.55h-0.55zM173.3 453.9h0.55v0.55h-0.55zM183.5 465.8h0.55v0.55h-0.55zM177.0 452.1h0.55v0.55h-0.55zM181.0 452.3h0.55v0.55h-0.55zM181.7 449.9h0.55v0.55h-0.55zM131.5 459.7h0.55v0.55h-0.55zM180.2 444.9h0.55v0.55h-0.55zM174.5 447.3h0.55v0.55h-0.55zM178.0 457.7h0.55v0.55h-0.55zM175.7 446.2h0.55v0.55h-0.55zM186.0 452.0h0.55v0.55h-0.55zM181.3 439.5h0.55v0.55h-0.55zM188.3 445.4h0.55v0.55h-0.55zM178.5 444.7h0.55v0.55h-0.55zM180.7 455.6h0.55v0.55h-0.55zM149.6 452.8h0.55v0.55h-0.55zM130.3 443.7h0.55v0.55h-0.55zM171.5 458.4h0.55v0.55h-0.55zM179.2 448.8h0.55v0.55h-0.55zM194.7 439.6h0.55v0.55h-0.55zM148.2 456.6h0.55v0.55h-0.55zM191.4 464.6h0.55v0.55h-0.55zM138.2 437.1h0.55v0.55h-0.55zM137.7 440.5h0.55v0.55h-0.55zM140.3 450.8h0.55v0.55h-0.55zM150.3 443.8h0.55v0.55h-0.55zM184.3 445.9h0.55v0.55h-0.55zM147.4 459.7h0.55v0.55h-0.55zM188.1 455.8h0.55v0.55h-0.55zM185.3 454.6h0.55v0.55h-0.55zM163.3 461.8h0.55v0.55h-0.55zM193.4 456.8h0.55v0.55h-0.55zM178.2 436.0h0.55v0.55h-0.55zM164.7 466.9h0.55v0.55h-0.55zM143.4 440.5h0.55v0.55h-0.55zM194.2 455.4h0.55v0.55h-0.55zM177.4 446.7h0.55v0.55h-0.55zM140.7 435.8h0.55v0.55h-0.55zM151.1 459.8h0.55v0.55h-0.55zM191.4 444.0h0.55v0.55h-0.55zM183.8 452.1h0.55v0.55h-0.55zM143.8 439.3h0.55v0.55h-0.55zM175.8 468.2h0.55v0.55h-0.55zM193.7 447.7h0.55v0.55h-0.55zM135.6 455.8h0.55v0.55h-0.55zM133.6 455.5h0.55v0.55h-0.55zM190.4 435.3h0.55v0.55h-0.55zM172.0 439.0h0.55v0.55h-0.55zM179.0 445.3h0.55v0.55h-0.55zM180.7 448.2h0.55v0.55h-0.55zM180.0 444.5h0.55v0.55h-0.55zM131.6 449.7h0.55v0.55h-0.55zM189.7 452.6h0.55v0.55h-0.55zM162.1 435.6h0.55v0.55h-0.55zM177.9 450.5h0.55v0.55h-0.55zM188.2 456.2h0.55v0.55h-0.55zM178.4 445.0h0.55v0.55h-0.55zM182.9 444.3h0.55v0.55h-0.55zM189.1 447.1h0.55v0.55h-0.55zM190.8 444.7h0.55v0.55h-0.55zM191.2 443.0h0.55v0.55h-0.55zM165.1 423.7h0.55v0.55h-0.55zM134.7 446.2h0.55v0.55h-0.55zM164.7 448.5h0.55v0.55h-0.55zM175.3 459.5h0.55v0.55h-0.55zM186.8 453.2h0.55v0.55h-0.55zM178.9 440.0h0.55v0.55h-0.55zM172.5 458.0h0.55v0.55h-0.55zM150.9 459.4h0.55v0.55h-0.55zM147.3 439.6h0.55v0.55h-0.55zM153.9 462.6h0.55v0.55h-0.55zM190.3 460.9h0.55v0.55h-0.55zM140.1 435.6h0.55v0.55h-0.55zM189.2 446.2h0.55v0.55h-0.55zM166.4 452.6h0.55v0.55h-0.55zM144.8 446.4h0.55v0.55h-0.55zM146.7 452.4h0.55v0.55h-0.55zM135.0 453.6h0.55v0.55h-0.55zM142.3 460.0h0.55v0.55h-0.55zM190.5 448.5h0.55v0.55h-0.55zM192.6 451.7h0.55v0.55h-0.55zM136.6 455.5h0.55v0.55h-0.55zM168.3 451.3h0.55v0.55h-0.55zM140.4 448.1h0.55v0.55h-0.55zM140.5 449.1h0.55v0.55h-0.55zM149.0 460.0h0.55v0.55h-0.55zM187.4 451.3h0.55v0.55h-0.55zM195.2 444.6h0.55v0.55h-0.55zM188.2 444.9h0.55v0.55h-0.55zM136.0 449.9h0.55v0.55h-0.55zM161.7 440.7h0.55v0.55h-0.55zM178.6 448.6h0.55v0.55h-0.55zM142.7 449.3h0.55v0.55h-0.55zM166.2 444.0h0.55v0.55h-0.55zM184.8 451.4h0.55v0.55h-0.55zM188.3 450.4h0.55v0.55h-0.55zM184.4 463.3h0.55v0.55h-0.55zM171.7 448.5h0.55v0.55h-0.55zM156.9 451.4h0.55v0.55h-0.55zM131.7 455.8h0.55v0.55h-0.55zM136.7 435.0h0.55v0.55h-0.55zM194.1 425.7h0.55v0.55h-0.55zM140.5 439.9h0.55v0.55h-0.55zM172.0 457.5h0.55v0.55h-0.55zM138.0 453.7h0.55v0.55h-0.55zM155.2 443.8h0.55v0.55h-0.55zM150.0 443.7h0.55v0.55h-0.55zM191.6 445.9h0.55v0.55h-0.55zM151.2 457.6h0.55v0.55h-0.55zM136.9 444.2h0.55v0.55h-0.55zM192.5 456.8h0.55v0.55h-0.55zM133.0 455.9h0.55v0.55h-0.55zM184.6 451.0h0.55v0.55h-0.55zM145.3 457.5h0.55v0.55h-0.55zM189.4 457.8h0.55v0.55h-0.55zM195.5 453.8h0.55v0.55h-0.55zM130.2 432.1h0.55v0.55h-0.55zM134.2 445.3h0.55v0.55h-0.55zM182.9 445.1h0.55v0.55h-0.55zM189.4 443.3h0.55v0.55h-0.55zM193.6 449.2h0.55v0.55h-0.55zM160.0 445.2h0.55v0.55h-0.55zM168.7 441.6h0.55v0.55h-0.55zM170.0 456.9h0.55v0.55h-0.55zM136.0 449.1h0.55v0.55h-0.55zM146.1 444.9h0.55v0.55h-0.55zM134.1 453.3h0.55v0.55h-0.55zM161.6 442.1h0.55v0.55h-0.55zM174.0 438.1h0.55v0.55h-0.55zM166.2 453.2h0.55v0.55h-0.55zM161.6 438.8h0.55v0.55h-0.55zM185.5 443.0h0.55v0.55h-0.55zM192.3 450.8h0.55v0.55h-0.55zM148.3 455.5h0.55v0.55h-0.55zM151.4 458.0h0.55v0.55h-0.55zM191.7 450.7h0.55v0.55h-0.55zM140.2 471.2h0.55v0.55h-0.55zM130.3 448.9h0.55v0.55h-0.55zM162.2 449.6h0.55v0.55h-0.55zM190.9 452.4h0.55v0.55h-0.55zM135.2 453.5h0.55v0.55h-0.55zM130.3 444.8h0.55v0.55h-0.55zM162.3 448.1h0.55v0.55h-0.55zM169.6 447.3h0.55v0.55h-0.55zM163.2 448.5h0.55v0.55h-0.55zM172.4 449.8h0.55v0.55h-0.55zM142.2 450.8h0.55v0.55h-0.55zM156.5 449.7h0.55v0.55h-0.55zM194.8 464.4h0.55v0.55h-0.55zM155.2 445.0h0.55v0.55h-0.55zM166.1 454.7h0.55v0.55h-0.55zM132.1 457.1h0.55v0.55h-0.55zM143.8 452.4h0.55v0.55h-0.55zM191.2 455.5h0.55v0.55h-0.55zM180.2 456.6h0.55v0.55h-0.55zM157.2 449.5h0.55v0.55h-0.55zM150.9 441.6h0.55v0.55h-0.55zM168.3 461.9h0.55v0.55h-0.55zM186.3 446.3h0.55v0.55h-0.55zM159.5 442.4h0.55v0.55h-0.55zM166.1 453.2h0.55v0.55h-0.55zM131.0 465.0h0.55v0.55h-0.55zM132.6 454.6h0.55v0.55h-0.55zM177.4 454.4h0.55v0.55h-0.55zM133.3 456.9h0.55v0.55h-0.55zM167.0 450.9h0.55v0.55h-0.55zM165.6 448.9h0.55v0.55h-0.55zM176.2 448.8h0.55v0.55h-0.55zM150.2 438.5h0.55v0.55h-0.55zM183.1 442.1h0.55v0.55h-0.55zM144.6 462.4h0.55v0.55h-0.55zM171.2 454.5h0.55v0.55h-0.55zM144.4 440.1h0.55v0.55h-0.55zM179.3 437.5h0.55v0.55h-0.55zM172.1 454.4h0.55v0.55h-0.55zM177.5 452.0h0.55v0.55h-0.55zM139.9 432.2h0.55v0.55h-0.55zM179.6 441.2h0.55v0.55h-0.55zM167.1 448.4h0.55v0.55h-0.55zM162.7 453.6h0.55v0.55h-0.55zM189.1 443.9h0.55v0.55h-0.55zM167.7 444.3h0.55v0.55h-0.55zM189.9 447.7h0.55v0.55h-0.55zM135.5 451.8h0.55v0.55h-0.55zM174.6 447.2h0.55v0.55h-0.55zM145.7 462.9h0.55v0.55h-0.55zM164.7 448.0h0.55v0.55h-0.55zM193.0 441.1h0.55v0.55h-0.55zM186.6 453.5h0.55v0.55h-0.55zM149.4 454.2h0.55v0.55h-0.55zM157.0 444.1h0.55v0.55h-0.55zM151.2 432.8h0.55v0.55h-0.55zM149.0 459.6h0.55v0.55h-0.55zM176.7 441.9h0.55v0.55h-0.55zM168.1 448.3h0.55v0.55h-0.55zM193.8 448.3h0.55v0.55h-0.55zM161.6 447.7h0.55v0.55h-0.55zM159.5 441.5h0.55v0.55h-0.55zM148.5 456.0h0.55v0.55h-0.55zM157.2 442.4h0.55v0.55h-0.55zM155.3 442.2h0.55v0.55h-0.55zM133.2 446.3h0.55v0.55h-0.55zM132.0 445.0h0.55v0.55h-0.55zM174.7 448.8h0.55v0.55h-0.55zM154.3 450.5h0.55v0.55h-0.55zM163.4 454.1h0.55v0.55h-0.55zM187.3 451.4h0.55v0.55h-0.55zM195.9 440.9h0.55v0.55h-0.55zM136.0 449.0h0.55v0.55h-0.55zM159.8 448.9h0.55v0.55h-0.55zM178.0 461.0h0.55v0.55h-0.55zM173.2 449.1h0.55v0.55h-0.55zM159.0 467.7h0.55v0.55h-0.55zM137.9 435.7h0.55v0.55h-0.55zM162.2 462.4h0.55v0.55h-0.55zM190.6 443.6h0.55v0.55h-0.55zM195.9 449.4h0.55v0.55h-0.55zM144.8 446.2h0.55v0.55h-0.55zM154.8 448.1h0.55v0.55h-0.55zM135.8 452.9h0.55v0.55h-0.55zM191.5 454.4h0.55v0.55h-0.55zM181.1 438.3h0.55v0.55h-0.55zM146.6 462.7h0.55v0.55h-0.55zM155.6 454.1h0.55v0.55h-0.55zM188.8 446.2h0.55v0.55h-0.55zM170.2 455.5h0.55v0.55h-0.55zM173.9 444.7h0.55v0.55h-0.55zM151.7 453.0h0.55v0.55h-0.55zM165.4 427.4h0.55v0.55h-0.55zM192.8 452.9h0.55v0.55h-0.55zM153.3 440.3h0.55v0.55h-0.55zM173.5 434.7h0.55v0.55h-0.55zM190.5 449.7h0.55v0.55h-0.55zM139.2 448.1h0.55v0.55h-0.55zM153.1 434.9h0.55v0.55h-0.55zM159.6 443.5h0.55v0.55h-0.55zM151.1 441.7h0.55v0.55h-0.55zM157.0 437.7h0.55v0.55h-0.55zM137.3 443.7h0.55v0.55h-0.55zM192.2 456.4h0.55v0.55h-0.55zM167.7 459.9h0.55v0.55h-0.55zM187.7 439.9h0.55v0.55h-0.55zM131.7 453.0h0.55v0.55h-0.55zM176.1 457.5h0.55v0.55h-0.55zM194.1 441.7h0.55v0.55h-0.55zM179.7 458.3h0.55v0.55h-0.55zM155.4 446.6h0.55v0.55h-0.55zM139.9 461.1h0.55v0.55h-0.55zM135.3 451.5h0.55v0.55h-0.55zM193.9 453.3h0.55v0.55h-0.55zM149.7 444.9h0.55v0.55h-0.55zM182.0 441.1h0.55v0.55h-0.55zM185.7 448.5h0.55v0.55h-0.55zM187.5 446.1h0.55v0.55h-0.55zM150.9 435.5h0.55v0.55h-0.55zM161.3 436.7h0.55v0.55h-0.55zM133.9 443.9h0.55v0.55h-0.55zM179.1 453.6h0.55v0.55h-0.55zM169.1 449.2h0.55v0.55h-0.55zM180.1 444.4h0.55v0.55h-0.55zM187.3 459.1h0.55v0.55h-0.55zM180.9 457.2h0.55v0.55h-0.55zM173.1 441.9h0.55v0.55h-0.55zM171.8 450.3h0.55v0.55h-0.55zM157.9 435.4h0.55v0.55h-0.55zM143.3 457.2h0.55v0.55h-0.55zM139.7 446.6h0.55v0.55h-0.55zM147.3 462.7h0.55v0.55h-0.55zM180.4 437.8h0.55v0.55h-0.55zM156.3 447.7h0.55v0.55h-0.55zM183.8 465.1h0.55v0.55h-0.55zM175.6 452.4h0.55v0.55h-0.55zM150.6 450.5h0.55v0.55h-0.55zM172.4 453.7h0.55v0.55h-0.55zM187.0 457.7h0.55v0.55h-0.55zM181.9 449.2h0.55v0.55h-0.55zM160.8 449.2h0.55v0.55h-0.55zM168.4 446.5h0.55v0.55h-0.55zM148.0 455.3h0.55v0.55h-0.55zM139.7 434.0h0.55v0.55h-0.55zM176.1 460.9h0.55v0.55h-0.55zM142.2 446.3h0.55v0.55h-0.55zM175.9 440.5h0.55v0.55h-0.55zM190.1 451.3h0.55v0.55h-0.55zM180.8 443.9h0.55v0.55h-0.55zM171.9 455.1h0.55v0.55h-0.55zM144.9 455.5h0.55v0.55h-0.55zM182.1 436.4h0.55v0.55h-0.55zM150.8 449.8h0.55v0.55h-0.55zM188.5 447.1h0.55v0.55h-0.55zM192.1 451.6h0.55v0.55h-0.55zM166.6 453.9h0.55v0.55h-0.55zM137.4 436.3h0.55v0.55h-0.55zM137.5 439.3h0.55v0.55h-0.55zM161.7 444.8h0.55v0.55h-0.55zM150.2 454.5h0.55v0.55h-0.55zM137.8 442.9h0.55v0.55h-0.55zM177.6 439.8h0.55v0.55h-0.55zM175.6 448.8h0.55v0.55h-0.55zM147.3 455.3h0.55v0.55h-0.55zM183.9 457.6h0.55v0.55h-0.55zM162.6 438.2h0.55v0.55h-0.55zM140.4 437.7h0.55v0.55h-0.55zM157.2 448.4h0.55v0.55h-0.55zM145.7 449.0h0.55v0.55h-0.55zM133.3 442.5h0.55v0.55h-0.55zM159.6 453.9h0.55v0.55h-0.55zM154.8 441.8h0.55v0.55h-0.55zM167.1 435.9h0.55v0.55h-0.55zM135.9 431.6h0.55v0.55h-0.55zM155.8 457.7h0.55v0.55h-0.55zM152.1 442.9h0.55v0.55h-0.55zM135.8 426.4h0.55v0.55h-0.55zM195.3 455.7h0.55v0.55h-0.55zM181.9 440.3h0.55v0.55h-0.55zM189.1 430.4h0.55v0.55h-0.55zM175.3 426.0h0.55v0.55h-0.55zM188.2 465.8h0.55v0.55h-0.55zM158.6 441.1h0.55v0.55h-0.55zM192.5 435.3h0.55v0.55h-0.55zM150.3 445.1h0.55v0.55h-0.55zM159.7 445.9h0.55v0.55h-0.55zM151.0 442.0h0.55v0.55h-0.55zM169.2 455.0h0.55v0.55h-0.55zM165.6 425.2h0.55v0.55h-0.55zM188.3 444.0h0.55v0.55h-0.55zM135.5 446.9h0.55v0.55h-0.55zM167.2 438.8h0.55v0.55h-0.55zM187.9 428.3h0.55v0.55h-0.55zM131.4 451.9h0.55v0.55h-0.55zM192.2 455.9h0.55v0.55h-0.55zM142.3 442.8h0.55v0.55h-0.55zM142.5 452.3h0.55v0.55h-0.55zM144.1 444.7h0.55v0.55h-0.55zM173.9 465.7h0.55v0.55h-0.55zM169.5 457.9h0.55v0.55h-0.55zM170.7 445.8h0.55v0.55h-0.55zM177.5 448.7h0.55v0.55h-0.55zM181.3 447.5h0.55v0.55h-0.55zM132.5 442.7h0.55v0.55h-0.55zM146.9 436.8h0.55v0.55h-0.55zM190.5 436.1h0.55v0.55h-0.55zM155.1 467.1h0.55v0.55h-0.55zM167.7 454.3h0.55v0.55h-0.55zM175.7 441.9h0.55v0.55h-0.55zM153.3 459.4h0.55v0.55h-0.55zM192.3 447.0h0.55v0.55h-0.55zM163.5 444.0h0.55v0.55h-0.55zM184.1 450.4h0.55v0.55h-0.55zM151.8 458.3h0.55v0.55h-0.55zM137.4 447.7h0.55v0.55h-0.55zM159.9 434.2h0.55v0.55h-0.55zM155.1 442.1h0.55v0.55h-0.55zM133.8 455.3h0.55v0.55h-0.55zM190.0 454.2h0.55v0.55h-0.55zM192.2 446.5h0.55v0.55h-0.55zM168.1 463.1h0.55v0.55h-0.55zM163.0 445.6h0.55v0.55h-0.55zM155.1 453.6h0.55v0.55h-0.55zM177.3 435.9h0.55v0.55h-0.55zM140.2 452.7h0.55v0.55h-0.55zM193.9 435.6h0.55v0.55h-0.55zM189.1 432.2h0.55v0.55h-0.55zM145.0 447.3h0.55v0.55h-0.55zM189.2 447.1h0.55v0.55h-0.55zM175.5 444.1h0.55v0.55h-0.55zM132.8 437.5h0.55v0.55h-0.55zM135.4 443.3h0.55v0.55h-0.55zM144.0 439.9h0.55v0.55h-0.55zM136.8 450.7h0.55v0.55h-0.55zM140.6 452.9h0.55v0.55h-0.55zM186.3 443.7h0.55v0.55h-0.55zM145.4 456.8h0.55v0.55h-0.55zM138.0 443.8h0.55v0.55h-0.55zM158.3 454.7h0.55v0.55h-0.55zM184.2 440.0h0.55v0.55h-0.55zM159.3 436.9h0.55v0.55h-0.55zM184.7 445.1h0.55v0.55h-0.55zM190.5 447.3h0.55v0.55h-0.55zM131.2 442.3h0.55v0.55h-0.55zM187.1 454.7h0.55v0.55h-0.55zM164.5 445.0h0.55v0.55h-0.55zM190.2 444.0h0.55v0.55h-0.55zM134.6 451.4h0.55v0.55h-0.55zM140.5 429.3h0.55v0.55h-0.55zM188.0 448.5h0.55v0.55h-0.55zM138.9 436.3h0.55v0.55h-0.55zM142.9 451.6h0.55v0.55h-0.55zM161.9 452.5h0.55v0.55h-0.55zM143.5 463.4h0.55v0.55h-0.55zM173.1 464.5h0.55v0.55h-0.55zM149.6 452.2h0.55v0.55h-0.55zM162.3 446.2h0.55v0.55h-0.55zM144.9 447.6h0.55v0.55h-0.55zM147.1 437.7h0.55v0.55h-0.55zM163.6 462.4h0.55v0.55h-0.55zM142.6 442.9h0.55v0.55h-0.55zM150.9 441.4h0.55v0.55h-0.55zM178.3 440.4h0.55v0.55h-0.55zM135.8 446.3h0.55v0.55h-0.55zM180.0 440.3h0.55v0.55h-0.55zM174.9 443.1h0.55v0.55h-0.55zM131.1 450.9h0.55v0.55h-0.55zM142.9 435.7h0.55v0.55h-0.55zM172.3 446.7h0.55v0.55h-0.55zM162.2 450.1h0.55v0.55h-0.55zM137.2 460.0h0.55v0.55h-0.55zM175.8 456.9h0.55v0.55h-0.55zM174.9 443.5h0.55v0.55h-0.55zM164.3 462.9h0.55v0.55h-0.55zM188.0 452.8h0.55v0.55h-0.55zM195.4 435.3h0.55v0.55h-0.55zM175.1 455.9h0.55v0.55h-0.55zM174.6 448.3h0.55v0.55h-0.55zM182.8 446.0h0.55v0.55h-0.55zM158.7 436.8h0.55v0.55h-0.55zM135.3 453.4h0.55v0.55h-0.55zM165.8 440.0h0.55v0.55h-0.55zM131.2 452.5h0.55v0.55h-0.55zM184.3 443.0h0.55v0.55h-0.55zM133.1 447.8h0.55v0.55h-0.55zM185.3 459.4h0.55v0.55h-0.55zM135.9 443.6h0.55v0.55h-0.55zM133.9 439.9h0.55v0.55h-0.55zM168.3 448.8h0.55v0.55h-0.55zM189.1 458.5h0.55v0.55h-0.55zM156.2 451.3h0.55v0.55h-0.55zM166.8 453.4h0.55v0.55h-0.55zM138.6 471.8h0.55v0.55h-0.55zM167.3 457.7h0.55v0.55h-0.55zM172.3 440.7h0.55v0.55h-0.55zM142.9 452.4h0.55v0.55h-0.55zM167.3 438.0h0.55v0.55h-0.55zM131.1 447.2h0.55v0.55h-0.55zM183.6 451.9h0.55v0.55h-0.55zM191.6 460.2h0.55v0.55h-0.55zM161.2 446.1h0.55v0.55h-0.55zM181.9 448.4h0.55v0.55h-0.55zM176.1 462.7h0.55v0.55h-0.55zM146.3 458.2h0.55v0.55h-0.55zM134.9 444.6h0.55v0.55h-0.55zM181.2 437.1h0.55v0.55h-0.55zM177.9 438.6h0.55v0.55h-0.55zM174.8 440.6h0.55v0.55h-0.55zM151.5 463.2h0.55v0.55h-0.55zM181.3 450.7h0.55v0.55h-0.55zM186.5 445.2h0.55v0.55h-0.55zM193.9 442.6h0.55v0.55h-0.55zM170.9 445.4h0.55v0.55h-0.55zM147.8 439.8h0.55v0.55h-0.55zM144.2 435.9h0.55v0.55h-0.55zM156.7 445.9h0.55v0.55h-0.55zM130.1 447.5h0.55v0.55h-0.55zM132.4 440.4h0.55v0.55h-0.55zM179.2 440.4h0.55v0.55h-0.55zM192.1 446.4h0.55v0.55h-0.55zM133.4 454.3h0.55v0.55h-0.55zM136.3 435.6h0.55v0.55h-0.55zM169.2 442.3h0.55v0.55h-0.55zM167.9 454.9h0.55v0.55h-0.55zM140.9 446.1h0.55v0.55h-0.55zM167.1 459.5h0.55v0.55h-0.55zM142.3 448.1h0.55v0.55h-0.55zM155.0 455.0h0.55v0.55h-0.55zM184.1 447.5h0.55v0.55h-0.55zM189.4 458.9h0.55v0.55h-0.55zM157.1 455.0h0.55v0.55h-0.55zM152.7 456.6h0.55v0.55h-0.55zM179.2 450.8h0.55v0.55h-0.55zM172.6 446.5h0.55v0.55h-0.55zM148.6 442.8h0.55v0.55h-0.55zM195.6 443.6h0.55v0.55h-0.55zM155.6 442.3h0.55v0.55h-0.55zM182.7 438.3h0.55v0.55h-0.55zM131.6 451.7h0.55v0.55h-0.55zM185.6 446.1h0.55v0.55h-0.55zM149.7 459.6h0.55v0.55h-0.55zM178.0 442.2h0.55v0.55h-0.55zM154.8 431.6h0.55v0.55h-0.55zM165.9 443.0h0.55v0.55h-0.55zM187.4 438.8h0.55v0.55h-0.55zM132.9 458.7h0.55v0.55h-0.55zM135.5 457.2h0.55v0.55h-0.55zM148.3 447.6h0.55v0.55h-0.55zM143.0 444.4h0.55v0.55h-0.55zM189.3 459.5h0.55v0.55h-0.55zM157.8 445.9h0.55v0.55h-0.55zM136.4 438.5h0.55v0.55h-0.55zM153.3 461.1h0.55v0.55h-0.55zM170.6 444.0h0.55v0.55h-0.55zM179.5 455.5h0.55v0.55h-0.55zM136.4 446.4h0.55v0.55h-0.55zM162.8 442.9h0.55v0.55h-0.55zM137.5 448.7h0.55v0.55h-0.55zM190.6 455.3h0.55v0.55h-0.55zM152.1 444.0h0.55v0.55h-0.55zM148.2 457.8h0.55v0.55h-0.55zM163.4 448.9h0.55v0.55h-0.55zM159.3 438.5h0.55v0.55h-0.55zM190.1 446.1h0.55v0.55h-0.55zM152.3 455.7h0.55v0.55h-0.55zM193.5 440.9h0.55v0.55h-0.55zM156.1 436.7h0.55v0.55h-0.55zM180.5 439.7h0.55v0.55h-0.55zM173.2 444.3h0.55v0.55h-0.55zM161.7 453.6h0.55v0.55h-0.55zM150.6 435.2h0.55v0.55h-0.55zM167.0 444.1h0.55v0.55h-0.55zM172.0 442.8h0.55v0.55h-0.55zM180.3 446.8h0.55v0.55h-0.55zM189.6 444.5h0.55v0.55h-0.55zM146.2 435.7h0.55v0.55h-0.55zM174.7 430.9h0.55v0.55h-0.55zM144.4 441.8h0.55v0.55h-0.55zM145.0 465.1h0.55v0.55h-0.55zM182.0 432.8h0.55v0.55h-0.55zM149.7 446.5h0.55v0.55h-0.55zM185.0 459.8h0.55v0.55h-0.55zM190.0 455.9h0.55v0.55h-0.55zM193.4 435.1h0.55v0.55h-0.55zM148.3 454.6h0.55v0.55h-0.55zM168.5 456.7h0.55v0.55h-0.55zM151.8 442.8h0.55v0.55h-0.55zM152.8 438.4h0.55v0.55h-0.55zM142.0 438.0h0.55v0.55h-0.55zM175.2 444.8h0.55v0.55h-0.55zM189.1 454.3h0.55v0.55h-0.55zM176.9 430.0h0.55v0.55h-0.55zM190.2 435.2h0.55v0.55h-0.55zM175.4 450.2h0.55v0.55h-0.55zM190.3 461.7h0.55v0.55h-0.55zM147.3 443.6h0.55v0.55h-0.55zM182.3 439.9h0.55v0.55h-0.55zM169.6 440.1h0.55v0.55h-0.55zM166.2 455.0h0.55v0.55h-0.55zM144.0 448.3h0.55v0.55h-0.55zM140.6 447.5h0.55v0.55h-0.55zM181.9 446.4h0.55v0.55h-0.55zM170.4 458.4h0.55v0.55h-0.55zM172.5 454.2h0.55v0.55h-0.55zM142.3 446.3h0.55v0.55h-0.55zM147.4 454.9h0.55v0.55h-0.55zM160.9 448.6h0.55v0.55h-0.55zM134.3 448.1h0.55v0.55h-0.55zM168.3 438.7h0.55v0.55h-0.55zM146.7 458.6h0.55v0.55h-0.55zM183.1 425.5h0.55v0.55h-0.55zM158.0 437.2h0.55v0.55h-0.55zM194.9 443.7h0.55v0.55h-0.55zM177.8 429.6h0.55v0.55h-0.55zM135.5 456.9h0.55v0.55h-0.55zM177.7 454.3h0.55v0.55h-0.55zM135.7 456.0h0.55v0.55h-0.55zM139.0 443.3h0.55v0.55h-0.55zM167.3 438.2h0.55v0.55h-0.55zM153.4 447.8h0.55v0.55h-0.55zM149.6 453.9h0.55v0.55h-0.55zM159.1 455.2h0.55v0.55h-0.55zM170.1 445.5h0.55v0.55h-0.55zM179.1 453.7h0.55v0.55h-0.55zM146.3 452.4h0.55v0.55h-0.55zM174.3 443.7h0.55v0.55h-0.55zM142.1 444.5h0.55v0.55h-0.55zM181.0 447.2h0.55v0.55h-0.55zM142.4 450.0h0.55v0.55h-0.55zM153.7 447.0h0.55v0.55h-0.55zM161.5 446.4h0.55v0.55h-0.55zM158.0 452.7h0.55v0.55h-0.55zM164.1 458.7h0.55v0.55h-0.55zM162.4 459.6h0.55v0.55h-0.55zM164.9 448.6h0.55v0.55h-0.55zM178.5 451.0h0.55v0.55h-0.55zM144.0 439.9h0.55v0.55h-0.55zM190.5 451.8h0.55v0.55h-0.55zM187.3 433.4h0.55v0.55h-0.55zM172.0 438.0h0.55v0.55h-0.55zM145.3 447.4h0.55v0.55h-0.55zM144.9 448.2h0.55v0.55h-0.55zM133.0 453.1h0.55v0.55h-0.55zM131.2 446.8h0.55v0.55h-0.55zM173.5 447.2h0.55v0.55h-0.55zM167.1 444.0h0.55v0.55h-0.55zM150.3 447.1h0.55v0.55h-0.55zM164.7 451.4h0.55v0.55h-0.55zM146.2 448.0h0.55v0.55h-0.55zM151.8 453.1h0.55v0.55h-0.55zM133.2 451.5h0.55v0.55h-0.55zM173.4 435.6h0.55v0.55h-0.55zM175.8 449.4h0.55v0.55h-0.55zM168.2 454.0h0.55v0.55h-0.55zM147.9 465.8h0.55v0.55h-0.55zM141.8 443.0h0.55v0.55h-0.55zM157.5 432.3h0.55v0.55h-0.55zM184.4 449.1h0.55v0.55h-0.55zM166.9 455.5h0.55v0.55h-0.55zM158.3 456.4h0.55v0.55h-0.55zM178.3 444.9h0.55v0.55h-0.55zM194.3 450.8h0.55v0.55h-0.55zM136.2 441.3h0.55v0.55h-0.55zM173.0 447.9h0.55v0.55h-0.55zM168.6 462.1h0.55v0.55h-0.55zM178.7 450.7h0.55v0.55h-0.55zM131.5 429.1h0.55v0.55h-0.55zM186.6 455.2h0.55v0.55h-0.55zM134.4 441.3h0.55v0.55h-0.55zM132.5 444.1h0.55v0.55h-0.55zM192.7 458.1h0.55v0.55h-0.55zM146.4 441.2h0.55v0.55h-0.55zM144.4 457.8h0.55v0.55h-0.55zM148.1 453.6h0.55v0.55h-0.55zM149.3 450.0h0.55v0.55h-0.55zM133.0 444.7h0.55v0.55h-0.55zM156.5 449.9h0.55v0.55h-0.55zM136.7 446.1h0.55v0.55h-0.55zM158.2 451.3h0.55v0.55h-0.55zM156.9 451.9h0.55v0.55h-0.55zM155.8 449.2h0.55v0.55h-0.55zM151.8 454.2h0.55v0.55h-0.55zM170.5 456.5h0.55v0.55h-0.55zM163.2 452.9h0.55v0.55h-0.55zM174.4 446.1h0.55v0.55h-0.55zM173.9 440.7h0.55v0.55h-0.55zM192.1 462.2h0.55v0.55h-0.55zM134.7 447.1h0.55v0.55h-0.55zM184.7 438.4h0.55v0.55h-0.55zM135.1 448.0h0.55v0.55h-0.55zM185.8 437.0h0.55v0.55h-0.55zM138.5 453.5h0.55v0.55h-0.55zM162.1 445.0h0.55v0.55h-0.55zM130.5 450.0h0.55v0.55h-0.55zM191.9 443.6h0.55v0.55h-0.55zM138.4 449.2h0.55v0.55h-0.55zM172.8 445.3h0.55v0.55h-0.55zM152.6 440.7h0.55v0.55h-0.55zM131.6 470.1h0.55v0.55h-0.55zM190.9 432.9h0.55v0.55h-0.55zM154.5 442.3h0.55v0.55h-0.55zM190.2 435.8h0.55v0.55h-0.55zM145.0 457.1h0.55v0.55h-0.55zM193.6 441.8h0.55v0.55h-0.55zM165.0 440.1h0.55v0.55h-0.55zM147.3 448.6h0.55v0.55h-0.55zM152.1 434.4h0.55v0.55h-0.55zM141.8 449.9h0.55v0.55h-0.55zM132.9 448.6h0.55v0.55h-0.55zM180.4 449.9h0.55v0.55h-0.55zM158.7 450.3h0.55v0.55h-0.55zM164.3 451.5h0.55v0.55h-0.55zM160.5 458.6h0.55v0.55h-0.55zM192.6 456.3h0.55v0.55h-0.55zM137.2 450.2h0.55v0.55h-0.55zM159.9 451.5h0.55v0.55h-0.55zM143.7 440.6h0.55v0.55h-0.55zM141.4 454.0h0.55v0.55h-0.55zM135.2 445.4h0.55v0.55h-0.55zM137.3 456.4h0.55v0.55h-0.55zM179.4 452.3h0.55v0.55h-0.55zM137.4 462.9h0.55v0.55h-0.55zM148.1 457.3h0.55v0.55h-0.55zM181.7 449.1h0.55v0.55h-0.55zM131.5 447.3h0.55v0.55h-0.55zM136.8 451.4h0.55v0.55h-0.55zM175.2 442.8h0.55v0.55h-0.55zM181.1 441.6h0.55v0.55h-0.55zM157.3 458.1h0.55v0.55h-0.55zM138.8 454.0h0.55v0.55h-0.55zM160.6 437.7h0.55v0.55h-0.55zM186.9 456.0h0.55v0.55h-0.55zM131.7 458.8h0.55v0.55h-0.55zM131.2 450.3h0.55v0.55h-0.55zM138.0 438.5h0.55v0.55h-0.55zM159.3 452.2h0.55v0.55h-0.55zM183.5 436.7h0.55v0.55h-0.55zM188.2 455.1h0.55v0.55h-0.55zM182.7 462.0h0.55v0.55h-0.55zM177.9 440.6h0.55v0.55h-0.55zM141.1 454.0h0.55v0.55h-0.55zM156.2 456.3h0.55v0.55h-0.55zM179.2 449.9h0.55v0.55h-0.55zM170.2 429.7h0.55v0.55h-0.55zM155.4 451.7h0.55v0.55h-0.55zM153.3 456.1h0.55v0.55h-0.55zM181.9 454.7h0.55v0.55h-0.55zM165.6 433.2h0.55v0.55h-0.55zM151.9 438.7h0.55v0.55h-0.55zM184.7 452.3h0.55v0.55h-0.55zM140.8 446.6h0.55v0.55h-0.55zM146.6 448.3h0.55v0.55h-0.55zM157.2 457.1h0.55v0.55h-0.55zM137.1 453.2h0.55v0.55h-0.55zM169.4 441.8h0.55v0.55h-0.55zM140.6 441.1h0.55v0.55h-0.55zM173.0 456.8h0.55v0.55h-0.55zM138.9 458.7h0.55v0.55h-0.55zM151.2 446.7h0.55v0.55h-0.55zM148.5 449.5h0.55v0.55h-0.55zM189.3 437.5h0.55v0.55h-0.55zM168.4 450.9h0.55v0.55h-0.55zM165.4 442.0h0.55v0.55h-0.55zM149.0 442.1h0.55v0.55h-0.55zM145.0 451.6h0.55v0.55h-0.55zM156.8 439.7h0.55v0.55h-0.55zM175.1 452.1h0.55v0.55h-0.55zM139.9 437.7h0.55v0.55h-0.55zM135.6 451.2h0.55v0.55h-0.55zM179.8 442.5h0.55v0.55h-0.55zM171.9 454.0h0.55v0.55h-0.55zM180.8 458.0h0.55v0.55h-0.55zM136.5 454.1h0.55v0.55h-0.55zM156.8 443.3h0.55v0.55h-0.55zM185.2 454.2h0.55v0.55h-0.55zM191.9 445.9h0.55v0.55h-0.55zM131.9 443.4h0.55v0.55h-0.55zM132.4 458.0h0.55v0.55h-0.55zM130.1 444.5h0.55v0.55h-0.55zM190.3 454.1h0.55v0.55h-0.55zM189.3 443.2h0.55v0.55h-0.55zM155.1 451.8h0.55v0.55h-0.55zM149.1 439.5h0.55v0.55h-0.55zM174.6 448.5h0.55v0.55h-0.55zM134.7 449.1h0.55v0.55h-0.55zM188.7 459.9h0.55v0.55h-0.55zM180.6 446.1h0.55v0.55h-0.55zM167.1 448.9h0.55v0.55h-0.55zM133.7 439.0h0.55v0.55h-0.55zM133.8 458.5h0.55v0.55h-0.55zM182.4 452.2h0.55v0.55h-0.55zM195.9 443.5h0.55v0.55h-0.55zM153.1 462.4h0.55v0.55h-0.55zM184.8 455.2h0.55v0.55h-0.55zM184.9 434.9h0.55v0.55h-0.55zM165.9 447.2h0.55v0.55h-0.55zM146.1 441.1h0.55v0.55h-0.55zM156.6 449.5h0.55v0.55h-0.55zM149.6 450.2h0.55v0.55h-0.55zM176.9 456.5h0.55v0.55h-0.55zM190.3 439.0h0.55v0.55h-0.55zM181.2 436.1h0.55v0.55h-0.55zM169.4 455.5h0.55v0.55h-0.55zM159.8 448.1h0.55v0.55h-0.55zM166.0 452.4h0.55v0.55h-0.55zM148.5 441.9h0.55v0.55h-0.55zM189.6 462.0h0.55v0.55h-0.55zM181.3 453.2h0.55v0.55h-0.55zM191.8 450.4h0.55v0.55h-0.55zM142.8 452.8h0.55v0.55h-0.55zM188.8 457.6h0.55v0.55h-0.55zM149.6 460.6h0.55v0.55h-0.55zM147.0 449.8h0.55v0.55h-0.55zM178.8 456.7h0.55v0.55h-0.55zM135.5 446.4h0.55v0.55h-0.55zM182.6 442.1h0.55v0.55h-0.55zM169.1 442.6h0.55v0.55h-0.55zM142.7 452.2h0.55v0.55h-0.55zM165.9 439.9h0.55v0.55h-0.55zM158.4 444.4h0.55v0.55h-0.55zM153.1 441.9h0.55v0.55h-0.55zM195.5 443.7h0.55v0.55h-0.55zM147.6 441.6h0.55v0.55h-0.55zM137.0 455.9h0.55v0.55h-0.55zM145.2 458.7h0.55v0.55h-0.55zM156.2 435.4h0.55v0.55h-0.55zM149.4 433.4h0.55v0.55h-0.55zM188.0 447.7h0.55v0.55h-0.55zM149.1 442.0h0.55v0.55h-0.55zM143.5 454.6h0.55v0.55h-0.55zM180.5 439.9h0.55v0.55h-0.55zM177.5 453.8h0.55v0.55h-0.55zM186.1 449.4h0.55v0.55h-0.55zM167.4 451.8h0.55v0.55h-0.55zM139.6 452.9h0.55v0.55h-0.55zM173.3 463.9h0.55v0.55h-0.55zM178.2 443.0h0.55v0.55h-0.55zM162.0 471.8h0.55v0.55h-0.55zM163.5 452.9h0.55v0.55h-0.55zM148.5 454.2h0.55v0.55h-0.55zM137.5 449.5h0.55v0.55h-0.55zM180.1 445.7h0.55v0.55h-0.55zM130.8 445.4h0.55v0.55h-0.55zM192.9 468.8h0.55v0.55h-0.55zM165.8 453.3h0.55v0.55h-0.55zM144.8 450.2h0.55v0.55h-0.55zM168.2 466.2h0.55v0.55h-0.55zM161.0 449.8h0.55v0.55h-0.55zM166.5 445.1h0.55v0.55h-0.55zM176.8 457.2h0.55v0.55h-0.55zM145.2 441.2h0.55v0.55h-0.55zM145.6 457.7h0.55v0.55h-0.55zM141.0 452.1h0.55v0.55h-0.55zM160.9 441.6h0.55v0.55h-0.55zM178.5 442.8h0.55v0.55h-0.55zM190.2 444.8h0.55v0.55h-0.55zM188.2 441.9h0.55v0.55h-0.55zM192.9 449.5h0.55v0.55h-0.55zM190.1 443.4h0.55v0.55h-0.55zM139.1 453.3h0.55v0.55h-0.55zM149.2 443.4h0.55v0.55h-0.55zM177.2 426.4h0.55v0.55h-0.55zM184.3 443.3h0.55v0.55h-0.55zM152.6 445.7h0.55v0.55h-0.55zM149.7 448.6h0.55v0.55h-0.55zM168.9 458.6h0.55v0.55h-0.55zM154.5 457.2h0.55v0.55h-0.55zM156.6 445.6h0.55v0.55h-0.55zM150.7 449.3h0.55v0.55h-0.55zM133.4 427.4h0.55v0.55h-0.55zM189.3 448.2h0.55v0.55h-0.55zM177.9 458.3h0.55v0.55h-0.55zM143.5 461.5h0.55v0.55h-0.55zM189.8 458.6h0.55v0.55h-0.55zM144.8 450.4h0.55v0.55h-0.55zM188.9 446.1h0.55v0.55h-0.55zM150.4 447.4h0.55v0.55h-0.55zM169.4 437.3h0.55v0.55h-0.55zM156.4 441.1h0.55v0.55h-0.55zM176.7 455.2h0.55v0.55h-0.55zM170.0 443.4h0.55v0.55h-0.55zM140.5 451.5h0.55v0.55h-0.55zM155.6 443.8h0.55v0.55h-0.55zM183.2 447.7h0.55v0.55h-0.55zM189.1 457.7h0.55v0.55h-0.55zM188.4 454.3h0.55v0.55h-0.55zM187.6 448.2h0.55v0.55h-0.55zM151.7 465.7h0.55v0.55h-0.55zM180.9 454.4h0.55v0.55h-0.55zM170.4 457.6h0.55v0.55h-0.55zM184.4 445.9h0.55v0.55h-0.55zM148.6 444.1h0.55v0.55h-0.55zM139.6 444.9h0.55v0.55h-0.55zM191.9 439.1h0.55v0.55h-0.55zM143.7 445.4h0.55v0.55h-0.55zM156.6 451.1h0.55v0.55h-0.55zM195.3 439.2h0.55v0.55h-0.55zM133.8 446.6h0.55v0.55h-0.55zM175.3 441.3h0.55v0.55h-0.55zM149.5 435.6h0.55v0.55h-0.55zM165.7 439.4h0.55v0.55h-0.55zM142.4 453.6h0.55v0.55h-0.55zM141.5 457.0h0.55v0.55h-0.55zM160.6 438.0h0.55v0.55h-0.55zM153.7 457.8h0.55v0.55h-0.55zM176.8 447.0h0.55v0.55h-0.55zM185.6 450.6h0.55v0.55h-0.55zM151.4 453.0h0.55v0.55h-0.55zM135.3 458.9h0.55v0.55h-0.55zM187.5 441.9h0.55v0.55h-0.55zM183.3 453.9h0.55v0.55h-0.55zM156.7 447.6h0.55v0.55h-0.55zM187.9 432.5h0.55v0.55h-0.55zM170.3 440.8h0.55v0.55h-0.55zM136.9 451.2h0.55v0.55h-0.55zM133.2 454.5h0.55v0.55h-0.55zM140.9 446.7h0.55v0.55h-0.55zM137.5 462.2h0.55v0.55h-0.55zM176.8 448.7h0.55v0.55h-0.55zM169.7 443.2h0.55v0.55h-0.55zM167.7 442.6h0.55v0.55h-0.55zM149.9 435.2h0.55v0.55h-0.55zM170.6 448.5h0.55v0.55h-0.55zM189.6 448.3h0.55v0.55h-0.55zM182.9 457.4h0.55v0.55h-0.55zM191.4 445.4h0.55v0.55h-0.55zM134.3 443.7h0.55v0.55h-0.55zM144.3 456.2h0.55v0.55h-0.55zM182.2 452.2h0.55v0.55h-0.55zM164.4 443.5h0.55v0.55h-0.55zM150.9 444.7h0.55v0.55h-0.55zM158.5 438.8h0.55v0.55h-0.55zM168.4 451.6h0.55v0.55h-0.55zM168.3 437.0h0.55v0.55h-0.55zM164.0 455.5h0.55v0.55h-0.55zM135.9 450.2h0.55v0.55h-0.55zM187.6 449.8h0.55v0.55h-0.55zM178.2 466.9h0.55v0.55h-0.55zM131.2 459.7h0.55v0.55h-0.55zM169.3 442.4h0.55v0.55h-0.55zM184.7 456.5h0.55v0.55h-0.55zM186.9 462.4h0.55v0.55h-0.55zM181.7 441.5h0.55v0.55h-0.55zM166.4 446.8h0.55v0.55h-0.55zM185.0 452.0h0.55v0.55h-0.55zM166.7 431.6h0.55v0.55h-0.55zM155.3 441.5h0.55v0.55h-0.55zM150.7 456.7h0.55v0.55h-0.55zM153.5 447.5h0.55v0.55h-0.55zM154.2 454.3h0.55v0.55h-0.55zM160.1 430.6h0.55v0.55h-0.55zM181.4 467.1h0.55v0.55h-0.55zM185.0 459.1h0.55v0.55h-0.55zM180.2 437.8h0.55v0.55h-0.55zM160.6 438.1h0.55v0.55h-0.55zM179.2 448.7h0.55v0.55h-0.55zM159.8 456.9h0.55v0.55h-0.55zM132.6 443.8h0.55v0.55h-0.55zM192.4 449.0h0.55v0.55h-0.55zM182.8 444.0h0.55v0.55h-0.55zM135.8 429.4h0.55v0.55h-0.55zM190.2 456.7h0.55v0.55h-0.55zM145.8 435.8h0.55v0.55h-0.55zM158.5 433.8h0.55v0.55h-0.55zM154.9 438.5h0.55v0.55h-0.55zM171.4 452.4h0.55v0.55h-0.55zM147.0 450.6h0.55v0.55h-0.55zM192.7 451.9h0.55v0.55h-0.55zM139.6 472.7h0.55v0.55h-0.55zM183.9 457.8h0.55v0.55h-0.55zM167.5 451.1h0.55v0.55h-0.55zM141.9 456.4h0.55v0.55h-0.55zM183.7 457.4h0.55v0.55h-0.55zM183.5 440.9h0.55v0.55h-0.55zM191.4 444.0h0.55v0.55h-0.55zM152.5 450.7h0.55v0.55h-0.55zM173.0 435.3h0.55v0.55h-0.55zM182.1 459.5h0.55v0.55h-0.55zM189.2 451.7h0.55v0.55h-0.55zM187.5 444.8h0.55v0.55h-0.55zM183.0 449.3h0.55v0.55h-0.55zM192.3 458.6h0.55v0.55h-0.55zM193.0 449.7h0.55v0.55h-0.55zM165.3 448.1h0.55v0.55h-0.55zM167.5 437.3h0.55v0.55h-0.55zM181.5 460.0h0.55v0.55h-0.55zM142.7 449.2h0.55v0.55h-0.55zM160.4 441.3h0.55v0.55h-0.55zM141.6 453.8h0.55v0.55h-0.55zM165.3 451.6h0.55v0.55h-0.55zM182.4 453.7h0.55v0.55h-0.55zM150.7 455.5h0.55v0.55h-0.55zM137.7 442.3h0.55v0.55h-0.55zM150.9 444.4h0.55v0.55h-0.55zM172.6 446.4h0.55v0.55h-0.55zM178.6 449.8h0.55v0.55h-0.55zM149.6 454.8h0.55v0.55h-0.55zM178.0 447.6h0.55v0.55h-0.55zM136.0 449.1h0.55v0.55h-0.55zM173.7 450.6h0.55v0.55h-0.55zM172.4 445.4h0.55v0.55h-0.55zM153.7 432.5h0.55v0.55h-0.55zM153.1 449.3h0.55v0.55h-0.55zM155.8 451.0h0.55v0.55h-0.55zM182.0 442.6h0.55v0.55h-0.55zM146.5 444.9h0.55v0.55h-0.55zM137.1 442.2h0.55v0.55h-0.55zM150.8 443.2h0.55v0.55h-0.55zM185.8 461.9h0.55v0.55h-0.55zM173.1 444.1h0.55v0.55h-0.55zM182.4 451.9h0.55v0.55h-0.55zM183.5 459.1h0.55v0.55h-0.55zM155.6 447.0h0.55v0.55h-0.55zM176.8 459.4h0.55v0.55h-0.55zM139.6 454.6h0.55v0.55h-0.55zM152.8 441.1h0.55v0.55h-0.55zM133.0 442.8h0.55v0.55h-0.55zM184.8 450.5h0.55v0.55h-0.55zM133.4 458.9h0.55v0.55h-0.55zM187.6 439.1h0.55v0.55h-0.55zM168.0 457.3h0.55v0.55h-0.55zM161.5 444.2h0.55v0.55h-0.55zM157.7 453.7h0.55v0.55h-0.55zM180.5 460.5h0.55v0.55h-0.55zM156.7 446.5h0.55v0.55h-0.55zM156.9 444.5h0.55v0.55h-0.55zM143.9 447.1h0.55v0.55h-0.55zM146.9 432.3h0.55v0.55h-0.55zM148.8 445.9h0.55v0.55h-0.55zM184.0 458.7h0.55v0.55h-0.55zM161.0 458.6h0.55v0.55h-0.55zM173.3 450.6h0.55v0.55h-0.55zM145.0 457.1h0.55v0.55h-0.55zM133.1 462.2h0.55v0.55h-0.55zM192.4 462.7h0.55v0.55h-0.55zM141.4 445.4h0.55v0.55h-0.55zM131.0 435.5h0.55v0.55h-0.55zM162.2 441.5h0.55v0.55h-0.55zM171.1 458.1h0.55v0.55h-0.55zM189.6 451.2h0.55v0.55h-0.55zM134.4 462.6h0.55v0.55h-0.55zM180.2 436.5h0.55v0.55h-0.55zM161.5 436.3h0.55v0.55h-0.55zM156.0 455.9h0.55v0.55h-0.55zM162.4 442.5h0.55v0.55h-0.55zM159.2 444.9h0.55v0.55h-0.55zM178.9 462.8h0.55v0.55h-0.55zM169.0 444.9h0.55v0.55h-0.55zM178.3 448.9h0.55v0.55h-0.55zM155.1 432.6h0.55v0.55h-0.55zM150.9 454.6h0.55v0.55h-0.55zM146.4 432.0h0.55v0.55h-0.55zM190.7 443.7h0.55v0.55h-0.55zM180.0 441.4h0.55v0.55h-0.55zM192.6 455.9h0.55v0.55h-0.55zM151.8 450.8h0.55v0.55h-0.55zM138.1 444.5h0.55v0.55h-0.55zM193.3 437.7h0.55v0.55h-0.55zM168.3 448.9h0.55v0.55h-0.55zM149.7 456.0h0.55v0.55h-0.55zM193.9 446.7h0.55v0.55h-0.55zM173.6 448.8h0.55v0.55h-0.55zM184.8 440.2h0.55v0.55h-0.55zM141.1 447.2h0.55v0.55h-0.55zM134.5 445.8h0.55v0.55h-0.55zM144.2 449.4h0.55v0.55h-0.55zM146.1 467.6h0.55v0.55h-0.55zM187.1 446.9h0.55v0.55h-0.55zM186.2 448.6h0.55v0.55h-0.55zM175.7 454.3h0.55v0.55h-0.55zM167.6 450.4h0.55v0.55h-0.55zM191.5 445.0h0.55v0.55h-0.55zM187.4 439.1h0.55v0.55h-0.55zM168.7 443.4h0.55v0.55h-0.55zM184.1 442.7h0.55v0.55h-0.55zM156.0 459.9h0.55v0.55h-0.55zM151.7 446.1h0.55v0.55h-0.55zM148.5 457.0h0.55v0.55h-0.55zM190.5 454.2h0.55v0.55h-0.55zM167.0 450.6h0.55v0.55h-0.55zM147.4 447.2h0.55v0.55h-0.55zM161.6 445.9h0.55v0.55h-0.55zM139.3 463.7h0.55v0.55h-0.55zM168.1 443.5h0.55v0.55h-0.55zM185.8 437.6h0.55v0.55h-0.55zM156.7 445.5h0.55v0.55h-0.55zM181.3 449.3h0.55v0.55h-0.55zM183.2 450.0h0.55v0.55h-0.55zM158.2 447.6h0.55v0.55h-0.55zM143.7 457.5h0.55v0.55h-0.55zM138.2 454.0h0.55v0.55h-0.55zM138.4 453.0h0.55v0.55h-0.55zM185.7 444.3h0.55v0.55h-0.55zM134.8 460.5h0.55v0.55h-0.55zM161.1 455.2h0.55v0.55h-0.55zM157.5 434.6h0.55v0.55h-0.55zM188.9 441.9h0.55v0.55h-0.55zM173.3 459.2h0.55v0.55h-0.55zM159.1 454.8h0.55v0.55h-0.55zM142.8 450.0h0.55v0.55h-0.55zM192.9 446.7h0.55v0.55h-0.55zM168.1 445.0h0.55v0.55h-0.55zM144.3 438.3h0.55v0.55h-0.55zM161.9 438.5h0.55v0.55h-0.55zM150.5 440.9h0.55v0.55h-0.55zM176.8 441.5h0.55v0.55h-0.55zM145.8 437.3h0.55v0.55h-0.55zM137.9 451.8h0.55v0.55h-0.55zM139.7 454.0h0.55v0.55h-0.55zM157.1 444.7h0.55v0.55h-0.55zM184.6 458.0h0.55v0.55h-0.55zM140.7 444.2h0.55v0.55h-0.55zM156.0 463.5h0.55v0.55h-0.55zM132.6 449.5h0.55v0.55h-0.55zM152.3 445.8h0.55v0.55h-0.55zM190.4 447.0h0.55v0.55h-0.55zM194.9 445.2h0.55v0.55h-0.55zM151.3 466.0h0.55v0.55h-0.55zM143.3 445.1h0.55v0.55h-0.55zM182.0 442.9h0.55v0.55h-0.55zM149.3 448.9h0.55v0.55h-0.55zM141.7 453.9h0.55v0.55h-0.55zM179.7 454.0h0.55v0.55h-0.55zM136.9 441.7h0.55v0.55h-0.55zM154.9 446.8h0.55v0.55h-0.55zM184.4 449.7h0.55v0.55h-0.55zM171.8 440.6h0.55v0.55h-0.55zM149.0 446.8h0.55v0.55h-0.55zM130.6 449.6h0.55v0.55h-0.55zM135.1 440.0h0.55v0.55h-0.55zM161.6 463.5h0.55v0.55h-0.55zM187.2 437.0h0.55v0.55h-0.55zM171.8 459.8h0.55v0.55h-0.55zM167.1 455.8h0.55v0.55h-0.55zM171.9 440.6h0.55v0.55h-0.55zM179.3 452.9h0.55v0.55h-0.55zM143.2 453.7h0.55v0.55h-0.55zM141.7 438.1h0.55v0.55h-0.55zM180.1 444.3h0.55v0.55h-0.55zM172.2 454.4h0.55v0.55h-0.55zM186.0 442.9h0.55v0.55h-0.55zM191.3 452.4h0.55v0.55h-0.55zM183.7 458.1h0.55v0.55h-0.55zM177.5 455.7h0.55v0.55h-0.55zM142.2 447.4h0.55v0.55h-0.55zM169.0 453.8h0.55v0.55h-0.55zM188.9 455.3h0.55v0.55h-0.55zM181.8 463.0h0.55v0.55h-0.55zM170.4 430.8h0.55v0.55h-0.55zM161.3 450.7h0.55v0.55h-0.55zM160.5 442.9h0.55v0.55h-0.55zM134.2 450.3h0.55v0.55h-0.55zM178.6 452.2h0.55v0.55h-0.55zM175.6 455.8h0.55v0.55h-0.55zM159.3 463.5h0.55v0.55h-0.55zM183.0 446.0h0.55v0.55h-0.55zM161.7 431.0h0.55v0.55h-0.55zM139.0 435.3h0.55v0.55h-0.55zM152.4 449.4h0.55v0.55h-0.55zM178.8 446.9h0.55v0.55h-0.55zM144.7 439.2h0.55v0.55h-0.55zM178.3 439.6h0.55v0.55h-0.55zM138.1 455.9h0.55v0.55h-0.55zM134.6 456.2h0.55v0.55h-0.55zM157.6 444.3h0.55v0.55h-0.55zM195.6 448.2h0.55v0.55h-0.55zM188.6 451.6h0.55v0.55h-0.55zM182.9 447.8h0.55v0.55h-0.55zM158.5 432.4h0.55v0.55h-0.55zM165.4 450.8h0.55v0.55h-0.55zM146.9 446.7h0.55v0.55h-0.55zM158.5 444.7h0.55v0.55h-0.55zM167.8 447.8h0.55v0.55h-0.55zM157.8 443.3h0.55v0.55h-0.55zM179.6 449.8h0.55v0.55h-0.55zM157.9 435.8h0.55v0.55h-0.55zM184.4 444.5h0.55v0.55h-0.55zM168.2 448.9h0.55v0.55h-0.55zM191.7 456.1h0.55v0.55h-0.55zM160.8 442.2h0.55v0.55h-0.55zM180.7 439.8h0.55v0.55h-0.55zM157.9 459.1h0.55v0.55h-0.55zM148.7 451.7h0.55v0.55h-0.55zM159.1 436.7h0.55v0.55h-0.55zM183.3 440.0h0.55v0.55h-0.55zM172.8 446.1h0.55v0.55h-0.55zM190.7 450.6h0.55v0.55h-0.55zM188.4 439.6h0.55v0.55h-0.55zM145.0 439.3h0.55v0.55h-0.55zM162.1 445.9h0.55v0.55h-0.55zM187.2 454.4h0.55v0.55h-0.55zM186.7 445.8h0.55v0.55h-0.55zM191.2 432.7h0.55v0.55h-0.55zM162.9 435.2h0.55v0.55h-0.55zM182.2 460.5h0.55v0.55h-0.55zM158.4 448.7h0.55v0.55h-0.55zM153.5 450.2h0.55v0.55h-0.55zM157.9 454.3h0.55v0.55h-0.55zM133.1 443.5h0.55v0.55h-0.55zM164.3 457.8h0.55v0.55h-0.55zM172.8 459.8h0.55v0.55h-0.55zM175.3 429.6h0.55v0.55h-0.55zM150.2 433.5h0.55v0.55h-0.55zM130.7 446.3h0.55v0.55h-0.55zM186.1 447.9h0.55v0.55h-0.55zM191.7 441.4h0.55v0.55h-0.55zM169.8 444.7h0.55v0.55h-0.55zM145.3 452.9h0.55v0.55h-0.55zM175.0 457.2h0.55v0.55h-0.55zM184.9 455.7h0.55v0.55h-0.55zM142.5 440.4h0.55v0.55h-0.55zM182.8 439.5h0.55v0.55h-0.55zM138.8 446.0h0.55v0.55h-0.55zM171.4 449.2h0.55v0.55h-0.55zM146.7 449.3h0.55v0.55h-0.55zM143.3 439.4h0.55v0.55h-0.55zM189.4 441.4h0.55v0.55h-0.55zM135.0 460.1h0.55v0.55h-0.55zM149.6 442.5h0.55v0.55h-0.55zM151.2 432.3h0.55v0.55h-0.55zM140.3 448.9h0.55v0.55h-0.55zM164.9 458.4h0.55v0.55h-0.55zM177.4 443.5h0.55v0.55h-0.55zM165.9 447.2h0.55v0.55h-0.55zM185.4 433.2h0.55v0.55h-0.55zM136.8 449.0h0.55v0.55h-0.55zM141.5 443.3h0.55v0.55h-0.55zM176.4 441.4h0.55v0.55h-0.55zM158.6 446.8h0.55v0.55h-0.55zM154.8 442.6h0.55v0.55h-0.55zM180.0 440.6h0.55v0.55h-0.55zM163.6 445.3h0.55v0.55h-0.55zM185.8 452.1h0.55v0.55h-0.55zM191.1 451.6h0.55v0.55h-0.55zM172.2 449.7h0.55v0.55h-0.55zM155.6 442.6h0.55v0.55h-0.55zM177.8 440.7h0.55v0.55h-0.55zM135.9 440.6h0.55v0.55h-0.55zM163.3 462.4h0.55v0.55h-0.55zM180.7 458.9h0.55v0.55h-0.55zM181.6 442.7h0.55v0.55h-0.55zM135.8 445.2h0.55v0.55h-0.55zM188.1 446.1h0.55v0.55h-0.55zM139.2 448.6h0.55v0.55h-0.55zM173.2 439.5h0.55v0.55h-0.55zM174.2 462.7h0.55v0.55h-0.55zM133.6 448.0h0.55v0.55h-0.55zM163.2 446.2h0.55v0.55h-0.55zM157.0 449.9h0.55v0.55h-0.55zM135.7 440.6h0.55v0.55h-0.55zM174.2 437.3h0.55v0.55h-0.55zM187.3 448.2h0.55v0.55h-0.55zM187.3 440.8h0.55v0.55h-0.55zM173.4 453.5h0.55v0.55h-0.55zM195.9 454.5h0.55v0.55h-0.55zM166.4 450.4h0.55v0.55h-0.55zM137.0 458.1h0.55v0.55h-0.55zM134.9 442.4h0.55v0.55h-0.55zM172.4 425.9h0.55v0.55h-0.55zM143.9 451.1h0.55v0.55h-0.55zM189.0 454.3h0.55v0.55h-0.55zM157.1 464.4h0.55v0.55h-0.55zM157.7 433.9h0.55v0.55h-0.55zM138.7 444.0h0.55v0.55h-0.55zM187.3 443.7h0.55v0.55h-0.55zM188.1 443.1h0.55v0.55h-0.55zM165.8 454.1h0.55v0.55h-0.55zM144.0 452.9h0.55v0.55h-0.55zM178.1 451.1h0.55v0.55h-0.55zM181.6 440.9h0.55v0.55h-0.55zM189.8 451.4h0.55v0.55h-0.55zM149.0 441.0h0.55v0.55h-0.55zM151.4 437.4h0.55v0.55h-0.55zM133.2 430.5h0.55v0.55h-0.55zM146.7 447.8h0.55v0.55h-0.55zM179.7 438.2h0.55v0.55h-0.55zM136.5 440.0h0.55v0.55h-0.55zM150.7 437.6h0.55v0.55h-0.55zM155.1 449.2h0.55v0.55h-0.55zM169.7 458.7h0.55v0.55h-0.55zM180.3 453.1h0.55v0.55h-0.55zM174.4 470.0h0.55v0.55h-0.55zM175.2 468.0h0.55v0.55h-0.55zM183.0 453.4h0.55v0.55h-0.55zM188.0 441.9h0.55v0.55h-0.55zM189.5 440.2h0.55v0.55h-0.55zM155.7 453.8h0.55v0.55h-0.55zM157.5 451.2h0.55v0.55h-0.55zM131.7 457.4h0.55v0.55h-0.55zM153.8 431.0h0.55v0.55h-0.55zM144.3 455.5h0.55v0.55h-0.55zM192.8 443.6h0.55v0.55h-0.55zM152.1 449.3h0.55v0.55h-0.55zM170.2 456.1h0.55v0.55h-0.55zM192.6 436.1h0.55v0.55h-0.55zM152.0 448.8h0.55v0.55h-0.55zM177.2 448.6h0.55v0.55h-0.55zM187.5 452.2h0.55v0.55h-0.55zM132.2 454.5h0.55v0.55h-0.55zM152.7 460.2h0.55v0.55h-0.55zM181.4 456.5h0.55v0.55h-0.55zM147.5 459.8h0.55v0.55h-0.55zM151.5 439.0h0.55v0.55h-0.55zM145.2 451.1h0.55v0.55h-0.55zM161.8 451.8h0.55v0.55h-0.55zM150.4 448.7h0.55v0.55h-0.55zM135.5 445.9h0.55v0.55h-0.55zM148.9 463.9h0.55v0.55h-0.55zM152.4 470.1h0.55v0.55h-0.55zM184.4 447.5h0.55v0.55h-0.55zM190.3 445.2h0.55v0.55h-0.55zM138.2 435.7h0.55v0.55h-0.55zM163.3 444.7h0.55v0.55h-0.55zM136.4 441.1h0.55v0.55h-0.55zM130.4 472.1h0.55v0.55h-0.55zM191.3 441.1h0.55v0.55h-0.55zM142.1 454.6h0.55v0.55h-0.55zM160.6 465.6h0.55v0.55h-0.55zM141.0 442.4h0.55v0.55h-0.55zM174.8 452.5h0.55v0.55h-0.55zM133.5 457.3h0.55v0.55h-0.55zM186.2 469.3h0.55v0.55h-0.55zM167.7 451.3h0.55v0.55h-0.55zM172.3 457.7h0.55v0.55h-0.55zM146.1 447.7h0.55v0.55h-0.55zM189.6 435.3h0.55v0.55h-0.55zM182.5 445.4h0.55v0.55h-0.55zM193.0 463.2h0.55v0.55h-0.55zM152.0 450.6h0.55v0.55h-0.55zM188.9 449.7h0.55v0.55h-0.55zM132.0 451.0h0.55v0.55h-0.55zM159.9 447.4h0.55v0.55h-0.55zM189.1 447.0h0.55v0.55h-0.55zM153.0 456.4h0.55v0.55h-0.55zM152.2 457.4h0.55v0.55h-0.55zM159.0 440.0h0.55v0.55h-0.55zM141.2 458.7h0.55v0.55h-0.55zM193.2 465.1h0.55v0.55h-0.55zM169.6 445.6h0.55v0.55h-0.55zM143.6 440.2h0.55v0.55h-0.55zM139.6 434.7h0.55v0.55h-0.55zM144.3 453.2h0.55v0.55h-0.55zM191.2 454.1h0.55v0.55h-0.55zM161.1 445.4h0.55v0.55h-0.55zM195.2 429.0h0.55v0.55h-0.55zM190.5 452.5h0.55v0.55h-0.55zM172.6 458.6h0.55v0.55h-0.55zM153.6 428.3h0.55v0.55h-0.55zM187.9 456.1h0.55v0.55h-0.55zM132.9 449.6h0.55v0.55h-0.55zM152.6 446.8h0.55v0.55h-0.55zM185.1 446.3h0.55v0.55h-0.55zM183.7 436.7h0.55v0.55h-0.55zM138.5 449.6h0.55v0.55h-0.55zM151.8 450.9h0.55v0.55h-0.55zM176.1 453.3h0.55v0.55h-0.55zM185.0 442.6h0.55v0.55h-0.55zM158.1 436.3h0.55v0.55h-0.55zM168.9 444.3h0.55v0.55h-0.55zM131.9 448.1h0.55v0.55h-0.55zM141.3 441.7h0.55v0.55h-0.55zM151.6 442.6h0.55v0.55h-0.55zM162.3 453.6h0.55v0.55h-0.55zM142.6 442.0h0.55v0.55h-0.55zM194.0 455.5h0.55v0.55h-0.55zM152.5 451.8h0.55v0.55h-0.55zM191.1 456.7h0.55v0.55h-0.55zM191.1 448.8h0.55v0.55h-0.55zM135.4 446.0h0.55v0.55h-0.55zM170.8 444.4h0.55v0.55h-0.55zM182.3 441.5h0.55v0.55h-0.55zM194.1 462.0h0.55v0.55h-0.55zM181.1 459.7h0.55v0.55h-0.55zM175.4 445.5h0.55v0.55h-0.55zM135.9 456.7h0.55v0.55h-0.55zM167.0 439.3h0.55v0.55h-0.55zM187.3 455.0h0.55v0.55h-0.55zM178.8 445.8h0.55v0.55h-0.55zM189.0 453.3h0.55v0.55h-0.55zM160.6 453.1h0.55v0.55h-0.55zM184.0 456.3h0.55v0.55h-0.55zM183.3 443.6h0.55v0.55h-0.55zM184.5 443.9h0.55v0.55h-0.55zM188.3 440.2h0.55v0.55h-0.55zM181.4 444.5h0.55v0.55h-0.55zM188.6 438.5h0.55v0.55h-0.55zM163.8 446.4h0.55v0.55h-0.55zM152.9 439.8h0.55v0.55h-0.55zM171.2 451.6h0.55v0.55h-0.55zM155.4 446.1h0.55v0.55h-0.55zM187.9 443.6h0.55v0.55h-0.55zM138.0 452.6h0.55v0.55h-0.55zM147.2 448.0h0.55v0.55h-0.55zM188.0 460.6h0.55v0.55h-0.55zM143.7 442.4h0.55v0.55h-0.55zM146.6 455.4h0.55v0.55h-0.55zM187.6 459.9h0.55v0.55h-0.55zM189.0 454.9h0.55v0.55h-0.55zM195.3 432.0h0.55v0.55h-0.55zM172.4 446.8h0.55v0.55h-0.55zM166.5 446.7h0.55v0.55h-0.55zM171.8 458.8h0.55v0.55h-0.55zM133.6 456.0h0.55v0.55h-0.55zM168.8 456.1h0.55v0.55h-0.55zM140.3 462.4h0.55v0.55h-0.55zM147.3 438.4h0.55v0.55h-0.55zM132.8 444.4h0.55v0.55h-0.55zM158.9 449.5h0.55v0.55h-0.55zM140.1 446.0h0.55v0.55h-0.55zM190.3 443.2h0.55v0.55h-0.55zM195.8 449.4h0.55v0.55h-0.55zM184.7 438.6h0.55v0.55h-0.55zM155.5 449.2h0.55v0.55h-0.55zM134.9 454.7h0.55v0.55h-0.55zM182.0 444.4h0.55v0.55h-0.55zM190.7 459.4h0.55v0.55h-0.55zM145.5 442.7h0.55v0.55h-0.55zM180.3 441.3h0.55v0.55h-0.55zM155.6 460.9h0.55v0.55h-0.55zM155.0 455.0h0.55v0.55h-0.55zM179.3 445.2h0.55v0.55h-0.55zM188.1 444.9h0.55v0.55h-0.55zM135.4 451.6h0.55v0.55h-0.55zM185.6 454.4h0.55v0.55h-0.55zM194.2 433.7h0.55v0.55h-0.55zM173.1 454.7h0.55v0.55h-0.55zM172.0 437.3h0.55v0.55h-0.55zM189.4 452.2h0.55v0.55h-0.55zM135.0 440.0h0.55v0.55h-0.55zM182.3 440.5h0.55v0.55h-0.55zM153.4 441.9h0.55v0.55h-0.55zM140.1 456.6h0.55v0.55h-0.55zM189.7 453.7h0.55v0.55h-0.55zM189.6 449.0h0.55v0.55h-0.55zM160.7 448.8h0.55v0.55h-0.55zM158.1 450.8h0.55v0.55h-0.55zM173.3 445.2h0.55v0.55h-0.55zM146.2 438.9h0.55v0.55h-0.55zM152.3 438.5h0.55v0.55h-0.55zM150.2 453.3h0.55v0.55h-0.55zM148.3 454.4h0.55v0.55h-0.55zM156.0 446.5h0.55v0.55h-0.55zM134.2 449.0h0.55v0.55h-0.55zM190.7 446.6h0.55v0.55h-0.55zM165.8 449.3h0.55v0.55h-0.55zM188.5 452.5h0.55v0.55h-0.55zM192.9 452.0h0.55v0.55h-0.55zM182.9 453.4h0.55v0.55h-0.55zM141.9 438.1h0.55v0.55h-0.55zM170.9 452.0h0.55v0.55h-0.55zM149.5 451.9h0.55v0.55h-0.55zM176.8 448.4h0.55v0.55h-0.55zM158.0 423.7h0.55v0.55h-0.55zM189.6 457.9h0.55v0.55h-0.55zM172.7 450.4h0.55v0.55h-0.55zM148.2 441.0h0.55v0.55h-0.55zM193.3 450.1h0.55v0.55h-0.55zM183.4 442.8h0.55v0.55h-0.55zM172.7 430.2h0.55v0.55h-0.55zM132.6 437.7h0.55v0.55h-0.55zM142.9 456.8h0.55v0.55h-0.55zM156.2 461.9h0.55v0.55h-0.55zM187.1 455.3h0.55v0.55h-0.55zM154.9 458.2h0.55v0.55h-0.55zM170.3 447.2h0.55v0.55h-0.55zM171.7 440.9h0.55v0.55h-0.55zM178.0 453.5h0.55v0.55h-0.55zM138.3 449.0h0.55v0.55h-0.55zM138.5 437.2h0.55v0.55h-0.55zM190.0 438.6h0.55v0.55h-0.55zM187.7 453.0h0.55v0.55h-0.55zM149.0 441.3h0.55v0.55h-0.55zM166.2 454.2h0.55v0.55h-0.55zM176.1 444.4h0.55v0.55h-0.55zM139.2 439.9h0.55v0.55h-0.55zM133.0 444.2h0.55v0.55h-0.55zM140.2 448.2h0.55v0.55h-0.55zM173.1 437.9h0.55v0.55h-0.55zM150.8 450.0h0.55v0.55h-0.55zM161.1 455.5h0.55v0.55h-0.55zM186.6 450.0h0.55v0.55h-0.55zM160.2 460.4h0.55v0.55h-0.55zM160.1 435.5h0.55v0.55h-0.55zM193.9 459.1h0.55v0.55h-0.55zM167.0 451.6h0.55v0.55h-0.55zM162.6 438.0h0.55v0.55h-0.55zM160.7 437.6h0.55v0.55h-0.55zM134.9 445.7h0.55v0.55h-0.55zM149.7 462.5h0.55v0.55h-0.55zM159.7 445.3h0.55v0.55h-0.55zM180.1 446.8h0.55v0.55h-0.55zM194.1 452.8h0.55v0.55h-0.55zM172.5 454.0h0.55v0.55h-0.55zM150.9 449.5h0.55v0.55h-0.55zM131.9 457.0h0.55v0.55h-0.55zM193.3 455.9h0.55v0.55h-0.55zM178.4 445.9h0.55v0.55h-0.55zM170.0 433.0h0.55v0.55h-0.55zM161.6 451.3h0.55v0.55h-0.55zM141.0 456.8h0.55v0.55h-0.55zM158.9 441.7h0.55v0.55h-0.55zM141.2 451.4h0.55v0.55h-0.55zM152.2 437.7h0.55v0.55h-0.55zM159.4 452.8h0.55v0.55h-0.55zM163.1 446.3h0.55v0.55h-0.55zM186.5 445.7h0.55v0.55h-0.55zM157.9 443.5h0.55v0.55h-0.55zM166.6 447.0h0.55v0.55h-0.55zM188.3 444.1h0.55v0.55h-0.55zM185.9 465.4h0.55v0.55h-0.55zM195.8 457.8h0.55v0.55h-0.55zM141.6 467.5h0.55v0.55h-0.55zM181.0 453.5h0.55v0.55h-0.55zM146.7 448.3h0.55v0.55h-0.55zM131.5 438.8h0.55v0.55h-0.55zM163.0 444.5h0.55v0.55h-0.55zM181.8 443.9h0.55v0.55h-0.55zM191.4 455.2h0.55v0.55h-0.55zM154.5 433.1h0.55v0.55h-0.55zM130.5 451.1h0.55v0.55h-0.55zM170.0 445.3h0.55v0.55h-0.55zM181.5 447.8h0.55v0.55h-0.55zM132.0 450.9h0.55v0.55h-0.55zM176.3 440.4h0.55v0.55h-0.55zM193.9 442.1h0.55v0.55h-0.55zM168.9 446.9h0.55v0.55h-0.55zM161.9 453.6h0.55v0.55h-0.55zM164.3 457.9h0.55v0.55h-0.55zM179.1 451.7h0.55v0.55h-0.55zM163.4 456.5h0.55v0.55h-0.55zM178.1 455.1h0.55v0.55h-0.55zM189.3 447.4h0.55v0.55h-0.55zM192.3 441.8h0.55v0.55h-0.55zM188.6 444.3h0.55v0.55h-0.55zM187.4 450.1h0.55v0.55h-0.55zM194.2 448.1h0.55v0.55h-0.55zM186.4 440.1h0.55v0.55h-0.55zM158.1 447.0h0.55v0.55h-0.55zM148.1 457.4h0.55v0.55h-0.55zM179.1 451.5h0.55v0.55h-0.55zM146.3 447.2h0.55v0.55h-0.55zM185.4 449.0h0.55v0.55h-0.55zM148.4 437.8h0.55v0.55h-0.55zM187.9 441.7h0.55v0.55h-0.55zM133.2 446.1h0.55v0.55h-0.55zM174.4 454.7h0.55v0.55h-0.55zM194.4 449.0h0.55v0.55h-0.55zM161.2 436.4h0.55v0.55h-0.55zM142.1 452.2h0.55v0.55h-0.55zM151.4 438.4h0.55v0.55h-0.55zM142.8 454.8h0.55v0.55h-0.55zM189.5 446.8h0.55v0.55h-0.55zM167.8 467.1h0.55v0.55h-0.55zM164.9 456.2h0.55v0.55h-0.55zM144.7 443.5h0.55v0.55h-0.55zM141.4 455.3h0.55v0.55h-0.55zM140.3 461.0h0.55v0.55h-0.55zM174.6 451.4h0.55v0.55h-0.55zM190.9 441.1h0.55v0.55h-0.55zM193.3 464.1h0.55v0.55h-0.55zM157.2 463.4h0.55v0.55h-0.55zM180.0 448.4h0.55v0.55h-0.55zM152.5 434.9h0.55v0.55h-0.55zM158.9 440.3h0.55v0.55h-0.55zM166.7 451.5h0.55v0.55h-0.55zM168.2 459.8h0.55v0.55h-0.55zM193.0 451.2h0.55v0.55h-0.55zM137.9 465.8h0.55v0.55h-0.55zM130.5 439.8h0.55v0.55h-0.55zM158.4 445.5h0.55v0.55h-0.55zM135.4 441.7h0.55v0.55h-0.55zM175.3 440.0h0.55v0.55h-0.55zM160.8 457.5h0.55v0.55h-0.55zM164.2 450.3h0.55v0.55h-0.55zM138.5 449.4h0.55v0.55h-0.55zM189.8 444.6h0.55v0.55h-0.55zM156.0 454.2h0.55v0.55h-0.55zM152.0 447.0h0.55v0.55h-0.55zM181.6 451.9h0.55v0.55h-0.55zM158.6 453.3h0.55v0.55h-0.55zM146.5 448.5h0.55v0.55h-0.55zM191.5 452.8h0.55v0.55h-0.55zM166.2 445.0h0.55v0.55h-0.55zM163.4 448.6h0.55v0.55h-0.55zM180.0 451.8h0.55v0.55h-0.55zM162.1 448.5h0.55v0.55h-0.55zM149.1 437.8h0.55v0.55h-0.55zM161.2 450.7h0.55v0.55h-0.55zM142.1 444.5h0.55v0.55h-0.55zM188.0 445.1h0.55v0.55h-0.55zM139.8 450.2h0.55v0.55h-0.55zM163.1 466.5h0.55v0.55h-0.55zM167.0 429.1h0.55v0.55h-0.55zM189.5 434.9h0.55v0.55h-0.55zM178.5 460.1h0.55v0.55h-0.55zM182.5 449.6h0.55v0.55h-0.55zM188.9 454.5h0.55v0.55h-0.55zM130.3 444.0h0.55v0.55h-0.55zM149.4 453.7h0.55v0.55h-0.55zM193.6 463.7h0.55v0.55h-0.55zM187.8 443.6h0.55v0.55h-0.55zM177.7 455.5h0.55v0.55h-0.55zM133.1 439.8h0.55v0.55h-0.55zM142.8 445.2h0.55v0.55h-0.55zM131.1 453.8h0.55v0.55h-0.55zM132.0 456.1h0.55v0.55h-0.55zM132.6 450.9h0.55v0.55h-0.55zM133.1 456.0h0.55v0.55h-0.55zM164.2 442.3h0.55v0.55h-0.55zM152.6 457.6h0.55v0.55h-0.55zM194.9 464.8h0.55v0.55h-0.55zM178.9 452.0h0.55v0.55h-0.55zM149.9 443.7h0.55v0.55h-0.55zM144.4 448.5h0.55v0.55h-0.55zM187.7 443.7h0.55v0.55h-0.55zM169.9 460.2h0.55v0.55h-0.55zM192.5 442.0h0.55v0.55h-0.55zM176.0 462.4h0.55v0.55h-0.55zM165.9 453.3h0.55v0.55h-0.55zM134.6 453.8h0.55v0.55h-0.55zM167.4 446.7h0.55v0.55h-0.55zM179.2 445.6h0.55v0.55h-0.55zM150.1 450.0h0.55v0.55h-0.55zM162.5 447.1h0.55v0.55h-0.55zM191.6 452.9h0.55v0.55h-0.55zM136.6 444.7h0.55v0.55h-0.55zM153.0 442.7h0.55v0.55h-0.55zM185.7 441.7h0.55v0.55h-0.55zM152.0 448.6h0.55v0.55h-0.55zM131.9 445.5h0.55v0.55h-0.55zM181.5 444.7h0.55v0.55h-0.55zM171.3 457.3h0.55v0.55h-0.55zM170.9 448.4h0.55v0.55h-0.55zM171.3 448.6h0.55v0.55h-0.55zM167.0 441.6h0.55v0.55h-0.55zM174.8 453.2h0.55v0.55h-0.55zM164.0 444.9h0.55v0.55h-0.55zM154.1 442.0h0.55v0.55h-0.55zM156.8 446.7h0.55v0.55h-0.55zM139.1 437.2h0.55v0.55h-0.55zM133.4 443.2h0.55v0.55h-0.55zM137.6 456.3h0.55v0.55h-0.55zM170.3 444.4h0.55v0.55h-0.55zM176.9 450.8h0.55v0.55h-0.55zM141.9 456.1h0.55v0.55h-0.55zM146.9 433.3h0.55v0.55h-0.55zM158.5 458.7h0.55v0.55h-0.55zM177.2 446.1h0.55v0.55h-0.55zM184.3 458.0h0.55v0.55h-0.55zM184.6 445.8h0.55v0.55h-0.55zM141.7 454.0h0.55v0.55h-0.55zM132.7 439.8h0.55v0.55h-0.55zM191.3 446.0h0.55v0.55h-0.55zM194.5 459.8h0.55v0.55h-0.55zM161.6 447.1h0.55v0.55h-0.55zM172.1 447.5h0.55v0.55h-0.55zM171.7 459.2h0.55v0.55h-0.55zM138.4 447.6h0.55v0.55h-0.55zM150.8 446.0h0.55v0.55h-0.55zM186.1 431.5h0.55v0.55h-0.55zM151.7 437.0h0.55v0.55h-0.55zM186.7 448.6h0.55v0.55h-0.55zM169.7 435.7h0.55v0.55h-0.55zM157.9 459.0h0.55v0.55h-0.55zM186.5 449.8h0.55v0.55h-0.55zM193.4 447.5h0.55v0.55h-0.55zM134.5 445.5h0.55v0.55h-0.55zM177.4 448.1h0.55v0.55h-0.55zM166.0 449.9h0.55v0.55h-0.55zM141.5 446.8h0.55v0.55h-0.55zM186.6 434.3h0.55v0.55h-0.55zM186.5 448.9h0.55v0.55h-0.55zM153.0 439.7h0.55v0.55h-0.55zM135.7 449.1h0.55v0.55h-0.55zM134.1 466.7h0.55v0.55h-0.55zM143.2 447.0h0.55v0.55h-0.55zM148.9 441.2h0.55v0.55h-0.55zM137.6 450.9h0.55v0.55h-0.55zM153.2 445.4h0.55v0.55h-0.55zM180.6 446.7h0.55v0.55h-0.55zM136.8 450.4h0.55v0.55h-0.55zM134.3 436.2h0.55v0.55h-0.55zM172.4 445.1h0.55v0.55h-0.55zM156.2 443.9h0.55v0.55h-0.55zM182.5 446.4h0.55v0.55h-0.55zM171.4 450.0h0.55v0.55h-0.55zM146.2 449.0h0.55v0.55h-0.55zM136.2 438.2h0.55v0.55h-0.55zM157.7 436.1h0.55v0.55h-0.55zM170.7 438.4h0.55v0.55h-0.55zM150.1 442.1h0.55v0.55h-0.55zM149.5 439.1h0.55v0.55h-0.55zM177.9 448.0h0.55v0.55h-0.55zM169.3 455.1h0.55v0.55h-0.55zM175.9 446.3h0.55v0.55h-0.55zM140.6 447.0h0.55v0.55h-0.55zM167.1 459.6h0.55v0.55h-0.55zM171.8 440.2h0.55v0.55h-0.55zM145.6 441.3h0.55v0.55h-0.55zM143.0 448.0h0.55v0.55h-0.55zM166.7 444.7h0.55v0.55h-0.55zM162.7 451.1h0.55v0.55h-0.55zM152.3 450.0h0.55v0.55h-0.55zM140.3 445.9h0.55v0.55h-0.55zM135.8 443.7h0.55v0.55h-0.55zM187.6 441.3h0.55v0.55h-0.55zM153.5 441.4h0.55v0.55h-0.55zM143.0 441.6h0.55v0.55h-0.55zM168.5 445.2h0.55v0.55h-0.55zM134.9 461.3h0.55v0.55h-0.55zM152.7 447.8h0.55v0.55h-0.55zM190.5 443.7h0.55v0.55h-0.55zM189.4 450.7h0.55v0.55h-0.55zM187.6 452.6h0.55v0.55h-0.55zM141.9 451.1h0.55v0.55h-0.55zM180.0 450.1h0.55v0.55h-0.55zM149.1 445.6h0.55v0.55h-0.55zM192.2 446.9h0.55v0.55h-0.55zM176.1 451.1h0.55v0.55h-0.55zM135.6 450.7h0.55v0.55h-0.55zM162.7 439.7h0.55v0.55h-0.55zM189.4 436.9h0.55v0.55h-0.55zM152.2 436.9h0.55v0.55h-0.55zM187.2 445.5h0.55v0.55h-0.55zM188.2 437.4h0.55v0.55h-0.55zM171.3 443.5h0.55v0.55h-0.55zM178.7 450.4h0.55v0.55h-0.55zM142.9 454.0h0.55v0.55h-0.55zM141.2 456.3h0.55v0.55h-0.55zM137.3 452.9h0.55v0.55h-0.55zM137.2 456.8h0.55v0.55h-0.55zM145.7 466.2h0.55v0.55h-0.55zM147.2 452.1h0.55v0.55h-0.55zM193.6 441.8h0.55v0.55h-0.55zM135.3 449.3h0.55v0.55h-0.55zM167.7 436.3h0.55v0.55h-0.55zM170.4 442.9h0.55v0.55h-0.55zM142.3 431.3h0.55v0.55h-0.55zM134.0 446.4h0.55v0.55h-0.55zM161.6 457.1h0.55v0.55h-0.55zM138.4 451.2h0.55v0.55h-0.55zM144.2 446.8h0.55v0.55h-0.55zM156.7 423.8h0.55v0.55h-0.55zM147.7 468.0h0.55v0.55h-0.55zM161.2 433.8h0.55v0.55h-0.55zM166.0 451.7h0.55v0.55h-0.55zM161.1 444.8h0.55v0.55h-0.55zM174.4 445.1h0.55v0.55h-0.55zM187.4 438.8h0.55v0.55h-0.55zM183.4 460.2h0.55v0.55h-0.55zM143.5 455.1h0.55v0.55h-0.55zM157.8 447.6h0.55v0.55h-0.55zM147.8 454.1h0.55v0.55h-0.55zM142.0 441.8h0.55v0.55h-0.55zM174.9 438.9h0.55v0.55h-0.55zM181.2 454.5h0.55v0.55h-0.55zM171.7 441.8h0.55v0.55h-0.55zM173.9 459.1h0.55v0.55h-0.55zM166.7 451.6h0.55v0.55h-0.55zM169.8 447.9h0.55v0.55h-0.55zM190.3 463.6h0.55v0.55h-0.55zM176.3 431.6h0.55v0.55h-0.55zM192.9 454.4h0.55v0.55h-0.55zM188.6 443.3h0.55v0.55h-0.55zM150.1 440.8h0.55v0.55h-0.55zM191.5 455.1h0.55v0.55h-0.55zM159.8 440.8h0.55v0.55h-0.55zM152.5 433.7h0.55v0.55h-0.55zM159.3 442.7h0.55v0.55h-0.55zM154.7 450.2h0.55v0.55h-0.55zM138.1 446.7h0.55v0.55h-0.55zM162.3 445.1h0.55v0.55h-0.55zM159.2 447.1h0.55v0.55h-0.55zM168.2 458.9h0.55v0.55h-0.55zM147.9 452.0h0.55v0.55h-0.55zM153.9 452.6h0.55v0.55h-0.55zM149.8 447.4h0.55v0.55h-0.55zM137.2 448.8h0.55v0.55h-0.55zM158.2 445.9h0.55v0.55h-0.55zM190.9 446.4h0.55v0.55h-0.55zM158.6 450.8h0.55v0.55h-0.55zM187.8 450.9h0.55v0.55h-0.55zM132.2 451.4h0.55v0.55h-0.55zM134.0 443.5h0.55v0.55h-0.55zM154.7 443.9h0.55v0.55h-0.55zM174.8 436.3h0.55v0.55h-0.55zM185.8 453.4h0.55v0.55h-0.55zM182.6 459.8h0.55v0.55h-0.55zM171.3 449.4h0.55v0.55h-0.55zM130.5 450.5h0.55v0.55h-0.55zM155.9 452.2h0.55v0.55h-0.55zM179.7 448.4h0.55v0.55h-0.55zM148.2 443.8h0.55v0.55h-0.55zM151.7 456.3h0.55v0.55h-0.55zM175.4 425.7h0.55v0.55h-0.55zM155.9 439.4h0.55v0.55h-0.55zM187.2 446.3h0.55v0.55h-0.55zM149.7 448.2h0.55v0.55h-0.55zM190.8 452.3h0.55v0.55h-0.55zM161.0 439.6h0.55v0.55h-0.55zM163.3 432.5h0.55v0.55h-0.55zM142.0 445.5h0.55v0.55h-0.55zM156.5 454.1h0.55v0.55h-0.55zM162.3 460.1h0.55v0.55h-0.55zM181.1 452.7h0.55v0.55h-0.55zM132.6 441.9h0.55v0.55h-0.55zM145.8 454.0h0.55v0.55h-0.55zM140.8 453.7h0.55v0.55h-0.55zM174.6 451.6h0.55v0.55h-0.55zM178.1 442.1h0.55v0.55h-0.55zM157.7 450.1h0.55v0.55h-0.55zM140.9 444.7h0.55v0.55h-0.55zM175.6 442.6h0.55v0.55h-0.55zM175.5 448.5h0.55v0.55h-0.55zM136.9 459.0h0.55v0.55h-0.55zM135.2 452.3h0.55v0.55h-0.55zM152.1 442.6h0.55v0.55h-0.55zM192.8 445.6h0.55v0.55h-0.55zM186.6 457.2h0.55v0.55h-0.55zM134.1 454.6h0.55v0.55h-0.55zM177.9 448.0h0.55v0.55h-0.55zM160.2 446.3h0.55v0.55h-0.55zM157.7 446.2h0.55v0.55h-0.55zM187.9 455.8h0.55v0.55h-0.55zM150.6 455.7h0.55v0.55h-0.55zM170.2 450.4h0.55v0.55h-0.55zM162.1 449.7h0.55v0.55h-0.55zM172.9 449.3h0.55v0.55h-0.55zM189.3 455.3h0.55v0.55h-0.55zM156.9 443.3h0.55v0.55h-0.55zM175.4 442.9h0.55v0.55h-0.55zM144.8 432.2h0.55v0.55h-0.55zM184.1 454.5h0.55v0.55h-0.55zM160.9 465.2h0.55v0.55h-0.55zM153.3 453.8h0.55v0.55h-0.55zM149.2 454.3h0.55v0.55h-0.55zM131.3 439.2h0.55v0.55h-0.55zM154.5 460.3h0.55v0.55h-0.55zM156.8 436.9h0.55v0.55h-0.55zM183.3 447.8h0.55v0.55h-0.55zM143.4 461.9h0.55v0.55h-0.55zM188.6 452.4h0.55v0.55h-0.55zM150.8 454.0h0.55v0.55h-0.55zM147.5 444.0h0.55v0.55h-0.55zM153.4 451.7h0.55v0.55h-0.55zM143.7 454.7h0.55v0.55h-0.55zM131.5 464.0h0.55v0.55h-0.55zM187.4 456.4h0.55v0.55h-0.55zM145.8 447.7h0.55v0.55h-0.55zM132.8 453.1h0.55v0.55h-0.55zM134.3 459.1h0.55v0.55h-0.55zM140.9 451.1h0.55v0.55h-0.55zM131.5 446.5h0.55v0.55h-0.55zM159.8 449.2h0.55v0.55h-0.55zM158.8 447.4h0.55v0.55h-0.55zM137.0 450.2h0.55v0.55h-0.55zM171.0 444.6h0.55v0.55h-0.55zM181.3 447.2h0.55v0.55h-0.55zM191.2 433.9h0.55v0.55h-0.55zM184.6 456.2h0.55v0.55h-0.55zM142.6 446.2h0.55v0.55h-0.55zM145.6 443.8h0.55v0.55h-0.55zM169.5 450.8h0.55v0.55h-0.55zM150.1 437.8h0.55v0.55h-0.55zM192.8 426.7h0.55v0.55h-0.55zM163.2 440.8h0.55v0.55h-0.55zM182.7 447.7h0.55v0.55h-0.55zM157.5 447.0h0.55v0.55h-0.55zM188.8 457.4h0.55v0.55h-0.55zM150.6 449.4h0.55v0.55h-0.55zM147.5 458.9h0.55v0.55h-0.55zM174.1 450.6h0.55v0.55h-0.55zM161.5 438.3h0.55v0.55h-0.55zM146.0 447.3h0.55v0.55h-0.55zM190.3 432.0h0.55v0.55h-0.55zM170.1 452.7h0.55v0.55h-0.55zM164.1 442.8h0.55v0.55h-0.55zM158.9 439.8h0.55v0.55h-0.55zM186.8 448.5h0.55v0.55h-0.55zM165.2 454.6h0.55v0.55h-0.55zM155.2 442.4h0.55v0.55h-0.55zM132.7 455.4h0.55v0.55h-0.55zM137.5 447.8h0.55v0.55h-0.55zM161.4 445.7h0.55v0.55h-0.55zM175.1 442.3h0.55v0.55h-0.55zM170.9 446.4h0.55v0.55h-0.55zM148.2 433.3h0.55v0.55h-0.55zM148.9 448.8h0.55v0.55h-0.55zM132.1 459.2h0.55v0.55h-0.55zM147.6 441.5h0.55v0.55h-0.55zM135.3 450.8h0.55v0.55h-0.55zM170.7 457.0h0.55v0.55h-0.55zM152.3 443.6h0.55v0.55h-0.55zM138.4 441.6h0.55v0.55h-0.55zM191.8 445.4h0.55v0.55h-0.55zM163.7 448.3h0.55v0.55h-0.55zM145.7 447.7h0.55v0.55h-0.55zM145.4 435.9h0.55v0.55h-0.55zM190.4 442.3h0.55v0.55h-0.55zM187.4 446.3h0.55v0.55h-0.55zM146.6 462.1h0.55v0.55h-0.55zM164.0 449.9h0.55v0.55h-0.55zM150.5 435.1h0.55v0.55h-0.55zM147.7 451.4h0.55v0.55h-0.55zM178.9 432.3h0.55v0.55h-0.55zM175.4 469.2h0.55v0.55h-0.55zM190.1 455.0h0.55v0.55h-0.55zM133.4 457.9h0.55v0.55h-0.55zM180.6 447.5h0.55v0.55h-0.55zM189.7 443.6h0.55v0.55h-0.55zM154.3 443.4h0.55v0.55h-0.55zM154.0 453.3h0.55v0.55h-0.55zM190.0 442.4h0.55v0.55h-0.55zM157.4 455.5h0.55v0.55h-0.55zM191.7 444.1h0.55v0.55h-0.55zM194.3 459.1h0.55v0.55h-0.55zM159.4 432.2h0.55v0.55h-0.55zM186.9 442.2h0.55v0.55h-0.55zM171.5 454.4h0.55v0.55h-0.55zM142.4 451.8h0.55v0.55h-0.55zM189.8 435.5h0.55v0.55h-0.55zM178.7 441.6h0.55v0.55h-0.55zM183.9 440.4h0.55v0.55h-0.55zM178.3 436.3h0.55v0.55h-0.55zM162.7 444.1h0.55v0.55h-0.55zM133.6 439.4h0.55v0.55h-0.55zM157.9 448.6h0.55v0.55h-0.55zM189.0 450.1h0.55v0.55h-0.55zM146.6 454.0h0.55v0.55h-0.55zM181.8 449.4h0.55v0.55h-0.55zM174.3 447.0h0.55v0.55h-0.55zM174.6 454.1h0.55v0.55h-0.55zM138.5 446.8h0.55v0.55h-0.55zM152.3 456.5h0.55v0.55h-0.55zM149.3 446.1h0.55v0.55h-0.55zM156.0 435.9h0.55v0.55h-0.55zM138.5 451.7h0.55v0.55h-0.55zM180.9 453.1h0.55v0.55h-0.55zM143.4 454.1h0.55v0.55h-0.55zM190.7 425.7h0.55v0.55h-0.55zM184.2 429.5h0.55v0.55h-0.55zM132.2 448.7h0.55v0.55h-0.55zM139.3 457.7h0.55v0.55h-0.55zM163.5 448.7h0.55v0.55h-0.55zM173.0 448.6h0.55v0.55h-0.55zM169.6 441.8h0.55v0.55h-0.55zM133.3 451.0h0.55v0.55h-0.55zM192.1 435.7h0.55v0.55h-0.55zM163.2 442.2h0.55v0.55h-0.55zM165.4 451.2h0.55v0.55h-0.55zM174.3 448.4h0.55v0.55h-0.55zM155.0 440.1h0.55v0.55h-0.55zM139.4 442.5h0.55v0.55h-0.55zM192.9 447.7h0.55v0.55h-0.55zM143.5 452.3h0.55v0.55h-0.55zM139.3 438.1h0.55v0.55h-0.55zM182.4 451.4h0.55v0.55h-0.55zM156.1 450.8h0.55v0.55h-0.55zM145.1 444.9h0.55v0.55h-0.55zM157.8 446.1h0.55v0.55h-0.55zM183.0 451.1h0.55v0.55h-0.55zM191.3 444.2h0.55v0.55h-0.55zM149.0 457.5h0.55v0.55h-0.55zM163.8 434.7h0.55v0.55h-0.55zM152.2 439.0h0.55v0.55h-0.55zM154.5 442.3h0.55v0.55h-0.55zM151.6 447.4h0.55v0.55h-0.55zM135.4 432.5h0.55v0.55h-0.55zM183.9 449.4h0.55v0.55h-0.55zM147.2 451.4h0.55v0.55h-0.55zM174.6 445.9h0.55v0.55h-0.55zM137.0 451.0h0.55v0.55h-0.55zM168.5 446.3h0.55v0.55h-0.55zM143.8 450.7h0.55v0.55h-0.55zM148.1 453.6h0.55v0.55h-0.55zM150.2 453.9h0.55v0.55h-0.55zM134.9 437.8h0.55v0.55h-0.55zM142.8 449.4h0.55v0.55h-0.55zM142.6 443.0h0.55v0.55h-0.55zM189.0 445.5h0.55v0.55h-0.55zM157.9 426.9h0.55v0.55h-0.55zM181.9 464.0h0.55v0.55h-0.55zM146.6 454.4h0.55v0.55h-0.55zM159.7 452.8h0.55v0.55h-0.55zM188.2 446.2h0.55v0.55h-0.55zM155.2 436.1h0.55v0.55h-0.55zM142.9 442.6h0.55v0.55h-0.55zM157.3 450.9h0.55v0.55h-0.55zM190.4 444.6h0.55v0.55h-0.55zM177.6 446.4h0.55v0.55h-0.55zM136.3 440.8h0.55v0.55h-0.55zM151.4 448.4h0.55v0.55h-0.55zM170.2 445.4h0.55v0.55h-0.55zM148.9 460.3h0.55v0.55h-0.55zM169.9 459.5h0.55v0.55h-0.55zM137.7 440.2h0.55v0.55h-0.55zM161.6 451.3h0.55v0.55h-0.55zM160.3 443.8h0.55v0.55h-0.55zM154.1 448.8h0.55v0.55h-0.55zM188.3 442.1h0.55v0.55h-0.55zM173.8 448.9h0.55v0.55h-0.55zM171.9 445.3h0.55v0.55h-0.55zM143.8 452.3h0.55v0.55h-0.55zM159.1 453.4h0.55v0.55h-0.55zM184.3 466.2h0.55v0.55h-0.55zM166.3 455.8h0.55v0.55h-0.55zM184.7 450.7h0.55v0.55h-0.55zM186.4 443.7h0.55v0.55h-0.55zM145.1 455.9h0.55v0.55h-0.55zM169.3 442.6h0.55v0.55h-0.55zM153.0 446.8h0.55v0.55h-0.55zM157.3 451.4h0.55v0.55h-0.55zM157.0 445.8h0.55v0.55h-0.55zM179.2 448.9h0.55v0.55h-0.55zM189.7 453.8h0.55v0.55h-0.55zM146.8 452.8h0.55v0.55h-0.55zM146.6 456.1h0.55v0.55h-0.55zM192.2 436.6h0.55v0.55h-0.55zM154.6 452.4h0.55v0.55h-0.55zM193.0 452.7h0.55v0.55h-0.55zM173.7 450.4h0.55v0.55h-0.55zM180.9 447.8h0.55v0.55h-0.55zM176.6 444.3h0.55v0.55h-0.55zM143.8 446.3h0.55v0.55h-0.55zM141.7 453.5h0.55v0.55h-0.55zM194.1 447.1h0.55v0.55h-0.55zM171.6 439.9h0.55v0.55h-0.55zM155.9 442.5h0.55v0.55h-0.55zM158.0 443.1h0.55v0.55h-0.55zM179.8 447.9h0.55v0.55h-0.55zM181.5 437.9h0.55v0.55h-0.55zM175.5 446.5h0.55v0.55h-0.55zM193.9 453.8h0.55v0.55h-0.55zM136.8 451.8h0.55v0.55h-0.55zM172.4 447.8h0.55v0.55h-0.55zM146.5 448.8h0.55v0.55h-0.55zM173.5 459.0h0.55v0.55h-0.55zM187.6 444.9h0.55v0.55h-0.55zM169.9 450.2h0.55v0.55h-0.55zM133.1 451.7h0.55v0.55h-0.55zM150.0 454.5h0.55v0.55h-0.55zM178.1 431.9h0.55v0.55h-0.55zM147.4 452.0h0.55v0.55h-0.55zM180.4 439.5h0.55v0.55h-0.55zM148.8 465.0h0.55v0.55h-0.55zM152.9 434.3h0.55v0.55h-0.55zM171.6 439.3h0.55v0.55h-0.55zM184.9 457.7h0.55v0.55h-0.55zM184.4 445.2h0.55v0.55h-0.55zM170.2 468.9h0.55v0.55h-0.55zM188.5 448.1h0.55v0.55h-0.55zM154.3 449.8h0.55v0.55h-0.55zM189.0 455.3h0.55v0.55h-0.55zM186.3 459.4h0.55v0.55h-0.55zM159.3 453.6h0.55v0.55h-0.55zM133.9 455.5h0.55v0.55h-0.55zM145.9 446.3h0.55v0.55h-0.55zM161.0 449.3h0.55v0.55h-0.55zM140.9 439.4h0.55v0.55h-0.55zM140.0 447.6h0.55v0.55h-0.55zM151.7 454.4h0.55v0.55h-0.55zM188.4 448.2h0.55v0.55h-0.55zM154.0 442.7h0.55v0.55h-0.55zM140.2 456.9h0.55v0.55h-0.55zM134.3 445.0h0.55v0.55h-0.55zM179.6 450.1h0.55v0.55h-0.55zM142.2 472.9h0.55v0.55h-0.55zM192.4 437.6h0.55v0.55h-0.55zM139.9 429.4h0.55v0.55h-0.55zM166.0 442.3h0.55v0.55h-0.55zM137.0 444.5h0.55v0.55h-0.55zM160.8 452.9h0.55v0.55h-0.55zM185.7 431.7h0.55v0.55h-0.55zM166.8 444.9h0.55v0.55h-0.55zM167.7 449.5h0.55v0.55h-0.55zM161.3 452.8h0.55v0.55h-0.55zM144.4 461.5h0.55v0.55h-0.55zM172.2 451.8h0.55v0.55h-0.55zM173.9 441.9h0.55v0.55h-0.55zM166.1 428.2h0.55v0.55h-0.55zM160.9 447.9h0.55v0.55h-0.55zM172.1 441.6h0.55v0.55h-0.55zM191.1 460.5h0.55v0.55h-0.55zM160.4 458.2h0.55v0.55h-0.55zM194.0 444.8h0.55v0.55h-0.55zM160.2 444.8h0.55v0.55h-0.55zM161.3 448.5h0.55v0.55h-0.55zM154.4 437.1h0.55v0.55h-0.55zM131.9 426.0h0.55v0.55h-0.55zM147.2 442.9h0.55v0.55h-0.55zM195.4 437.8h0.55v0.55h-0.55zM141.1 434.2h0.55v0.55h-0.55zM170.7 444.0h0.55v0.55h-0.55zM158.1 464.4h0.55v0.55h-0.55zM163.4 447.0h0.55v0.55h-0.55zM139.3 440.6h0.55v0.55h-0.55zM169.3 446.7h0.55v0.55h-0.55zM182.7 439.5h0.55v0.55h-0.55zM145.0 451.6h0.55v0.55h-0.55zM145.3 445.7h0.55v0.55h-0.55zM134.4 449.7h0.55v0.55h-0.55zM142.0 455.7h0.55v0.55h-0.55zM161.6 430.3h0.55v0.55h-0.55zM136.3 455.0h0.55v0.55h-0.55zM162.2 450.2h0.55v0.55h-0.55zM154.5 442.3h0.55v0.55h-0.55zM180.3 431.8h0.55v0.55h-0.55zM130.3 443.0h0.55v0.55h-0.55zM142.1 448.6h0.55v0.55h-0.55zM150.2 456.0h0.55v0.55h-0.55zM191.8 454.9h0.55v0.55h-0.55zM178.6 434.4h0.55v0.55h-0.55zM158.9 452.5h0.55v0.55h-0.55zM155.2 436.8h0.55v0.55h-0.55zM146.0 445.5h0.55v0.55h-0.55zM191.8 435.4h0.55v0.55h-0.55zM186.1 427.8h0.55v0.55h-0.55zM136.8 436.2h0.55v0.55h-0.55zM168.1 433.1h0.55v0.55h-0.55zM193.5 449.6h0.55v0.55h-0.55zM146.4 451.4h0.55v0.55h-0.55zM164.7 451.5h0.55v0.55h-0.55zM191.1 438.2h0.55v0.55h-0.55zM166.7 434.4h0.55v0.55h-0.55zM143.3 449.9h0.55v0.55h-0.55zM193.1 448.5h0.55v0.55h-0.55zM163.0 440.5h0.55v0.55h-0.55zM172.9 451.3h0.55v0.55h-0.55zM194.2 442.1h0.55v0.55h-0.55zM153.7 449.9h0.55v0.55h-0.55zM175.2 456.2h0.55v0.55h-0.55zM178.7 453.7h0.55v0.55h-0.55zM164.1 455.3h0.55v0.55h-0.55zM148.2 441.8h0.55v0.55h-0.55zM183.1 454.6h0.55v0.55h-0.55zM153.3 446.0h0.55v0.55h-0.55zM195.2 458.0h0.55v0.55h-0.55zM179.1 449.5h0.55v0.55h-0.55zM147.4 451.7h0.55v0.55h-0.55zM171.8 436.7h0.55v0.55h-0.55zM137.4 453.0h0.55v0.55h-0.55zM153.9 448.2h0.55v0.55h-0.55zM195.1 440.6h0.55v0.55h-0.55zM183.0 435.3h0.55v0.55h-0.55zM184.9 463.4h0.55v0.55h-0.55zM185.3 461.8h0.55v0.55h-0.55zM154.2 455.8h0.55v0.55h-0.55zM133.5 455.8h0.55v0.55h-0.55zM149.0 448.0h0.55v0.55h-0.55zM190.7 450.9h0.55v0.55h-0.55zM186.3 446.9h0.55v0.55h-0.55zM151.9 457.8h0.55v0.55h-0.55zM170.3 448.3h0.55v0.55h-0.55zM179.8 431.0h0.55v0.55h-0.55zM185.0 450.7h0.55v0.55h-0.55zM135.7 438.8h0.55v0.55h-0.55zM150.4 466.7h0.55v0.55h-0.55zM157.9 437.9h0.55v0.55h-0.55zM149.5 453.3h0.55v0.55h-0.55zM145.2 448.9h0.55v0.55h-0.55zM146.0 440.1h0.55v0.55h-0.55zM191.0 434.8h0.55v0.55h-0.55zM167.4 442.7h0.55v0.55h-0.55zM149.7 460.6h0.55v0.55h-0.55zM131.5 444.2h0.55v0.55h-0.55zM176.7 438.8h0.55v0.55h-0.55zM153.3 446.5h0.55v0.55h-0.55zM188.2 451.9h0.55v0.55h-0.55zM144.4 444.8h0.55v0.55h-0.55zM147.3 443.7h0.55v0.55h-0.55zM188.3 452.8h0.55v0.55h-0.55zM158.4 459.9h0.55v0.55h-0.55zM176.4 453.3h0.55v0.55h-0.55zM155.3 445.0h0.55v0.55h-0.55zM192.2 436.0h0.55v0.55h-0.55zM135.6 443.1h0.55v0.55h-0.55zM139.9 457.5h0.55v0.55h-0.55zM189.9 456.3h0.55v0.55h-0.55zM193.4 434.3h0.55v0.55h-0.55zM133.0 455.6h0.55v0.55h-0.55zM179.8 451.5h0.55v0.55h-0.55zM151.5 442.9h0.55v0.55h-0.55zM149.0 461.0h0.55v0.55h-0.55zM192.8 443.2h0.55v0.55h-0.55zM146.5 451.9h0.55v0.55h-0.55zM160.3 452.2h0.55v0.55h-0.55zM184.3 452.6h0.55v0.55h-0.55zM186.5 452.6h0.55v0.55h-0.55zM148.4 433.2h0.55v0.55h-0.55zM160.1 441.3h0.55v0.55h-0.55zM174.7 448.3h0.55v0.55h-0.55zM151.4 435.0h0.55v0.55h-0.55zM164.7 434.2h0.55v0.55h-0.55zM139.3 465.2h0.55v0.55h-0.55zM132.1 459.5h0.55v0.55h-0.55zM135.1 439.3h0.55v0.55h-0.55zM165.0 437.8h0.55v0.55h-0.55zM167.6 437.8h0.55v0.55h-0.55zM139.8 446.7h0.55v0.55h-0.55zM145.2 437.5h0.55v0.55h-0.55zM175.6 454.9h0.55v0.55h-0.55zM165.4 454.8h0.55v0.55h-0.55zM176.5 450.6h0.55v0.55h-0.55zM153.1 426.1h0.55v0.55h-0.55zM183.8 448.5h0.55v0.55h-0.55zM184.4 439.9h0.55v0.55h-0.55zM190.0 445.2h0.55v0.55h-0.55zM157.6 449.1h0.55v0.55h-0.55zM182.4 470.0h0.55v0.55h-0.55zM146.6 438.7h0.55v0.55h-0.55zM150.9 450.6h0.55v0.55h-0.55zM136.6 453.2h0.55v0.55h-0.55zM150.9 444.2h0.55v0.55h-0.55zM145.9 441.5h0.55v0.55h-0.55zM152.3 451.6h0.55v0.55h-0.55zM145.9 433.3h0.55v0.55h-0.55zM136.9 450.4h0.55v0.55h-0.55zM158.1 443.1h0.55v0.55h-0.55zM140.9 443.1h0.55v0.55h-0.55zM155.2 465.5h0.55v0.55h-0.55zM157.9 430.9h0.55v0.55h-0.55zM163.3 464.8h0.55v0.55h-0.55zM131.4 450.4h0.55v0.55h-0.55zM175.1 435.5h0.55v0.55h-0.55zM142.6 454.4h0.55v0.55h-0.55zM189.4 447.3h0.55v0.55h-0.55zM156.3 446.3h0.55v0.55h-0.55zM137.6 456.1h0.55v0.55h-0.55zM157.2 449.0h0.55v0.55h-0.55zM183.0 446.3h0.55v0.55h-0.55zM169.9 464.4h0.55v0.55h-0.55zM136.4 447.6h0.55v0.55h-0.55zM180.0 462.7h0.55v0.55h-0.55zM166.8 455.8h0.55v0.55h-0.55zM143.9 443.9h0.55v0.55h-0.55zM170.3 453.7h0.55v0.55h-0.55zM147.4 447.0h0.55v0.55h-0.55zM166.6 441.1h0.55v0.55h-0.55zM162.3 428.4h0.55v0.55h-0.55zM153.4 441.3h0.55v0.55h-0.55zM193.7 455.1h0.55v0.55h-0.55zM143.7 444.5h0.55v0.55h-0.55zM163.2 448.2h0.55v0.55h-0.55zM155.2 454.0h0.55v0.55h-0.55zM172.6 457.5h0.55v0.55h-0.55zM162.7 445.7h0.55v0.55h-0.55zM144.8 452.3h0.55v0.55h-0.55zM149.0 445.0h0.55v0.55h-0.55zM151.3 457.1h0.55v0.55h-0.55zM151.8 447.6h0.55v0.55h-0.55zM146.3 440.2h0.55v0.55h-0.55zM137.4 459.2h0.55v0.55h-0.55zM157.0 449.3h0.55v0.55h-0.55zM139.2 438.9h0.55v0.55h-0.55zM165.8 447.3h0.55v0.55h-0.55zM191.7 466.6h0.55v0.55h-0.55zM150.3 452.5h0.55v0.55h-0.55zM186.1 444.3h0.55v0.55h-0.55zM195.1 443.5h0.55v0.55h-0.55zM139.3 458.6h0.55v0.55h-0.55zM171.9 461.5h0.55v0.55h-0.55zM148.2 442.5h0.55v0.55h-0.55zM152.7 461.7h0.55v0.55h-0.55zM165.4 462.8h0.55v0.55h-0.55zM190.9 462.5h0.55v0.55h-0.55zM161.8 455.8h0.55v0.55h-0.55zM164.9 457.1h0.55v0.55h-0.55zM166.2 440.7h0.55v0.55h-0.55zM163.5 458.2h0.55v0.55h-0.55zM167.5 449.8h0.55v0.55h-0.55zM181.6 443.4h0.55v0.55h-0.55zM167.0 436.1h0.55v0.55h-0.55zM192.5 439.2h0.55v0.55h-0.55zM170.2 450.1h0.55v0.55h-0.55zM164.3 438.3h0.55v0.55h-0.55zM176.3 452.5h0.55v0.55h-0.55zM153.8 445.5h0.55v0.55h-0.55zM167.9 446.9h0.55v0.55h-0.55zM186.1 431.9h0.55v0.55h-0.55zM192.6 457.1h0.55v0.55h-0.55zM175.9 433.3h0.55v0.55h-0.55zM164.1 448.7h0.55v0.55h-0.55zM153.8 445.7h0.55v0.55h-0.55zM189.7 445.1h0.55v0.55h-0.55zM167.2 440.9h0.55v0.55h-0.55zM161.2 453.5h0.55v0.55h-0.55zM178.7 447.8h0.55v0.55h-0.55zM143.7 441.2h0.55v0.55h-0.55zM177.5 448.2h0.55v0.55h-0.55zM143.9 450.9h0.55v0.55h-0.55zM173.3 450.9h0.55v0.55h-0.55zM159.2 444.3h0.55v0.55h-0.55zM194.4 442.5h0.55v0.55h-0.55zM179.5 454.0h0.55v0.55h-0.55zM145.8 447.5h0.55v0.55h-0.55zM192.5 455.0h0.55v0.55h-0.55zM136.2 451.8h0.55v0.55h-0.55zM144.3 446.2h0.55v0.55h-0.55zM183.2 442.5h0.55v0.55h-0.55zM188.0 465.5h0.55v0.55h-0.55zM192.4 456.1h0.55v0.55h-0.55zM158.1 455.5h0.55v0.55h-0.55zM142.9 459.2h0.55v0.55h-0.55zM182.9 446.8h0.55v0.55h-0.55zM187.3 445.1h0.55v0.55h-0.55zM141.7 455.7h0.55v0.55h-0.55zM191.2 454.6h0.55v0.55h-0.55zM175.0 462.8h0.55v0.55h-0.55zM160.9 447.8h0.55v0.55h-0.55zM182.9 441.8h0.55v0.55h-0.55zM188.4 462.6h0.55v0.55h-0.55zM166.4 452.2h0.55v0.55h-0.55zM195.1 440.3h0.55v0.55h-0.55zM130.2 445.0h0.55v0.55h-0.55zM154.6 446.6h0.55v0.55h-0.55zM138.9 447.4h0.55v0.55h-0.55zM156.6 451.1h0.55v0.55h-0.55zM190.2 462.1h0.55v0.55h-0.55zM186.3 440.5h0.55v0.55h-0.55zM189.1 450.0h0.55v0.55h-0.55zM145.6 445.9h0.55v0.55h-0.55zM172.8 439.8h0.55v0.55h-0.55zM165.8 442.1h0.55v0.55h-0.55zM153.7 459.8h0.55v0.55h-0.55zM140.3 442.5h0.55v0.55h-0.55zM176.5 457.6h0.55v0.55h-0.55zM131.2 441.9h0.55v0.55h-0.55zM140.5 456.7h0.55v0.55h-0.55zM155.4 442.3h0.55v0.55h-0.55zM146.0 423.7h0.55v0.55h-0.55zM189.3 440.7h0.55v0.55h-0.55zM150.8 448.4h0.55v0.55h-0.55zM157.7 438.7h0.55v0.55h-0.55zM136.1 448.1h0.55v0.55h-0.55zM156.5 453.3h0.55v0.55h-0.55zM170.9 443.4h0.55v0.55h-0.55zM179.1 443.8h0.55v0.55h-0.55zM190.4 454.9h0.55v0.55h-0.55zM182.2 453.3h0.55v0.55h-0.55zM146.3 454.0h0.55v0.55h-0.55zM143.7 452.9h0.55v0.55h-0.55zM149.8 442.8h0.55v0.55h-0.55zM148.5 435.9h0.55v0.55h-0.55zM144.2 462.5h0.55v0.55h-0.55zM188.6 439.2h0.55v0.55h-0.55zM187.6 451.9h0.55v0.55h-0.55zM179.1 444.0h0.55v0.55h-0.55zM162.5 446.2h0.55v0.55h-0.55zM146.2 443.5h0.55v0.55h-0.55zM146.1 449.2h0.55v0.55h-0.55zM176.3 454.2h0.55v0.55h-0.55zM182.2 456.1h0.55v0.55h-0.55zM164.5 455.2h0.55v0.55h-0.55zM142.0 433.9h0.55v0.55h-0.55zM130.1 446.0h0.55v0.55h-0.55zM149.4 441.8h0.55v0.55h-0.55zM181.3 448.7h0.55v0.55h-0.55zM148.7 452.6h0.55v0.55h-0.55zM166.5 449.4h0.55v0.55h-0.55zM156.9 438.6h0.55v0.55h-0.55zM171.6 449.1h0.55v0.55h-0.55zM177.0 434.5h0.55v0.55h-0.55zM155.8 455.2h0.55v0.55h-0.55zM167.1 427.2h0.55v0.55h-0.55zM161.2 444.0h0.55v0.55h-0.55zM133.1 455.8h0.55v0.55h-0.55zM159.6 443.1h0.55v0.55h-0.55zM133.3 456.3h0.55v0.55h-0.55zM138.5 451.7h0.55v0.55h-0.55zM146.3 456.8h0.55v0.55h-0.55zM171.1 445.7h0.55v0.55h-0.55zM163.1 461.3h0.55v0.55h-0.55zM130.6 452.2h0.55v0.55h-0.55zM184.4 443.4h0.55v0.55h-0.55zM182.9 446.2h0.55v0.55h-0.55zM173.1 464.8h0.55v0.55h-0.55zM160.9 427.9h0.55v0.55h-0.55zM193.6 463.1h0.55v0.55h-0.55zM165.3 459.1h0.55v0.55h-0.55zM181.2 456.2h0.55v0.55h-0.55zM188.0 444.8h0.55v0.55h-0.55zM191.3 451.2h0.55v0.55h-0.55zM172.6 455.4h0.55v0.55h-0.55zM187.8 457.1h0.55v0.55h-0.55zM143.7 440.0h0.55v0.55h-0.55zM193.7 455.8h0.55v0.55h-0.55zM158.2 455.3h0.55v0.55h-0.55zM186.9 438.6h0.55v0.55h-0.55zM156.7 446.3h0.55v0.55h-0.55zM168.4 440.5h0.55v0.55h-0.55zM157.5 446.4h0.55v0.55h-0.55zM131.9 457.4h0.55v0.55h-0.55zM179.0 449.8h0.55v0.55h-0.55zM193.2 450.8h0.55v0.55h-0.55zM141.3 448.3h0.55v0.55h-0.55zM178.6 450.0h0.55v0.55h-0.55zM179.3 459.8h0.55v0.55h-0.55zM146.8 446.4h0.55v0.55h-0.55zM147.6 452.7h0.55v0.55h-0.55zM192.5 450.6h0.55v0.55h-0.55zM167.4 441.5h0.55v0.55h-0.55zM175.1 459.9h0.55v0.55h-0.55zM172.8 465.3h0.55v0.55h-0.55zM166.9 458.1h0.55v0.55h-0.55zM167.1 457.6h0.55v0.55h-0.55zM170.2 450.4h0.55v0.55h-0.55zM181.0 459.5h0.55v0.55h-0.55zM161.3 439.5h0.55v0.55h-0.55zM137.2 436.7h0.55v0.55h-0.55zM153.9 457.1h0.55v0.55h-0.55zM186.5 432.4h0.55v0.55h-0.55zM133.9 451.3h0.55v0.55h-0.55zM168.8 456.5h0.55v0.55h-0.55zM150.1 433.0h0.55v0.55h-0.55zM131.7 442.3h0.55v0.55h-0.55zM164.3 447.7h0.55v0.55h-0.55zM173.0 440.7h0.55v0.55h-0.55zM161.3 441.6h0.55v0.55h-0.55zM177.0 448.7h0.55v0.55h-0.55zM179.8 456.8h0.55v0.55h-0.55zM172.0 458.8h0.55v0.55h-0.55zM177.2 451.3h0.55v0.55h-0.55zM166.0 433.5h0.55v0.55h-0.55zM180.0 430.7h0.55v0.55h-0.55zM146.8 460.5h0.55v0.55h-0.55zM172.9 455.8h0.55v0.55h-0.55zM152.8 456.1h0.55v0.55h-0.55zM151.6 445.2h0.55v0.55h-0.55zM138.2 449.2h0.55v0.55h-0.55zM138.9 444.8h0.55v0.55h-0.55zM147.8 451.3h0.55v0.55h-0.55zM153.9 431.4h0.55v0.55h-0.55zM151.8 454.8h0.55v0.55h-0.55zM183.2 455.3h0.55v0.55h-0.55zM173.1 452.1h0.55v0.55h-0.55zM133.1 455.9h0.55v0.55h-0.55zM173.8 459.7h0.55v0.55h-0.55zM137.2 437.0h0.55v0.55h-0.55zM155.7 462.6h0.55v0.55h-0.55zM187.9 436.8h0.55v0.55h-0.55zM168.7 450.8h0.55v0.55h-0.55zM134.4 440.7h0.55v0.55h-0.55zM170.9 445.0h0.55v0.55h-0.55zM193.4 459.4h0.55v0.55h-0.55zM141.6 446.3h0.55v0.55h-0.55zM135.0 444.5h0.55v0.55h-0.55zM170.6 458.9h0.55v0.55h-0.55zM167.8 455.7h0.55v0.55h-0.55zM149.6 444.5h0.55v0.55h-0.55zM146.6 436.2h0.55v0.55h-0.55zM163.8 467.1h0.55v0.55h-0.55zM152.4 447.5h0.55v0.55h-0.55zM177.8 450.4h0.55v0.55h-0.55zM191.8 452.7h0.55v0.55h-0.55zM138.1 437.8h0.55v0.55h-0.55zM133.3 454.2h0.55v0.55h-0.55zM146.7 443.6h0.55v0.55h-0.55zM180.4 446.5h0.55v0.55h-0.55zM179.7 456.8h0.55v0.55h-0.55zM138.9 456.0h0.55v0.55h-0.55zM134.5 446.4h0.55v0.55h-0.55zM150.0 441.2h0.55v0.55h-0.55zM182.5 451.6h0.55v0.55h-0.55zM174.0 449.7h0.55v0.55h-0.55zM162.9 443.8h0.55v0.55h-0.55zM186.5 445.5h0.55v0.55h-0.55zM189.5 447.2h0.55v0.55h-0.55zM190.7 449.6h0.55v0.55h-0.55zM184.4 463.4h0.55v0.55h-0.55zM150.0 450.0h0.55v0.55h-0.55zM157.6 455.4h0.55v0.55h-0.55zM156.0 464.8h0.55v0.55h-0.55zM144.8 450.6h0.55v0.55h-0.55zM173.9 462.8h0.55v0.55h-0.55zM133.9 448.8h0.55v0.55h-0.55zM162.5 433.5h0.55v0.55h-0.55zM172.2 435.2h0.55v0.55h-0.55zM192.5 442.5h0.55v0.55h-0.55zM140.6 446.8h0.55v0.55h-0.55zM187.3 446.7h0.55v0.55h-0.55zM132.7 438.4h0.55v0.55h-0.55zM150.0 448.5h0.55v0.55h-0.55zM186.6 453.8h0.55v0.55h-0.55zM158.5 449.3h0.55v0.55h-0.55zM188.0 444.8h0.55v0.55h-0.55zM195.7 448.5h0.55v0.55h-0.55zM140.6 433.8h0.55v0.55h-0.55zM182.6 449.1h0.55v0.55h-0.55zM181.2 445.0h0.55v0.55h-0.55zM174.0 448.8h0.55v0.55h-0.55zM181.3 442.9h0.55v0.55h-0.55zM165.3 444.6h0.55v0.55h-0.55zM162.8 439.0h0.55v0.55h-0.55zM140.1 452.6h0.55v0.55h-0.55zM194.7 445.0h0.55v0.55h-0.55zM147.9 448.6h0.55v0.55h-0.55zM184.6 429.7h0.55v0.55h-0.55zM133.4 460.6h0.55v0.55h-0.55zM163.0 448.6h0.55v0.55h-0.55zM191.0 454.2h0.55v0.55h-0.55zM150.6 452.9h0.55v0.55h-0.55zM142.1 444.2h0.55v0.55h-0.55zM194.2 452.0h0.55v0.55h-0.55zM163.4 445.5h0.55v0.55h-0.55zM180.6 450.6h0.55v0.55h-0.55zM136.0 440.1h0.55v0.55h-0.55zM170.3 447.0h0.55v0.55h-0.55zM188.3 440.7h0.55v0.55h-0.55zM167.0 458.6h0.55v0.55h-0.55zM180.4 457.2h0.55v0.55h-0.55zM166.0 455.9h0.55v0.55h-0.55zM149.5 434.4h0.55v0.55h-0.55zM133.8 448.0h0.55v0.55h-0.55zM130.5 451.8h0.55v0.55h-0.55zM143.5 446.2h0.55v0.55h-0.55zM178.1 436.0h0.55v0.55h-0.55zM163.5 441.3h0.55v0.55h-0.55zM135.1 450.0h0.55v0.55h-0.55zM179.5 466.5h0.55v0.55h-0.55zM184.2 464.8h0.55v0.55h-0.55zM152.5 442.0h0.55v0.55h-0.55zM142.7 441.7h0.55v0.55h-0.55zM131.3 454.5h0.55v0.55h-0.55zM167.4 446.5h0.55v0.55h-0.55zM168.6 448.6h0.55v0.55h-0.55zM159.3 445.5h0.55v0.55h-0.55zM181.6 453.8h0.55v0.55h-0.55zM181.1 451.5h0.55v0.55h-0.55zM175.9 453.6h0.55v0.55h-0.55zM134.3 449.4h0.55v0.55h-0.55zM142.8 442.6h0.55v0.55h-0.55zM176.2 439.2h0.55v0.55h-0.55zM146.6 445.0h0.55v0.55h-0.55zM173.9 462.0h0.55v0.55h-0.55zM191.1 430.6h0.55v0.55h-0.55zM161.1 455.3h0.55v0.55h-0.55zM166.1 451.9h0.55v0.55h-0.55zM173.6 461.4h0.55v0.55h-0.55zM130.6 450.0h0.55v0.55h-0.55zM155.5 442.1h0.55v0.55h-0.55zM164.7 456.9h0.55v0.55h-0.55zM135.4 453.0h0.55v0.55h-0.55zM188.0 431.8h0.55v0.55h-0.55zM133.5 446.8h0.55v0.55h-0.55zM185.5 465.2h0.55v0.55h-0.55zM191.2 446.5h0.55v0.55h-0.55zM181.5 446.0h0.55v0.55h-0.55zM130.6 435.5h0.55v0.55h-0.55zM163.0 437.1h0.55v0.55h-0.55zM138.8 434.8h0.55v0.55h-0.55zM146.4 443.0h0.55v0.55h-0.55zM187.1 448.3h0.55v0.55h-0.55zM157.8 445.2h0.55v0.55h-0.55zM149.0 444.8h0.55v0.55h-0.55zM174.9 435.2h0.55v0.55h-0.55zM192.1 451.7h0.55v0.55h-0.55zM176.1 445.0h0.55v0.55h-0.55zM136.6 453.3h0.55v0.55h-0.55zM194.6 455.7h0.55v0.55h-0.55zM187.3 438.3h0.55v0.55h-0.55zM190.9 454.2h0.55v0.55h-0.55zM131.2 444.4h0.55v0.55h-0.55zM138.7 448.4h0.55v0.55h-0.55zM189.4 459.7h0.55v0.55h-0.55zM133.1 437.9h0.55v0.55h-0.55zM146.3 451.9h0.55v0.55h-0.55zM176.7 448.9h0.55v0.55h-0.55zM194.7 435.9h0.55v0.55h-0.55zM131.0 444.2h0.55v0.55h-0.55zM188.1 451.4h0.55v0.55h-0.55zM168.2 436.6h0.55v0.55h-0.55zM165.2 454.9h0.55v0.55h-0.55zM177.1 440.0h0.55v0.55h-0.55zM185.6 438.7h0.55v0.55h-0.55zM194.8 442.9h0.55v0.55h-0.55zM190.2 448.6h0.55v0.55h-0.55zM156.8 447.4h0.55v0.55h-0.55zM151.4 446.6h0.55v0.55h-0.55zM189.5 436.5h0.55v0.55h-0.55zM130.0 449.8h0.55v0.55h-0.55zM134.4 447.2h0.55v0.55h-0.55zM173.7 441.1h0.55v0.55h-0.55zM166.5 447.1h0.55v0.55h-0.55zM134.5 449.6h0.55v0.55h-0.55zM131.0 452.9h0.55v0.55h-0.55zM163.2 454.3h0.55v0.55h-0.55zM175.0 439.2h0.55v0.55h-0.55zM152.2 445.0h0.55v0.55h-0.55zM172.8 440.0h0.55v0.55h-0.55zM152.7 452.2h0.55v0.55h-0.55zM161.4 443.1h0.55v0.55h-0.55zM187.1 450.8h0.55v0.55h-0.55zM167.9 446.7h0.55v0.55h-0.55zM188.5 439.4h0.55v0.55h-0.55zM189.4 460.1h0.55v0.55h-0.55zM193.7 450.6h0.55v0.55h-0.55zM169.6 449.9h0.55v0.55h-0.55zM162.6 435.2h0.55v0.55h-0.55zM130.5 443.5h0.55v0.55h-0.55zM182.7 448.2h0.55v0.55h-0.55zM134.5 459.0h0.55v0.55h-0.55zM139.7 442.6h0.55v0.55h-0.55zM190.7 432.0h0.55v0.55h-0.55zM152.5 450.6h0.55v0.55h-0.55zM139.0 446.5h0.55v0.55h-0.55zM144.3 453.0h0.55v0.55h-0.55zM165.5 453.4h0.55v0.55h-0.55zM190.2 444.4h0.55v0.55h-0.55zM167.8 439.7h0.55v0.55h-0.55zM165.4 461.5h0.55v0.55h-0.55zM192.3 432.0h0.55v0.55h-0.55zM174.8 456.1h0.55v0.55h-0.55zM170.7 460.6h0.55v0.55h-0.55zM180.5 444.7h0.55v0.55h-0.55zM167.2 449.8h0.55v0.55h-0.55zM143.2 441.4h0.55v0.55h-0.55zM143.4 453.7h0.55v0.55h-0.55zM180.8 440.5h0.55v0.55h-0.55zM161.5 457.2h0.55v0.55h-0.55zM174.7 452.5h0.55v0.55h-0.55zM152.4 463.1h0.55v0.55h-0.55zM155.2 447.0h0.55v0.55h-0.55zM149.7 443.2h0.55v0.55h-0.55zM189.8 455.8h0.55v0.55h-0.55zM131.7 459.1h0.55v0.55h-0.55zM193.6 443.0h0.55v0.55h-0.55zM174.4 446.7h0.55v0.55h-0.55zM139.8 457.7h0.55v0.55h-0.55zM152.4 454.2h0.55v0.55h-0.55zM143.6 440.8h0.55v0.55h-0.55zM183.9 439.6h0.55v0.55h-0.55zM194.9 453.9h0.55v0.55h-0.55zM165.3 448.5h0.55v0.55h-0.55zM147.0 436.8h0.55v0.55h-0.55zM184.0 438.0h0.55v0.55h-0.55zM178.3 441.2h0.55v0.55h-0.55zM179.4 459.7h0.55v0.55h-0.55zM184.3 447.0h0.55v0.55h-0.55zM183.7 455.9h0.55v0.55h-0.55zM189.8 429.6h0.55v0.55h-0.55zM156.3 442.0h0.55v0.55h-0.55zM177.6 448.7h0.55v0.55h-0.55zM181.2 466.2h0.55v0.55h-0.55zM157.2 453.9h0.55v0.55h-0.55zM186.9 451.9h0.55v0.55h-0.55zM178.7 443.6h0.55v0.55h-0.55zM178.3 441.8h0.55v0.55h-0.55zM190.3 451.2h0.55v0.55h-0.55zM138.0 455.4h0.55v0.55h-0.55zM147.2 442.1h0.55v0.55h-0.55zM135.2 450.2h0.55v0.55h-0.55zM149.4 441.9h0.55v0.55h-0.55zM131.8 441.2h0.55v0.55h-0.55zM148.7 444.5h0.55v0.55h-0.55zM186.0 445.1h0.55v0.55h-0.55zM167.2 447.8h0.55v0.55h-0.55zM159.5 447.3h0.55v0.55h-0.55zM166.1 452.4h0.55v0.55h-0.55zM181.0 437.1h0.55v0.55h-0.55zM141.9 444.2h0.55v0.55h-0.55zM185.7 452.7h0.55v0.55h-0.55zM142.1 440.4h0.55v0.55h-0.55zM166.8 449.4h0.55v0.55h-0.55zM178.0 448.4h0.55v0.55h-0.55zM182.6 446.6h0.55v0.55h-0.55zM140.2 442.3h0.55v0.55h-0.55zM154.0 451.7h0.55v0.55h-0.55zM143.4 448.4h0.55v0.55h-0.55zM143.2 451.0h0.55v0.55h-0.55zM166.5 449.8h0.55v0.55h-0.55zM182.4 460.9h0.55v0.55h-0.55zM177.2 454.5h0.55v0.55h-0.55zM188.9 434.8h0.55v0.55h-0.55zM149.8 445.7h0.55v0.55h-0.55zM168.7 446.7h0.55v0.55h-0.55zM135.8 451.8h0.55v0.55h-0.55zM162.8 437.8h0.55v0.55h-0.55zM171.7 442.9h0.55v0.55h-0.55zM176.1 430.1h0.55v0.55h-0.55zM189.9 440.4h0.55v0.55h-0.55zM139.3 437.2h0.55v0.55h-0.55zM136.7 441.8h0.55v0.55h-0.55zM195.6 452.8h0.55v0.55h-0.55zM192.9 453.8h0.55v0.55h-0.55zM159.8 434.3h0.55v0.55h-0.55zM141.4 446.3h0.55v0.55h-0.55zM136.8 450.4h0.55v0.55h-0.55zM146.5 462.9h0.55v0.55h-0.55zM146.6 459.6h0.55v0.55h-0.55zM167.3 459.0h0.55v0.55h-0.55zM181.9 456.2h0.55v0.55h-0.55zM151.1 437.9h0.55v0.55h-0.55zM155.4 442.7h0.55v0.55h-0.55zM144.0 438.0h0.55v0.55h-0.55zM131.2 462.2h0.55v0.55h-0.55zM169.8 462.3h0.55v0.55h-0.55zM136.6 453.8h0.55v0.55h-0.55zM170.3 450.6h0.55v0.55h-0.55zM186.1 444.4h0.55v0.55h-0.55zM189.6 447.7h0.55v0.55h-0.55zM138.5 453.4h0.55v0.55h-0.55zM168.1 439.2h0.55v0.55h-0.55zM144.3 432.8h0.55v0.55h-0.55zM137.9 447.7h0.55v0.55h-0.55zM131.4 450.2h0.55v0.55h-0.55zM155.7 426.9h0.55v0.55h-0.55zM180.0 440.0h0.55v0.55h-0.55zM158.0 441.7h0.55v0.55h-0.55zM185.5 447.4h0.55v0.55h-0.55zM154.5 445.0h0.55v0.55h-0.55zM158.6 451.2h0.55v0.55h-0.55zM136.9 456.7h0.55v0.55h-0.55zM136.9 445.7h0.55v0.55h-0.55zM155.5 457.3h0.55v0.55h-0.55zM172.3 455.6h0.55v0.55h-0.55zM155.3 449.9h0.55v0.55h-0.55zM168.4 445.8h0.55v0.55h-0.55zM148.2 432.0h0.55v0.55h-0.55zM132.0 432.5h0.55v0.55h-0.55zM157.5 458.0h0.55v0.55h-0.55zM191.4 454.7h0.55v0.55h-0.55zM186.4 459.9h0.55v0.55h-0.55zM142.0 445.8h0.55v0.55h-0.55zM130.1 454.1h0.55v0.55h-0.55zM172.4 443.1h0.55v0.55h-0.55zM171.4 441.3h0.55v0.55h-0.55zM154.3 452.0h0.55v0.55h-0.55zM165.9 447.3h0.55v0.55h-0.55zM192.5 458.2h0.55v0.55h-0.55zM146.1 445.6h0.55v0.55h-0.55zM185.5 447.4h0.55v0.55h-0.55zM141.4 455.3h0.55v0.55h-0.55zM167.0 445.4h0.55v0.55h-0.55zM171.6 454.8h0.55v0.55h-0.55zM171.7 451.2h0.55v0.55h-0.55zM155.6 456.2h0.55v0.55h-0.55zM181.5 432.6h0.55v0.55h-0.55zM175.9 456.1h0.55v0.55h-0.55zM163.6 441.9h0.55v0.55h-0.55zM155.0 447.0h0.55v0.55h-0.55zM146.4 436.5h0.55v0.55h-0.55zM160.1 432.1h0.55v0.55h-0.55zM149.1 440.5h0.55v0.55h-0.55zM140.1 442.8h0.55v0.55h-0.55zM195.1 452.7h0.55v0.55h-0.55zM154.3 457.4h0.55v0.55h-0.55zM168.2 449.3h0.55v0.55h-0.55zM134.6 445.0h0.55v0.55h-0.55zM176.5 443.1h0.55v0.55h-0.55zM163.1 441.7h0.55v0.55h-0.55zM186.1 451.9h0.55v0.55h-0.55zM152.5 445.9h0.55v0.55h-0.55zM157.8 450.2h0.55v0.55h-0.55zM141.0 446.1h0.55v0.55h-0.55zM130.1 444.8h0.55v0.55h-0.55zM164.9 462.5h0.55v0.55h-0.55zM134.9 438.2h0.55v0.55h-0.55zM173.3 457.4h0.55v0.55h-0.55zM190.8 454.5h0.55v0.55h-0.55zM136.7 439.2h0.55v0.55h-0.55zM168.0 459.6h0.55v0.55h-0.55zM193.2 459.1h0.55v0.55h-0.55zM189.5 459.8h0.55v0.55h-0.55zM188.3 448.8h0.55v0.55h-0.55zM145.6 462.4h0.55v0.55h-0.55zM131.0 446.4h0.55v0.55h-0.55zM178.0 447.1h0.55v0.55h-0.55zM165.1 459.1h0.55v0.55h-0.55zM146.8 445.2h0.55v0.55h-0.55zM178.7 449.1h0.55v0.55h-0.55zM168.5 448.7h0.55v0.55h-0.55zM152.5 449.3h0.55v0.55h-0.55zM175.3 459.1h0.55v0.55h-0.55zM151.9 458.4h0.55v0.55h-0.55zM176.5 445.1h0.55v0.55h-0.55zM191.8 425.9h0.55v0.55h-0.55zM189.8 460.1h0.55v0.55h-0.55zM190.5 453.4h0.55v0.55h-0.55zM195.5 457.4h0.55v0.55h-0.55zM134.6 448.4h0.55v0.55h-0.55zM171.8 446.4h0.55v0.55h-0.55zM188.7 444.3h0.55v0.55h-0.55zM174.4 443.6h0.55v0.55h-0.55zM176.7 460.1h0.55v0.55h-0.55zM140.5 451.0h0.55v0.55h-0.55zM184.4 455.0h0.55v0.55h-0.55zM158.2 461.9h0.55v0.55h-0.55zM167.0 446.4h0.55v0.55h-0.55zM163.2 452.4h0.55v0.55h-0.55zM150.6 460.2h0.55v0.55h-0.55zM136.1 455.8h0.55v0.55h-0.55zM164.4 453.7h0.55v0.55h-0.55zM169.2 454.1h0.55v0.55h-0.55zM173.2 447.2h0.55v0.55h-0.55zM186.2 444.0h0.55v0.55h-0.55zM169.9 457.1h0.55v0.55h-0.55zM190.8 436.0h0.55v0.55h-0.55zM157.7 456.9h0.55v0.55h-0.55zM166.5 454.0h0.55v0.55h-0.55zM140.4 445.2h0.55v0.55h-0.55zM148.2 441.2h0.55v0.55h-0.55zM185.8 458.5h0.55v0.55h-0.55zM195.8 449.8h0.55v0.55h-0.55zM192.0 456.3h0.55v0.55h-0.55zM187.1 450.4h0.55v0.55h-0.55zM190.0 449.1h0.55v0.55h-0.55zM150.1 456.0h0.55v0.55h-0.55zM147.6 442.5h0.55v0.55h-0.55zM180.5 445.4h0.55v0.55h-0.55zM140.1 457.6h0.55v0.55h-0.55zM155.8 457.2h0.55v0.55h-0.55zM169.8 448.5h0.55v0.55h-0.55zM154.3 444.4h0.55v0.55h-0.55zM155.3 449.3h0.55v0.55h-0.55zM134.5 439.9h0.55v0.55h-0.55zM190.3 458.1h0.55v0.55h-0.55zM171.6 447.2h0.55v0.55h-0.55zM179.5 449.7h0.55v0.55h-0.55zM135.1 454.7h0.55v0.55h-0.55zM143.4 439.1h0.55v0.55h-0.55zM189.0 448.2h0.55v0.55h-0.55zM194.9 451.6h0.55v0.55h-0.55zM177.3 454.2h0.55v0.55h-0.55zM130.8 447.0h0.55v0.55h-0.55zM132.0 453.3h0.55v0.55h-0.55zM158.9 457.5h0.55v0.55h-0.55zM184.0 440.6h0.55v0.55h-0.55zM186.4 441.2h0.55v0.55h-0.55zM184.4 446.7h0.55v0.55h-0.55zM151.8 449.3h0.55v0.55h-0.55zM191.8 451.0h0.55v0.55h-0.55zM159.2 451.7h0.55v0.55h-0.55zM176.1 443.7h0.55v0.55h-0.55zM145.7 462.1h0.55v0.55h-0.55zM187.3 436.0h0.55v0.55h-0.55zM159.6 454.1h0.55v0.55h-0.55zM172.1 457.2h0.55v0.55h-0.55zM172.7 461.8h0.55v0.55h-0.55zM141.8 436.1h0.55v0.55h-0.55zM148.3 453.1h0.55v0.55h-0.55zM150.7 456.8h0.55v0.55h-0.55zM157.8 441.3h0.55v0.55h-0.55zM151.0 452.0h0.55v0.55h-0.55zM162.7 456.0h0.55v0.55h-0.55zM157.1 458.6h0.55v0.55h-0.55zM154.0 456.7h0.55v0.55h-0.55zM143.9 446.5h0.55v0.55h-0.55zM166.2 447.5h0.55v0.55h-0.55zM184.7 436.4h0.55v0.55h-0.55zM137.0 458.5h0.55v0.55h-0.55zM173.5 453.5h0.55v0.55h-0.55zM134.7 446.7h0.55v0.55h-0.55zM132.7 459.0h0.55v0.55h-0.55zM140.9 459.3h0.55v0.55h-0.55zM187.2 464.5h0.55v0.55h-0.55zM166.6 453.0h0.55v0.55h-0.55zM161.8 447.2h0.55v0.55h-0.55zM191.4 437.8h0.55v0.55h-0.55zM152.5 444.3h0.55v0.55h-0.55zM136.8 456.0h0.55v0.55h-0.55zM157.9 449.8h0.55v0.55h-0.55zM139.9 438.1h0.55v0.55h-0.55zM187.7 442.5h0.55v0.55h-0.55zM178.4 450.7h0.55v0.55h-0.55zM163.8 460.8h0.55v0.55h-0.55zM170.9 441.9h0.55v0.55h-0.55zM162.9 449.0h0.55v0.55h-0.55zM190.1 447.5h0.55v0.55h-0.55zM155.7 451.6h0.55v0.55h-0.55zM143.8 444.4h0.55v0.55h-0.55zM141.6 457.7h0.55v0.55h-0.55zM130.5 442.7h0.55v0.55h-0.55zM139.4 457.9h0.55v0.55h-0.55zM148.3 459.8h0.55v0.55h-0.55zM186.5 459.5h0.55v0.55h-0.55zM185.7 452.0h0.55v0.55h-0.55zM168.2 454.4h0.55v0.55h-0.55zM166.5 448.9h0.55v0.55h-0.55zM153.8 445.3h0.55v0.55h-0.55zM186.9 450.7h0.55v0.55h-0.55zM165.7 442.5h0.55v0.55h-0.55zM157.7 445.8h0.55v0.55h-0.55zM182.7 447.0h0.55v0.55h-0.55zM136.9 437.6h0.55v0.55h-0.55zM164.5 444.4h0.55v0.55h-0.55zM151.4 435.8h0.55v0.55h-0.55zM159.6 445.8h0.55v0.55h-0.55zM189.9 443.6h0.55v0.55h-0.55zM135.8 451.3h0.55v0.55h-0.55zM156.7 454.1h0.55v0.55h-0.55zM174.1 443.2h0.55v0.55h-0.55zM169.7 453.6h0.55v0.55h-0.55zM182.8 458.1h0.55v0.55h-0.55zM185.7 436.4h0.55v0.55h-0.55zM187.2 442.4h0.55v0.55h-0.55zM154.9 442.7h0.55v0.55h-0.55zM136.9 445.5h0.55v0.55h-0.55zM150.0 452.5h0.55v0.55h-0.55zM135.8 447.0h0.55v0.55h-0.55zM136.4 447.9h0.55v0.55h-0.55zM186.2 452.8h0.55v0.55h-0.55zM147.9 457.7h0.55v0.55h-0.55zM193.0 443.1h0.55v0.55h-0.55zM154.1 439.7h0.55v0.55h-0.55zM135.7 444.5h0.55v0.55h-0.55zM188.2 454.8h0.55v0.55h-0.55zM183.0 463.0h0.55v0.55h-0.55zM169.0 442.3h0.55v0.55h-0.55zM181.4 457.5h0.55v0.55h-0.55zM144.4 432.9h0.55v0.55h-0.55zM184.0 439.0h0.55v0.55h-0.55zM130.8 441.5h0.55v0.55h-0.55zM149.1 452.6h0.55v0.55h-0.55zM169.2 465.6h0.55v0.55h-0.55zM140.0 471.3h0.55v0.55h-0.55zM187.8 451.7h0.55v0.55h-0.55zM190.6 443.6h0.55v0.55h-0.55zM183.5 445.9h0.55v0.55h-0.55zM189.1 447.9h0.55v0.55h-0.55zM173.7 448.9h0.55v0.55h-0.55zM190.6 459.1h0.55v0.55h-0.55zM165.8 448.5h0.55v0.55h-0.55zM130.0 442.2h0.55v0.55h-0.55zM192.0 450.8h0.55v0.55h-0.55zM130.8 457.7h0.55v0.55h-0.55zM143.8 452.0h0.55v0.55h-0.55zM190.8 446.5h0.55v0.55h-0.55zM168.2 450.8h0.55v0.55h-0.55zM145.1 437.7h0.55v0.55h-0.55zM155.4 464.3h0.55v0.55h-0.55zM141.4 448.3h0.55v0.55h-0.55zM155.5 448.2h0.55v0.55h-0.55zM156.6 465.9h0.55v0.55h-0.55zM132.4 446.7h0.55v0.55h-0.55zM191.4 450.2h0.55v0.55h-0.55zM172.8 448.5h0.55v0.55h-0.55zM193.8 434.0h0.55v0.55h-0.55zM136.8 449.4h0.55v0.55h-0.55zM144.3 458.2h0.55v0.55h-0.55zM164.8 440.5h0.55v0.55h-0.55zM156.9 470.0h0.55v0.55h-0.55zM146.2 456.3h0.55v0.55h-0.55zM179.8 444.0h0.55v0.55h-0.55zM159.8 461.4h0.55v0.55h-0.55zM190.5 453.2h0.55v0.55h-0.55zM188.8 456.1h0.55v0.55h-0.55zM170.3 461.7h0.55v0.55h-0.55zM165.9 443.7h0.55v0.55h-0.55zM153.3 449.7h0.55v0.55h-0.55zM190.3 449.0h0.55v0.55h-0.55zM158.1 447.1h0.55v0.55h-0.55z" fill="#4a4a90" fill-opacity="0.42"/>
<path d="M128.70 430.80 C127.25 430.92 125.85 430.27 125.00 432.90 C124.15 435.53 123.77 441.42 123.60 446.60 C123.43 451.78 123.52 460.38 124.00 464.00 C124.48 467.62 125.00 467.47 126.50 468.30 C128.00 469.13 131.32 469.25 133.00 469.00 C134.68 468.75 135.77 468.00 136.60 466.80 C137.43 465.60 137.40 463.72 138.00 461.80 C138.60 459.88 139.12 456.87 140.20 455.30 C141.28 453.73 143.05 453.12 144.50 452.40 C145.95 451.68 147.22 451.28 148.90 451.00 C150.58 450.72 152.68 450.58 154.60 450.70 C156.52 450.82 158.47 451.17 160.40 451.70 C162.33 452.23 164.27 453.18 166.20 453.90 C168.13 454.62 170.08 455.40 172.00 456.00 C173.92 456.60 175.78 457.25 177.70 457.50 C179.62 457.75 181.82 458.10 183.50 457.50 C185.18 456.90 186.72 455.47 187.80 453.90 C188.88 452.33 189.80 449.92 190.00 448.10 C190.20 446.28 189.83 444.20 189.00 443.00 C188.17 441.80 186.88 441.37 185.00 440.90 C183.12 440.43 180.12 440.45 177.70 440.20 C175.28 439.95 172.67 439.28 170.50 439.40 C168.33 439.52 166.62 440.47 164.70 440.90 C162.78 441.33 161.17 441.72 159.00 442.00 C156.83 442.28 153.87 442.43 151.70 442.60 C149.53 442.77 147.68 443.28 146.00 443.00 C144.32 442.72 143.05 441.98 141.60 440.90 C140.15 439.82 138.62 437.95 137.30 436.50 C135.98 435.05 135.13 433.15 133.70 432.20 C132.27 431.25 130.15 430.68 128.70 430.80Z" fill="#00009a"/>
<path d="M166.20 446.60 C166.93 446.00 169.60 444.97 172.00 444.50 C174.40 444.03 178.08 443.45 180.60 443.80 C183.12 444.15 186.13 445.40 187.10 446.60 C188.07 447.80 187.48 450.03 186.40 451.00 C185.32 451.97 182.53 452.52 180.60 452.40 C178.67 452.28 176.97 451.02 174.80 450.30 C172.63 449.58 169.03 448.72 167.60 448.10 C166.17 447.48 165.47 447.20 166.20 446.60Z" fill="#0a18ff"/>
<path d="M136.60 449.00 L136.57 451.89 L136.49 454.12 L136.35 456.13 L136.16 457.98 L135.92 459.69 L135.62 461.25 L135.28 462.69 L134.88 463.98 L134.44 465.14 L133.95 466.15 L133.41 467.01 L132.83 467.72 L132.19 468.28 L131.50 468.68 L130.74 468.92 L129.75 469.00 L128.76 468.92 L128.00 468.68 L127.31 468.28 L126.67 467.72 L126.09 467.01 L125.55 466.15 L125.06 465.14 L124.62 463.98 L124.22 462.69 L123.88 461.25 L123.58 459.69 L123.34 457.98 L123.15 456.13 L123.01 454.12 L122.93 451.89 L122.90 449.00 L122.93 446.37 L123.01 444.34 L123.15 442.51 L123.34 440.83 L123.58 439.27 L123.88 437.85 L124.22 436.54 L124.62 435.37 L125.06 434.31 L125.55 433.39 L126.09 432.61 L126.67 431.96 L127.31 431.46 L128.00 431.09 L128.76 430.87 L129.75 430.80 L130.74 430.87 L131.50 431.09 L132.19 431.46 L132.83 431.96 L133.41 432.61 L133.95 433.39 L134.44 434.31 L134.88 435.37 L135.28 436.54 L135.62 437.85 L135.92 439.27 L136.16 440.83 L136.35 442.51 L136.49 444.34 L136.57 446.37Z" fill="#0000b0"/>
<path d="M136.60 449.00 L136.57 451.79 L136.50 453.94 L136.37 455.89 L136.18 457.67 L135.95 459.31 L135.67 460.83 L135.34 462.21 L134.97 463.46 L134.55 464.57 L134.08 465.55 L133.57 466.38 L133.02 467.07 L132.42 467.60 L131.77 467.99 L131.04 468.22 L130.10 468.30 L129.16 468.22 L128.43 467.99 L127.78 467.60 L127.18 467.07 L126.63 466.38 L126.12 465.55 L125.65 464.57 L125.23 463.46 L124.86 462.21 L124.53 460.83 L124.25 459.31 L124.02 457.67 L123.83 455.89 L123.70 453.94 L123.63 451.79 L123.60 449.00 L123.63 446.47 L123.70 444.52 L123.83 442.76 L124.02 441.14 L124.25 439.65 L124.53 438.28 L124.86 437.02 L125.23 435.89 L125.65 434.88 L126.12 433.99 L126.63 433.24 L127.18 432.62 L127.78 432.13 L128.43 431.78 L129.16 431.57 L130.10 431.50 L131.04 431.57 L131.77 431.78 L132.42 432.13 L133.02 432.62 L133.57 433.24 L134.08 433.99 L134.55 434.88 L134.97 435.89 L135.34 437.02 L135.67 438.28 L135.95 439.65 L136.18 441.14 L136.37 442.76 L136.50 444.52 L136.57 446.47Z" fill="#0a14ff"/>
<path d="M134.40 449.00 L134.38 451.36 L134.32 453.30 L134.22 455.07 L134.09 456.72 L133.91 458.26 L133.70 459.68 L133.46 460.98 L133.18 462.17 L132.86 463.23 L132.52 464.16 L132.14 464.96 L131.74 465.62 L131.30 466.13 L130.83 466.50 L130.32 466.73 L129.70 466.80 L129.08 466.73 L128.57 466.50 L128.10 466.13 L127.66 465.62 L127.26 464.96 L126.88 464.16 L126.54 463.23 L126.22 462.17 L125.94 460.98 L125.70 459.68 L125.49 458.26 L125.31 456.72 L125.18 455.07 L125.08 453.30 L125.02 451.36 L125.00 449.00 L125.02 447.14 L125.08 445.62 L125.18 444.22 L125.31 442.93 L125.49 441.72 L125.70 440.60 L125.94 439.58 L126.22 438.64 L126.54 437.81 L126.88 437.08 L127.26 436.45 L127.66 435.93 L128.10 435.53 L128.57 435.23 L129.08 435.06 L129.70 435.00 L130.32 435.06 L130.83 435.23 L131.30 435.53 L131.74 435.93 L132.14 436.45 L132.52 437.08 L132.86 437.81 L133.18 438.64 L133.46 439.58 L133.70 440.60 L133.91 441.72 L134.09 442.93 L134.22 444.22 L134.32 445.62 L134.38 447.14Z" fill="#0a7cff"/>
<path d="M133.00 449.00 L132.98 450.64 L132.93 452.16 L132.85 453.62 L132.74 455.01 L132.59 456.33 L132.42 457.57 L132.22 458.72 L131.99 459.78 L131.73 460.74 L131.46 461.58 L131.16 462.31 L130.84 462.91 L130.51 463.38 L130.16 463.73 L129.79 463.93 L129.40 464.00 L129.01 463.93 L128.64 463.73 L128.29 463.38 L127.96 462.91 L127.64 462.31 L127.34 461.58 L127.07 460.74 L126.81 459.78 L126.58 458.72 L126.38 457.57 L126.21 456.33 L126.06 455.01 L125.95 453.62 L125.87 452.16 L125.82 450.64 L125.80 449.00 L125.82 447.80 L125.87 446.68 L125.95 445.61 L126.06 444.59 L126.21 443.63 L126.38 442.72 L126.58 441.87 L126.81 441.09 L127.07 440.39 L127.34 439.77 L127.64 439.24 L127.96 438.80 L128.29 438.45 L128.64 438.20 L129.01 438.05 L129.40 438.00 L129.79 438.05 L130.16 438.20 L130.51 438.45 L130.84 438.80 L131.16 439.24 L131.46 439.77 L131.73 440.39 L131.99 441.09 L132.22 441.87 L132.42 442.72 L132.59 443.63 L132.74 444.59 L132.85 445.61 L132.93 446.68 L132.98 447.80Z" fill="#00d8ff"/>
<path d="M132.30 449.00 L132.29 449.90 L132.24 450.79 L132.18 451.67 L132.08 452.52 L131.96 453.34 L131.81 454.11 L131.64 454.84 L131.45 455.51 L131.24 456.11 L131.01 456.65 L130.77 457.11 L130.51 457.50 L130.24 457.80 L129.97 458.02 L129.68 458.16 L129.40 458.20 L129.12 458.16 L128.83 458.02 L128.56 457.80 L128.29 457.50 L128.03 457.11 L127.79 456.65 L127.56 456.11 L127.35 455.51 L127.16 454.84 L126.99 454.11 L126.84 453.34 L126.72 452.52 L126.62 451.67 L126.56 450.79 L126.51 449.90 L126.50 449.00 L126.51 448.06 L126.56 447.13 L126.62 446.21 L126.72 445.33 L126.84 444.47 L126.99 443.67 L127.16 442.91 L127.35 442.21 L127.56 441.58 L127.79 441.02 L128.03 440.53 L128.29 440.13 L128.56 439.81 L128.83 439.58 L129.12 439.45 L129.40 439.40 L129.68 439.45 L129.97 439.58 L130.24 439.81 L130.51 440.13 L130.77 440.53 L131.01 441.02 L131.24 441.58 L131.45 442.21 L131.64 442.91 L131.81 443.67 L131.96 444.47 L132.08 445.33 L132.18 446.21 L132.24 447.13 L132.29 448.06Z" fill="#3cf5c8"/>
<path d="M131.90 449.00 L131.89 449.69 L131.85 450.37 L131.79 451.03 L131.70 451.68 L131.59 452.30 L131.46 452.89 L131.31 453.44 L131.14 453.95 L130.95 454.41 L130.74 454.82 L130.53 455.17 L130.29 455.47 L130.05 455.70 L129.81 455.87 L129.55 455.97 L129.30 456.00 L129.05 455.97 L128.79 455.87 L128.55 455.70 L128.31 455.47 L128.07 455.17 L127.86 454.82 L127.65 454.41 L127.46 453.95 L127.29 453.44 L127.14 452.89 L127.01 452.30 L126.90 451.68 L126.81 451.03 L126.75 450.37 L126.71 449.69 L126.70 449.00 L126.71 448.14 L126.75 447.28 L126.81 446.45 L126.90 445.63 L127.01 444.85 L127.14 444.11 L127.29 443.42 L127.46 442.78 L127.65 442.20 L127.86 441.68 L128.07 441.24 L128.31 440.87 L128.55 440.58 L128.79 440.37 L129.05 440.24 L129.30 440.20 L129.55 440.24 L129.81 440.37 L130.05 440.58 L130.29 440.87 L130.53 441.24 L130.74 441.68 L130.95 442.20 L131.14 442.78 L131.31 443.42 L131.46 444.11 L131.59 444.85 L131.70 445.63 L131.79 446.45 L131.85 447.28 L131.89 448.14Z" fill="#a8ff5a"/>
<path d="M131.50 449.00 L131.49 449.48 L131.46 449.96 L131.40 450.42 L131.32 450.88 L131.23 451.31 L131.11 451.72 L130.98 452.11 L130.83 452.46 L130.66 452.79 L130.48 453.07 L130.28 453.32 L130.08 453.53 L129.87 453.69 L129.65 453.81 L129.43 453.88 L129.20 453.90 L128.97 453.88 L128.75 453.81 L128.53 453.69 L128.32 453.53 L128.12 453.32 L127.92 453.07 L127.74 452.79 L127.57 452.46 L127.42 452.11 L127.29 451.72 L127.17 451.31 L127.08 450.88 L127.00 450.42 L126.94 449.96 L126.91 449.48 L126.90 449.00 L126.91 448.21 L126.94 447.42 L127.00 446.65 L127.08 445.90 L127.17 445.18 L127.29 444.50 L127.42 443.86 L127.57 443.27 L127.74 442.74 L127.92 442.27 L128.12 441.86 L128.32 441.52 L128.53 441.25 L128.75 441.06 L128.97 440.94 L129.20 440.90 L129.43 440.94 L129.65 441.06 L129.87 441.25 L130.08 441.52 L130.28 441.86 L130.48 442.27 L130.66 442.74 L130.83 443.27 L130.98 443.86 L131.11 444.50 L131.23 445.18 L131.32 445.90 L131.40 446.65 L131.46 447.42 L131.49 448.21Z" fill="#ffe600"/>
<path d="M131.30 449.00 L131.29 449.26 L131.26 449.53 L131.21 449.78 L131.14 450.03 L131.06 450.27 L130.95 450.50 L130.83 450.71 L130.70 450.91 L130.55 451.09 L130.39 451.24 L130.22 451.38 L130.03 451.49 L129.85 451.58 L129.65 451.65 L129.45 451.69 L129.25 451.70 L129.05 451.69 L128.85 451.65 L128.65 451.58 L128.47 451.49 L128.28 451.38 L128.11 451.24 L127.95 451.09 L127.80 450.91 L127.67 450.71 L127.55 450.50 L127.44 450.27 L127.36 450.03 L127.29 449.78 L127.24 449.53 L127.21 449.26 L127.20 449.00 L127.21 448.34 L127.24 447.69 L127.29 447.06 L127.36 446.44 L127.44 445.84 L127.55 445.28 L127.67 444.75 L127.80 444.26 L127.95 443.82 L128.11 443.43 L128.28 443.09 L128.47 442.81 L128.65 442.59 L128.85 442.43 L129.05 442.33 L129.25 442.30 L129.45 442.33 L129.65 442.43 L129.85 442.59 L130.03 442.81 L130.22 443.09 L130.39 443.43 L130.55 443.82 L130.70 444.26 L130.83 444.75 L130.95 445.28 L131.06 445.84 L131.14 446.44 L131.21 447.06 L131.26 447.69 L131.29 448.34Z" fill="#ff8a00"/>
<path d="M130.80 449.00 L130.79 449.13 L130.77 449.25 L130.73 449.38 L130.67 449.50 L130.61 449.61 L130.52 449.72 L130.43 449.82 L130.32 449.92 L130.20 450.00 L130.07 450.08 L129.93 450.15 L129.78 450.20 L129.63 450.24 L129.47 450.28 L129.31 450.29 L129.15 450.30 L128.99 450.29 L128.83 450.28 L128.67 450.24 L128.52 450.20 L128.37 450.15 L128.23 450.08 L128.10 450.00 L127.98 449.92 L127.87 449.82 L127.78 449.72 L127.69 449.61 L127.63 449.50 L127.57 449.38 L127.53 449.25 L127.51 449.13 L127.50 449.00 L127.51 448.49 L127.53 447.99 L127.57 447.49 L127.63 447.01 L127.69 446.55 L127.78 446.11 L127.87 445.70 L127.98 445.32 L128.10 444.98 L128.23 444.68 L128.37 444.41 L128.52 444.20 L128.67 444.02 L128.83 443.90 L128.99 443.83 L129.15 443.80 L129.31 443.83 L129.47 443.90 L129.63 444.02 L129.78 444.20 L129.93 444.41 L130.07 444.68 L130.20 444.98 L130.32 445.32 L130.43 445.70 L130.52 446.11 L130.61 446.55 L130.67 447.01 L130.73 447.49 L130.77 447.99 L130.79 448.49Z" fill="#ff1a00"/>
<ellipse cx="129.10" cy="446.60" rx="1.00" ry="1.60" fill="#c00000"/>
<text x="153.50" y="417.20" font-size="8.6" font-weight="normal" fill="#231f20" stroke="#231f20" stroke-width="0.12" text-anchor="start" textLength="15.00" lengthAdjust="spacingAndGlyphs">19.4</text>
<text x="21.10" y="454.60" font-size="10.5" font-weight="normal" fill="#231f20" stroke="#231f20" stroke-width="0.12" text-anchor="start" textLength="17.90" lengthAdjust="spacingAndGlyphs" transform="rotate(-90 21.10 454.60)">CD56</text>
<text x="29.60" y="503.40" font-size="8.6" font-weight="normal" fill="#231f20" stroke="#231f20" stroke-width="0.12" text-anchor="start" textLength="26.20" lengthAdjust="spacingAndGlyphs">CD107a</text>
<line x1="59.20" y1="500.40" x2="204.50" y2="500.40" stroke="#231f20" stroke-width="0.95"/>
<path d="M203.60 497.70 L208.50 500.40 L203.60 503.10 Z" fill="#231f20"/>
<line x1="274.50" y1="19.00" x2="274.50" y2="120.80" stroke="#231f20" stroke-width="1.1"/>
<line x1="271.50" y1="120.30" x2="274.50" y2="120.30" stroke="#231f20" stroke-width="1.1"/>
<text x="268.60" y="123.05" font-size="7.9" font-weight="normal" fill="#231f20" stroke="#231f20" stroke-width="0.12" text-anchor="end" textLength="4.25" lengthAdjust="spacingAndGlyphs">0</text>
<line x1="271.50" y1="96.05" x2="274.50" y2="96.05" stroke="#231f20" stroke-width="1.1"/>
<text x="268.60" y="98.80" font-size="7.9" font-weight="normal" fill="#231f20" stroke="#231f20" stroke-width="0.12" text-anchor="end" textLength="8.50" lengthAdjust="spacingAndGlyphs">10</text>
<line x1="271.50" y1="71.80" x2="274.50" y2="71.80" stroke="#231f20" stroke-width="1.1"/>
<text x="268.60" y="74.55" font-size="7.9" font-weight="normal" fill="#231f20" stroke="#231f20" stroke-width="0.12" text-anchor="end" textLength="8.50" lengthAdjust="spacingAndGlyphs">20</text>
<line x1="271.50" y1="47.55" x2="274.50" y2="47.55" stroke="#231f20" stroke-width="1.1"/>
<text x="268.60" y="50.30" font-size="7.9" font-weight="normal" fill="#231f20" stroke="#231f20" stroke-width="0.12" text-anchor="end" textLength="8.50" lengthAdjust="spacingAndGlyphs">30</text>
<line x1="271.50" y1="23.30" x2="274.50" y2="23.30" stroke="#231f20" stroke-width="1.1"/>
<text x="268.60" y="26.05" font-size="7.9" font-weight="normal" fill="#231f20" stroke="#231f20" stroke-width="0.12" text-anchor="end" textLength="8.50" lengthAdjust="spacingAndGlyphs">40</text>
<line x1="274.00" y1="120.30" x2="339.60" y2="120.30" stroke="#231f20" stroke-width="1.1"/>
<line x1="287.10" y1="120.30" x2="287.10" y2="123.30" stroke="#231f20" stroke-width="1.1"/>
<text x="287.10" y="132.70" font-size="7.9" font-weight="normal" fill="#231f20" stroke="#231f20" stroke-width="0.12" text-anchor="middle" textLength="4.00" lengthAdjust="spacingAndGlyphs">7</text>
<line x1="306.70" y1="120.30" x2="306.70" y2="123.30" stroke="#231f20" stroke-width="1.1"/>
<text x="306.70" y="132.70" font-size="7.9" font-weight="normal" fill="#231f20" stroke="#231f20" stroke-width="0.12" text-anchor="middle" textLength="8.00" lengthAdjust="spacingAndGlyphs">14</text>
<line x1="326.20" y1="120.30" x2="326.20" y2="123.30" stroke="#231f20" stroke-width="1.1"/>
<text x="326.20" y="132.70" font-size="7.9" font-weight="normal" fill="#231f20" stroke="#231f20" stroke-width="0.12" text-anchor="middle" textLength="8.00" lengthAdjust="spacingAndGlyphs">28</text>
<text x="253.90" y="107.50" font-size="10.0" font-weight="normal" fill="#231f20" stroke="#231f20" stroke-width="0.12" text-anchor="start" textLength="70.00" lengthAdjust="spacingAndGlyphs" transform="rotate(-90 253.90 107.50)">Percent IFN-γ positive</text>
<line x1="287.10" y1="82.25" x2="287.10" y2="94.40" stroke="#c3c3c3" stroke-width="1.0"/>
<line x1="284.60" y1="82.25" x2="289.60" y2="82.25" stroke="#c3c3c3" stroke-width="1.0"/>
<line x1="284.60" y1="94.40" x2="289.60" y2="94.40" stroke="#c3c3c3" stroke-width="1.0"/>
<line x1="306.70" y1="76.90" x2="306.70" y2="91.50" stroke="#c3c3c3" stroke-width="1.0"/>
<line x1="304.20" y1="76.90" x2="309.20" y2="76.90" stroke="#c3c3c3" stroke-width="1.0"/>
<line x1="304.20" y1="91.50" x2="309.20" y2="91.50" stroke="#c3c3c3" stroke-width="1.0"/>
<line x1="326.20" y1="62.25" x2="326.20" y2="95.00" stroke="#c3c3c3" stroke-width="1.0"/>
<line x1="323.70" y1="62.25" x2="328.70" y2="62.25" stroke="#c3c3c3" stroke-width="1.0"/>
<line x1="323.70" y1="95.00" x2="328.70" y2="95.00" stroke="#c3c3c3" stroke-width="1.0"/>
<path d="M287.10 88.75 L306.70 85.00 L326.20 80.00" fill="none" stroke="#c3c3c3" stroke-width="1.3" stroke-linejoin="round"/>
<path d="M287.10 86.05 L289.60 90.55 L284.60 90.55 Z" fill="#c3c3c3"/>
<path d="M306.70 82.30 L309.20 86.80 L304.20 86.80 Z" fill="#c3c3c3"/>
<path d="M326.20 77.30 L328.70 81.80 L323.70 81.80 Z" fill="#c3c3c3"/>
<line x1="287.10" y1="62.20" x2="287.10" y2="92.30" stroke="#15508c" stroke-width="1.0"/>
<line x1="284.60" y1="62.20" x2="289.60" y2="62.20" stroke="#15508c" stroke-width="1.0"/>
<line x1="284.60" y1="92.30" x2="289.60" y2="92.30" stroke="#15508c" stroke-width="1.0"/>
<line x1="306.70" y1="56.00" x2="306.70" y2="59.60" stroke="#15508c" stroke-width="1.0"/>
<line x1="304.20" y1="56.00" x2="309.20" y2="56.00" stroke="#15508c" stroke-width="1.0"/>
<line x1="304.20" y1="59.60" x2="309.20" y2="59.60" stroke="#15508c" stroke-width="1.0"/>
<line x1="326.20" y1="37.30" x2="326.20" y2="65.60" stroke="#15508c" stroke-width="1.0"/>
<line x1="323.70" y1="37.30" x2="328.70" y2="37.30" stroke="#15508c" stroke-width="1.0"/>
<line x1="323.70" y1="65.60" x2="328.70" y2="65.60" stroke="#15508c" stroke-width="1.0"/>
<path d="M287.10 77.75 L306.70 57.80 L326.20 51.50" fill="none" stroke="#15508c" stroke-width="1.3" stroke-linejoin="round"/>
<rect x="284.50" y="75.15" width="5.20" height="5.20" fill="#15508c" stroke="none" stroke-width="1"/>
<rect x="304.10" y="55.20" width="5.20" height="5.20" fill="#15508c" stroke="none" stroke-width="1"/>
<rect x="323.60" y="48.90" width="5.20" height="5.20" fill="#15508c" stroke="none" stroke-width="1"/>
<line x1="287.10" y1="106.00" x2="287.10" y2="115.80" stroke="#c8102e" stroke-width="1.0"/>
<line x1="284.60" y1="106.00" x2="289.60" y2="106.00" stroke="#c8102e" stroke-width="1.0"/>
<line x1="284.60" y1="115.80" x2="289.60" y2="115.80" stroke="#c8102e" stroke-width="1.0"/>
<line x1="306.70" y1="112.60" x2="306.70" y2="115.20" stroke="#c8102e" stroke-width="1.0"/>
<line x1="304.20" y1="112.60" x2="309.20" y2="112.60" stroke="#c8102e" stroke-width="1.0"/>
<line x1="304.20" y1="115.20" x2="309.20" y2="115.20" stroke="#c8102e" stroke-width="1.0"/>
<line x1="326.20" y1="107.20" x2="326.20" y2="116.50" stroke="#c8102e" stroke-width="1.0"/>
<line x1="323.70" y1="107.20" x2="328.70" y2="107.20" stroke="#c8102e" stroke-width="1.0"/>
<line x1="323.70" y1="116.50" x2="328.70" y2="116.50" stroke="#c8102e" stroke-width="1.0"/>
<path d="M287.10 110.40 L306.70 114.00 L326.20 112.10" fill="none" stroke="#c8102e" stroke-width="1.3" stroke-linejoin="round"/>
<rect x="284.50" y="107.80" width="5.20" height="5.20" fill="#c8102e" stroke="none" stroke-width="1"/>
<rect x="304.10" y="111.40" width="5.20" height="5.20" fill="#c8102e" stroke="none" stroke-width="1"/>
<rect x="323.60" y="109.50" width="5.20" height="5.20" fill="#c8102e" stroke="none" stroke-width="1"/>
<path d="M336.6 50.6 H339.6 V110.2 H336.6" fill="none" stroke="#4a4a4a" stroke-width="1"/>
<text x="343.80" y="68.90" font-size="8.7" font-weight="normal" fill="#231f20" stroke="#231f20" stroke-width="0.12" text-anchor="start" textLength="24.50" lengthAdjust="spacingAndGlyphs" transform="rotate(90 343.80 68.90)">0.0008</text>
<line x1="344.00" y1="22.70" x2="356.30" y2="22.70" stroke="#c8102e" stroke-width="1.3"/>
<rect x="347.90" y="20.40" width="4.60" height="4.60" fill="#c8102e" stroke="none" stroke-width="1"/>
<line x1="344.00" y1="31.20" x2="356.30" y2="31.20" stroke="#15508c" stroke-width="1.3"/>
<rect x="347.90" y="28.90" width="4.60" height="4.60" fill="#15508c" stroke="none" stroke-width="1"/>
<line x1="344.00" y1="40.00" x2="356.30" y2="40.00" stroke="#c3c3c3" stroke-width="1.3"/>
<path d="M350.20 37.52 L352.50 41.66 L347.90 41.66 Z" fill="#c3c3c3"/>
<text x="361.40" y="25.30" font-size="8.0" font-weight="normal" fill="#231f20" stroke="#231f20" stroke-width="0.12" text-anchor="start" textLength="66.20" lengthAdjust="spacingAndGlyphs">Patient unstimulated</text>
<text x="361.40" y="33.80" font-size="8.0" font-weight="normal" fill="#231f20" stroke="#231f20" stroke-width="0.12" text-anchor="start" textLength="41.00" lengthAdjust="spacingAndGlyphs">Patient K562</text>
<text x="361.40" y="42.60" font-size="8.0" font-weight="normal" fill="#231f20" stroke="#231f20" stroke-width="0.12" text-anchor="start" textLength="64.00" lengthAdjust="spacingAndGlyphs">Healthy donor K562</text>
<line x1="274.60" y1="138.00" x2="274.60" y2="239.80" stroke="#231f20" stroke-width="1.1"/>
<line x1="271.60" y1="239.30" x2="274.60" y2="239.30" stroke="#231f20" stroke-width="1.1"/>
<text x="268.60" y="242.05" font-size="7.9" font-weight="normal" fill="#231f20" stroke="#231f20" stroke-width="0.12" text-anchor="end" textLength="4.25" lengthAdjust="spacingAndGlyphs">0</text>
<line x1="271.60" y1="215.25" x2="274.60" y2="215.25" stroke="#231f20" stroke-width="1.1"/>
<text x="268.60" y="218.00" font-size="7.9" font-weight="normal" fill="#231f20" stroke="#231f20" stroke-width="0.12" text-anchor="end" textLength="8.50" lengthAdjust="spacingAndGlyphs">10</text>
<line x1="271.60" y1="191.20" x2="274.60" y2="191.20" stroke="#231f20" stroke-width="1.1"/>
<text x="268.60" y="193.95" font-size="7.9" font-weight="normal" fill="#231f20" stroke="#231f20" stroke-width="0.12" text-anchor="end" textLength="8.50" lengthAdjust="spacingAndGlyphs">20</text>
<line x1="271.60" y1="167.15" x2="274.60" y2="167.15" stroke="#231f20" stroke-width="1.1"/>
<text x="268.60" y="169.90" font-size="7.9" font-weight="normal" fill="#231f20" stroke="#231f20" stroke-width="0.12" text-anchor="end" textLength="8.50" lengthAdjust="spacingAndGlyphs">30</text>
<line x1="271.60" y1="143.10" x2="274.60" y2="143.10" stroke="#231f20" stroke-width="1.1"/>
<text x="268.60" y="145.85" font-size="7.9" font-weight="normal" fill="#231f20" stroke="#231f20" stroke-width="0.12" text-anchor="end" textLength="8.50" lengthAdjust="spacingAndGlyphs">40</text>
<line x1="274.10" y1="239.30" x2="339.70" y2="239.30" stroke="#231f20" stroke-width="1.1"/>
<line x1="287.10" y1="239.30" x2="287.10" y2="242.30" stroke="#231f20" stroke-width="1.1"/>
<text x="287.10" y="252.20" font-size="7.9" font-weight="normal" fill="#231f20" stroke="#231f20" stroke-width="0.12" text-anchor="middle" textLength="4.00" lengthAdjust="spacingAndGlyphs">7</text>
<line x1="306.70" y1="239.30" x2="306.70" y2="242.30" stroke="#231f20" stroke-width="1.1"/>
<text x="306.70" y="252.20" font-size="7.9" font-weight="normal" fill="#231f20" stroke="#231f20" stroke-width="0.12" text-anchor="middle" textLength="8.00" lengthAdjust="spacingAndGlyphs">14</text>
<line x1="326.20" y1="239.30" x2="326.20" y2="242.30" stroke="#231f20" stroke-width="1.1"/>
<text x="326.20" y="252.20" font-size="7.9" font-weight="normal" fill="#231f20" stroke="#231f20" stroke-width="0.12" text-anchor="middle" textLength="8.00" lengthAdjust="spacingAndGlyphs">28</text>
<text x="254.60" y="231.30" font-size="10.0" font-weight="normal" fill="#231f20" stroke="#231f20" stroke-width="0.12" text-anchor="start" textLength="79.60" lengthAdjust="spacingAndGlyphs" transform="rotate(-90 254.60 231.30)">Percent CD107a positive</text>
<text x="291.60" y="263.50" font-size="9.8" font-weight="normal" fill="#231f20" stroke="#231f20" stroke-width="0.12" text-anchor="start" textLength="32.00" lengthAdjust="spacingAndGlyphs">Study day</text>
<line x1="287.10" y1="208.30" x2="287.10" y2="225.10" stroke="#c3c3c3" stroke-width="1.0"/>
<line x1="284.60" y1="208.30" x2="289.60" y2="208.30" stroke="#c3c3c3" stroke-width="1.0"/>
<line x1="284.60" y1="225.10" x2="289.60" y2="225.10" stroke="#c3c3c3" stroke-width="1.0"/>
<line x1="306.70" y1="209.60" x2="306.70" y2="220.20" stroke="#c3c3c3" stroke-width="1.0"/>
<line x1="304.20" y1="209.60" x2="309.20" y2="209.60" stroke="#c3c3c3" stroke-width="1.0"/>
<line x1="304.20" y1="220.20" x2="309.20" y2="220.20" stroke="#c3c3c3" stroke-width="1.0"/>
<line x1="326.20" y1="209.30" x2="326.20" y2="215.30" stroke="#c3c3c3" stroke-width="1.0"/>
<line x1="323.70" y1="209.30" x2="328.70" y2="209.30" stroke="#c3c3c3" stroke-width="1.0"/>
<line x1="323.70" y1="215.30" x2="328.70" y2="215.30" stroke="#c3c3c3" stroke-width="1.0"/>
<path d="M287.10 217.50 L306.70 215.30 L326.20 213.70" fill="none" stroke="#c3c3c3" stroke-width="1.3" stroke-linejoin="round"/>
<path d="M287.10 214.80 L289.60 219.30 L284.60 219.30 Z" fill="#c3c3c3"/>
<path d="M306.70 212.60 L309.20 217.10 L304.20 217.10 Z" fill="#c3c3c3"/>
<path d="M326.20 211.00 L328.70 215.50 L323.70 215.50 Z" fill="#c3c3c3"/>
<line x1="287.10" y1="160.80" x2="287.10" y2="201.00" stroke="#15508c" stroke-width="1.0"/>
<line x1="284.60" y1="160.80" x2="289.60" y2="160.80" stroke="#15508c" stroke-width="1.0"/>
<line x1="284.60" y1="201.00" x2="289.60" y2="201.00" stroke="#15508c" stroke-width="1.0"/>
<line x1="306.70" y1="154.40" x2="306.70" y2="174.60" stroke="#15508c" stroke-width="1.0"/>
<line x1="304.20" y1="154.40" x2="309.20" y2="154.40" stroke="#15508c" stroke-width="1.0"/>
<line x1="304.20" y1="174.60" x2="309.20" y2="174.60" stroke="#15508c" stroke-width="1.0"/>
<line x1="326.20" y1="152.70" x2="326.20" y2="165.00" stroke="#15508c" stroke-width="1.0"/>
<line x1="323.70" y1="152.70" x2="328.70" y2="152.70" stroke="#15508c" stroke-width="1.0"/>
<line x1="323.70" y1="165.00" x2="328.70" y2="165.00" stroke="#15508c" stroke-width="1.0"/>
<path d="M287.10 181.00 L306.70 164.20 L326.20 158.50" fill="none" stroke="#15508c" stroke-width="1.3" stroke-linejoin="round"/>
<rect x="284.50" y="178.40" width="5.20" height="5.20" fill="#15508c" stroke="none" stroke-width="1"/>
<rect x="304.10" y="161.60" width="5.20" height="5.20" fill="#15508c" stroke="none" stroke-width="1"/>
<rect x="323.60" y="155.90" width="5.20" height="5.20" fill="#15508c" stroke="none" stroke-width="1"/>
<line x1="287.10" y1="232.20" x2="287.10" y2="238.60" stroke="#c8102e" stroke-width="1.0"/>
<line x1="284.60" y1="232.20" x2="289.60" y2="232.20" stroke="#c8102e" stroke-width="1.0"/>
<line x1="284.60" y1="238.60" x2="289.60" y2="238.60" stroke="#c8102e" stroke-width="1.0"/>
<path d="M287.10 235.40 L306.70 238.70 L326.20 237.40" fill="none" stroke="#c8102e" stroke-width="1.3" stroke-linejoin="round"/>
<rect x="284.50" y="232.80" width="5.20" height="5.20" fill="#c8102e" stroke="none" stroke-width="1"/>
<rect x="304.10" y="236.10" width="5.20" height="5.20" fill="#c8102e" stroke="none" stroke-width="1"/>
<rect x="323.60" y="234.80" width="5.20" height="5.20" fill="#c8102e" stroke="none" stroke-width="1"/>
<path d="M332.6 158.2 H335.4 V236.8 H332.6" fill="none" stroke="#4a4a4a" stroke-width="1"/>
<text x="338.80" y="187.40" font-size="8.7" font-weight="normal" fill="#231f20" stroke="#231f20" stroke-width="0.12" text-anchor="start" textLength="20.50" lengthAdjust="spacingAndGlyphs" transform="rotate(90 338.80 187.40)">0.004</text>
<line x1="407.40" y1="136.70" x2="407.40" y2="245.70" stroke="#231f20" stroke-width="1.1"/>
<line x1="404.40" y1="245.20" x2="407.40" y2="245.20" stroke="#231f20" stroke-width="1.1"/>
<text x="401.70" y="247.95" font-size="7.9" font-weight="normal" fill="#231f20" stroke="#231f20" stroke-width="0.12" text-anchor="end" textLength="4.25" lengthAdjust="spacingAndGlyphs">0</text>
<line x1="404.40" y1="210.60" x2="407.40" y2="210.60" stroke="#231f20" stroke-width="1.1"/>
<text x="401.70" y="213.35" font-size="7.9" font-weight="normal" fill="#231f20" stroke="#231f20" stroke-width="0.12" text-anchor="end" textLength="8.50" lengthAdjust="spacingAndGlyphs">20</text>
<line x1="404.40" y1="176.00" x2="407.40" y2="176.00" stroke="#231f20" stroke-width="1.1"/>
<text x="401.70" y="178.75" font-size="7.9" font-weight="normal" fill="#231f20" stroke="#231f20" stroke-width="0.12" text-anchor="end" textLength="8.50" lengthAdjust="spacingAndGlyphs">40</text>
<line x1="404.40" y1="141.40" x2="407.40" y2="141.40" stroke="#231f20" stroke-width="1.1"/>
<text x="401.70" y="144.15" font-size="7.9" font-weight="normal" fill="#231f20" stroke="#231f20" stroke-width="0.12" text-anchor="end" textLength="8.50" lengthAdjust="spacingAndGlyphs">60</text>
<line x1="406.90" y1="245.20" x2="513.00" y2="245.20" stroke="#231f20" stroke-width="1.1"/>
<line x1="428.80" y1="245.20" x2="428.80" y2="248.20" stroke="#231f20" stroke-width="1.1"/>
<text x="428.80" y="257.90" font-size="7.9" font-weight="normal" fill="#231f20" stroke="#231f20" stroke-width="0.12" text-anchor="middle" textLength="4.00" lengthAdjust="spacingAndGlyphs">7</text>
<line x1="460.20" y1="245.20" x2="460.20" y2="248.20" stroke="#231f20" stroke-width="1.1"/>
<text x="460.20" y="257.90" font-size="7.9" font-weight="normal" fill="#231f20" stroke="#231f20" stroke-width="0.12" text-anchor="middle" textLength="8.00" lengthAdjust="spacingAndGlyphs">14</text>
<line x1="491.90" y1="245.20" x2="491.90" y2="248.20" stroke="#231f20" stroke-width="1.1"/>
<text x="491.90" y="257.90" font-size="7.9" font-weight="normal" fill="#231f20" stroke="#231f20" stroke-width="0.12" text-anchor="middle" textLength="8.00" lengthAdjust="spacingAndGlyphs">28</text>
<text x="388.20" y="231.10" font-size="10.0" font-weight="normal" fill="#231f20" stroke="#231f20" stroke-width="0.12" text-anchor="start" textLength="79.50" lengthAdjust="spacingAndGlyphs" transform="rotate(-90 388.20 231.10)">Percent CD107a positive</text>
<text x="444.60" y="267.90" font-size="9.8" font-weight="normal" fill="#231f20" stroke="#231f20" stroke-width="0.12" text-anchor="start" textLength="31.40" lengthAdjust="spacingAndGlyphs">Study day</text>
<line x1="428.80" y1="167.30" x2="428.80" y2="195.80" stroke="#3cb54a" stroke-width="1.1"/>
<line x1="426.30" y1="167.30" x2="431.30" y2="167.30" stroke="#3cb54a" stroke-width="1.1"/>
<line x1="426.30" y1="195.80" x2="431.30" y2="195.80" stroke="#3cb54a" stroke-width="1.1"/>
<line x1="491.90" y1="158.70" x2="491.90" y2="180.20" stroke="#3cb54a" stroke-width="1.1"/>
<line x1="489.40" y1="158.70" x2="494.40" y2="158.70" stroke="#3cb54a" stroke-width="1.1"/>
<line x1="489.40" y1="180.20" x2="494.40" y2="180.20" stroke="#3cb54a" stroke-width="1.1"/>
<path d="M428.80 181.30 L460.20 173.10 L491.90 169.20" fill="none" stroke="#3cb54a" stroke-width="1.5" stroke-linejoin="round"/>
<rect x="426.10" y="178.60" width="5.40" height="5.40" fill="#3cb54a" stroke="none" stroke-width="1"/>
<rect x="457.50" y="170.40" width="5.40" height="5.40" fill="#3cb54a" stroke="none" stroke-width="1"/>
<rect x="489.20" y="166.50" width="5.40" height="5.40" fill="#3cb54a" stroke="none" stroke-width="1"/>
<line x1="428.80" y1="225.60" x2="428.80" y2="235.00" stroke="#15508c" stroke-width="1.1"/>
<line x1="426.30" y1="225.60" x2="431.30" y2="225.60" stroke="#15508c" stroke-width="1.1"/>
<line x1="426.30" y1="235.00" x2="431.30" y2="235.00" stroke="#15508c" stroke-width="1.1"/>
<line x1="460.20" y1="199.60" x2="460.20" y2="220.20" stroke="#15508c" stroke-width="1.1"/>
<line x1="457.70" y1="199.60" x2="462.70" y2="199.60" stroke="#15508c" stroke-width="1.1"/>
<line x1="457.70" y1="220.20" x2="462.70" y2="220.20" stroke="#15508c" stroke-width="1.1"/>
<line x1="491.90" y1="192.30" x2="491.90" y2="205.40" stroke="#15508c" stroke-width="1.1"/>
<line x1="489.40" y1="192.30" x2="494.40" y2="192.30" stroke="#15508c" stroke-width="1.1"/>
<line x1="489.40" y1="205.40" x2="494.40" y2="205.40" stroke="#15508c" stroke-width="1.1"/>
<path d="M428.80 230.20 L460.20 210.00 L491.90 199.00" fill="none" stroke="#15508c" stroke-width="1.5" stroke-linejoin="round"/>
<rect x="426.10" y="227.50" width="5.40" height="5.40" fill="#15508c" stroke="none" stroke-width="1"/>
<rect x="457.50" y="207.30" width="5.40" height="5.40" fill="#15508c" stroke="none" stroke-width="1"/>
<rect x="489.20" y="196.30" width="5.40" height="5.40" fill="#15508c" stroke="none" stroke-width="1"/>
<text x="417.90" y="159.00" font-size="8.2" font-weight="normal" fill="#3cb54a" stroke="#3cb54a" stroke-width="0.12" text-anchor="start" textLength="9.80" lengthAdjust="spacingAndGlyphs">ML</text>
<text x="469.80" y="229.20" font-size="8.6" font-weight="normal" fill="#15508c" stroke="#15508c" stroke-width="0.12" text-anchor="start" textLength="20.50" lengthAdjust="spacingAndGlyphs">CD56</text>
<text x="490.30" y="225.40" font-size="6.0" font-weight="normal" fill="#15508c" stroke="#15508c" stroke-width="0.12" text-anchor="start" textLength="9.50" lengthAdjust="spacingAndGlyphs">dim</text>
<path d="M500.3 164.2 H503.9 V195.5 H500.3" fill="none" stroke="#4a4a4a" stroke-width="1"/>
<text x="506.50" y="169.00" font-size="8.7" font-weight="normal" fill="#231f20" stroke="#231f20" stroke-width="0.12" text-anchor="start" textLength="18.90" lengthAdjust="spacingAndGlyphs" transform="rotate(90 506.50 169.00)">0.001</text>
<line x1="276.30" y1="276.30" x2="276.30" y2="378.00" stroke="#231f20" stroke-width="1.1"/>
<line x1="273.30" y1="377.50" x2="276.30" y2="377.50" stroke="#231f20" stroke-width="1.1"/>
<text x="271.10" y="380.25" font-size="7.9" font-weight="normal" fill="#231f20" stroke="#231f20" stroke-width="0.12" text-anchor="end" textLength="4.25" lengthAdjust="spacingAndGlyphs">0</text>
<line x1="273.30" y1="353.50" x2="276.30" y2="353.50" stroke="#231f20" stroke-width="1.1"/>
<text x="271.10" y="356.25" font-size="7.9" font-weight="normal" fill="#231f20" stroke="#231f20" stroke-width="0.12" text-anchor="end" textLength="4.25" lengthAdjust="spacingAndGlyphs">5</text>
<line x1="273.30" y1="329.50" x2="276.30" y2="329.50" stroke="#231f20" stroke-width="1.1"/>
<text x="271.10" y="332.25" font-size="7.9" font-weight="normal" fill="#231f20" stroke="#231f20" stroke-width="0.12" text-anchor="end" textLength="8.50" lengthAdjust="spacingAndGlyphs">10</text>
<line x1="273.30" y1="305.50" x2="276.30" y2="305.50" stroke="#231f20" stroke-width="1.1"/>
<text x="271.10" y="308.25" font-size="7.9" font-weight="normal" fill="#231f20" stroke="#231f20" stroke-width="0.12" text-anchor="end" textLength="8.50" lengthAdjust="spacingAndGlyphs">15</text>
<line x1="273.30" y1="281.50" x2="276.30" y2="281.50" stroke="#231f20" stroke-width="1.1"/>
<text x="271.10" y="284.25" font-size="7.9" font-weight="normal" fill="#231f20" stroke="#231f20" stroke-width="0.12" text-anchor="end" textLength="8.50" lengthAdjust="spacingAndGlyphs">20</text>
<line x1="275.80" y1="377.50" x2="342.00" y2="377.50" stroke="#231f20" stroke-width="1.1"/>
<line x1="294.90" y1="377.50" x2="294.90" y2="380.50" stroke="#231f20" stroke-width="1.1"/>
<line x1="323.20" y1="377.50" x2="323.20" y2="380.50" stroke="#231f20" stroke-width="1.1"/>
<text x="258.10" y="363.50" font-size="10.0" font-weight="normal" fill="#231f20" stroke="#231f20" stroke-width="0.12" text-anchor="start" textLength="70.20" lengthAdjust="spacingAndGlyphs" transform="rotate(-90 258.10 363.50)">Percent IFN-γ positive</text>
<text x="263.30" y="390.00" font-size="8.0" font-weight="normal" fill="#231f20" stroke="#231f20" stroke-width="0.12" text-anchor="start" textLength="17.10" lengthAdjust="spacingAndGlyphs">K562</text>
<text x="295.30" y="390.00" font-size="8.0" font-weight="normal" fill="#231f20" stroke="#231f20" stroke-width="0.12" text-anchor="middle">–</text>
<text x="323.00" y="390.60" font-size="7.0" font-weight="normal" fill="#231f20" stroke="#231f20" stroke-width="0.12" text-anchor="middle">+</text>
<text x="293.30" y="292.90" font-size="8.2" font-weight="normal" fill="#231f20" stroke="#231f20" stroke-width="0.12" text-anchor="start" textLength="15.00" lengthAdjust="spacingAndGlyphs">0.02</text>
<line x1="294.90" y1="344.86" x2="323.20" y2="288.22" stroke="#000" stroke-width="1.2"/>
<line x1="294.90" y1="373.66" x2="323.20" y2="295.90" stroke="#000" stroke-width="1.2"/>
<line x1="294.90" y1="363.82" x2="323.20" y2="331.42" stroke="#000" stroke-width="1.2"/>
<line x1="294.90" y1="367.42" x2="323.20" y2="336.70" stroke="#000" stroke-width="1.2"/>
<path d="M294.90 342.27 L297.30 346.59 L292.50 346.59 Z" fill="#c8102e"/>
<path d="M323.20 285.63 L325.60 289.95 L320.80 289.95 Z" fill="#15508c"/>
<path d="M294.90 371.07 L297.30 375.39 L292.50 375.39 Z" fill="#c8102e"/>
<path d="M323.20 293.31 L325.60 297.63 L320.80 297.63 Z" fill="#15508c"/>
<path d="M294.90 361.23 L297.30 365.55 L292.50 365.55 Z" fill="#c8102e"/>
<path d="M323.20 328.83 L325.60 333.15 L320.80 333.15 Z" fill="#15508c"/>
<path d="M294.90 364.83 L297.30 369.15 L292.50 369.15 Z" fill="#c8102e"/>
<path d="M323.20 334.11 L325.60 338.43 L320.80 338.43 Z" fill="#15508c"/>
<line x1="275.90" y1="405.30" x2="275.90" y2="508.00" stroke="#231f20" stroke-width="1.1"/>
<line x1="272.90" y1="507.50" x2="275.90" y2="507.50" stroke="#231f20" stroke-width="1.1"/>
<text x="271.10" y="510.25" font-size="7.9" font-weight="normal" fill="#231f20" stroke="#231f20" stroke-width="0.12" text-anchor="end" textLength="4.25" lengthAdjust="spacingAndGlyphs">0</text>
<line x1="272.90" y1="474.77" x2="275.90" y2="474.77" stroke="#231f20" stroke-width="1.1"/>
<text x="271.10" y="477.52" font-size="7.9" font-weight="normal" fill="#231f20" stroke="#231f20" stroke-width="0.12" text-anchor="end" textLength="8.50" lengthAdjust="spacingAndGlyphs">10</text>
<line x1="272.90" y1="442.04" x2="275.90" y2="442.04" stroke="#231f20" stroke-width="1.1"/>
<text x="271.10" y="444.79" font-size="7.9" font-weight="normal" fill="#231f20" stroke="#231f20" stroke-width="0.12" text-anchor="end" textLength="8.50" lengthAdjust="spacingAndGlyphs">20</text>
<line x1="272.90" y1="409.31" x2="275.90" y2="409.31" stroke="#231f20" stroke-width="1.1"/>
<text x="271.10" y="412.06" font-size="7.9" font-weight="normal" fill="#231f20" stroke="#231f20" stroke-width="0.12" text-anchor="end" textLength="8.50" lengthAdjust="spacingAndGlyphs">30</text>
<line x1="275.40" y1="507.50" x2="342.40" y2="507.50" stroke="#231f20" stroke-width="1.1"/>
<line x1="294.90" y1="507.50" x2="294.90" y2="510.50" stroke="#231f20" stroke-width="1.1"/>
<line x1="323.20" y1="507.50" x2="323.20" y2="510.50" stroke="#231f20" stroke-width="1.1"/>
<text x="258.80" y="496.30" font-size="10.0" font-weight="normal" fill="#231f20" stroke="#231f20" stroke-width="0.12" text-anchor="start" textLength="79.60" lengthAdjust="spacingAndGlyphs" transform="rotate(-90 258.80 496.30)">Percent CD107a positive</text>
<text x="263.00" y="519.90" font-size="8.0" font-weight="normal" fill="#231f20" stroke="#231f20" stroke-width="0.12" text-anchor="start" textLength="17.10" lengthAdjust="spacingAndGlyphs">K562</text>
<text x="295.30" y="519.90" font-size="8.0" font-weight="normal" fill="#231f20" stroke="#231f20" stroke-width="0.12" text-anchor="middle">–</text>
<text x="323.00" y="520.50" font-size="7.0" font-weight="normal" fill="#231f20" stroke="#231f20" stroke-width="0.12" text-anchor="middle">+</text>
<text x="293.20" y="416.30" font-size="8.2" font-weight="normal" fill="#231f20" stroke="#231f20" stroke-width="0.12" text-anchor="start" textLength="14.80" lengthAdjust="spacingAndGlyphs">0.04</text>
<line x1="294.90" y1="506.85" x2="323.20" y2="419.13" stroke="#000" stroke-width="1.2"/>
<line x1="294.90" y1="506.52" x2="323.20" y2="444.33" stroke="#000" stroke-width="1.2"/>
<line x1="294.90" y1="506.19" x2="323.20" y2="445.31" stroke="#000" stroke-width="1.2"/>
<line x1="294.90" y1="506.52" x2="323.20" y2="496.37" stroke="#000" stroke-width="1.2"/>
<path d="M294.90 504.25 L297.30 508.57 L292.50 508.57 Z" fill="#c8102e"/>
<path d="M323.20 416.54 L325.60 420.86 L320.80 420.86 Z" fill="#15508c"/>
<path d="M294.90 503.93 L297.30 508.25 L292.50 508.25 Z" fill="#c8102e"/>
<path d="M323.20 441.74 L325.60 446.06 L320.80 446.06 Z" fill="#15508c"/>
<path d="M294.90 503.60 L297.30 507.92 L292.50 507.92 Z" fill="#c8102e"/>
<path d="M323.20 442.72 L325.60 447.04 L320.80 447.04 Z" fill="#15508c"/>
<path d="M294.90 503.93 L297.30 508.25 L292.50 508.25 Z" fill="#c8102e"/>
<path d="M323.20 493.78 L325.60 498.10 L320.80 498.10 Z" fill="#15508c"/>
<line x1="408.80" y1="336.30" x2="408.80" y2="452.80" stroke="#231f20" stroke-width="1.1"/>
<line x1="405.80" y1="452.30" x2="408.80" y2="452.30" stroke="#231f20" stroke-width="1.1"/>
<text x="402.90" y="455.05" font-size="7.9" font-weight="normal" fill="#231f20" stroke="#231f20" stroke-width="0.12" text-anchor="end" textLength="4.25" lengthAdjust="spacingAndGlyphs">0</text>
<line x1="405.80" y1="424.40" x2="408.80" y2="424.40" stroke="#231f20" stroke-width="1.1"/>
<text x="402.90" y="427.15" font-size="7.9" font-weight="normal" fill="#231f20" stroke="#231f20" stroke-width="0.12" text-anchor="end" textLength="8.50" lengthAdjust="spacingAndGlyphs">10</text>
<line x1="405.80" y1="396.50" x2="408.80" y2="396.50" stroke="#231f20" stroke-width="1.1"/>
<text x="402.90" y="399.25" font-size="7.9" font-weight="normal" fill="#231f20" stroke="#231f20" stroke-width="0.12" text-anchor="end" textLength="8.50" lengthAdjust="spacingAndGlyphs">20</text>
<line x1="405.80" y1="368.60" x2="408.80" y2="368.60" stroke="#231f20" stroke-width="1.1"/>
<text x="402.90" y="371.35" font-size="7.9" font-weight="normal" fill="#231f20" stroke="#231f20" stroke-width="0.12" text-anchor="end" textLength="8.50" lengthAdjust="spacingAndGlyphs">30</text>
<line x1="405.80" y1="340.70" x2="408.80" y2="340.70" stroke="#231f20" stroke-width="1.1"/>
<text x="402.90" y="343.45" font-size="7.9" font-weight="normal" fill="#231f20" stroke="#231f20" stroke-width="0.12" text-anchor="end" textLength="8.50" lengthAdjust="spacingAndGlyphs">40</text>
<line x1="408.30" y1="452.30" x2="483.80" y2="452.30" stroke="#231f20" stroke-width="1.1"/>
<line x1="430.00" y1="452.30" x2="430.00" y2="455.30" stroke="#231f20" stroke-width="1.1"/>
<line x1="461.80" y1="452.30" x2="461.80" y2="455.30" stroke="#231f20" stroke-width="1.1"/>
<text x="388.30" y="436.90" font-size="10.0" font-weight="normal" fill="#231f20" stroke="#231f20" stroke-width="0.12" text-anchor="start" textLength="79.40" lengthAdjust="spacingAndGlyphs" transform="rotate(-90 388.30 436.90)">Percent CD107a positive</text>
<text x="423.30" y="464.90" font-size="8.4" font-weight="normal" fill="#15508c" stroke="#15508c" stroke-width="0.12" text-anchor="start" textLength="13.70" lengthAdjust="spacingAndGlyphs">Dim</text>
<text x="456.70" y="464.90" font-size="8.4" font-weight="normal" fill="#3cb54a" stroke="#3cb54a" stroke-width="0.12" text-anchor="start" textLength="10.60" lengthAdjust="spacingAndGlyphs">ML</text>
<text x="430.60" y="356.00" font-size="8.2" font-weight="normal" fill="#231f20" stroke="#231f20" stroke-width="0.12" text-anchor="start" textLength="18.60" lengthAdjust="spacingAndGlyphs">0.001</text>
<line x1="430.00" y1="404.87" x2="461.80" y2="369.72" stroke="#000" stroke-width="1.2"/>
<line x1="430.00" y1="412.40" x2="461.80" y2="369.72" stroke="#000" stroke-width="1.2"/>
<line x1="430.00" y1="423.00" x2="461.80" y2="381.71" stroke="#000" stroke-width="1.2"/>
<line x1="430.00" y1="446.16" x2="461.80" y2="404.87" stroke="#000" stroke-width="1.2"/>
<circle cx="430.00" cy="404.87" r="3.00" fill="#15508c"/>
<rect x="459.00" y="366.92" width="5.60" height="5.60" fill="#3cb54a" stroke="none" stroke-width="1"/>
<circle cx="430.00" cy="412.40" r="3.00" fill="#15508c"/>
<rect x="459.00" y="366.92" width="5.60" height="5.60" fill="#3cb54a" stroke="none" stroke-width="1"/>
<circle cx="430.00" cy="423.00" r="3.00" fill="#15508c"/>
<rect x="459.00" y="378.91" width="5.60" height="5.60" fill="#3cb54a" stroke="none" stroke-width="1"/>
<circle cx="430.00" cy="446.16" r="3.00" fill="#15508c"/>
<rect x="459.00" y="402.07" width="5.60" height="5.60" fill="#3cb54a" stroke="none" stroke-width="1"/>
<rect x="0.5" y="0.5" width="519" height="527" fill="none" stroke="#000" stroke-width="1"/>
</svg>
</body></html>
